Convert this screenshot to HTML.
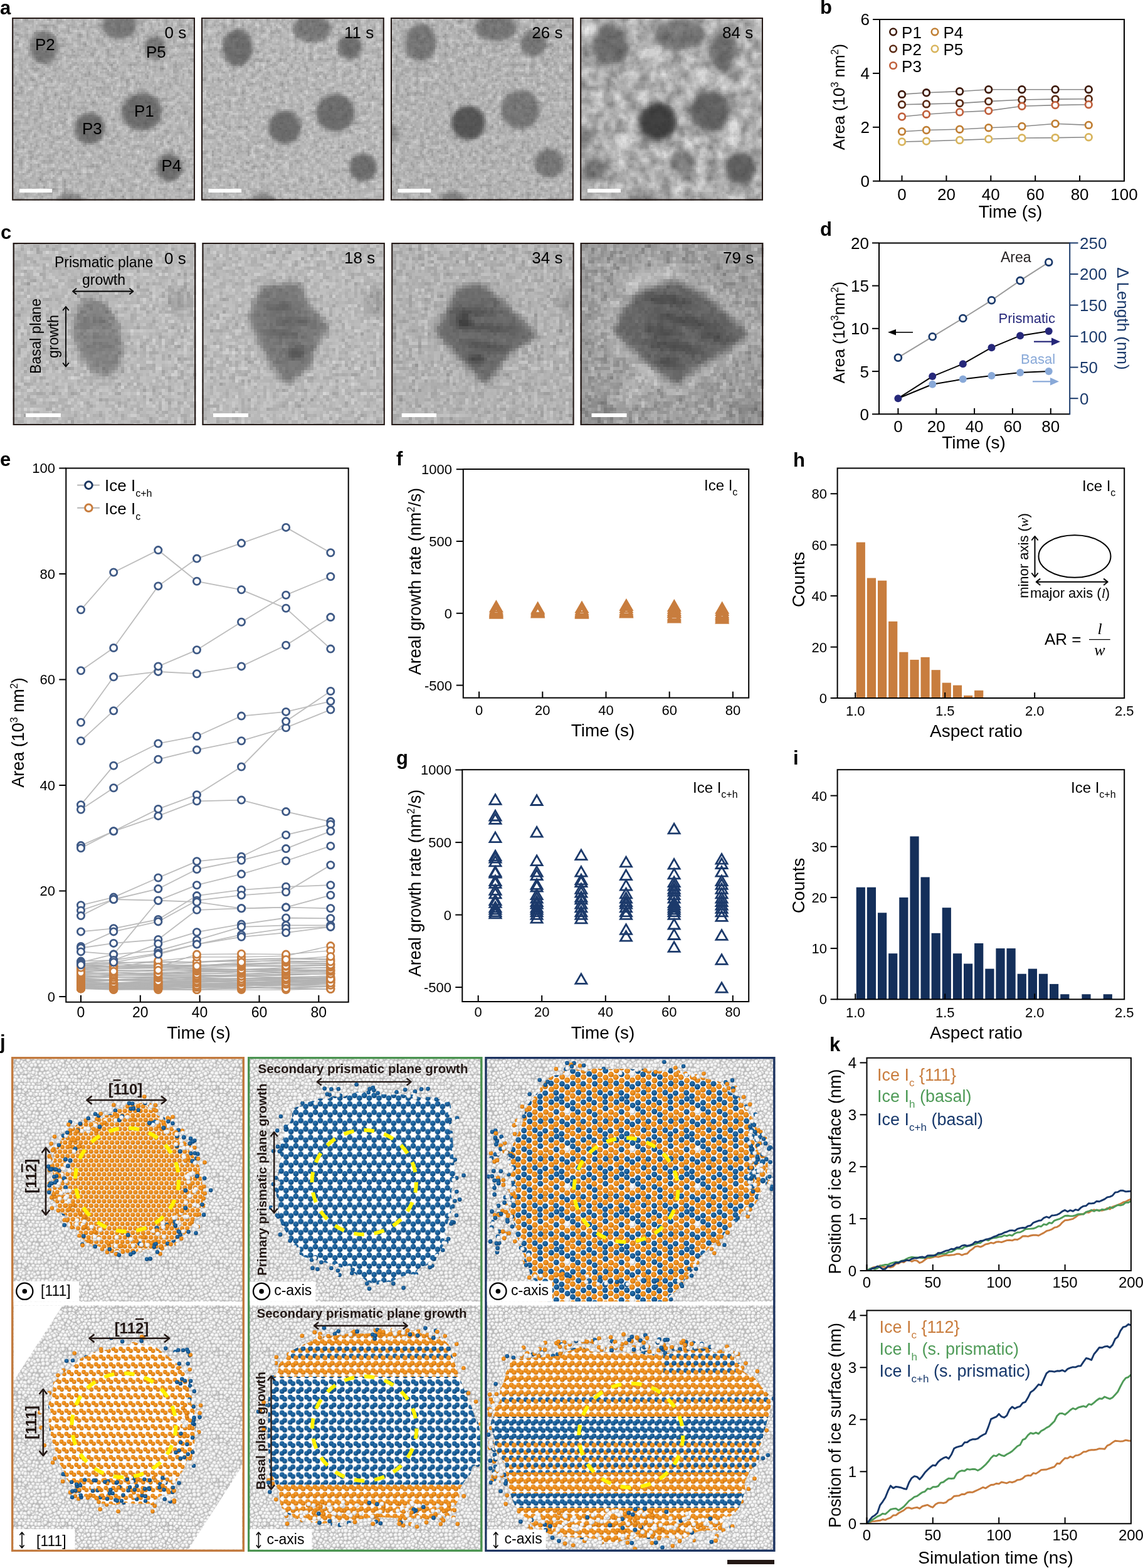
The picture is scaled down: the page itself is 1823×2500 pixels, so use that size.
<!DOCTYPE html>
<html><head><meta charset="utf-8"><title>Figure</title>
<style>
html,body{margin:0;padding:0;background:#fff;}
svg{display:block;font-family:'Liberation Sans', Arial, Helvetica, sans-serif;}
</style></head><body>
<svg width="1823" height="2500" viewBox="0 0 1823 2500">
<defs>
<clipPath id="tc0"><rect x="19.2" y="28" width="291.8" height="291.5"/></clipPath>
<filter id="tn0" x="0" y="0" width="100%" height="100%" color-interpolation-filters="sRGB"><feTurbulence type="fractalNoise" baseFrequency="0.13" numOctaves="2" seed="1"/><feColorMatrix type="matrix" values="0.3 0 0 0 0.575  0.3 0 0 0 0.575  0.3 0 0 0 0.575  0 0 0 0 1"/></filter>
<filter id="tb0" x="-20%" y="-20%" width="140%" height="140%"><feGaussianBlur stdDeviation="3"/></filter>
<filter id="ta0" x="0" y="0" width="100%" height="100%" color-interpolation-filters="sRGB"><feTurbulence type="fractalNoise" baseFrequency="0.16" numOctaves="2" seed="5"/><feColorMatrix type="matrix" values="0 0 0 0 0  0 0 0 0 0  0 0 0 0 0  1.1 0 0 0 -0.495"/></filter>
<filter id="tp0" x="19" y="28" width="293" height="293" filterUnits="userSpaceOnUse" color-interpolation-filters="sRGB"><feFlood x="19" y="28" width="1" height="1" flood-color="#000"/><feComposite width="3" height="3"/><feTile result="a"/><feComposite in="SourceGraphic" in2="a" operator="in"/><feMorphology operator="dilate" radius="1"/><feGaussianBlur stdDeviation="0.6"/></filter>
<clipPath id="tc1"><rect x="321" y="28" width="291.8" height="291.5"/></clipPath>
<filter id="tn1" x="0" y="0" width="100%" height="100%" color-interpolation-filters="sRGB"><feTurbulence type="fractalNoise" baseFrequency="0.13" numOctaves="2" seed="8"/><feColorMatrix type="matrix" values="0.3 0 0 0 0.580  0.3 0 0 0 0.580  0.3 0 0 0 0.580  0 0 0 0 1"/></filter>
<filter id="tb1" x="-20%" y="-20%" width="140%" height="140%"><feGaussianBlur stdDeviation="3"/></filter>
<filter id="ta1" x="0" y="0" width="100%" height="100%" color-interpolation-filters="sRGB"><feTurbulence type="fractalNoise" baseFrequency="0.16" numOctaves="2" seed="18"/><feColorMatrix type="matrix" values="0 0 0 0 0  0 0 0 0 0  0 0 0 0 0  1.1 0 0 0 -0.495"/></filter>
<filter id="tp1" x="321" y="28" width="293" height="293" filterUnits="userSpaceOnUse" color-interpolation-filters="sRGB"><feFlood x="321" y="28" width="1" height="1" flood-color="#000"/><feComposite width="3" height="3"/><feTile result="a"/><feComposite in="SourceGraphic" in2="a" operator="in"/><feMorphology operator="dilate" radius="1"/><feGaussianBlur stdDeviation="0.6"/></filter>
<clipPath id="tc2"><rect x="623" y="28" width="291.8" height="291.5"/></clipPath>
<filter id="tn2" x="0" y="0" width="100%" height="100%" color-interpolation-filters="sRGB"><feTurbulence type="fractalNoise" baseFrequency="0.13" numOctaves="2" seed="15"/><feColorMatrix type="matrix" values="0.3 0 0 0 0.565  0.3 0 0 0 0.565  0.3 0 0 0 0.565  0 0 0 0 1"/></filter>
<filter id="tb2" x="-20%" y="-20%" width="140%" height="140%"><feGaussianBlur stdDeviation="3"/></filter>
<filter id="ta2" x="0" y="0" width="100%" height="100%" color-interpolation-filters="sRGB"><feTurbulence type="fractalNoise" baseFrequency="0.16" numOctaves="2" seed="31"/><feColorMatrix type="matrix" values="0 0 0 0 0  0 0 0 0 0  0 0 0 0 0  1.1 0 0 0 -0.495"/></filter>
<filter id="tp2" x="623" y="28" width="293" height="293" filterUnits="userSpaceOnUse" color-interpolation-filters="sRGB"><feFlood x="623" y="28" width="1" height="1" flood-color="#000"/><feComposite width="3" height="3"/><feTile result="a"/><feComposite in="SourceGraphic" in2="a" operator="in"/><feMorphology operator="dilate" radius="1"/><feGaussianBlur stdDeviation="0.6"/></filter>
<clipPath id="tc3"><rect x="925.2" y="28" width="291.8" height="291.5"/></clipPath>
<filter id="tn3" x="0" y="0" width="100%" height="100%" color-interpolation-filters="sRGB"><feTurbulence type="fractalNoise" baseFrequency="0.055" numOctaves="2" seed="22"/><feColorMatrix type="matrix" values="0.5 0 0 0 0.445  0.5 0 0 0 0.445  0.5 0 0 0 0.445  0 0 0 0 1"/></filter>
<filter id="tb3" x="-20%" y="-20%" width="140%" height="140%"><feGaussianBlur stdDeviation="4"/></filter>
<filter id="ta3" x="0" y="0" width="100%" height="100%" color-interpolation-filters="sRGB"><feTurbulence type="fractalNoise" baseFrequency="0.16" numOctaves="2" seed="44"/><feColorMatrix type="matrix" values="0 0 0 0 0  0 0 0 0 0  0 0 0 0 0  1.1 0 0 0 -0.495"/></filter>
<filter id="tp3" x="925" y="28" width="293" height="293" filterUnits="userSpaceOnUse" color-interpolation-filters="sRGB"><feFlood x="925" y="28" width="1" height="1" flood-color="#000"/><feComposite width="3" height="3"/><feTile result="a"/><feComposite in="SourceGraphic" in2="a" operator="in"/><feMorphology operator="dilate" radius="1"/><feGaussianBlur stdDeviation="0.6"/></filter>
<clipPath id="tc10"><rect x="20.8" y="387" width="291.3" height="291"/></clipPath>
<filter id="tn10" x="0" y="0" width="100%" height="100%" color-interpolation-filters="sRGB"><feTurbulence type="fractalNoise" baseFrequency="0.12" numOctaves="2" seed="71"/><feColorMatrix type="matrix" values="0.3 0 0 0 0.595  0.3 0 0 0 0.595  0.3 0 0 0 0.595  0 0 0 0 1"/></filter>
<filter id="tb10" x="-20%" y="-20%" width="140%" height="140%"><feGaussianBlur stdDeviation="5"/></filter>
<filter id="ta10" x="0" y="0" width="100%" height="100%" color-interpolation-filters="sRGB"><feTurbulence type="fractalNoise" baseFrequency="0.16" numOctaves="2" seed="135"/><feColorMatrix type="matrix" values="0 0 0 0 0  0 0 0 0 0  0 0 0 0 0  1.1 0 0 0 -0.495"/></filter>
<filter id="tp10" x="20" y="387" width="293" height="293" filterUnits="userSpaceOnUse" color-interpolation-filters="sRGB"><feFlood x="20" y="387" width="1" height="1" flood-color="#000"/><feComposite width="5" height="5"/><feTile result="a"/><feComposite in="SourceGraphic" in2="a" operator="in"/><feMorphology operator="dilate" radius="2"/><feGaussianBlur stdDeviation="0.6"/></filter>
<clipPath id="tc11"><rect x="322.5" y="387" width="291.3" height="291"/></clipPath>
<filter id="tn11" x="0" y="0" width="100%" height="100%" color-interpolation-filters="sRGB"><feTurbulence type="fractalNoise" baseFrequency="0.12" numOctaves="2" seed="78"/><feColorMatrix type="matrix" values="0.3 0 0 0 0.595  0.3 0 0 0 0.595  0.3 0 0 0 0.595  0 0 0 0 1"/></filter>
<filter id="tb11" x="-20%" y="-20%" width="140%" height="140%"><feGaussianBlur stdDeviation="5"/></filter>
<filter id="ta11" x="0" y="0" width="100%" height="100%" color-interpolation-filters="sRGB"><feTurbulence type="fractalNoise" baseFrequency="0.16" numOctaves="2" seed="148"/><feColorMatrix type="matrix" values="0 0 0 0 0  0 0 0 0 0  0 0 0 0 0  1.1 0 0 0 -0.495"/></filter>
<filter id="tp11" x="322" y="387" width="293" height="293" filterUnits="userSpaceOnUse" color-interpolation-filters="sRGB"><feFlood x="322" y="387" width="1" height="1" flood-color="#000"/><feComposite width="5" height="5"/><feTile result="a"/><feComposite in="SourceGraphic" in2="a" operator="in"/><feMorphology operator="dilate" radius="2"/><feGaussianBlur stdDeviation="0.6"/></filter>
<clipPath id="tc12"><rect x="624.3" y="387" width="291.3" height="291"/></clipPath>
<filter id="tn12" x="0" y="0" width="100%" height="100%" color-interpolation-filters="sRGB"><feTurbulence type="fractalNoise" baseFrequency="0.12" numOctaves="2" seed="85"/><feColorMatrix type="matrix" values="0.3 0 0 0 0.565  0.3 0 0 0 0.565  0.3 0 0 0 0.565  0 0 0 0 1"/></filter>
<filter id="tb12" x="-20%" y="-20%" width="140%" height="140%"><feGaussianBlur stdDeviation="5"/></filter>
<filter id="ta12" x="0" y="0" width="100%" height="100%" color-interpolation-filters="sRGB"><feTurbulence type="fractalNoise" baseFrequency="0.16" numOctaves="2" seed="161"/><feColorMatrix type="matrix" values="0 0 0 0 0  0 0 0 0 0  0 0 0 0 0  1.1 0 0 0 -0.495"/></filter>
<filter id="tp12" x="624" y="387" width="293" height="293" filterUnits="userSpaceOnUse" color-interpolation-filters="sRGB"><feFlood x="624" y="387" width="1" height="1" flood-color="#000"/><feComposite width="5" height="5"/><feTile result="a"/><feComposite in="SourceGraphic" in2="a" operator="in"/><feMorphology operator="dilate" radius="2"/><feGaussianBlur stdDeviation="0.6"/></filter>
<clipPath id="tc13"><rect x="925.8" y="387" width="291.3" height="291"/></clipPath>
<filter id="tn13" x="0" y="0" width="100%" height="100%" color-interpolation-filters="sRGB"><feTurbulence type="fractalNoise" baseFrequency="0.1" numOctaves="2" seed="92"/><feColorMatrix type="matrix" values="0.4 0 0 0 0.435  0.4 0 0 0 0.435  0.4 0 0 0 0.435  0 0 0 0 1"/></filter>
<filter id="tb13" x="-20%" y="-20%" width="140%" height="140%"><feGaussianBlur stdDeviation="6"/></filter>
<filter id="ta13" x="0" y="0" width="100%" height="100%" color-interpolation-filters="sRGB"><feTurbulence type="fractalNoise" baseFrequency="0.16" numOctaves="2" seed="174"/><feColorMatrix type="matrix" values="0 0 0 0 0  0 0 0 0 0  0 0 0 0 0  1.1 0 0 0 -0.495"/></filter>
<filter id="tp13" x="925" y="387" width="293" height="293" filterUnits="userSpaceOnUse" color-interpolation-filters="sRGB"><feFlood x="925" y="387" width="1" height="1" flood-color="#000"/><feComposite width="5" height="5"/><feTile result="a"/><feComposite in="SourceGraphic" in2="a" operator="in"/><feMorphology operator="dilate" radius="2"/><feGaussianBlur stdDeviation="0.6"/></filter>
<radialGradient id="gW" cx="0.42" cy="0.38" r="0.62"><stop offset="0" stop-color="#ffffff"/><stop offset="0.55" stop-color="#eeeeee"/><stop offset="0.85" stop-color="#d6d6d6"/><stop offset="1" stop-color="#bdbdbd"/></radialGradient>
<radialGradient id="gO" cx="0.42" cy="0.38" r="0.62"><stop offset="0" stop-color="#f6a23a"/><stop offset="0.6" stop-color="#ea8712"/><stop offset="0.88" stop-color="#cf760e"/><stop offset="1" stop-color="#a5631f"/></radialGradient>
<radialGradient id="gB" cx="0.42" cy="0.38" r="0.62"><stop offset="0" stop-color="#2f78b0"/><stop offset="0.6" stop-color="#135894"/><stop offset="0.88" stop-color="#0e4a80"/><stop offset="1" stop-color="#0b3a66"/></radialGradient>
<radialGradient id="gWs" cx="0.42" cy="0.38" r="0.62"><stop offset="0" stop-color="#ffffff"/><stop offset="0.6" stop-color="#eeeeee"/><stop offset="1" stop-color="#b0b0b0"/></radialGradient>
<pattern id="pW" width="80.4" height="69.6" patternUnits="userSpaceOnUse"><rect width="80.4" height="69.6" fill="#c2c2c2"/><circle cx="-0.1" cy="0.2" r="4.1" fill="url(#gW)" stroke="#9c9c9c" stroke-width="0.55"/><circle cx="-0.1" cy="69.8" r="4.1" fill="url(#gW)" stroke="#9c9c9c" stroke-width="0.55"/><circle cx="80.3" cy="0.2" r="4.1" fill="url(#gW)" stroke="#9c9c9c" stroke-width="0.55"/><circle cx="80.3" cy="69.8" r="4.1" fill="url(#gW)" stroke="#9c9c9c" stroke-width="0.55"/><circle cx="6.6" cy="0" r="3.9" fill="url(#gW)" stroke="#9c9c9c" stroke-width="0.55"/><circle cx="6.6" cy="69.6" r="3.9" fill="url(#gW)" stroke="#9c9c9c" stroke-width="0.55"/><circle cx="12.6" cy="0" r="3.9" fill="url(#gW)" stroke="#9c9c9c" stroke-width="0.55"/><circle cx="12.6" cy="69.7" r="3.9" fill="url(#gW)" stroke="#9c9c9c" stroke-width="0.55"/><circle cx="20.9" cy="-1.1" r="3.7" fill="url(#gW)" stroke="#9c9c9c" stroke-width="0.55"/><circle cx="20.9" cy="68.6" r="3.7" fill="url(#gW)" stroke="#9c9c9c" stroke-width="0.55"/><circle cx="25.7" cy="0.8" r="3.9" fill="url(#gW)" stroke="#9c9c9c" stroke-width="0.55"/><circle cx="25.7" cy="70.4" r="3.9" fill="url(#gW)" stroke="#9c9c9c" stroke-width="0.55"/><circle cx="32.3" cy="1.3" r="4.1" fill="url(#gW)" stroke="#9c9c9c" stroke-width="0.55"/><circle cx="32.3" cy="70.9" r="4.1" fill="url(#gW)" stroke="#9c9c9c" stroke-width="0.55"/><circle cx="40.6" cy="0.3" r="3.6" fill="url(#gW)" stroke="#9c9c9c" stroke-width="0.55"/><circle cx="40.6" cy="69.9" r="3.6" fill="url(#gW)" stroke="#9c9c9c" stroke-width="0.55"/><circle cx="45.6" cy="0.1" r="3.5" fill="url(#gW)" stroke="#9c9c9c" stroke-width="0.55"/><circle cx="45.6" cy="69.7" r="3.5" fill="url(#gW)" stroke="#9c9c9c" stroke-width="0.55"/><circle cx="52.8" cy="-0.7" r="3.5" fill="url(#gW)" stroke="#9c9c9c" stroke-width="0.55"/><circle cx="52.8" cy="69" r="3.5" fill="url(#gW)" stroke="#9c9c9c" stroke-width="0.55"/><circle cx="60.2" cy="-0.2" r="4" fill="url(#gW)" stroke="#9c9c9c" stroke-width="0.55"/><circle cx="60.2" cy="69.5" r="4" fill="url(#gW)" stroke="#9c9c9c" stroke-width="0.55"/><circle cx="67" cy="0.4" r="3.8" fill="url(#gW)" stroke="#9c9c9c" stroke-width="0.55"/><circle cx="67" cy="70" r="3.8" fill="url(#gW)" stroke="#9c9c9c" stroke-width="0.55"/><circle cx="74.1" cy="-0.1" r="3.7" fill="url(#gW)" stroke="#9c9c9c" stroke-width="0.55"/><circle cx="74.1" cy="69.5" r="3.7" fill="url(#gW)" stroke="#9c9c9c" stroke-width="0.55"/><circle cx="4.6" cy="7.1" r="4" fill="url(#gW)" stroke="#9c9c9c" stroke-width="0.55"/><circle cx="10.6" cy="5.3" r="3.6" fill="url(#gW)" stroke="#9c9c9c" stroke-width="0.55"/><circle cx="16.2" cy="4.7" r="4" fill="url(#gW)" stroke="#9c9c9c" stroke-width="0.55"/><circle cx="23.2" cy="6.7" r="3.7" fill="url(#gW)" stroke="#9c9c9c" stroke-width="0.55"/><circle cx="31.3" cy="6.7" r="3.5" fill="url(#gW)" stroke="#9c9c9c" stroke-width="0.55"/><circle cx="36.1" cy="6.9" r="3.8" fill="url(#gW)" stroke="#9c9c9c" stroke-width="0.55"/><circle cx="44.8" cy="5.5" r="3.5" fill="url(#gW)" stroke="#9c9c9c" stroke-width="0.55"/><circle cx="50.6" cy="6.5" r="3.7" fill="url(#gW)" stroke="#9c9c9c" stroke-width="0.55"/><circle cx="55.9" cy="5.4" r="4.1" fill="url(#gW)" stroke="#9c9c9c" stroke-width="0.55"/><circle cx="64.3" cy="4.8" r="3.6" fill="url(#gW)" stroke="#9c9c9c" stroke-width="0.55"/><circle cx="69.3" cy="4.7" r="4" fill="url(#gW)" stroke="#9c9c9c" stroke-width="0.55"/><circle cx="76.2" cy="6" r="3.8" fill="url(#gW)" stroke="#9c9c9c" stroke-width="0.55"/><circle cx="-0.8" cy="12.2" r="3.6" fill="url(#gW)" stroke="#9c9c9c" stroke-width="0.55"/><circle cx="79.6" cy="12.2" r="3.6" fill="url(#gW)" stroke="#9c9c9c" stroke-width="0.55"/><circle cx="7.1" cy="10.6" r="3.8" fill="url(#gW)" stroke="#9c9c9c" stroke-width="0.55"/><circle cx="12.7" cy="11" r="4.1" fill="url(#gW)" stroke="#9c9c9c" stroke-width="0.55"/><circle cx="20.9" cy="11.1" r="4" fill="url(#gW)" stroke="#9c9c9c" stroke-width="0.55"/><circle cx="26" cy="11.3" r="4" fill="url(#gW)" stroke="#9c9c9c" stroke-width="0.55"/><circle cx="33.9" cy="10.6" r="4.1" fill="url(#gW)" stroke="#9c9c9c" stroke-width="0.55"/><circle cx="39.5" cy="11" r="4" fill="url(#gW)" stroke="#9c9c9c" stroke-width="0.55"/><circle cx="46.5" cy="11.1" r="3.5" fill="url(#gW)" stroke="#9c9c9c" stroke-width="0.55"/><circle cx="52.5" cy="11.8" r="3.6" fill="url(#gW)" stroke="#9c9c9c" stroke-width="0.55"/><circle cx="60.6" cy="11.3" r="3.8" fill="url(#gW)" stroke="#9c9c9c" stroke-width="0.55"/><circle cx="68.2" cy="11.6" r="3.8" fill="url(#gW)" stroke="#9c9c9c" stroke-width="0.55"/><circle cx="74.7" cy="10.8" r="3.6" fill="url(#gW)" stroke="#9c9c9c" stroke-width="0.55"/><circle cx="4.4" cy="18.2" r="3.6" fill="url(#gW)" stroke="#9c9c9c" stroke-width="0.55"/><circle cx="9.2" cy="18" r="4.1" fill="url(#gW)" stroke="#9c9c9c" stroke-width="0.55"/><circle cx="16" cy="18.6" r="4" fill="url(#gW)" stroke="#9c9c9c" stroke-width="0.55"/><circle cx="23.7" cy="17.2" r="3.6" fill="url(#gW)" stroke="#9c9c9c" stroke-width="0.55"/><circle cx="29" cy="18.6" r="3.6" fill="url(#gW)" stroke="#9c9c9c" stroke-width="0.55"/><circle cx="37.4" cy="16.8" r="4" fill="url(#gW)" stroke="#9c9c9c" stroke-width="0.55"/><circle cx="43.8" cy="16.9" r="3.6" fill="url(#gW)" stroke="#9c9c9c" stroke-width="0.55"/><circle cx="50.8" cy="16.3" r="3.6" fill="url(#gW)" stroke="#9c9c9c" stroke-width="0.55"/><circle cx="57.1" cy="18.3" r="3.9" fill="url(#gW)" stroke="#9c9c9c" stroke-width="0.55"/><circle cx="63.1" cy="18.5" r="3.6" fill="url(#gW)" stroke="#9c9c9c" stroke-width="0.55"/><circle cx="69.1" cy="16.8" r="3.8" fill="url(#gW)" stroke="#9c9c9c" stroke-width="0.55"/><circle cx="75.9" cy="16.6" r="3.7" fill="url(#gW)" stroke="#9c9c9c" stroke-width="0.55"/><circle cx="0.2" cy="22.3" r="3.7" fill="url(#gW)" stroke="#9c9c9c" stroke-width="0.55"/><circle cx="80.6" cy="22.3" r="3.7" fill="url(#gW)" stroke="#9c9c9c" stroke-width="0.55"/><circle cx="7.7" cy="24.5" r="3.9" fill="url(#gW)" stroke="#9c9c9c" stroke-width="0.55"/><circle cx="13.9" cy="23.4" r="3.6" fill="url(#gW)" stroke="#9c9c9c" stroke-width="0.55"/><circle cx="18.9" cy="22" r="4" fill="url(#gW)" stroke="#9c9c9c" stroke-width="0.55"/><circle cx="27.3" cy="24.4" r="3.5" fill="url(#gW)" stroke="#9c9c9c" stroke-width="0.55"/><circle cx="33.9" cy="23.2" r="3.9" fill="url(#gW)" stroke="#9c9c9c" stroke-width="0.55"/><circle cx="39.7" cy="24.5" r="3.5" fill="url(#gW)" stroke="#9c9c9c" stroke-width="0.55"/><circle cx="47" cy="23.8" r="4" fill="url(#gW)" stroke="#9c9c9c" stroke-width="0.55"/><circle cx="54.2" cy="23.7" r="4" fill="url(#gW)" stroke="#9c9c9c" stroke-width="0.55"/><circle cx="61.4" cy="22.8" r="3.9" fill="url(#gW)" stroke="#9c9c9c" stroke-width="0.55"/><circle cx="68" cy="24.2" r="3.8" fill="url(#gW)" stroke="#9c9c9c" stroke-width="0.55"/><circle cx="74.5" cy="24.2" r="3.8" fill="url(#gW)" stroke="#9c9c9c" stroke-width="0.55"/><circle cx="3.7" cy="28.7" r="3.8" fill="url(#gW)" stroke="#9c9c9c" stroke-width="0.55"/><circle cx="84.1" cy="28.7" r="3.8" fill="url(#gW)" stroke="#9c9c9c" stroke-width="0.55"/><circle cx="10.3" cy="27.9" r="3.9" fill="url(#gW)" stroke="#9c9c9c" stroke-width="0.55"/><circle cx="18" cy="30" r="3.9" fill="url(#gW)" stroke="#9c9c9c" stroke-width="0.55"/><circle cx="23.2" cy="29.6" r="3.8" fill="url(#gW)" stroke="#9c9c9c" stroke-width="0.55"/><circle cx="30" cy="29.9" r="3.6" fill="url(#gW)" stroke="#9c9c9c" stroke-width="0.55"/><circle cx="37.5" cy="27.8" r="3.9" fill="url(#gW)" stroke="#9c9c9c" stroke-width="0.55"/><circle cx="43.5" cy="28.3" r="3.9" fill="url(#gW)" stroke="#9c9c9c" stroke-width="0.55"/><circle cx="50.2" cy="29.3" r="4.1" fill="url(#gW)" stroke="#9c9c9c" stroke-width="0.55"/><circle cx="56.3" cy="27.7" r="3.7" fill="url(#gW)" stroke="#9c9c9c" stroke-width="0.55"/><circle cx="64.1" cy="28.2" r="3.6" fill="url(#gW)" stroke="#9c9c9c" stroke-width="0.55"/><circle cx="71.4" cy="29.4" r="3.8" fill="url(#gW)" stroke="#9c9c9c" stroke-width="0.55"/><circle cx="-2.3" cy="28.6" r="3.9" fill="url(#gW)" stroke="#9c9c9c" stroke-width="0.55"/><circle cx="78.1" cy="28.6" r="3.9" fill="url(#gW)" stroke="#9c9c9c" stroke-width="0.55"/><circle cx="-0.8" cy="34.6" r="4" fill="url(#gW)" stroke="#9c9c9c" stroke-width="0.55"/><circle cx="79.6" cy="34.6" r="4" fill="url(#gW)" stroke="#9c9c9c" stroke-width="0.55"/><circle cx="7.8" cy="35.8" r="3.7" fill="url(#gW)" stroke="#9c9c9c" stroke-width="0.55"/><circle cx="13.6" cy="34.3" r="3.6" fill="url(#gW)" stroke="#9c9c9c" stroke-width="0.55"/><circle cx="20.1" cy="35.7" r="4" fill="url(#gW)" stroke="#9c9c9c" stroke-width="0.55"/><circle cx="27.3" cy="36" r="3.7" fill="url(#gW)" stroke="#9c9c9c" stroke-width="0.55"/><circle cx="32.6" cy="34.7" r="3.7" fill="url(#gW)" stroke="#9c9c9c" stroke-width="0.55"/><circle cx="39.5" cy="34.6" r="3.9" fill="url(#gW)" stroke="#9c9c9c" stroke-width="0.55"/><circle cx="46.9" cy="34.3" r="4" fill="url(#gW)" stroke="#9c9c9c" stroke-width="0.55"/><circle cx="54.9" cy="34.7" r="3.5" fill="url(#gW)" stroke="#9c9c9c" stroke-width="0.55"/><circle cx="59.1" cy="35.8" r="3.5" fill="url(#gW)" stroke="#9c9c9c" stroke-width="0.55"/><circle cx="67.5" cy="35" r="3.7" fill="url(#gW)" stroke="#9c9c9c" stroke-width="0.55"/><circle cx="74.5" cy="33.6" r="3.6" fill="url(#gW)" stroke="#9c9c9c" stroke-width="0.55"/><circle cx="3.2" cy="39.4" r="4" fill="url(#gW)" stroke="#9c9c9c" stroke-width="0.55"/><circle cx="83.6" cy="39.4" r="4" fill="url(#gW)" stroke="#9c9c9c" stroke-width="0.55"/><circle cx="9.4" cy="39.7" r="3.5" fill="url(#gW)" stroke="#9c9c9c" stroke-width="0.55"/><circle cx="17.1" cy="40.5" r="3.9" fill="url(#gW)" stroke="#9c9c9c" stroke-width="0.55"/><circle cx="23.9" cy="41.4" r="4.1" fill="url(#gW)" stroke="#9c9c9c" stroke-width="0.55"/><circle cx="30.6" cy="39.8" r="3.8" fill="url(#gW)" stroke="#9c9c9c" stroke-width="0.55"/><circle cx="36" cy="39.3" r="3.8" fill="url(#gW)" stroke="#9c9c9c" stroke-width="0.55"/><circle cx="44.1" cy="39.8" r="3.7" fill="url(#gW)" stroke="#9c9c9c" stroke-width="0.55"/><circle cx="49.8" cy="41.1" r="3.8" fill="url(#gW)" stroke="#9c9c9c" stroke-width="0.55"/><circle cx="57.2" cy="41.3" r="3.7" fill="url(#gW)" stroke="#9c9c9c" stroke-width="0.55"/><circle cx="64.4" cy="41.7" r="3.6" fill="url(#gW)" stroke="#9c9c9c" stroke-width="0.55"/><circle cx="71.5" cy="41.2" r="3.6" fill="url(#gW)" stroke="#9c9c9c" stroke-width="0.55"/><circle cx="-3.5" cy="40.9" r="4" fill="url(#gW)" stroke="#9c9c9c" stroke-width="0.55"/><circle cx="76.9" cy="40.9" r="4" fill="url(#gW)" stroke="#9c9c9c" stroke-width="0.55"/><circle cx="-0.3" cy="46.6" r="4" fill="url(#gW)" stroke="#9c9c9c" stroke-width="0.55"/><circle cx="80.1" cy="46.6" r="4" fill="url(#gW)" stroke="#9c9c9c" stroke-width="0.55"/><circle cx="7.5" cy="47.6" r="3.8" fill="url(#gW)" stroke="#9c9c9c" stroke-width="0.55"/><circle cx="13.8" cy="45.7" r="3.9" fill="url(#gW)" stroke="#9c9c9c" stroke-width="0.55"/><circle cx="20.9" cy="46.8" r="3.9" fill="url(#gW)" stroke="#9c9c9c" stroke-width="0.55"/><circle cx="26.1" cy="47.5" r="4.1" fill="url(#gW)" stroke="#9c9c9c" stroke-width="0.55"/><circle cx="34.7" cy="46.5" r="4" fill="url(#gW)" stroke="#9c9c9c" stroke-width="0.55"/><circle cx="39.7" cy="47.5" r="4" fill="url(#gW)" stroke="#9c9c9c" stroke-width="0.55"/><circle cx="46.5" cy="45.3" r="3.8" fill="url(#gW)" stroke="#9c9c9c" stroke-width="0.55"/><circle cx="53.7" cy="47.1" r="3.8" fill="url(#gW)" stroke="#9c9c9c" stroke-width="0.55"/><circle cx="59.1" cy="47.2" r="3.5" fill="url(#gW)" stroke="#9c9c9c" stroke-width="0.55"/><circle cx="67.8" cy="45.6" r="3.7" fill="url(#gW)" stroke="#9c9c9c" stroke-width="0.55"/><circle cx="74.4" cy="45.5" r="3.6" fill="url(#gW)" stroke="#9c9c9c" stroke-width="0.55"/><circle cx="3.4" cy="52.8" r="4" fill="url(#gW)" stroke="#9c9c9c" stroke-width="0.55"/><circle cx="83.8" cy="52.8" r="4" fill="url(#gW)" stroke="#9c9c9c" stroke-width="0.55"/><circle cx="10.5" cy="53.4" r="3.8" fill="url(#gW)" stroke="#9c9c9c" stroke-width="0.55"/><circle cx="17.9" cy="51.1" r="3.6" fill="url(#gW)" stroke="#9c9c9c" stroke-width="0.55"/><circle cx="23.5" cy="51.7" r="3.9" fill="url(#gW)" stroke="#9c9c9c" stroke-width="0.55"/><circle cx="30.5" cy="52.3" r="4" fill="url(#gW)" stroke="#9c9c9c" stroke-width="0.55"/><circle cx="37" cy="51.7" r="3.7" fill="url(#gW)" stroke="#9c9c9c" stroke-width="0.55"/><circle cx="44.4" cy="53.3" r="3.6" fill="url(#gW)" stroke="#9c9c9c" stroke-width="0.55"/><circle cx="51.2" cy="53.4" r="3.8" fill="url(#gW)" stroke="#9c9c9c" stroke-width="0.55"/><circle cx="57.1" cy="51.4" r="3.8" fill="url(#gW)" stroke="#9c9c9c" stroke-width="0.55"/><circle cx="63.7" cy="52.5" r="3.5" fill="url(#gW)" stroke="#9c9c9c" stroke-width="0.55"/><circle cx="71.6" cy="52.3" r="3.7" fill="url(#gW)" stroke="#9c9c9c" stroke-width="0.55"/><circle cx="-2.6" cy="52.4" r="3.8" fill="url(#gW)" stroke="#9c9c9c" stroke-width="0.55"/><circle cx="77.8" cy="52.4" r="3.8" fill="url(#gW)" stroke="#9c9c9c" stroke-width="0.55"/><circle cx="0.5" cy="56.9" r="3.8" fill="url(#gW)" stroke="#9c9c9c" stroke-width="0.55"/><circle cx="80.9" cy="56.9" r="3.8" fill="url(#gW)" stroke="#9c9c9c" stroke-width="0.55"/><circle cx="6.5" cy="59.2" r="4.1" fill="url(#gW)" stroke="#9c9c9c" stroke-width="0.55"/><circle cx="12.8" cy="58" r="3.6" fill="url(#gW)" stroke="#9c9c9c" stroke-width="0.55"/><circle cx="19.9" cy="58.8" r="4" fill="url(#gW)" stroke="#9c9c9c" stroke-width="0.55"/><circle cx="26.7" cy="57.5" r="3.6" fill="url(#gW)" stroke="#9c9c9c" stroke-width="0.55"/><circle cx="33.8" cy="59.1" r="3.6" fill="url(#gW)" stroke="#9c9c9c" stroke-width="0.55"/><circle cx="40.9" cy="56.8" r="3.6" fill="url(#gW)" stroke="#9c9c9c" stroke-width="0.55"/><circle cx="46.2" cy="58.5" r="3.7" fill="url(#gW)" stroke="#9c9c9c" stroke-width="0.55"/><circle cx="53.2" cy="58.3" r="3.6" fill="url(#gW)" stroke="#9c9c9c" stroke-width="0.55"/><circle cx="60.9" cy="57" r="3.8" fill="url(#gW)" stroke="#9c9c9c" stroke-width="0.55"/><circle cx="66.4" cy="57.2" r="3.8" fill="url(#gW)" stroke="#9c9c9c" stroke-width="0.55"/><circle cx="73.5" cy="57.7" r="3.7" fill="url(#gW)" stroke="#9c9c9c" stroke-width="0.55"/><circle cx="3.4" cy="62.9" r="3.6" fill="url(#gW)" stroke="#9c9c9c" stroke-width="0.55"/><circle cx="83.8" cy="62.9" r="3.6" fill="url(#gW)" stroke="#9c9c9c" stroke-width="0.55"/><circle cx="10.4" cy="64.2" r="3.8" fill="url(#gW)" stroke="#9c9c9c" stroke-width="0.55"/><circle cx="17.7" cy="64.1" r="4" fill="url(#gW)" stroke="#9c9c9c" stroke-width="0.55"/><circle cx="22.8" cy="64.5" r="4" fill="url(#gW)" stroke="#9c9c9c" stroke-width="0.55"/><circle cx="31.2" cy="63.3" r="3.7" fill="url(#gW)" stroke="#9c9c9c" stroke-width="0.55"/><circle cx="37.9" cy="63.1" r="4.1" fill="url(#gW)" stroke="#9c9c9c" stroke-width="0.55"/><circle cx="44.6" cy="62.9" r="3.6" fill="url(#gW)" stroke="#9c9c9c" stroke-width="0.55"/><circle cx="50.8" cy="63.2" r="3.6" fill="url(#gW)" stroke="#9c9c9c" stroke-width="0.55"/><circle cx="57.8" cy="63.6" r="4" fill="url(#gW)" stroke="#9c9c9c" stroke-width="0.55"/><circle cx="62.7" cy="63.6" r="3.9" fill="url(#gW)" stroke="#9c9c9c" stroke-width="0.55"/><circle cx="69.1" cy="63" r="3.9" fill="url(#gW)" stroke="#9c9c9c" stroke-width="0.55"/><circle cx="-2.3" cy="65" r="3.6" fill="url(#gW)" stroke="#9c9c9c" stroke-width="0.55"/><circle cx="78.1" cy="65" r="3.6" fill="url(#gW)" stroke="#9c9c9c" stroke-width="0.55"/><circle cx="40.7" cy="52.8" r="3.5" fill="url(#gW)" stroke="#9c9c9c" stroke-width="0.55"/><circle cx="55.1" cy="13.2" r="3.2" fill="url(#gW)" stroke="#9c9c9c" stroke-width="0.55"/><circle cx="8.5" cy="2.6" r="3.5" fill="url(#gW)" stroke="#9c9c9c" stroke-width="0.55"/><circle cx="8.5" cy="72.2" r="3.5" fill="url(#gW)" stroke="#9c9c9c" stroke-width="0.55"/><circle cx="41.4" cy="39.6" r="3.3" fill="url(#gW)" stroke="#9c9c9c" stroke-width="0.55"/><circle cx="14.8" cy="14.2" r="3.7" fill="url(#gW)" stroke="#9c9c9c" stroke-width="0.55"/><circle cx="-0.8" cy="64.5" r="3.3" fill="url(#gW)" stroke="#9c9c9c" stroke-width="0.55"/><circle cx="79.6" cy="64.5" r="3.3" fill="url(#gW)" stroke="#9c9c9c" stroke-width="0.55"/><circle cx="5" cy="-3.4" r="3.5" fill="url(#gW)" stroke="#9c9c9c" stroke-width="0.55"/><circle cx="5" cy="66.3" r="3.5" fill="url(#gW)" stroke="#9c9c9c" stroke-width="0.55"/><circle cx="61.5" cy="22.8" r="3.5" fill="url(#gW)" stroke="#9c9c9c" stroke-width="0.55"/><circle cx="41.4" cy="29.9" r="3.6" fill="url(#gW)" stroke="#9c9c9c" stroke-width="0.55"/><circle cx="1.1" cy="48.8" r="3.7" fill="url(#gW)" stroke="#9c9c9c" stroke-width="0.55"/><circle cx="81.5" cy="48.8" r="3.7" fill="url(#gW)" stroke="#9c9c9c" stroke-width="0.55"/><circle cx="14.6" cy="31.6" r="3.6" fill="url(#gW)" stroke="#9c9c9c" stroke-width="0.55"/><circle cx="32.6" cy="13.6" r="3.3" fill="url(#gW)" stroke="#9c9c9c" stroke-width="0.55"/><circle cx="41.2" cy="1.1" r="3.7" fill="url(#gW)" stroke="#9c9c9c" stroke-width="0.55"/><circle cx="41.2" cy="70.7" r="3.7" fill="url(#gW)" stroke="#9c9c9c" stroke-width="0.55"/><circle cx="64.5" cy="49.1" r="3.7" fill="url(#gW)" stroke="#9c9c9c" stroke-width="0.55"/><circle cx="50.6" cy="28.2" r="3.6" fill="url(#gW)" stroke="#9c9c9c" stroke-width="0.55"/><circle cx="40.5" cy="-1.2" r="3.7" fill="url(#gW)" stroke="#9c9c9c" stroke-width="0.55"/><circle cx="40.5" cy="68.4" r="3.7" fill="url(#gW)" stroke="#9c9c9c" stroke-width="0.55"/><circle cx="20.8" cy="63.5" r="3.6" fill="url(#gW)" stroke="#9c9c9c" stroke-width="0.55"/><circle cx="62.6" cy="56.7" r="3.4" fill="url(#gW)" stroke="#9c9c9c" stroke-width="0.55"/><circle cx="72.1" cy="61.3" r="3.6" fill="url(#gW)" stroke="#9c9c9c" stroke-width="0.55"/><circle cx="61.7" cy="53.3" r="3.4" fill="url(#gW)" stroke="#9c9c9c" stroke-width="0.55"/><circle cx="58.1" cy="4.9" r="3.4" fill="url(#gW)" stroke="#9c9c9c" stroke-width="0.55"/><circle cx="37.7" cy="0.7" r="3.4" fill="url(#gW)" stroke="#9c9c9c" stroke-width="0.55"/><circle cx="37.7" cy="70.4" r="3.4" fill="url(#gW)" stroke="#9c9c9c" stroke-width="0.55"/><circle cx="51.4" cy="43.4" r="3.3" fill="url(#gW)" stroke="#9c9c9c" stroke-width="0.55"/><circle cx="76" cy="46.4" r="3.4" fill="url(#gW)" stroke="#9c9c9c" stroke-width="0.55"/><circle cx="53" cy="39.7" r="3.5" fill="url(#gW)" stroke="#9c9c9c" stroke-width="0.55"/><circle cx="31.3" cy="-0" r="3.6" fill="url(#gW)" stroke="#9c9c9c" stroke-width="0.55"/><circle cx="31.3" cy="69.6" r="3.6" fill="url(#gW)" stroke="#9c9c9c" stroke-width="0.55"/><circle cx="56.4" cy="53" r="3.8" fill="url(#gW)" stroke="#9c9c9c" stroke-width="0.55"/><circle cx="1.8" cy="42.8" r="3.6" fill="url(#gW)" stroke="#9c9c9c" stroke-width="0.55"/><circle cx="82.2" cy="42.8" r="3.6" fill="url(#gW)" stroke="#9c9c9c" stroke-width="0.55"/><circle cx="20.6" cy="28" r="3.2" fill="url(#gW)" stroke="#9c9c9c" stroke-width="0.55"/><circle cx="15.7" cy="26.2" r="3.3" fill="url(#gW)" stroke="#9c9c9c" stroke-width="0.55"/><circle cx="20.2" cy="63.1" r="3.5" fill="url(#gW)" stroke="#9c9c9c" stroke-width="0.55"/><circle cx="40.8" cy="-2.3" r="3.5" fill="url(#gW)" stroke="#9c9c9c" stroke-width="0.55"/><circle cx="40.8" cy="67.3" r="3.5" fill="url(#gW)" stroke="#9c9c9c" stroke-width="0.55"/><circle cx="-0.4" cy="44.4" r="3.7" fill="url(#gW)" stroke="#9c9c9c" stroke-width="0.55"/><circle cx="80" cy="44.4" r="3.7" fill="url(#gW)" stroke="#9c9c9c" stroke-width="0.55"/><circle cx="6.1" cy="41.6" r="3.7" fill="url(#gW)" stroke="#9c9c9c" stroke-width="0.55"/><circle cx="3.6" cy="64.8" r="3.3" fill="url(#gW)" stroke="#9c9c9c" stroke-width="0.55"/><circle cx="37.9" cy="11.8" r="3.5" fill="url(#gW)" stroke="#9c9c9c" stroke-width="0.55"/><circle cx="49.1" cy="4.1" r="3.8" fill="url(#gW)" stroke="#9c9c9c" stroke-width="0.55"/><circle cx="33.8" cy="36.7" r="3.6" fill="url(#gW)" stroke="#9c9c9c" stroke-width="0.55"/><circle cx="29.4" cy="19.9" r="3.6" fill="url(#gW)" stroke="#9c9c9c" stroke-width="0.55"/><circle cx="45.1" cy="19.7" r="3.6" fill="url(#gW)" stroke="#9c9c9c" stroke-width="0.55"/><circle cx="23.8" cy="1" r="3.3" fill="url(#gW)" stroke="#9c9c9c" stroke-width="0.55"/><circle cx="23.8" cy="70.6" r="3.3" fill="url(#gW)" stroke="#9c9c9c" stroke-width="0.55"/><circle cx="3.4" cy="10.9" r="3.7" fill="url(#gW)" stroke="#9c9c9c" stroke-width="0.55"/><circle cx="83.8" cy="10.9" r="3.7" fill="url(#gW)" stroke="#9c9c9c" stroke-width="0.55"/><circle cx="31.4" cy="62.5" r="3.6" fill="url(#gW)" stroke="#9c9c9c" stroke-width="0.55"/><circle cx="4" cy="-0.8" r="3.8" fill="url(#gW)" stroke="#9c9c9c" stroke-width="0.55"/><circle cx="4" cy="68.8" r="3.8" fill="url(#gW)" stroke="#9c9c9c" stroke-width="0.55"/><circle cx="5.9" cy="63.1" r="3.5" fill="url(#gW)" stroke="#9c9c9c" stroke-width="0.55"/></pattern>
<pattern id="pO" width="8.3" height="14.4" patternUnits="userSpaceOnUse"><rect width="8.3" height="14.4" fill="#fff"/><circle cx="0" cy="0" r="3.6" fill="url(#gO)"/><circle cx="0" cy="14.4" r="3.6" fill="url(#gO)"/><circle cx="8.3" cy="0" r="3.6" fill="url(#gO)"/><circle cx="8.3" cy="14.4" r="3.6" fill="url(#gO)"/><circle cx="4.2" cy="7.2" r="3.6" fill="url(#gO)"/></pattern>
<pattern id="pH" width="15.6" height="26.8" patternUnits="userSpaceOnUse"><rect width="15.6" height="26.8" fill="#fff"/><circle cx="3.9" cy="4.5" r="4.4" fill="url(#gB)"/><circle cx="19.5" cy="4.5" r="4.4" fill="url(#gB)"/><circle cx="-3.9" cy="8.9" r="4.4" fill="url(#gB)"/><circle cx="11.7" cy="8.9" r="4.4" fill="url(#gB)"/><circle cx="3.9" cy="22.3" r="4.4" fill="url(#gB)"/><circle cx="19.5" cy="22.3" r="4.4" fill="url(#gB)"/><circle cx="-3.9" cy="17.9" r="4.4" fill="url(#gB)"/><circle cx="11.7" cy="17.9" r="4.4" fill="url(#gB)"/></pattern>
<pattern id="pM" width="103.9" height="60" patternUnits="userSpaceOnUse"><rect width="103.9" height="60" fill="#fff"/><circle cx="4.5" cy="2.5" r="4.5" fill="url(#gB)"/><circle cx="4.5" cy="62.5" r="4.5" fill="url(#gB)"/><circle cx="108.4" cy="2.5" r="4.5" fill="url(#gB)"/><circle cx="108.4" cy="62.5" r="4.5" fill="url(#gB)"/><circle cx="4.7" cy="12.5" r="4.5" fill="url(#gB)"/><circle cx="3.7" cy="22.3" r="4.5" fill="url(#gO)"/><circle cx="107.7" cy="22.3" r="4.5" fill="url(#gO)"/><circle cx="4.7" cy="32.2" r="4.5" fill="url(#gB)"/><circle cx="4.9" cy="42.8" r="4.5" fill="url(#gO)"/><circle cx="3.8" cy="52.3" r="4.5" fill="url(#gO)"/><circle cx="107.7" cy="52.3" r="4.5" fill="url(#gO)"/><circle cx="13.5" cy="7.3" r="4.5" fill="url(#gO)"/><circle cx="12.5" cy="18" r="4.5" fill="url(#gB)"/><circle cx="12.8" cy="27.5" r="4.5" fill="url(#gO)"/><circle cx="13.4" cy="37.2" r="4.5" fill="url(#gB)"/><circle cx="13.6" cy="48" r="4.5" fill="url(#gB)"/><circle cx="13.1" cy="-2.2" r="4.5" fill="url(#gO)"/><circle cx="13.1" cy="57.8" r="4.5" fill="url(#gO)"/><circle cx="22" cy="2.1" r="4.5" fill="url(#gB)"/><circle cx="22" cy="62.1" r="4.5" fill="url(#gB)"/><circle cx="21.5" cy="12.3" r="4.5" fill="url(#gO)"/><circle cx="22.2" cy="22.4" r="4.5" fill="url(#gO)"/><circle cx="21.9" cy="33.1" r="4.5" fill="url(#gO)"/><circle cx="21.7" cy="42.8" r="4.5" fill="url(#gO)"/><circle cx="21.7" cy="52.6" r="4.5" fill="url(#gO)"/><circle cx="30.1" cy="8" r="4.5" fill="url(#gB)"/><circle cx="30.1" cy="17" r="4.5" fill="url(#gB)"/><circle cx="30.6" cy="27.3" r="4.5" fill="url(#gB)"/><circle cx="30.8" cy="38" r="4.5" fill="url(#gO)"/><circle cx="30.9" cy="47.6" r="4.5" fill="url(#gB)"/><circle cx="30.2" cy="-2.8" r="4.5" fill="url(#gO)"/><circle cx="30.2" cy="57.2" r="4.5" fill="url(#gO)"/><circle cx="38.5" cy="2.9" r="4.5" fill="url(#gB)"/><circle cx="38.5" cy="62.9" r="4.5" fill="url(#gB)"/><circle cx="39.4" cy="12" r="4.5" fill="url(#gO)"/><circle cx="38.9" cy="22.1" r="4.5" fill="url(#gO)"/><circle cx="39.4" cy="33.1" r="4.5" fill="url(#gO)"/><circle cx="38.7" cy="43.1" r="4.5" fill="url(#gO)"/><circle cx="38.4" cy="52.2" r="4.5" fill="url(#gO)"/><circle cx="48.1" cy="7.6" r="4.5" fill="url(#gO)"/><circle cx="48" cy="17.3" r="4.5" fill="url(#gB)"/><circle cx="48" cy="26.9" r="4.5" fill="url(#gO)"/><circle cx="47.1" cy="37.6" r="4.5" fill="url(#gO)"/><circle cx="47.7" cy="47.2" r="4.5" fill="url(#gB)"/><circle cx="48.1" cy="-2.9" r="4.5" fill="url(#gO)"/><circle cx="48.1" cy="57.1" r="4.5" fill="url(#gO)"/><circle cx="55.7" cy="2.4" r="4.5" fill="url(#gB)"/><circle cx="55.7" cy="62.4" r="4.5" fill="url(#gB)"/><circle cx="56.5" cy="12.1" r="4.5" fill="url(#gB)"/><circle cx="56.3" cy="22.2" r="4.5" fill="url(#gO)"/><circle cx="56.1" cy="32.8" r="4.5" fill="url(#gB)"/><circle cx="56.5" cy="42.9" r="4.5" fill="url(#gO)"/><circle cx="55.7" cy="52.5" r="4.5" fill="url(#gO)"/><circle cx="64.6" cy="7.8" r="4.5" fill="url(#gB)"/><circle cx="64.7" cy="17" r="4.5" fill="url(#gB)"/><circle cx="65.4" cy="27.3" r="4.5" fill="url(#gO)"/><circle cx="65.5" cy="37" r="4.5" fill="url(#gO)"/><circle cx="65.2" cy="48.1" r="4.5" fill="url(#gB)"/><circle cx="65" cy="-2.4" r="4.5" fill="url(#gO)"/><circle cx="65" cy="57.6" r="4.5" fill="url(#gO)"/><circle cx="74.2" cy="2.3" r="4.5" fill="url(#gO)"/><circle cx="74.2" cy="62.3" r="4.5" fill="url(#gO)"/><circle cx="73.1" cy="12" r="4.5" fill="url(#gO)"/><circle cx="73.9" cy="22.4" r="4.5" fill="url(#gB)"/><circle cx="73.8" cy="32.4" r="4.5" fill="url(#gWs)"/><circle cx="73.5" cy="42.2" r="4.5" fill="url(#gO)"/><circle cx="73.3" cy="52.7" r="4.5" fill="url(#gB)"/><circle cx="82.2" cy="7.2" r="4.5" fill="url(#gO)"/><circle cx="82.4" cy="18.1" r="4.5" fill="url(#gB)"/><circle cx="82.3" cy="27.8" r="4.5" fill="url(#gB)"/><circle cx="82.4" cy="37.8" r="4.5" fill="url(#gO)"/><circle cx="82.5" cy="47.7" r="4.5" fill="url(#gB)"/><circle cx="82.1" cy="-2.4" r="4.5" fill="url(#gO)"/><circle cx="82.1" cy="57.6" r="4.5" fill="url(#gO)"/><circle cx="91.5" cy="1.9" r="4.5" fill="url(#gB)"/><circle cx="91.5" cy="61.9" r="4.5" fill="url(#gB)"/><circle cx="90.8" cy="12.1" r="4.5" fill="url(#gO)"/><circle cx="90.7" cy="23" r="4.5" fill="url(#gO)"/><circle cx="90.5" cy="33" r="4.5" fill="url(#gB)"/><circle cx="90.7" cy="42.7" r="4.5" fill="url(#gO)"/><circle cx="91.5" cy="52.3" r="4.5" fill="url(#gO)"/><circle cx="99.2" cy="7.7" r="4.5" fill="url(#gO)"/><circle cx="99.3" cy="17.4" r="4.5" fill="url(#gB)"/><circle cx="-4.4" cy="27.6" r="4.5" fill="url(#gO)"/><circle cx="99.5" cy="27.6" r="4.5" fill="url(#gO)"/><circle cx="-4.5" cy="37.2" r="4.5" fill="url(#gO)"/><circle cx="99.5" cy="37.2" r="4.5" fill="url(#gO)"/><circle cx="99" cy="47.9" r="4.5" fill="url(#gB)"/><circle cx="99" cy="-2.5" r="4.5" fill="url(#gO)"/><circle cx="99" cy="57.5" r="4.5" fill="url(#gO)"/></pattern>
<pattern id="pOP" width="11.8" height="37" patternUnits="userSpaceOnUse"><rect width="11.8" height="37" fill="#fff"/><circle cx="3.7" cy="4.5" r="3.4" fill="url(#gO)"/><circle cx="8.1" cy="7.8" r="3.4" fill="url(#gO)"/><circle cx="7.6" cy="16.9" r="3.4" fill="url(#gO)"/><circle cx="0.2" cy="20.2" r="3.4" fill="url(#gO)"/><circle cx="12" cy="20.2" r="3.4" fill="url(#gO)"/><circle cx="-0.2" cy="29.2" r="3.4" fill="url(#gO)"/><circle cx="11.6" cy="29.2" r="3.4" fill="url(#gO)"/><circle cx="4.2" cy="32.5" r="3.4" fill="url(#gO)"/></pattern>
<pattern id="pOC" width="11.6" height="23.2" patternUnits="userSpaceOnUse"><rect width="11.6" height="23.2" fill="#fff"/><circle cx="3.6" cy="4.3" r="3.9" fill="url(#gO)"/><circle cx="15.2" cy="4.3" r="3.9" fill="url(#gO)"/><circle cx="-3.7" cy="7.3" r="3.9" fill="url(#gO)"/><circle cx="7.9" cy="7.3" r="3.9" fill="url(#gO)"/><circle cx="3.6" cy="18.9" r="3.9" fill="url(#gO)"/><circle cx="15.2" cy="18.9" r="3.9" fill="url(#gO)"/><circle cx="-3.7" cy="15.9" r="3.9" fill="url(#gO)"/><circle cx="7.9" cy="15.9" r="3.9" fill="url(#gO)"/></pattern>
<pattern id="pBC" width="11.6" height="23.2" patternUnits="userSpaceOnUse"><rect width="11.6" height="23.2" fill="#fff"/><circle cx="3.6" cy="4.3" r="3.9" fill="url(#gB)"/><circle cx="15.2" cy="4.3" r="3.9" fill="url(#gB)"/><circle cx="-3.7" cy="7.3" r="3.9" fill="url(#gB)"/><circle cx="7.9" cy="7.3" r="3.9" fill="url(#gB)"/><circle cx="3.6" cy="18.9" r="3.9" fill="url(#gB)"/><circle cx="15.2" cy="18.9" r="3.9" fill="url(#gB)"/><circle cx="-3.7" cy="15.9" r="3.9" fill="url(#gB)"/><circle cx="7.9" cy="15.9" r="3.9" fill="url(#gB)"/></pattern>
<pattern id="pBP" width="13.1" height="24.7" patternUnits="userSpaceOnUse"><rect width="13.1" height="24.7" fill="#fff"/><circle cx="4.4" cy="4.6" r="3.9" fill="url(#gB)"/><circle cx="8.7" cy="7.7" r="3.9" fill="url(#gB)"/><circle cx="4.4" cy="20.1" r="3.9" fill="url(#gB)"/><circle cx="8.7" cy="17" r="3.9" fill="url(#gB)"/></pattern>
<pattern id="pXC" width="11.6" height="23.2" patternUnits="userSpaceOnUse"><rect width="11.6" height="23.2" fill="#fff"/><circle cx="3.6" cy="4.3" r="3.9" fill="url(#gB)"/><circle cx="15.2" cy="4.3" r="3.9" fill="url(#gB)"/><circle cx="-3.7" cy="7.3" r="3.9" fill="url(#gO)"/><circle cx="7.9" cy="7.3" r="3.9" fill="url(#gO)"/><circle cx="3.6" cy="18.9" r="3.9" fill="url(#gO)"/><circle cx="15.2" cy="18.9" r="3.9" fill="url(#gO)"/><circle cx="-3.7" cy="15.9" r="3.9" fill="url(#gB)"/><circle cx="7.9" cy="15.9" r="3.9" fill="url(#gB)"/></pattern>
<clipPath id="c_j1t"><rect x="21.4" y="1688.4" width="365.2" height="386.9"/></clipPath>
<clipPath id="c_j1b"><rect x="21.4" y="2081.3" width="365.2" height="389.3"/></clipPath>
<clipPath id="c_j2t"><rect x="398.4" y="1688.4" width="367.7" height="386.9"/></clipPath>
<clipPath id="c_j2b"><rect x="398.4" y="2081.3" width="367.7" height="389.3"/></clipPath>
<clipPath id="c_j3t"><rect x="776.7" y="1688.4" width="456.4" height="386.9"/></clipPath>
<clipPath id="c_j3b"><rect x="776.7" y="2081.3" width="456.4" height="389.3"/></clipPath>
</defs>
<rect width="1823" height="2500" fill="#fff"/>
<g clip-path="url(#tc0)">
<g filter="url(#tp0)">
<rect x="19.2" y="28" width="291.8" height="291.5" filter="url(#tn0)"/>
<g filter="url(#tb0)">
<ellipse cx="70.2" cy="76" rx="22" ry="27" fill="#505050" opacity="0.6"/>
<ellipse cx="190.2" cy="40" rx="28" ry="22" fill="#505050" opacity="0.6"/>
<ellipse cx="247.2" cy="76" rx="17" ry="18" fill="#505050" opacity="0.6"/>
<ellipse cx="226.2" cy="178" rx="32" ry="30" fill="#505050" opacity="0.7"/>
<ellipse cx="143.2" cy="205" rx="24" ry="25" fill="#505050" opacity="0.7"/>
<ellipse cx="270.2" cy="267" rx="21" ry="22" fill="#505050" opacity="0.7"/>
<ellipse cx="111.2" cy="320" rx="20" ry="12" fill="#505050" opacity="0.5"/>
</g>
<rect x="19.2" y="28" width="291.8" height="291.5" filter="url(#ta0)" opacity="0.25"/>
</g>
</g>
<rect x="20.2" y="29" width="289.8" height="289.5" fill="none" stroke="#231815" stroke-width="2"/>
<rect x="31" y="301" width="52" height="6" fill="#fff"/>
<text x="262.5" y="61.2" font-size="26">0 s</text>
<text x="56" y="80.2" font-size="26">P2</text>
<text x="233" y="91.6" font-size="26">P5</text>
<text x="214" y="186.2" font-size="26">P1</text>
<text x="131" y="213.6" font-size="26">P3</text>
<text x="257.5" y="272.8" font-size="26">P4</text>
<g clip-path="url(#tc1)">
<g filter="url(#tp1)">
<rect x="321" y="28" width="291.8" height="291.5" filter="url(#tn1)"/>
<g filter="url(#tb1)">
<ellipse cx="379" cy="76" rx="24" ry="30" fill="#505050" opacity="0.7"/>
<ellipse cx="498" cy="45" rx="31" ry="22" fill="#505050" opacity="0.6"/>
<ellipse cx="558" cy="75" rx="19" ry="19" fill="#505050" opacity="0.7"/>
<ellipse cx="454" cy="203" rx="26" ry="27" fill="#505050" opacity="0.7"/>
<ellipse cx="535" cy="180" rx="31" ry="30" fill="#505050" opacity="0.7"/>
<ellipse cx="579" cy="267" rx="22" ry="22" fill="#505050" opacity="0.7"/>
<ellipse cx="420" cy="320" rx="20" ry="12" fill="#505050" opacity="0.5"/>
</g>
<rect x="321" y="28" width="291.8" height="291.5" filter="url(#ta1)" opacity="0.25"/>
</g>
</g>
<rect x="322" y="29" width="289.8" height="289.5" fill="none" stroke="#231815" stroke-width="2"/>
<rect x="332.5" y="301" width="52.5" height="6" fill="#fff"/>
<text x="549" y="61" font-size="26">11 s</text>
<g clip-path="url(#tc2)">
<g filter="url(#tp2)">
<rect x="623" y="28" width="291.8" height="291.5" filter="url(#tn2)"/>
<g filter="url(#tb2)">
<ellipse cx="671" cy="68" rx="25" ry="30" fill="#505050" opacity="0.6"/>
<ellipse cx="791" cy="44" rx="33" ry="22" fill="#505050" opacity="0.6"/>
<ellipse cx="851" cy="69" rx="21" ry="21" fill="#505050" opacity="0.6"/>
<ellipse cx="747" cy="196" rx="27" ry="27" fill="#404040" opacity="0.8"/>
<ellipse cx="830" cy="175" rx="31" ry="31" fill="#505050" opacity="0.6"/>
<ellipse cx="876" cy="260" rx="24" ry="23" fill="#505050" opacity="0.6"/>
<ellipse cx="626" cy="214" rx="10" ry="14" fill="#505050" opacity="0.4"/>
<ellipse cx="722" cy="318" rx="20" ry="12" fill="#505050" opacity="0.5"/>
</g>
<rect x="623" y="28" width="291.8" height="291.5" filter="url(#ta2)" opacity="0.25"/>
</g>
</g>
<rect x="624" y="29" width="289.8" height="289.5" fill="none" stroke="#231815" stroke-width="2"/>
<rect x="634.5" y="301" width="52.5" height="6" fill="#fff"/>
<text x="848.3" y="61.2" font-size="26">26 s</text>
<g clip-path="url(#tc3)">
<g filter="url(#tp3)">
<rect x="925.2" y="28" width="291.8" height="291.5" filter="url(#tn3)"/>
<g filter="url(#tb3)">
<ellipse cx="973.2" cy="72" rx="29" ry="32" fill="#505050" opacity="0.7"/>
<ellipse cx="1084.2" cy="55" rx="40" ry="25" fill="#505050" opacity="0.6"/>
<ellipse cx="1153.2" cy="83" rx="20" ry="33" fill="#505050" opacity="0.7"/>
<ellipse cx="1049.2" cy="194" rx="30" ry="30" fill="#333" opacity="0.9"/>
<ellipse cx="1133.2" cy="178" rx="33" ry="32" fill="#505050" opacity="0.8"/>
<ellipse cx="1181.2" cy="268" rx="25" ry="26" fill="#505050" opacity="0.8"/>
<ellipse cx="948.2" cy="270" rx="18" ry="18" fill="#505050" opacity="0.6"/>
<ellipse cx="1088.2" cy="258" rx="20" ry="18" fill="#505050" opacity="0.5"/>
<ellipse cx="933.2" cy="219" rx="14" ry="16" fill="#505050" opacity="0.5"/>
<ellipse cx="1025.2" cy="318" rx="22" ry="10" fill="#505050" opacity="0.5"/>
<ellipse cx="995.2" cy="224" rx="14" ry="14" fill="#fff" opacity="0.5"/>
<ellipse cx="1169.2" cy="205" rx="10" ry="22" fill="#fff" opacity="0.5"/>
<ellipse cx="1045.2" cy="88" rx="14" ry="14" fill="#fff" opacity="0.4"/>
<ellipse cx="1125.2" cy="123" rx="30" ry="12" fill="#fff" opacity="0.3"/>
<ellipse cx="940.2" cy="48" rx="12" ry="12" fill="#fff" opacity="0.4"/>
</g>
<rect x="925.2" y="28" width="291.8" height="291.5" filter="url(#ta3)" opacity="0.25"/>
</g>
</g>
<rect x="926.2" y="29" width="289.8" height="289.5" fill="none" stroke="#231815" stroke-width="2"/>
<rect x="937" y="301" width="53" height="6" fill="#fff"/>
<text x="1152" y="61.2" font-size="26">84 s</text>
<g clip-path="url(#tc10)">
<g filter="url(#tp10)">
<rect x="20.8" y="387" width="291.3" height="291" filter="url(#tn10)"/>
<g filter="url(#tb10)">
<ellipse cx="156.8" cy="537" rx="37" ry="64" fill="#505050" opacity="0.5" transform="rotate(-15 156.8 537)"/>
<ellipse cx="286.8" cy="477" rx="18" ry="22" fill="#505050" opacity="0.2"/>
<ellipse cx="148.8" cy="512" rx="25" ry="4" fill="#202020" opacity="0.2" transform="rotate(-5 148.8 512)"/>
<ellipse cx="160.8" cy="552" rx="20" ry="4" fill="#202020" opacity="0.2"/>
</g>
<rect x="20.8" y="387" width="291.3" height="291" filter="url(#ta10)" opacity="0.25"/>
</g>
</g>
<rect x="21.8" y="388" width="289.3" height="289" fill="none" stroke="#231815" stroke-width="2"/>
<rect x="41" y="659" width="56" height="6" fill="#fff"/>
<text x="262" y="420.5" font-size="26">0 s</text>
<g clip-path="url(#tc11)">
<g filter="url(#tp11)">
<rect x="322.5" y="387" width="291.3" height="291" filter="url(#tn11)"/>
<g filter="url(#tb11)">
<path d="M422.5,462 L472.5,459 L487.5,492 L517.5,522 L502.5,537 L487.5,582 L457.5,604 L432.5,567 L417.5,537 L404.5,507Z" fill="#505050" opacity="0.6" stroke="#505050" stroke-width="16" stroke-linejoin="round"/>
<ellipse cx="598.5" cy="482" rx="18" ry="24" fill="#505050" opacity="0.2"/>
<ellipse cx="447.5" cy="490" rx="28" ry="4" fill="#202020" opacity="0.4" transform="rotate(-3 447.5 490)"/>
<ellipse cx="462.5" cy="512" rx="35" ry="4" fill="#202020" opacity="0.4"/>
<ellipse cx="452.5" cy="532" rx="28" ry="4" fill="#202020" opacity="0.4" transform="rotate(5 452.5 532)"/>
<ellipse cx="472.5" cy="562" rx="15" ry="10" fill="#202020" opacity="0.4"/>
</g>
<rect x="322.5" y="387" width="291.3" height="291" filter="url(#ta11)" opacity="0.25"/>
</g>
</g>
<rect x="323.5" y="388" width="289.3" height="289" fill="none" stroke="#231815" stroke-width="2"/>
<rect x="340" y="659" width="56" height="6" fill="#fff"/>
<text x="549" y="419.7" font-size="26">18 s</text>
<g clip-path="url(#tc12)">
<g filter="url(#tp12)">
<rect x="624.3" y="387" width="291.3" height="291" filter="url(#tn12)"/>
<g filter="url(#tb12)">
<path d="M734.3,467 L764.3,459 L799.3,487 L846.3,534 L809.3,557 L774.3,604 L744.3,572 L702.3,528 L719.3,497Z" fill="#505050" opacity="0.7" stroke="#505050" stroke-width="16" stroke-linejoin="round"/>
<ellipse cx="909.3" cy="482" rx="18" ry="24" fill="#505050" opacity="0.2"/>
<ellipse cx="754.3" cy="497" rx="40" ry="4" fill="#202020" opacity="0.5" transform="rotate(3 754.3 497)"/>
<ellipse cx="774.3" cy="522" rx="55" ry="4" fill="#202020" opacity="0.5" transform="rotate(5 774.3 522)"/>
<ellipse cx="774.3" cy="552" rx="40" ry="4" fill="#202020" opacity="0.5" transform="rotate(8 774.3 552)"/>
<ellipse cx="759.3" cy="572" rx="14" ry="8" fill="#202020" opacity="0.5"/>
<ellipse cx="739.3" cy="512" rx="12" ry="12" fill="#202020" opacity="0.5"/>
</g>
<rect x="624.3" y="387" width="291.3" height="291" filter="url(#ta12)" opacity="0.25"/>
</g>
</g>
<rect x="625.3" y="388" width="289.3" height="289" fill="none" stroke="#231815" stroke-width="2"/>
<rect x="640.7" y="659" width="55.5" height="6" fill="#fff"/>
<text x="848.3" y="419.7" font-size="26">34 s</text>
<g clip-path="url(#tc13)">
<g filter="url(#tp13)">
<rect x="925.8" y="387" width="291.3" height="291" filter="url(#tn13)"/>
<g filter="url(#tb13)">
<path d="M1009,449.4 L1073,430.2 L1137,462.2 L1216.3,532.6 L1175.3,564.6 L1105,603 L1078.1,629.8 L1021.8,590.2 L955.2,523.6 L977,481.4Z" fill="#fff" opacity="0.2" stroke="#fff" stroke-width="10" stroke-linejoin="round"/>
<ellipse cx="1035.8" cy="442" rx="55" ry="14" fill="#fff" opacity="0.2" transform="rotate(-10 1035.8 442)"/>
<ellipse cx="1020.8" cy="612" rx="45" ry="20" fill="#fff" opacity="0.2" transform="rotate(-40 1020.8 612)"/>
<ellipse cx="955.8" cy="657" rx="30" ry="25" fill="#000" opacity="0.1"/>
<ellipse cx="1195.8" cy="657" rx="30" ry="25" fill="#000" opacity="0.1"/>
<path d="M1025.8,467 L1075.8,452 L1125.8,477 L1187.8,532 L1155.8,557 L1100.8,587 L1079.8,608 L1035.8,577 L983.8,525 L1000.8,492Z" fill="#363636" opacity="0.6" stroke="#363636" stroke-width="16" stroke-linejoin="round"/>
<ellipse cx="1065.8" cy="479" rx="45" ry="5" fill="#202020" opacity="0.6" transform="rotate(8 1065.8 479)"/>
<ellipse cx="1095.8" cy="512" rx="60" ry="5" fill="#202020" opacity="0.6" transform="rotate(10 1095.8 512)"/>
<ellipse cx="1055.8" cy="527" rx="30" ry="5" fill="#202020" opacity="0.6" transform="rotate(10 1055.8 527)"/>
<ellipse cx="1075.8" cy="552" rx="45" ry="5" fill="#202020" opacity="0.6" transform="rotate(10 1075.8 552)"/>
<ellipse cx="1140.8" cy="537" rx="30" ry="4" fill="#202020" opacity="0.6" transform="rotate(8 1140.8 537)"/>
<ellipse cx="1065.8" cy="577" rx="20" ry="5" fill="#202020" opacity="0.6"/>
</g>
<rect x="925.8" y="387" width="291.3" height="291" filter="url(#ta13)" opacity="0.25"/>
</g>
</g>
<rect x="926.8" y="388" width="289.3" height="289" fill="none" stroke="#231815" stroke-width="2"/>
<rect x="943.6" y="659" width="56" height="6" fill="#fff"/>
<text x="1153" y="419.7" font-size="26">79 s</text>
<text x="87" y="426" font-size="23">Prismatic plane</text>
<text x="165.5" y="453.8" font-size="23" text-anchor="middle">growth</text>
<line x1="116" y1="464.5" x2="212.5" y2="464.5" stroke="#000" stroke-width="1.8"/>
<polyline points="122,459.7 116,464.5 122,469.3" fill="none" stroke="#000" stroke-width="1.8" stroke-linejoin="round"/>
<polyline points="206.5,459.7 212.5,464.5 206.5,469.3" fill="none" stroke="#000" stroke-width="1.8" stroke-linejoin="round"/>
<text x="65" y="536" font-size="23" text-anchor="middle" transform="rotate(-90 65 536)">Basal plane</text>
<text x="93" y="536.5" font-size="23" text-anchor="middle" transform="rotate(-90 93 536.5)">growth</text>
<line x1="105" y1="489" x2="105" y2="584.5" stroke="#000" stroke-width="1.8"/>
<polyline points="100.2,495 105,489 109.8,495" fill="none" stroke="#000" stroke-width="1.8" stroke-linejoin="round"/>
<polyline points="100.2,578.5 105,584.5 109.8,578.5" fill="none" stroke="#000" stroke-width="1.8" stroke-linejoin="round"/>
<rect x="18" y="1685" width="372" height="789" fill="url(#pW)"/>
<rect x="18" y="2075.3" width="372" height="6" fill="#fff"/>
<rect x="395" y="1685" width="374.5" height="789" fill="url(#pW)"/>
<rect x="395" y="2075.3" width="374.5" height="6" fill="#fff"/>
<rect x="773.3" y="1685" width="463.2" height="789" fill="url(#pW)"/>
<rect x="773.3" y="2075.3" width="463.2" height="6" fill="#fff"/>
<g clip-path="url(#c_j1t)">
<circle cx="181.3" cy="1761.8" r="3.3" fill="url(#gO)"/>
<circle cx="189.1" cy="1760.9" r="3.3" fill="url(#gWs)"/>
<circle cx="197.6" cy="1760.1" r="3.3" fill="url(#gWs)"/>
<circle cx="196.5" cy="1769.4" r="3.3" fill="url(#gWs)"/>
<circle cx="202.3" cy="1757.1" r="3.3" fill="url(#gWs)"/>
<circle cx="211.3" cy="1767.3" r="3.3" fill="url(#gO)"/>
<circle cx="205.9" cy="1763.5" r="3.3" fill="url(#gWs)"/>
<circle cx="200.3" cy="1752" r="3.3" fill="url(#gWs)"/>
<circle cx="230.3" cy="1748.5" r="3.3" fill="url(#gO)"/>
<circle cx="248" cy="1762.1" r="3.3" fill="url(#gO)"/>
<circle cx="238.9" cy="1761.7" r="3.3" fill="url(#gO)"/>
<circle cx="238.9" cy="1777.8" r="3.3" fill="url(#gWs)"/>
<circle cx="235.3" cy="1759.4" r="3.3" fill="url(#gWs)"/>
<circle cx="240.9" cy="1764.4" r="3.3" fill="url(#gWs)"/>
<circle cx="254" cy="1790.3" r="3.3" fill="url(#gB)"/>
<circle cx="260" cy="1784" r="3.3" fill="url(#gB)"/>
<circle cx="267.6" cy="1782.5" r="3.3" fill="url(#gO)"/>
<circle cx="269.8" cy="1784.2" r="3.3" fill="url(#gO)"/>
<circle cx="280.3" cy="1815.1" r="3.3" fill="url(#gB)"/>
<circle cx="287.6" cy="1797.9" r="3.3" fill="url(#gWs)"/>
<circle cx="275.6" cy="1780.7" r="3.3" fill="url(#gO)"/>
<circle cx="275.9" cy="1799.5" r="3.3" fill="url(#gO)"/>
<circle cx="278.3" cy="1799.2" r="3.3" fill="url(#gWs)"/>
<circle cx="304.1" cy="1815.4" r="3.3" fill="url(#gB)"/>
<circle cx="297.8" cy="1806.2" r="3.3" fill="url(#gWs)"/>
<circle cx="290.8" cy="1802.8" r="3.3" fill="url(#gO)"/>
<circle cx="284.4" cy="1819.7" r="3.3" fill="url(#gWs)"/>
<circle cx="310.3" cy="1829.8" r="3.3" fill="url(#gO)"/>
<circle cx="300.9" cy="1826.7" r="3.3" fill="url(#gWs)"/>
<circle cx="313.2" cy="1847.1" r="3.3" fill="url(#gB)"/>
<circle cx="293" cy="1832.6" r="3.3" fill="url(#gWs)"/>
<circle cx="315.4" cy="1839.9" r="3.3" fill="url(#gB)"/>
<circle cx="322.7" cy="1874.3" r="3.3" fill="url(#gWs)"/>
<circle cx="318" cy="1865.5" r="3.3" fill="url(#gWs)"/>
<circle cx="332.3" cy="1880.4" r="3.3" fill="url(#gWs)"/>
<circle cx="329.7" cy="1877" r="3.3" fill="url(#gWs)"/>
<circle cx="315.9" cy="1878.4" r="3.3" fill="url(#gO)"/>
<circle cx="326.5" cy="1853.4" r="3.3" fill="url(#gO)"/>
<circle cx="322.2" cy="1890.2" r="3.3" fill="url(#gWs)"/>
<circle cx="318.4" cy="1883.8" r="3.3" fill="url(#gO)"/>
<circle cx="335.9" cy="1887" r="3.3" fill="url(#gWs)"/>
<circle cx="337.8" cy="1888.5" r="3.3" fill="url(#gWs)"/>
<circle cx="336.2" cy="1897.7" r="3.3" fill="url(#gB)"/>
<circle cx="325.1" cy="1922.2" r="3.3" fill="url(#gO)"/>
<circle cx="322.7" cy="1905.2" r="3.3" fill="url(#gO)"/>
<circle cx="330.3" cy="1922.9" r="3.3" fill="url(#gWs)"/>
<circle cx="326" cy="1930.4" r="3.3" fill="url(#gWs)"/>
<circle cx="314.7" cy="1915.5" r="3.3" fill="url(#gB)"/>
<circle cx="315.7" cy="1956.1" r="3.3" fill="url(#gO)"/>
<circle cx="316.3" cy="1940.2" r="3.3" fill="url(#gWs)"/>
<circle cx="312" cy="1955" r="3.3" fill="url(#gWs)"/>
<circle cx="314.4" cy="1956.3" r="3.3" fill="url(#gWs)"/>
<circle cx="325.1" cy="1936.9" r="3.3" fill="url(#gB)"/>
<circle cx="293.9" cy="1957.2" r="3.3" fill="url(#gO)"/>
<circle cx="312.5" cy="1966" r="3.3" fill="url(#gB)"/>
<circle cx="299.2" cy="1956.7" r="3.3" fill="url(#gO)"/>
<circle cx="301" cy="1950.6" r="3.3" fill="url(#gO)"/>
<circle cx="276.8" cy="1978.1" r="3.3" fill="url(#gB)"/>
<circle cx="262.3" cy="1981" r="3.3" fill="url(#gB)"/>
<circle cx="281.4" cy="1983.3" r="3.3" fill="url(#gO)"/>
<circle cx="279.5" cy="1972.3" r="3.3" fill="url(#gB)"/>
<circle cx="283.4" cy="1983.9" r="3.3" fill="url(#gWs)"/>
<circle cx="256.5" cy="1988.7" r="3.3" fill="url(#gB)"/>
<circle cx="257.6" cy="1987.8" r="3.3" fill="url(#gO)"/>
<circle cx="255" cy="1979.3" r="3.3" fill="url(#gO)"/>
<circle cx="261.2" cy="1979.9" r="3.3" fill="url(#gO)"/>
<circle cx="255.6" cy="1999.2" r="3.3" fill="url(#gO)"/>
<circle cx="239.7" cy="2006.9" r="3.3" fill="url(#gB)"/>
<circle cx="213.8" cy="1996.1" r="3.3" fill="url(#gB)"/>
<circle cx="232.2" cy="2007.3" r="3.3" fill="url(#gWs)"/>
<circle cx="234.1" cy="2007.6" r="3.3" fill="url(#gB)"/>
<circle cx="217" cy="2003.2" r="3.3" fill="url(#gWs)"/>
<circle cx="186.4" cy="1999.3" r="3.3" fill="url(#gB)"/>
<circle cx="185.1" cy="1999.6" r="3.3" fill="url(#gO)"/>
<circle cx="197.2" cy="1993.6" r="3.3" fill="url(#gO)"/>
<circle cx="195.3" cy="1999.7" r="3.3" fill="url(#gWs)"/>
<circle cx="207.6" cy="1994.5" r="3.3" fill="url(#gWs)"/>
<circle cx="160.5" cy="1986.3" r="3.3" fill="url(#gO)"/>
<circle cx="160.4" cy="1990.8" r="3.3" fill="url(#gWs)"/>
<circle cx="162.9" cy="1991.5" r="3.3" fill="url(#gO)"/>
<circle cx="146.3" cy="1997.2" r="3.3" fill="url(#gWs)"/>
<circle cx="178.4" cy="1994.7" r="3.3" fill="url(#gO)"/>
<circle cx="133.4" cy="1974.6" r="3.3" fill="url(#gWs)"/>
<circle cx="131.3" cy="1984.1" r="3.3" fill="url(#gB)"/>
<circle cx="126.3" cy="1975.4" r="3.3" fill="url(#gWs)"/>
<circle cx="131.7" cy="1985.6" r="3.3" fill="url(#gO)"/>
<circle cx="119" cy="1967.3" r="3.3" fill="url(#gWs)"/>
<circle cx="102.7" cy="1953.3" r="3.3" fill="url(#gB)"/>
<circle cx="115.2" cy="1948" r="3.3" fill="url(#gO)"/>
<circle cx="115.9" cy="1958.6" r="3.3" fill="url(#gWs)"/>
<circle cx="111" cy="1953.3" r="3.3" fill="url(#gWs)"/>
<circle cx="80" cy="1932.5" r="3.3" fill="url(#gWs)"/>
<circle cx="107.5" cy="1945.8" r="3.3" fill="url(#gWs)"/>
<circle cx="102.8" cy="1945.3" r="3.3" fill="url(#gO)"/>
<circle cx="96.5" cy="1927.9" r="3.3" fill="url(#gWs)"/>
<circle cx="101.7" cy="1934.9" r="3.3" fill="url(#gB)"/>
<circle cx="78.8" cy="1897.8" r="3.3" fill="url(#gO)"/>
<circle cx="85" cy="1906.6" r="3.3" fill="url(#gB)"/>
<circle cx="82.9" cy="1926.2" r="3.3" fill="url(#gO)"/>
<circle cx="87.3" cy="1895.6" r="3.3" fill="url(#gWs)"/>
<circle cx="87.1" cy="1908" r="3.3" fill="url(#gWs)"/>
<circle cx="88.1" cy="1912.5" r="3.3" fill="url(#gO)"/>
<circle cx="75.9" cy="1876.5" r="3.3" fill="url(#gWs)"/>
<circle cx="79" cy="1886.8" r="3.3" fill="url(#gO)"/>
<circle cx="81.7" cy="1859.7" r="3.3" fill="url(#gO)"/>
<circle cx="82.3" cy="1861" r="3.3" fill="url(#gO)"/>
<circle cx="89.5" cy="1882" r="3.3" fill="url(#gWs)"/>
<circle cx="78.7" cy="1865.8" r="3.3" fill="url(#gO)"/>
<circle cx="78.7" cy="1843.4" r="3.3" fill="url(#gO)"/>
<circle cx="80.4" cy="1847.9" r="3.3" fill="url(#gO)"/>
<circle cx="81.7" cy="1831.8" r="3.3" fill="url(#gWs)"/>
<circle cx="78.7" cy="1850.5" r="3.3" fill="url(#gWs)"/>
<circle cx="85.7" cy="1832.1" r="3.3" fill="url(#gO)"/>
<circle cx="99" cy="1813.2" r="3.3" fill="url(#gWs)"/>
<circle cx="87.1" cy="1812.2" r="3.3" fill="url(#gO)"/>
<circle cx="100.2" cy="1819.6" r="3.3" fill="url(#gWs)"/>
<circle cx="81.7" cy="1823.6" r="3.3" fill="url(#gO)"/>
<circle cx="104.6" cy="1816.5" r="3.3" fill="url(#gB)"/>
<circle cx="104.7" cy="1801.2" r="3.3" fill="url(#gWs)"/>
<circle cx="112" cy="1788.9" r="3.3" fill="url(#gB)"/>
<circle cx="109.4" cy="1793.1" r="3.3" fill="url(#gO)"/>
<circle cx="110.8" cy="1803.7" r="3.3" fill="url(#gWs)"/>
<circle cx="144.6" cy="1791.4" r="3.3" fill="url(#gB)"/>
<circle cx="139" cy="1783.1" r="3.3" fill="url(#gWs)"/>
<circle cx="122.5" cy="1788.7" r="3.3" fill="url(#gWs)"/>
<circle cx="137.5" cy="1779.6" r="3.3" fill="url(#gWs)"/>
<circle cx="139.1" cy="1792.2" r="3.3" fill="url(#gO)"/>
<circle cx="175.5" cy="1779.3" r="3.3" fill="url(#gB)"/>
<circle cx="176.8" cy="1771" r="3.3" fill="url(#gWs)"/>
<circle cx="172.1" cy="1782.8" r="3.3" fill="url(#gWs)"/>
<circle cx="157.4" cy="1785" r="3.3" fill="url(#gO)"/>
<circle cx="152" cy="1776.2" r="3.3" fill="url(#gB)"/>
<circle cx="182.5" cy="1782.3" r="3.3" fill="url(#gWs)"/>
<path d="M182.3,1777.2 C184.9,1775.7 182.3,1770.2 184.4,1768.6 C186.6,1767 192.3,1768.8 195,1767.5 C197.7,1766.3 198.3,1762 200.8,1761 C203.4,1760.1 207.3,1762.2 210.5,1761.9 C213.8,1761.5 217.2,1759.4 220.4,1759 C223.6,1758.6 226.8,1757.9 229.7,1759.5 C232.5,1761.1 235.1,1766.3 237.8,1768.5 C240.4,1770.6 243.6,1770.8 245.6,1772.2 C247.6,1773.6 248.4,1775.6 249.7,1776.8 C251.1,1778.1 251.7,1778.3 253.7,1779.6 C255.7,1781 259.5,1783 261.8,1785.1 C264.1,1787.1 265.4,1790 267.4,1792 C269.4,1793.9 272,1795.5 273.8,1797 C275.6,1798.5 276.3,1799.1 278,1801 C279.7,1802.8 282.1,1805.3 284.1,1808.2 C286.1,1811.1 288.1,1816.5 290.1,1818.5 C292,1820.5 293.9,1818.6 295.9,1820.4 C297.9,1822.2 300.4,1826.7 302,1829.5 C303.5,1832.3 303.9,1834.9 305.2,1837.4 C306.4,1839.8 308.3,1841.6 309.3,1844.1 C310.3,1846.6 309.9,1850 311.3,1852.4 C312.7,1854.8 316.2,1855.2 317.6,1858.3 C319.1,1861.4 319.2,1867.4 319.9,1871.1 C320.6,1874.7 321.3,1876.9 321.8,1880.2 C322.3,1883.4 322.6,1887.4 323,1890.5 C323.3,1893.5 323.8,1895.6 324,1898.3 C324.2,1901.1 324.2,1904.4 324.3,1906.9 C324.4,1909.4 325.3,1910.3 324.7,1913.1 C324.1,1915.9 321.6,1921 320.7,1923.8 C319.7,1926.6 320.5,1927.7 319.1,1929.9 C317.7,1932.2 313.7,1934.9 312.3,1937.5 C310.8,1940 311.2,1942.3 310.3,1945 C309.5,1947.7 308.4,1951.5 307,1953.8 C305.7,1956.2 303.7,1957 302.1,1959 C300.4,1961.1 299.3,1964.2 297.3,1966 C295.3,1967.9 292.5,1968.5 290,1970.1 C287.5,1971.7 285.4,1974 282.4,1975.4 C279.5,1976.8 275.3,1976.6 272.4,1978.5 C269.5,1980.5 267.6,1986 265.1,1987.2 C262.5,1988.3 259.8,1984.8 257.3,1985.5 C254.8,1986.3 252.5,1990.5 249.9,1991.5 C247.4,1992.4 245.2,1991.3 242,1991.5 C238.9,1991.6 234.8,1991.6 231.2,1992.1 C227.7,1992.6 224.5,1993.4 220.8,1994.5 C217,1995.7 212.4,1998.7 208.6,1998.9 C204.8,1999.1 200.8,1996.7 198,1995.8 C195.2,1994.8 195,1993.2 191.8,1993.1 C188.5,1992.9 182.2,1995.2 178.6,1994.9 C174.9,1994.6 173.1,1992.7 169.6,1991.4 C166.1,1990.1 161.2,1987.9 157.7,1987 C154.1,1986.1 151.1,1986.5 148.4,1985.9 C145.6,1985.2 143.6,1984.3 141.2,1982.9 C138.9,1981.5 136.6,1979.5 134.3,1977.5 C132,1975.5 129.2,1973.3 127.6,1970.8 C126,1968.2 127,1964.6 124.9,1962.3 C122.8,1960 117.7,1959.7 115.1,1957 C112.5,1954.2 110.9,1948.8 109.4,1945.7 C108,1942.7 108.7,1940.9 106.5,1938.6 C104.2,1936.3 98,1934 95.7,1931.9 C93.4,1929.8 94,1929.2 92.6,1926.2 C91.1,1923.3 88.6,1917.8 87.1,1914.2 C85.6,1910.6 84.1,1907.7 83.7,1904.7 C83.2,1901.7 84.1,1899.6 84.3,1896.2 C84.6,1892.8 84.9,1888.5 85,1884.6 C85.1,1880.7 85.2,1877 84.8,1872.7 C84.5,1868.4 82.6,1862.6 82.9,1858.6 C83.1,1854.7 85.7,1852.2 86.1,1849.1 C86.6,1845.9 84.7,1843.2 85.7,1839.7 C86.6,1836.2 90.2,1831.1 91.9,1828.1 C93.5,1825.2 94.1,1824.6 95.4,1822.1 C96.8,1819.7 98.1,1816.1 100.1,1813.6 C102.1,1811 105.3,1808.5 107.3,1806.8 C109.3,1805.1 110.8,1804.5 112.2,1803.3 C113.6,1802.1 114.1,1801.4 115.9,1799.6 C117.8,1797.9 120.7,1794.4 123.2,1792.8 C125.7,1791.2 128.3,1790.6 131,1790 C133.7,1789.3 136.5,1789.4 139.6,1789 C142.8,1788.6 146.3,1788.2 150,1787.4 C153.8,1786.6 159.1,1785.7 162.2,1784.1 C165.3,1782.6 165.3,1779.2 168.7,1778.1 C172,1776.9 179.6,1778.8 182.3,1777.2Z" fill="url(#pO)"/>
<circle cx="183.9" cy="1770.5" r="3.3" fill="url(#gB)"/>
<circle cx="183.3" cy="1776" r="3.3" fill="url(#gO)"/>
<circle cx="231.4" cy="1758.7" r="3.3" fill="url(#gB)"/>
<circle cx="205.9" cy="1759.1" r="3.3" fill="url(#gB)"/>
<circle cx="220.9" cy="1763.4" r="3.3" fill="url(#gO)"/>
<circle cx="231.4" cy="1756.7" r="3.3" fill="url(#gWs)"/>
<circle cx="245.6" cy="1769.1" r="3.3" fill="url(#gO)"/>
<circle cx="248.9" cy="1770.8" r="3.3" fill="url(#gO)"/>
<circle cx="268.4" cy="1788" r="3.3" fill="url(#gB)"/>
<circle cx="257.4" cy="1782.8" r="3.3" fill="url(#gWs)"/>
<circle cx="284.7" cy="1801.7" r="3.3" fill="url(#gB)"/>
<circle cx="275.4" cy="1791" r="3.3" fill="url(#gB)"/>
<circle cx="280.7" cy="1805.4" r="3.3" fill="url(#gO)"/>
<circle cx="291.4" cy="1806.4" r="3.3" fill="url(#gWs)"/>
<circle cx="289" cy="1819.4" r="3.3" fill="url(#gWs)"/>
<circle cx="300.9" cy="1828.6" r="3.3" fill="url(#gO)"/>
<circle cx="316.1" cy="1847.6" r="3.3" fill="url(#gO)"/>
<circle cx="301.2" cy="1827.3" r="3.3" fill="url(#gO)"/>
<circle cx="314.7" cy="1870" r="3.3" fill="url(#gO)"/>
<circle cx="326.2" cy="1878.5" r="3.3" fill="url(#gB)"/>
<circle cx="321" cy="1869.6" r="3.3" fill="url(#gWs)"/>
<circle cx="325.3" cy="1891.7" r="3.3" fill="url(#gO)"/>
<circle cx="326.8" cy="1902.8" r="3.3" fill="url(#gO)"/>
<circle cx="321.4" cy="1894.7" r="3.3" fill="url(#gO)"/>
<circle cx="322.5" cy="1920.5" r="3.3" fill="url(#gB)"/>
<circle cx="315.5" cy="1923.1" r="3.3" fill="url(#gWs)"/>
<circle cx="324.7" cy="1910.8" r="3.3" fill="url(#gO)"/>
<circle cx="314.6" cy="1937.2" r="3.3" fill="url(#gO)"/>
<circle cx="306" cy="1948.7" r="3.3" fill="url(#gO)"/>
<circle cx="317.8" cy="1936.2" r="3.3" fill="url(#gO)"/>
<circle cx="292.3" cy="1963.3" r="3.3" fill="url(#gWs)"/>
<circle cx="300.6" cy="1964.1" r="3.3" fill="url(#gB)"/>
<circle cx="267.3" cy="1982.7" r="3.3" fill="url(#gB)"/>
<circle cx="289.3" cy="1974.9" r="3.3" fill="url(#gO)"/>
<circle cx="272.5" cy="1983.9" r="3.3" fill="url(#gO)"/>
<circle cx="258.5" cy="1990.5" r="3.3" fill="url(#gO)"/>
<circle cx="256.5" cy="1987.6" r="3.3" fill="url(#gO)"/>
<circle cx="244.8" cy="1997" r="3.3" fill="url(#gWs)"/>
<circle cx="213.1" cy="1997.1" r="3.3" fill="url(#gB)"/>
<circle cx="223.7" cy="1993.6" r="3.3" fill="url(#gO)"/>
<circle cx="223.5" cy="1993.1" r="3.3" fill="url(#gWs)"/>
<circle cx="189.9" cy="2001.1" r="3.3" fill="url(#gB)"/>
<circle cx="208.4" cy="1999.9" r="3.3" fill="url(#gB)"/>
<circle cx="195.9" cy="1996.1" r="3.3" fill="url(#gO)"/>
<circle cx="170.9" cy="1996.6" r="3.3" fill="url(#gO)"/>
<circle cx="174.8" cy="1991.8" r="3.3" fill="url(#gB)"/>
<circle cx="151.7" cy="1987.4" r="3.3" fill="url(#gB)"/>
<circle cx="133.4" cy="1970.9" r="3.3" fill="url(#gB)"/>
<circle cx="142" cy="1978.6" r="3.3" fill="url(#gO)"/>
<circle cx="127" cy="1969.5" r="3.3" fill="url(#gWs)"/>
<circle cx="126.5" cy="1970.3" r="3.3" fill="url(#gO)"/>
<circle cx="114.8" cy="1956.7" r="3.3" fill="url(#gO)"/>
<circle cx="107" cy="1945.8" r="3.3" fill="url(#gO)"/>
<circle cx="106.9" cy="1945.2" r="3.3" fill="url(#gO)"/>
<circle cx="92.9" cy="1930.1" r="3.3" fill="url(#gO)"/>
<circle cx="85.7" cy="1903.9" r="3.3" fill="url(#gO)"/>
<circle cx="82.3" cy="1909.4" r="3.3" fill="url(#gO)"/>
<circle cx="78.2" cy="1901" r="3.3" fill="url(#gB)"/>
<circle cx="80.3" cy="1887.1" r="3.3" fill="url(#gB)"/>
<circle cx="79.6" cy="1864.3" r="3.3" fill="url(#gB)"/>
<circle cx="78.7" cy="1890.2" r="3.3" fill="url(#gB)"/>
<circle cx="83.8" cy="1860.6" r="3.3" fill="url(#gO)"/>
<circle cx="77.1" cy="1859.9" r="3.3" fill="url(#gB)"/>
<circle cx="84" cy="1834.1" r="3.3" fill="url(#gO)"/>
<circle cx="101" cy="1810.7" r="3.3" fill="url(#gB)"/>
<circle cx="105.3" cy="1811.1" r="3.3" fill="url(#gWs)"/>
<circle cx="93.9" cy="1825.7" r="3.3" fill="url(#gB)"/>
<circle cx="112.2" cy="1802.1" r="3.3" fill="url(#gO)"/>
<circle cx="107.3" cy="1805.7" r="3.3" fill="url(#gB)"/>
<circle cx="127.9" cy="1791.7" r="3.3" fill="url(#gB)"/>
<circle cx="137" cy="1786.6" r="3.3" fill="url(#gO)"/>
<circle cx="140.8" cy="1783" r="3.3" fill="url(#gB)"/>
<circle cx="154.7" cy="1784" r="3.3" fill="url(#gO)"/>
<circle cx="157.3" cy="1779" r="3.3" fill="url(#gB)"/>
<circle cx="160.8" cy="1775.7" r="3.3" fill="url(#gO)"/>
<circle cx="258.6" cy="1800.2" r="3.5" fill="url(#gO)"/>
<circle cx="260.8" cy="1790" r="3.5" fill="url(#gO)"/>
<circle cx="288.2" cy="1832.3" r="3.5" fill="url(#gWs)"/>
<circle cx="296.3" cy="1917.2" r="3.5" fill="url(#gWs)"/>
<circle cx="294.9" cy="1940.3" r="3.5" fill="url(#gWs)"/>
<circle cx="243.5" cy="1790.6" r="3.5" fill="url(#gB)"/>
<circle cx="151.5" cy="1975.4" r="3.5" fill="url(#gWs)"/>
<circle cx="306.9" cy="1851.2" r="3.5" fill="url(#gB)"/>
<circle cx="136.4" cy="1799.4" r="3.5" fill="url(#gWs)"/>
<circle cx="247.3" cy="1788.4" r="3.5" fill="url(#gB)"/>
<circle cx="226.5" cy="1986" r="3.5" fill="url(#gO)"/>
<circle cx="127.5" cy="1934.6" r="3.5" fill="url(#gO)"/>
<circle cx="102.2" cy="1882.4" r="3.5" fill="url(#gO)"/>
<circle cx="158.9" cy="1796.4" r="3.5" fill="url(#gB)"/>
<circle cx="293.5" cy="1827.1" r="3.5" fill="url(#gO)"/>
<circle cx="140.9" cy="1803.8" r="3.5" fill="url(#gWs)"/>
<circle cx="102.3" cy="1878.8" r="3.5" fill="url(#gB)"/>
<circle cx="283.2" cy="1931.9" r="3.5" fill="url(#gO)"/>
<circle cx="131.9" cy="1952.7" r="3.5" fill="url(#gWs)"/>
<circle cx="293.2" cy="1813.2" r="3.5" fill="url(#gB)"/>
<circle cx="130.5" cy="1803.3" r="3.5" fill="url(#gWs)"/>
<circle cx="266" cy="1952.7" r="3.5" fill="url(#gB)"/>
<circle cx="110.5" cy="1853.3" r="3.5" fill="url(#gWs)"/>
<circle cx="105.4" cy="1848.9" r="3.5" fill="url(#gWs)"/>
<circle cx="287.3" cy="1835.7" r="3.5" fill="url(#gB)"/>
<circle cx="160.1" cy="1960.8" r="3.5" fill="url(#gWs)"/>
<circle cx="295.8" cy="1926" r="3.5" fill="url(#gB)"/>
<circle cx="151.1" cy="1964" r="3.5" fill="url(#gO)"/>
<circle cx="300.9" cy="1873.4" r="3.5" fill="url(#gWs)"/>
<circle cx="297.8" cy="1876.1" r="3.5" fill="url(#gWs)"/>
<circle cx="280.1" cy="1940.9" r="3.5" fill="url(#gWs)"/>
<circle cx="289.8" cy="1824.9" r="3.5" fill="url(#gWs)"/>
<circle cx="184.5" cy="1986.6" r="3.5" fill="url(#gWs)"/>
<circle cx="186.1" cy="1781.1" r="3.5" fill="url(#gO)"/>
<circle cx="194.8" cy="1779.8" r="3.5" fill="url(#gB)"/>
<circle cx="312.4" cy="1896.3" r="3.5" fill="url(#gWs)"/>
<circle cx="93.2" cy="1908.4" r="3.5" fill="url(#gO)"/>
<circle cx="300.7" cy="1884.7" r="3.5" fill="url(#gWs)"/>
<circle cx="203.2" cy="1781.2" r="3.5" fill="url(#gWs)"/>
<circle cx="104.7" cy="1893.3" r="3.5" fill="url(#gB)"/>
<circle cx="120" cy="1831.8" r="3.5" fill="url(#gB)"/>
<circle cx="264.3" cy="1804.7" r="3.5" fill="url(#gWs)"/>
<circle cx="268.3" cy="1795.6" r="3.5" fill="url(#gWs)"/>
<circle cx="168.1" cy="1786.8" r="3.5" fill="url(#gWs)"/>
<circle cx="208.7" cy="1975.9" r="3.5" fill="url(#gWs)"/>
<circle cx="227.2" cy="1981.9" r="3.5" fill="url(#gO)"/>
<circle cx="108.8" cy="1862.9" r="3.5" fill="url(#gWs)"/>
<circle cx="299.2" cy="1829.7" r="3.5" fill="url(#gWs)"/>
<circle cx="157.8" cy="1975.2" r="3.5" fill="url(#gWs)"/>
<circle cx="98.7" cy="1872.8" r="3.5" fill="url(#gWs)"/>
<circle cx="310.2" cy="1921" r="3.5" fill="url(#gWs)"/>
<circle cx="213.2" cy="1785.1" r="3.5" fill="url(#gO)"/>
<circle cx="116.7" cy="1920.7" r="3.5" fill="url(#gO)"/>
<circle cx="122.8" cy="1945.8" r="3.5" fill="url(#gWs)"/>
<circle cx="293.7" cy="1844" r="3.5" fill="url(#gO)"/>
<circle cx="93.9" cy="1873.9" r="3.5" fill="url(#gO)"/>
<circle cx="267" cy="1804.6" r="3.5" fill="url(#gWs)"/>
<circle cx="136.5" cy="1941.2" r="3.5" fill="url(#gO)"/>
<circle cx="184.5" cy="1786.2" r="3.5" fill="url(#gWs)"/>
<circle cx="247.7" cy="1979.3" r="3.5" fill="url(#gO)"/>
<circle cx="229.4" cy="1972.6" r="3.5" fill="url(#gO)"/>
<circle cx="278.9" cy="1948.1" r="3.5" fill="url(#gB)"/>
<circle cx="285.8" cy="1951.2" r="3.5" fill="url(#gWs)"/>
<circle cx="282.4" cy="1811.6" r="3.5" fill="url(#gB)"/>
<circle cx="223.1" cy="1978.1" r="3.5" fill="url(#gWs)"/>
<circle cx="282.2" cy="1827" r="3.5" fill="url(#gB)"/>
<circle cx="110.1" cy="1914.6" r="3.5" fill="url(#gWs)"/>
<circle cx="235.3" cy="1985" r="3.5" fill="url(#gWs)"/>
<circle cx="110.9" cy="1898.6" r="3.5" fill="url(#gWs)"/>
<circle cx="152.3" cy="1794.2" r="3.5" fill="url(#gWs)"/>
<circle cx="300.2" cy="1878.4" r="3.5" fill="url(#gWs)"/>
<circle cx="110.3" cy="1928.3" r="3.5" fill="url(#gO)"/>
<circle cx="173" cy="1982.4" r="3.5" fill="url(#gO)"/>
<circle cx="151.2" cy="1972" r="3.5" fill="url(#gWs)"/>
<circle cx="295.9" cy="1898" r="3.5" fill="url(#gB)"/>
<circle cx="121.9" cy="1952.1" r="3.5" fill="url(#gWs)"/>
<circle cx="282.2" cy="1954.8" r="3.5" fill="url(#gWs)"/>
<circle cx="142.3" cy="1798.7" r="3.5" fill="url(#gO)"/>
<circle cx="90.2" cy="1889.8" r="3.5" fill="url(#gWs)"/>
<circle cx="293.4" cy="1830.4" r="3.5" fill="url(#gWs)"/>
<circle cx="281.8" cy="1808.3" r="3.5" fill="url(#gWs)"/>
<circle cx="282.8" cy="1948.9" r="3.5" fill="url(#gWs)"/>
<circle cx="112.7" cy="1850.9" r="3.5" fill="url(#gWs)"/>
<circle cx="277.7" cy="1941.8" r="3.5" fill="url(#gWs)"/>
<circle cx="222.5" cy="1982.7" r="3.5" fill="url(#gB)"/>
<circle cx="103.4" cy="1865.2" r="3.5" fill="url(#gWs)"/>
<circle cx="225.5" cy="1984.5" r="3.5" fill="url(#gWs)"/>
<circle cx="153.5" cy="1803.1" r="3.5" fill="url(#gO)"/>
<circle cx="105.9" cy="1917.9" r="3.5" fill="url(#gWs)"/>
<circle cx="134.3" cy="1947.8" r="3.5" fill="url(#gWs)"/>
<circle cx="296.6" cy="1940.2" r="3.5" fill="url(#gWs)"/>
<circle cx="104.5" cy="1857.3" r="3.5" fill="url(#gWs)"/>
<circle cx="108.3" cy="1853.3" r="3.5" fill="url(#gWs)"/>
<circle cx="124.3" cy="1815.1" r="3.5" fill="url(#gO)"/>
<circle cx="253" cy="1795.2" r="3.5" fill="url(#gO)"/>
<circle cx="105.6" cy="1899" r="3.5" fill="url(#gWs)"/>
<circle cx="99.9" cy="1863" r="3.5" fill="url(#gWs)"/>
<circle cx="124" cy="1802.5" r="3.5" fill="url(#gB)"/>
<circle cx="217.8" cy="1978.8" r="3.5" fill="url(#gO)"/>
<circle cx="107" cy="1907.4" r="3.5" fill="url(#gWs)"/>
<circle cx="190.2" cy="1785.8" r="3.5" fill="url(#gB)"/>
<circle cx="288.7" cy="1934.1" r="3.5" fill="url(#gWs)"/>
<circle cx="311.1" cy="1854.3" r="3.5" fill="url(#gWs)"/>
<circle cx="282" cy="1823.8" r="3.5" fill="url(#gO)"/>
<circle cx="111.1" cy="1866.8" r="3.5" fill="url(#gWs)"/>
<circle cx="134.2" cy="1940.3" r="3.5" fill="url(#gO)"/>
<circle cx="262.5" cy="1794.9" r="3.5" fill="url(#gO)"/>
<circle cx="136.4" cy="1956.2" r="3.5" fill="url(#gO)"/>
<circle cx="294.5" cy="1854.2" r="3.5" fill="url(#gWs)"/>
<circle cx="307.8" cy="1871.2" r="3.5" fill="url(#gWs)"/>
<circle cx="95.7" cy="1882.3" r="3.5" fill="url(#gWs)"/>
<circle cx="293.1" cy="1843.2" r="3.5" fill="url(#gWs)"/>
<circle cx="244.4" cy="1793.4" r="3.5" fill="url(#gWs)"/>
<circle cx="193.1" cy="1986.6" r="3.5" fill="url(#gO)"/>
<circle cx="250.2" cy="1957.7" r="3.5" fill="url(#gB)"/>
<circle cx="299.6" cy="1846.7" r="3.5" fill="url(#gO)"/>
<circle cx="105.2" cy="1883.4" r="3.5" fill="url(#gWs)"/>
<circle cx="98" cy="1907.7" r="3.5" fill="url(#gO)"/>
<circle cx="293.7" cy="1845.3" r="3.5" fill="url(#gWs)"/>
<circle cx="304.9" cy="1832.4" r="3.5" fill="url(#gWs)"/>
<circle cx="242" cy="1981.8" r="3.5" fill="url(#gO)"/>
<circle cx="134" cy="1956.5" r="3.5" fill="url(#gO)"/>
<circle cx="260" cy="1950.7" r="3.5" fill="url(#gWs)"/>
<circle cx="266.9" cy="1955.1" r="3.5" fill="url(#gO)"/>
<circle cx="250.7" cy="1789.4" r="3.5" fill="url(#gWs)"/>
<circle cx="261.5" cy="1971.7" r="3.5" fill="url(#gWs)"/>
<circle cx="101.8" cy="1863.7" r="3.5" fill="url(#gWs)"/>
<circle cx="244.8" cy="1962.6" r="3.5" fill="url(#gWs)"/>
<circle cx="166.7" cy="1790" r="3.5" fill="url(#gO)"/>
<circle cx="95.2" cy="1911.2" r="3.5" fill="url(#gWs)"/>
<circle cx="309.9" cy="1899.3" r="3.5" fill="url(#gWs)"/>
<circle cx="118.1" cy="1836" r="3.5" fill="url(#gWs)"/>
<circle cx="232.1" cy="1785.4" r="3.5" fill="url(#gO)"/>
<circle cx="114.2" cy="1817.5" r="3.5" fill="url(#gO)"/>
<circle cx="92.3" cy="1890.5" r="3.5" fill="url(#gWs)"/>
<circle cx="104.7" cy="1910.1" r="3.5" fill="url(#gWs)"/>
<circle cx="204.2" cy="1969.1" r="3.5" fill="url(#gB)"/>
<circle cx="296.2" cy="1917.6" r="3.5" fill="url(#gWs)"/>
<circle cx="126.7" cy="1827.8" r="3.5" fill="url(#gO)"/>
<circle cx="118.8" cy="1817.8" r="3.5" fill="url(#gO)"/>
<circle cx="238.3" cy="1790.5" r="3.5" fill="url(#gB)"/>
<circle cx="141.1" cy="1799.4" r="3.5" fill="url(#gWs)"/>
<circle cx="112.4" cy="1849.8" r="3.5" fill="url(#gWs)"/>
<circle cx="146" cy="1956" r="3.5" fill="url(#gWs)"/>
<circle cx="260.9" cy="1798.3" r="3.5" fill="url(#gB)"/>
<circle cx="250.2" cy="1961.8" r="3.5" fill="url(#gO)"/>
<circle cx="260.5" cy="1956.7" r="3.5" fill="url(#gWs)"/>
<circle cx="298.7" cy="1939.9" r="3.5" fill="url(#gWs)"/>
<circle cx="280.5" cy="1824.4" r="3.5" fill="url(#gWs)"/>
<circle cx="106" cy="1857.8" r="3.5" fill="url(#gWs)"/>
<circle cx="123" cy="1803.4" r="3.5" fill="url(#gO)"/>
<circle cx="314.3" cy="1875.3" r="3.5" fill="url(#gB)"/>
<circle cx="104.4" cy="1848.4" r="3.5" fill="url(#gB)"/>
<circle cx="104.8" cy="1922.1" r="3.5" fill="url(#gO)"/>
<circle cx="193.9" cy="1781.8" r="3.5" fill="url(#gWs)"/>
<circle cx="102.2" cy="1899.1" r="3.5" fill="url(#gWs)"/>
<circle cx="303.2" cy="1890.6" r="3.5" fill="url(#gO)"/>
<circle cx="97.5" cy="1902.5" r="3.5" fill="url(#gWs)"/>
<circle cx="186" cy="1973" r="3.5" fill="url(#gWs)"/>
<circle cx="93.8" cy="1886.9" r="3.5" fill="url(#gWs)"/>
<circle cx="272.1" cy="1947.3" r="3.5" fill="url(#gO)"/>
<circle cx="304.9" cy="1872.2" r="3.5" fill="url(#gWs)"/>
<circle cx="111.3" cy="1827.8" r="3.5" fill="url(#gO)"/>
<circle cx="212.3" cy="1985.8" r="3.5" fill="url(#gWs)"/>
<circle cx="251.5" cy="1967.4" r="3.5" fill="url(#gWs)"/>
<circle cx="302.6" cy="1906.7" r="3.5" fill="url(#gWs)"/>
<circle cx="111.9" cy="1850.3" r="3.5" fill="url(#gB)"/>
<circle cx="108.4" cy="1858.9" r="3.5" fill="url(#gB)"/>
<circle cx="296.1" cy="1850.7" r="3.5" fill="url(#gO)"/>
<circle cx="290.4" cy="1930.7" r="3.5" fill="url(#gO)"/>
<circle cx="90.2" cy="1882.4" r="3.2" fill="url(#gB)"/>
<circle cx="94.3" cy="1866.4" r="3.2" fill="url(#gB)"/>
<circle cx="87.8" cy="1864.1" r="3.2" fill="url(#gB)"/>
<circle cx="90.1" cy="1875.1" r="3.2" fill="url(#gB)"/>
<circle cx="82.9" cy="1863.4" r="3.2" fill="url(#gB)"/>
<circle cx="81.5" cy="1864.7" r="3.2" fill="url(#gB)"/>
<circle cx="89.6" cy="1864.6" r="3.2" fill="url(#gB)"/>
<circle cx="87.7" cy="1885.4" r="3.2" fill="url(#gB)"/>
<circle cx="82.4" cy="1886.7" r="3.2" fill="url(#gB)"/>
<circle cx="86.3" cy="1876.2" r="3.2" fill="url(#gB)"/>
<circle cx="310.8" cy="1838.6" r="3.2" fill="url(#gB)"/>
<circle cx="303.4" cy="1822.4" r="3.2" fill="url(#gB)"/>
<circle cx="310.4" cy="1818.5" r="3.2" fill="url(#gB)"/>
<circle cx="307.5" cy="1820.2" r="3.2" fill="url(#gB)"/>
<circle cx="304.5" cy="1839" r="3.2" fill="url(#gB)"/>
<circle cx="302.7" cy="1823.5" r="3.2" fill="url(#gB)"/>
<circle cx="283.1" cy="1971.9" r="3.2" fill="url(#gB)"/>
<circle cx="287.8" cy="1968.6" r="3.2" fill="url(#gB)"/>
<circle cx="279.8" cy="1954.8" r="3.2" fill="url(#gB)"/>
<circle cx="284.7" cy="1963.2" r="3.2" fill="url(#gB)"/>
<circle cx="285.7" cy="1964.1" r="3.2" fill="url(#gB)"/>
<circle cx="279.7" cy="1953.8" r="3.2" fill="url(#gB)"/>
<circle cx="212.8" cy="1766.8" r="3.2" fill="url(#gB)"/>
<circle cx="208.6" cy="1767.8" r="3.2" fill="url(#gB)"/>
<circle cx="212.9" cy="1767.8" r="3.2" fill="url(#gB)"/>
<circle cx="211.2" cy="1759.5" r="3.2" fill="url(#gB)"/>
<circle cx="220.6" cy="1769.9" r="3.2" fill="url(#gB)"/>
<circle cx="251" cy="1996.3" r="3.2" fill="url(#gB)"/>
<circle cx="246.7" cy="1984.2" r="3.2" fill="url(#gB)"/>
<circle cx="248.7" cy="1983.1" r="3.2" fill="url(#gB)"/>
<circle cx="245.8" cy="1988.2" r="3.2" fill="url(#gB)"/>
<circle cx="202.5" cy="1881" r="82.5" fill="none" stroke="#fff200" stroke-width="6" stroke-dasharray="16.6 16" stroke-dashoffset="0"/>
</g>
<g clip-path="url(#c_j1b)">
<circle cx="191.8" cy="2147.3" r="3.3" fill="url(#gWs)"/>
<circle cx="198.3" cy="2131.8" r="3.3" fill="url(#gWs)"/>
<circle cx="199.8" cy="2141.9" r="3.3" fill="url(#gWs)"/>
<circle cx="215.3" cy="2131.2" r="3.3" fill="url(#gWs)"/>
<circle cx="195.1" cy="2138.7" r="3.3" fill="url(#gB)"/>
<circle cx="219.6" cy="2135.2" r="3.3" fill="url(#gWs)"/>
<circle cx="231.9" cy="2151.1" r="3.3" fill="url(#gO)"/>
<circle cx="228.5" cy="2132.7" r="3.3" fill="url(#gO)"/>
<circle cx="233.7" cy="2143.2" r="3.3" fill="url(#gWs)"/>
<circle cx="226.1" cy="2131.4" r="3.3" fill="url(#gO)"/>
<circle cx="225.6" cy="2138" r="3.3" fill="url(#gB)"/>
<circle cx="255.4" cy="2153" r="3.3" fill="url(#gWs)"/>
<circle cx="264.2" cy="2149.8" r="3.3" fill="url(#gB)"/>
<circle cx="249.5" cy="2158.2" r="3.3" fill="url(#gO)"/>
<circle cx="255.8" cy="2154.6" r="3.3" fill="url(#gWs)"/>
<circle cx="279.5" cy="2155.2" r="3.3" fill="url(#gB)"/>
<circle cx="252" cy="2152.3" r="3.3" fill="url(#gWs)"/>
<circle cx="305.1" cy="2194" r="3.3" fill="url(#gWs)"/>
<circle cx="285.4" cy="2188" r="3.3" fill="url(#gWs)"/>
<circle cx="275" cy="2176.1" r="3.3" fill="url(#gWs)"/>
<circle cx="284.3" cy="2182" r="3.3" fill="url(#gWs)"/>
<circle cx="276.1" cy="2176.9" r="3.3" fill="url(#gWs)"/>
<circle cx="281.9" cy="2170.7" r="3.3" fill="url(#gWs)"/>
<circle cx="313.4" cy="2219.3" r="3.3" fill="url(#gWs)"/>
<circle cx="302" cy="2208.6" r="3.3" fill="url(#gWs)"/>
<circle cx="318.9" cy="2230.6" r="3.3" fill="url(#gWs)"/>
<circle cx="299.1" cy="2212.5" r="3.3" fill="url(#gWs)"/>
<circle cx="311.2" cy="2197.1" r="3.3" fill="url(#gWs)"/>
<circle cx="316.6" cy="2235" r="3.3" fill="url(#gWs)"/>
<circle cx="300.3" cy="2206.7" r="3.3" fill="url(#gB)"/>
<circle cx="318.6" cy="2253" r="3.3" fill="url(#gO)"/>
<circle cx="318.5" cy="2259.6" r="3.3" fill="url(#gB)"/>
<circle cx="308.4" cy="2279.7" r="3.3" fill="url(#gO)"/>
<circle cx="320.1" cy="2240.7" r="3.3" fill="url(#gO)"/>
<circle cx="307.3" cy="2243.5" r="3.3" fill="url(#gO)"/>
<circle cx="307.5" cy="2278.6" r="3.3" fill="url(#gWs)"/>
<circle cx="308.4" cy="2276" r="3.3" fill="url(#gB)"/>
<circle cx="318" cy="2305.8" r="3.3" fill="url(#gWs)"/>
<circle cx="314.2" cy="2319.3" r="3.3" fill="url(#gWs)"/>
<circle cx="317.2" cy="2283.3" r="3.3" fill="url(#gO)"/>
<circle cx="312.7" cy="2285.7" r="3.3" fill="url(#gWs)"/>
<circle cx="314.1" cy="2317.5" r="3.3" fill="url(#gWs)"/>
<circle cx="305" cy="2311.3" r="3.3" fill="url(#gB)"/>
<circle cx="307.3" cy="2284.8" r="3.3" fill="url(#gO)"/>
<circle cx="309" cy="2337.1" r="3.3" fill="url(#gB)"/>
<circle cx="302.8" cy="2325.3" r="3.3" fill="url(#gO)"/>
<circle cx="311.3" cy="2328.8" r="3.3" fill="url(#gWs)"/>
<circle cx="305.3" cy="2333.2" r="3.3" fill="url(#gWs)"/>
<circle cx="304.1" cy="2332.4" r="3.3" fill="url(#gWs)"/>
<circle cx="303.6" cy="2320.9" r="3.3" fill="url(#gO)"/>
<circle cx="274.4" cy="2385.1" r="3.3" fill="url(#gWs)"/>
<circle cx="275" cy="2378.9" r="3.3" fill="url(#gB)"/>
<circle cx="277.6" cy="2376.9" r="3.3" fill="url(#gO)"/>
<circle cx="286" cy="2364.2" r="3.3" fill="url(#gWs)"/>
<circle cx="273.5" cy="2371.1" r="3.3" fill="url(#gO)"/>
<circle cx="285.5" cy="2364.5" r="3.3" fill="url(#gB)"/>
<circle cx="267.4" cy="2387.7" r="3.3" fill="url(#gWs)"/>
<circle cx="277.8" cy="2392.3" r="3.3" fill="url(#gO)"/>
<circle cx="240.5" cy="2390.8" r="3.3" fill="url(#gO)"/>
<circle cx="246.8" cy="2401" r="3.3" fill="url(#gO)"/>
<circle cx="253.7" cy="2399.4" r="3.3" fill="url(#gWs)"/>
<circle cx="243.1" cy="2396.9" r="3.3" fill="url(#gO)"/>
<circle cx="226.4" cy="2394.3" r="3.3" fill="url(#gB)"/>
<circle cx="203.7" cy="2400.4" r="3.3" fill="url(#gWs)"/>
<circle cx="220.9" cy="2389.8" r="3.3" fill="url(#gO)"/>
<circle cx="217.3" cy="2398" r="3.3" fill="url(#gWs)"/>
<circle cx="243.4" cy="2409.7" r="3.3" fill="url(#gO)"/>
<circle cx="225.3" cy="2389.9" r="3.3" fill="url(#gB)"/>
<circle cx="203.4" cy="2406" r="3.3" fill="url(#gWs)"/>
<circle cx="164.2" cy="2392.4" r="3.3" fill="url(#gO)"/>
<circle cx="162.1" cy="2392.3" r="3.3" fill="url(#gWs)"/>
<circle cx="197.2" cy="2395.8" r="3.3" fill="url(#gB)"/>
<circle cx="188.5" cy="2409.7" r="3.3" fill="url(#gO)"/>
<circle cx="159.7" cy="2406.4" r="3.3" fill="url(#gO)"/>
<circle cx="170.1" cy="2399" r="3.3" fill="url(#gO)"/>
<circle cx="180" cy="2392.5" r="3.3" fill="url(#gWs)"/>
<circle cx="144.9" cy="2395.2" r="3.3" fill="url(#gWs)"/>
<circle cx="149.3" cy="2380.9" r="3.3" fill="url(#gB)"/>
<circle cx="157.3" cy="2390.5" r="3.3" fill="url(#gWs)"/>
<circle cx="140.2" cy="2388.1" r="3.3" fill="url(#gO)"/>
<circle cx="122.5" cy="2388.4" r="3.3" fill="url(#gWs)"/>
<circle cx="125.3" cy="2389.8" r="3.3" fill="url(#gO)"/>
<circle cx="129" cy="2382.4" r="3.3" fill="url(#gO)"/>
<circle cx="119.8" cy="2385.5" r="3.3" fill="url(#gO)"/>
<circle cx="112.1" cy="2379.5" r="3.3" fill="url(#gO)"/>
<circle cx="100.1" cy="2361.9" r="3.3" fill="url(#gO)"/>
<circle cx="112.1" cy="2364.3" r="3.3" fill="url(#gWs)"/>
<circle cx="108.5" cy="2361.5" r="3.3" fill="url(#gWs)"/>
<circle cx="125.4" cy="2371.2" r="3.3" fill="url(#gO)"/>
<circle cx="94" cy="2355.1" r="3.3" fill="url(#gWs)"/>
<circle cx="87.4" cy="2325.6" r="3.3" fill="url(#gO)"/>
<circle cx="100.8" cy="2350.4" r="3.3" fill="url(#gB)"/>
<circle cx="84.1" cy="2332" r="3.3" fill="url(#gO)"/>
<circle cx="105.1" cy="2351.1" r="3.3" fill="url(#gB)"/>
<circle cx="95.6" cy="2346.3" r="3.3" fill="url(#gWs)"/>
<circle cx="96" cy="2312.3" r="3.3" fill="url(#gWs)"/>
<circle cx="81.4" cy="2291.4" r="3.3" fill="url(#gWs)"/>
<circle cx="85.4" cy="2293" r="3.3" fill="url(#gWs)"/>
<circle cx="74.1" cy="2313.6" r="3.3" fill="url(#gWs)"/>
<circle cx="82" cy="2279.1" r="3.3" fill="url(#gB)"/>
<circle cx="71.8" cy="2294" r="3.3" fill="url(#gWs)"/>
<circle cx="70.8" cy="2304.5" r="3.3" fill="url(#gO)"/>
<circle cx="65.6" cy="2276.3" r="3.3" fill="url(#gO)"/>
<circle cx="84.9" cy="2243.6" r="3.3" fill="url(#gO)"/>
<circle cx="69.6" cy="2278.4" r="3.3" fill="url(#gWs)"/>
<circle cx="81.4" cy="2267.5" r="3.3" fill="url(#gWs)"/>
<circle cx="80.2" cy="2243" r="3.3" fill="url(#gB)"/>
<circle cx="63.5" cy="2252.2" r="3.3" fill="url(#gO)"/>
<circle cx="66.5" cy="2250.5" r="3.3" fill="url(#gWs)"/>
<circle cx="78.8" cy="2221" r="3.3" fill="url(#gO)"/>
<circle cx="76.7" cy="2205" r="3.3" fill="url(#gWs)"/>
<circle cx="74.4" cy="2230.6" r="3.3" fill="url(#gWs)"/>
<circle cx="76" cy="2223.3" r="3.3" fill="url(#gWs)"/>
<circle cx="88.1" cy="2205.7" r="3.3" fill="url(#gO)"/>
<circle cx="73.9" cy="2206.9" r="3.3" fill="url(#gWs)"/>
<circle cx="101.5" cy="2185.7" r="3.3" fill="url(#gWs)"/>
<circle cx="92.5" cy="2192.8" r="3.3" fill="url(#gO)"/>
<circle cx="101.2" cy="2184.7" r="3.3" fill="url(#gO)"/>
<circle cx="107.4" cy="2180.6" r="3.3" fill="url(#gWs)"/>
<circle cx="97.7" cy="2186.9" r="3.3" fill="url(#gWs)"/>
<circle cx="88.4" cy="2186.3" r="3.3" fill="url(#gWs)"/>
<circle cx="116.5" cy="2173.2" r="3.3" fill="url(#gWs)"/>
<circle cx="116.1" cy="2169.3" r="3.3" fill="url(#gB)"/>
<circle cx="117.9" cy="2175" r="3.3" fill="url(#gWs)"/>
<circle cx="137.2" cy="2163.7" r="3.3" fill="url(#gB)"/>
<circle cx="118.8" cy="2157.5" r="3.3" fill="url(#gO)"/>
<circle cx="106.1" cy="2169.8" r="3.3" fill="url(#gB)"/>
<circle cx="174.5" cy="2141.7" r="3.3" fill="url(#gWs)"/>
<circle cx="157" cy="2142" r="3.3" fill="url(#gWs)"/>
<circle cx="169.9" cy="2135.9" r="3.3" fill="url(#gWs)"/>
<circle cx="139.7" cy="2157.7" r="3.3" fill="url(#gWs)"/>
<circle cx="160.8" cy="2160.2" r="3.3" fill="url(#gWs)"/>
<circle cx="177.4" cy="2133.2" r="3.3" fill="url(#gB)"/>
<circle cx="177.9" cy="2130.3" r="3.3" fill="url(#gWs)"/>
<circle cx="161.1" cy="2151" r="3.3" fill="url(#gO)"/>
<path d="M185.6,2146.2 C189.6,2145.2 193,2146 196.5,2145.5 C199.9,2145.1 203.5,2144.7 206.2,2143.8 C208.9,2142.8 208.9,2139.8 212.6,2139.8 C216.4,2139.9 224.3,2143.3 228.9,2144.1 C233.5,2144.9 236.8,2144 240.3,2144.7 C243.8,2145.5 246.5,2146.7 249.8,2148.7 C253.2,2150.8 257.3,2154.8 260.2,2157 C263.2,2159.2 264.5,2159.4 267.6,2161.9 C270.7,2164.4 275.5,2169.4 278.9,2172.1 C282.3,2174.8 285.3,2175.6 288,2178.3 C290.6,2181 292.7,2184.9 294.8,2188.2 C296.9,2191.5 299.6,2193.6 300.6,2198.1 C301.6,2202.6 300.1,2210.7 300.8,2215.2 C301.6,2219.7 303.3,2220.8 305.2,2225.2 C307.1,2229.7 311.7,2236.8 312.4,2241.9 C313.1,2246.9 309.8,2251.4 309.6,2255.6 C309.5,2259.9 311.4,2263.1 311.5,2267.6 C311.7,2272 310.7,2277.5 310.5,2282.2 C310.4,2286.9 310.8,2291.8 310.6,2295.7 C310.4,2299.6 310.4,2301.9 309.3,2305.7 C308.2,2309.4 306.2,2314.6 304.3,2318.3 C302.5,2322 299.9,2324.1 298.2,2327.8 C296.5,2331.5 295.8,2336.7 294,2340.5 C292.2,2344.4 289.4,2347.8 287.5,2350.9 C285.6,2354 284.1,2355.9 282.5,2359 C281,2362.2 280.5,2366.4 278.3,2369.9 C276,2373.4 272,2377.8 269.1,2379.9 C266.2,2382.1 263.8,2381.5 261,2382.8 C258.2,2384.1 255.7,2385.3 252.4,2387.6 C249.1,2389.9 245.9,2395.1 241.2,2396.7 C236.6,2398.4 229,2397.3 224.3,2397.4 C219.5,2397.6 217.1,2397.7 212.7,2397.4 C208.2,2397.1 202.1,2395.4 197.5,2395.7 C192.9,2396 189.4,2399 185.1,2399.3 C180.8,2399.5 175.6,2397.6 171.8,2397.3 C168,2396.9 166.2,2398.5 162.1,2397.2 C158.1,2395.9 151.8,2391.1 147.6,2389.3 C143.3,2387.5 140.9,2387.7 136.8,2386.4 C132.7,2385 125.9,2383.7 123,2381.2 C120.2,2378.8 122.1,2375 119.8,2371.8 C117.5,2368.6 112.2,2366 109.3,2362.2 C106.5,2358.5 104.4,2352.6 103,2349.2 C101.5,2345.8 102,2344.9 100.6,2342.1 C99.1,2339.2 95.9,2336 94.2,2332.1 C92.5,2328.3 91.6,2323.6 90.2,2319.1 C88.8,2314.6 87.3,2309.6 85.8,2305.1 C84.3,2300.5 82,2295.3 81.2,2291.6 C80.4,2287.8 81.5,2287 80.9,2282.5 C80.3,2278 77.6,2269.2 77.6,2264.4 C77.7,2259.6 81.1,2257.8 81.1,2253.5 C81.1,2249.2 77.4,2242.6 77.5,2238.7 C77.6,2234.8 80.7,2233.7 81.8,2230 C83,2226.2 83.8,2220.1 84.4,2216.3 C85.1,2212.5 84.4,2210.4 85.8,2207.1 C87.2,2203.8 89.9,2200.1 93,2196.6 C96.1,2193.2 101.3,2188.9 104.4,2186.5 C107.4,2184.1 108.4,2184.2 111.2,2182.2 C113.9,2180.3 117.8,2177.4 120.7,2174.8 C123.5,2172.1 125.1,2168.5 128,2166.3 C131,2164.2 133.9,2163.7 138.2,2161.7 C142.6,2159.8 148.3,2156.4 154,2154.8 C159.7,2153.1 167.2,2153.2 172.5,2151.8 C177.8,2150.3 181.6,2147.2 185.6,2146.2Z" fill="url(#pOP)"/>
<circle cx="190.7" cy="2370.6" r="3.2" fill="url(#gB)"/>
<circle cx="259.3" cy="2356.3" r="3.2" fill="url(#gB)"/>
<circle cx="264.7" cy="2359.2" r="3.2" fill="url(#gB)"/>
<circle cx="216.8" cy="2357.6" r="3.2" fill="url(#gB)"/>
<circle cx="231.6" cy="2373.6" r="3.2" fill="url(#gO)"/>
<circle cx="152.5" cy="2360.3" r="3.2" fill="url(#gB)"/>
<circle cx="269.1" cy="2379" r="3.2" fill="url(#gO)"/>
<circle cx="238.8" cy="2360" r="3.2" fill="url(#gB)"/>
<circle cx="226.6" cy="2384.3" r="3.2" fill="url(#gB)"/>
<circle cx="126.9" cy="2366.4" r="3.2" fill="url(#gB)"/>
<circle cx="159.8" cy="2387.6" r="3.2" fill="url(#gB)"/>
<circle cx="262.7" cy="2390.3" r="3.2" fill="url(#gB)"/>
<circle cx="176.4" cy="2375.2" r="3.2" fill="url(#gB)"/>
<circle cx="184.2" cy="2391.4" r="3.2" fill="url(#gB)"/>
<circle cx="213.5" cy="2360.7" r="3.2" fill="url(#gB)"/>
<circle cx="264.2" cy="2363.9" r="3.2" fill="url(#gB)"/>
<circle cx="126.2" cy="2377.1" r="3.2" fill="url(#gB)"/>
<circle cx="126.4" cy="2375.4" r="3.2" fill="url(#gO)"/>
<circle cx="179.7" cy="2380.9" r="3.2" fill="url(#gB)"/>
<circle cx="210.6" cy="2362.7" r="3.2" fill="url(#gWs)"/>
<circle cx="121.2" cy="2377.6" r="3.2" fill="url(#gO)"/>
<circle cx="157.6" cy="2394.8" r="3.2" fill="url(#gO)"/>
<circle cx="231.9" cy="2393.1" r="3.2" fill="url(#gB)"/>
<circle cx="215.9" cy="2357.7" r="3.2" fill="url(#gB)"/>
<circle cx="226.6" cy="2379" r="3.2" fill="url(#gO)"/>
<circle cx="171" cy="2389.7" r="3.2" fill="url(#gB)"/>
<circle cx="188.7" cy="2371.7" r="3.2" fill="url(#gO)"/>
<circle cx="115.1" cy="2387.2" r="3.2" fill="url(#gB)"/>
<circle cx="185.7" cy="2364.3" r="3.2" fill="url(#gB)"/>
<circle cx="167.2" cy="2359.5" r="3.2" fill="url(#gO)"/>
<circle cx="245.3" cy="2357" r="3.2" fill="url(#gWs)"/>
<circle cx="196.5" cy="2383.7" r="3.2" fill="url(#gB)"/>
<circle cx="237.4" cy="2372.6" r="3.2" fill="url(#gB)"/>
<circle cx="275.9" cy="2371.6" r="3.2" fill="url(#gB)"/>
<circle cx="258.2" cy="2370.4" r="3.2" fill="url(#gO)"/>
<circle cx="255.4" cy="2366.1" r="3.2" fill="url(#gB)"/>
<circle cx="277.8" cy="2362.7" r="3.2" fill="url(#gWs)"/>
<circle cx="215.1" cy="2356.5" r="3.2" fill="url(#gB)"/>
<circle cx="147.5" cy="2371.2" r="3.2" fill="url(#gWs)"/>
<circle cx="172.3" cy="2361.5" r="3.2" fill="url(#gB)"/>
<circle cx="135.3" cy="2359.4" r="3.2" fill="url(#gB)"/>
<circle cx="230.3" cy="2358.6" r="3.2" fill="url(#gB)"/>
<circle cx="231.7" cy="2385.8" r="3.2" fill="url(#gB)"/>
<circle cx="262.8" cy="2362.6" r="3.2" fill="url(#gWs)"/>
<circle cx="261.6" cy="2375.3" r="3.2" fill="url(#gB)"/>
<circle cx="120.2" cy="2376.6" r="3.2" fill="url(#gB)"/>
<circle cx="219" cy="2359.3" r="3.2" fill="url(#gO)"/>
<circle cx="114.2" cy="2362.9" r="3.2" fill="url(#gB)"/>
<circle cx="207.1" cy="2371.1" r="3.2" fill="url(#gB)"/>
<circle cx="194" cy="2392.9" r="3.2" fill="url(#gB)"/>
<circle cx="272" cy="2357.1" r="3.2" fill="url(#gWs)"/>
<circle cx="204.5" cy="2376.4" r="3.2" fill="url(#gB)"/>
<circle cx="266.6" cy="2358.6" r="3.2" fill="url(#gO)"/>
<circle cx="163.1" cy="2384.3" r="3.2" fill="url(#gO)"/>
<circle cx="230.9" cy="2373.7" r="3.2" fill="url(#gB)"/>
<circle cx="220.2" cy="2358.1" r="3.2" fill="url(#gO)"/>
<circle cx="261.4" cy="2365" r="3.2" fill="url(#gWs)"/>
<circle cx="218.2" cy="2390.2" r="3.2" fill="url(#gB)"/>
<circle cx="213.5" cy="2379.9" r="3.2" fill="url(#gO)"/>
<circle cx="123.7" cy="2363.4" r="3.2" fill="url(#gO)"/>
<circle cx="123" cy="2369.8" r="3.2" fill="url(#gB)"/>
<circle cx="203" cy="2357" r="3.2" fill="url(#gO)"/>
<circle cx="245.1" cy="2356.3" r="3.2" fill="url(#gO)"/>
<circle cx="278" cy="2394.5" r="3.2" fill="url(#gO)"/>
<circle cx="171.3" cy="2365" r="3.2" fill="url(#gO)"/>
<circle cx="149.6" cy="2360.3" r="3.2" fill="url(#gB)"/>
<circle cx="271.5" cy="2394.1" r="3.2" fill="url(#gB)"/>
<circle cx="238" cy="2374.2" r="3.2" fill="url(#gB)"/>
<circle cx="174.8" cy="2380.8" r="3.2" fill="url(#gB)"/>
<circle cx="155.6" cy="2376.2" r="3.2" fill="url(#gB)"/>
<circle cx="186.7" cy="2392.8" r="3.2" fill="url(#gB)"/>
<circle cx="129.6" cy="2387.2" r="3.2" fill="url(#gB)"/>
<circle cx="154.7" cy="2389.2" r="3.2" fill="url(#gO)"/>
<circle cx="122" cy="2366.7" r="3.2" fill="url(#gB)"/>
<circle cx="248" cy="2394" r="3.2" fill="url(#gWs)"/>
<circle cx="270.2" cy="2390.2" r="3.2" fill="url(#gWs)"/>
<circle cx="128.1" cy="2368.4" r="3.2" fill="url(#gB)"/>
<circle cx="214.7" cy="2375.2" r="3.2" fill="url(#gB)"/>
<circle cx="254.3" cy="2371.6" r="3.2" fill="url(#gB)"/>
<circle cx="159" cy="2374" r="3.2" fill="url(#gO)"/>
<circle cx="186.8" cy="2363.3" r="3.2" fill="url(#gB)"/>
<circle cx="167.3" cy="2362.7" r="3.2" fill="url(#gB)"/>
<circle cx="144.1" cy="2383.8" r="3.2" fill="url(#gO)"/>
<circle cx="218.3" cy="2369.2" r="3.2" fill="url(#gB)"/>
<circle cx="215.1" cy="2385.7" r="3.2" fill="url(#gWs)"/>
<circle cx="147.9" cy="2377.1" r="3.2" fill="url(#gB)"/>
<circle cx="115.3" cy="2377.5" r="3.2" fill="url(#gB)"/>
<circle cx="259.4" cy="2368.6" r="3.2" fill="url(#gO)"/>
<circle cx="128.8" cy="2384" r="3.2" fill="url(#gB)"/>
<circle cx="202.7" cy="2358.8" r="3.2" fill="url(#gB)"/>
<circle cx="280.4" cy="2315.8" r="3.2" fill="url(#gB)"/>
<circle cx="282.8" cy="2179.4" r="3.2" fill="url(#gWs)"/>
<circle cx="293.1" cy="2266.9" r="3.2" fill="url(#gWs)"/>
<circle cx="299.7" cy="2174.3" r="3.2" fill="url(#gB)"/>
<circle cx="290.2" cy="2198.6" r="3.2" fill="url(#gB)"/>
<circle cx="297.9" cy="2182.8" r="3.2" fill="url(#gWs)"/>
<circle cx="298.4" cy="2151.7" r="3.2" fill="url(#gB)"/>
<circle cx="307.9" cy="2236.2" r="3.2" fill="url(#gWs)"/>
<circle cx="288.6" cy="2285.8" r="3.2" fill="url(#gB)"/>
<circle cx="302.3" cy="2231.3" r="3.2" fill="url(#gB)"/>
<circle cx="303.2" cy="2209.6" r="3.2" fill="url(#gB)"/>
<circle cx="297.9" cy="2258.2" r="3.2" fill="url(#gO)"/>
<circle cx="302.8" cy="2183.6" r="3.2" fill="url(#gO)"/>
<circle cx="285.8" cy="2174.2" r="3.2" fill="url(#gB)"/>
<circle cx="285.7" cy="2312.4" r="3.2" fill="url(#gB)"/>
<circle cx="293.6" cy="2273.4" r="3.2" fill="url(#gWs)"/>
<circle cx="299.8" cy="2318.5" r="3.2" fill="url(#gB)"/>
<circle cx="302.5" cy="2161" r="3.2" fill="url(#gB)"/>
<circle cx="301" cy="2233.4" r="3.2" fill="url(#gWs)"/>
<circle cx="307.2" cy="2315.2" r="3.2" fill="url(#gB)"/>
<circle cx="307.5" cy="2213.8" r="3.2" fill="url(#gWs)"/>
<circle cx="295.6" cy="2183.5" r="3.2" fill="url(#gWs)"/>
<circle cx="309.7" cy="2270.7" r="3.2" fill="url(#gB)"/>
<circle cx="303.8" cy="2160.2" r="3.2" fill="url(#gO)"/>
<circle cx="288.2" cy="2299.8" r="3.2" fill="url(#gB)"/>
<circle cx="282.2" cy="2203.6" r="3.2" fill="url(#gB)"/>
<circle cx="293.7" cy="2290.3" r="3.2" fill="url(#gO)"/>
<circle cx="284.2" cy="2181.2" r="3.2" fill="url(#gO)"/>
<circle cx="296.7" cy="2270.1" r="3.2" fill="url(#gWs)"/>
<circle cx="307.1" cy="2292.2" r="3.2" fill="url(#gB)"/>
<circle cx="309.8" cy="2218.3" r="3.2" fill="url(#gB)"/>
<circle cx="295" cy="2201.4" r="3.2" fill="url(#gB)"/>
<circle cx="298.3" cy="2302.7" r="3.2" fill="url(#gB)"/>
<circle cx="293.9" cy="2323.6" r="3.2" fill="url(#gB)"/>
<circle cx="309.5" cy="2260.3" r="3.2" fill="url(#gB)"/>
<circle cx="284.4" cy="2152.5" r="3.2" fill="url(#gB)"/>
<circle cx="291.8" cy="2245.2" r="3.2" fill="url(#gO)"/>
<circle cx="292.1" cy="2152.7" r="3.2" fill="url(#gB)"/>
<circle cx="287.8" cy="2205.9" r="3.2" fill="url(#gB)"/>
<circle cx="308.9" cy="2264.5" r="3.2" fill="url(#gB)"/>
<circle cx="291.1" cy="2264.9" r="3.2" fill="url(#gWs)"/>
<circle cx="300.3" cy="2155.3" r="3.2" fill="url(#gB)"/>
<circle cx="279.5" cy="2158.4" r="3.2" fill="url(#gWs)"/>
<circle cx="297.9" cy="2214.5" r="3.2" fill="url(#gO)"/>
<circle cx="301.7" cy="2277" r="3.2" fill="url(#gO)"/>
<circle cx="297.1" cy="2253" r="3.2" fill="url(#gO)"/>
<circle cx="307.6" cy="2269.2" r="3.2" fill="url(#gB)"/>
<circle cx="308.8" cy="2242.8" r="3.2" fill="url(#gB)"/>
<circle cx="287.8" cy="2325.3" r="3.2" fill="url(#gB)"/>
<circle cx="304.2" cy="2201.8" r="3.2" fill="url(#gB)"/>
<circle cx="197.5" cy="2272.5" r="83" fill="none" stroke="#fff200" stroke-width="6" stroke-dasharray="16.6 16" stroke-dashoffset="0"/>
<path d="M21.5,2081.3 L100,2081.3 L21.5,2202 Z" fill="#fff"/>
<path d="M386.6,2337 L386.6,2471 L300,2471 Z" fill="#fff"/>
</g>
<g clip-path="url(#c_j2t)">
<circle cx="479.2" cy="1750.4" r="3.3" fill="url(#gWs)"/>
<circle cx="482.5" cy="1759" r="3.3" fill="url(#gB)"/>
<circle cx="467.5" cy="1758.3" r="3.3" fill="url(#gWs)"/>
<circle cx="486.4" cy="1765.6" r="3.3" fill="url(#gWs)"/>
<circle cx="482.9" cy="1753.1" r="3.3" fill="url(#gWs)"/>
<circle cx="510.3" cy="1740.8" r="3.3" fill="url(#gWs)"/>
<circle cx="513.2" cy="1754.8" r="3.3" fill="url(#gWs)"/>
<circle cx="512.9" cy="1754.5" r="3.3" fill="url(#gWs)"/>
<circle cx="508" cy="1747.8" r="3.3" fill="url(#gWs)"/>
<circle cx="498.2" cy="1750.5" r="3.3" fill="url(#gWs)"/>
<circle cx="514.7" cy="1748.4" r="3.3" fill="url(#gWs)"/>
<circle cx="525.6" cy="1745.6" r="3.3" fill="url(#gB)"/>
<circle cx="548.5" cy="1752.9" r="3.3" fill="url(#gWs)"/>
<circle cx="549.3" cy="1739.3" r="3.3" fill="url(#gWs)"/>
<circle cx="517.7" cy="1735.5" r="3.3" fill="url(#gB)"/>
<circle cx="528.4" cy="1736.5" r="3.3" fill="url(#gB)"/>
<circle cx="539.8" cy="1736.3" r="3.3" fill="url(#gB)"/>
<circle cx="574.1" cy="1739.8" r="3.3" fill="url(#gWs)"/>
<circle cx="581.9" cy="1745" r="3.3" fill="url(#gWs)"/>
<circle cx="557.3" cy="1750.2" r="3.3" fill="url(#gWs)"/>
<circle cx="568.6" cy="1729.2" r="3.3" fill="url(#gB)"/>
<circle cx="577.1" cy="1744.4" r="3.3" fill="url(#gWs)"/>
<circle cx="569.9" cy="1744.1" r="3.3" fill="url(#gB)"/>
<circle cx="628.1" cy="1732.6" r="3.3" fill="url(#gWs)"/>
<circle cx="606.5" cy="1741.1" r="3.3" fill="url(#gWs)"/>
<circle cx="589.5" cy="1736.4" r="3.3" fill="url(#gB)"/>
<circle cx="594.8" cy="1734.1" r="3.3" fill="url(#gB)"/>
<circle cx="594.9" cy="1745.1" r="3.3" fill="url(#gWs)"/>
<circle cx="620.8" cy="1733.5" r="3.3" fill="url(#gWs)"/>
<circle cx="637.8" cy="1751.6" r="3.3" fill="url(#gWs)"/>
<circle cx="644.5" cy="1753.3" r="3.3" fill="url(#gWs)"/>
<circle cx="662" cy="1740.4" r="3.3" fill="url(#gB)"/>
<circle cx="632.5" cy="1741.3" r="3.3" fill="url(#gB)"/>
<circle cx="646.3" cy="1737.6" r="3.3" fill="url(#gB)"/>
<circle cx="660.5" cy="1745.8" r="3.3" fill="url(#gWs)"/>
<circle cx="684.2" cy="1757.4" r="3.3" fill="url(#gWs)"/>
<circle cx="692.6" cy="1754.7" r="3.3" fill="url(#gB)"/>
<circle cx="682.6" cy="1736.1" r="3.3" fill="url(#gB)"/>
<circle cx="685.1" cy="1744.8" r="3.3" fill="url(#gWs)"/>
<circle cx="672" cy="1736.6" r="3.3" fill="url(#gB)"/>
<circle cx="671.4" cy="1753" r="3.3" fill="url(#gWs)"/>
<circle cx="706.7" cy="1749.7" r="3.3" fill="url(#gWs)"/>
<circle cx="699.1" cy="1746.8" r="3.3" fill="url(#gWs)"/>
<circle cx="707.6" cy="1752.9" r="3.3" fill="url(#gWs)"/>
<circle cx="714.4" cy="1755.2" r="3.3" fill="url(#gWs)"/>
<circle cx="725.7" cy="1765.7" r="3.3" fill="url(#gWs)"/>
<circle cx="718.3" cy="1768.9" r="3.3" fill="url(#gWs)"/>
<circle cx="724.9" cy="1771.8" r="3.3" fill="url(#gWs)"/>
<circle cx="727.7" cy="1767.3" r="3.3" fill="url(#gWs)"/>
<circle cx="712.1" cy="1763.1" r="3.3" fill="url(#gB)"/>
<circle cx="717" cy="1789.2" r="3.3" fill="url(#gB)"/>
<circle cx="724.8" cy="1790" r="3.3" fill="url(#gWs)"/>
<circle cx="729.6" cy="1806.2" r="3.3" fill="url(#gWs)"/>
<circle cx="729.1" cy="1782.5" r="3.3" fill="url(#gB)"/>
<circle cx="728.5" cy="1804.5" r="3.3" fill="url(#gWs)"/>
<circle cx="729.9" cy="1787.1" r="3.3" fill="url(#gWs)"/>
<circle cx="722.5" cy="1851.1" r="3.3" fill="url(#gB)"/>
<circle cx="733" cy="1851.7" r="3.3" fill="url(#gWs)"/>
<circle cx="719.9" cy="1824.6" r="3.3" fill="url(#gWs)"/>
<circle cx="739" cy="1864.5" r="3.3" fill="url(#gWs)"/>
<circle cx="712.3" cy="1829.3" r="3.3" fill="url(#gB)"/>
<circle cx="725.6" cy="1821.8" r="3.3" fill="url(#gWs)"/>
<circle cx="735.1" cy="1824.7" r="3.3" fill="url(#gWs)"/>
<circle cx="725.8" cy="1849" r="3.3" fill="url(#gB)"/>
<circle cx="728.1" cy="1878.2" r="3.3" fill="url(#gB)"/>
<circle cx="724.1" cy="1908.1" r="3.3" fill="url(#gWs)"/>
<circle cx="726.6" cy="1911.6" r="3.3" fill="url(#gWs)"/>
<circle cx="733.2" cy="1912.6" r="3.3" fill="url(#gB)"/>
<circle cx="720.3" cy="1907.7" r="3.3" fill="url(#gWs)"/>
<circle cx="719.9" cy="1908.5" r="3.3" fill="url(#gWs)"/>
<circle cx="734.3" cy="1897.6" r="3.3" fill="url(#gWs)"/>
<circle cx="739.6" cy="1874" r="3.3" fill="url(#gB)"/>
<circle cx="728.1" cy="1937.7" r="3.3" fill="url(#gB)"/>
<circle cx="723.8" cy="1949.1" r="3.3" fill="url(#gB)"/>
<circle cx="713.9" cy="1917.6" r="3.3" fill="url(#gB)"/>
<circle cx="722.2" cy="1923.4" r="3.3" fill="url(#gB)"/>
<circle cx="735.8" cy="1921.4" r="3.3" fill="url(#gWs)"/>
<circle cx="730.6" cy="1922.8" r="3.3" fill="url(#gWs)"/>
<circle cx="722.6" cy="1981" r="3.3" fill="url(#gWs)"/>
<circle cx="715.1" cy="1975.3" r="3.3" fill="url(#gB)"/>
<circle cx="715.9" cy="1989.6" r="3.3" fill="url(#gWs)"/>
<circle cx="705.9" cy="1978.1" r="3.3" fill="url(#gWs)"/>
<circle cx="721.5" cy="1966.6" r="3.3" fill="url(#gWs)"/>
<circle cx="712" cy="1980.3" r="3.3" fill="url(#gB)"/>
<circle cx="696.8" cy="1999.4" r="3.3" fill="url(#gB)"/>
<circle cx="706.3" cy="1993.2" r="3.3" fill="url(#gB)"/>
<circle cx="693.2" cy="2004.1" r="3.3" fill="url(#gB)"/>
<circle cx="701.5" cy="2017.5" r="3.3" fill="url(#gWs)"/>
<circle cx="696.2" cy="2001.5" r="3.3" fill="url(#gWs)"/>
<circle cx="689.3" cy="2018.3" r="3.3" fill="url(#gB)"/>
<circle cx="667.8" cy="2015.2" r="3.3" fill="url(#gWs)"/>
<circle cx="674.9" cy="2006.7" r="3.3" fill="url(#gWs)"/>
<circle cx="678.4" cy="2008.8" r="3.3" fill="url(#gB)"/>
<circle cx="685.7" cy="2020.6" r="3.3" fill="url(#gB)"/>
<circle cx="673.4" cy="2015.8" r="3.3" fill="url(#gWs)"/>
<circle cx="649.2" cy="2040" r="3.3" fill="url(#gWs)"/>
<circle cx="648.9" cy="2041.3" r="3.3" fill="url(#gWs)"/>
<circle cx="643.6" cy="2053.4" r="3.3" fill="url(#gB)"/>
<circle cx="653.8" cy="2030.4" r="3.3" fill="url(#gWs)"/>
<circle cx="654.4" cy="2050.7" r="3.3" fill="url(#gWs)"/>
<circle cx="653.9" cy="2040.7" r="3.3" fill="url(#gWs)"/>
<circle cx="656.2" cy="2025.5" r="3.3" fill="url(#gWs)"/>
<circle cx="617.3" cy="2036.1" r="3.3" fill="url(#gWs)"/>
<circle cx="614.7" cy="2059.5" r="3.3" fill="url(#gWs)"/>
<circle cx="617.4" cy="2054" r="3.3" fill="url(#gWs)"/>
<circle cx="627.3" cy="2046.6" r="3.3" fill="url(#gB)"/>
<circle cx="589" cy="2054.7" r="3.3" fill="url(#gB)"/>
<circle cx="598.6" cy="2041.9" r="3.3" fill="url(#gWs)"/>
<circle cx="594.4" cy="2040.7" r="3.3" fill="url(#gWs)"/>
<circle cx="597.1" cy="2047.1" r="3.3" fill="url(#gB)"/>
<circle cx="567.8" cy="2030.3" r="3.3" fill="url(#gWs)"/>
<circle cx="574.2" cy="2045.8" r="3.3" fill="url(#gWs)"/>
<circle cx="564.7" cy="2038.1" r="3.3" fill="url(#gWs)"/>
<circle cx="554.6" cy="2032.7" r="3.3" fill="url(#gWs)"/>
<circle cx="577.2" cy="2045.6" r="3.3" fill="url(#gWs)"/>
<circle cx="541.5" cy="2032.9" r="3.3" fill="url(#gB)"/>
<circle cx="537.1" cy="2032.7" r="3.3" fill="url(#gWs)"/>
<circle cx="531.5" cy="2022.5" r="3.3" fill="url(#gWs)"/>
<circle cx="531.6" cy="2024.9" r="3.3" fill="url(#gWs)"/>
<circle cx="525.2" cy="2008.6" r="3.3" fill="url(#gWs)"/>
<circle cx="531.1" cy="2026.2" r="3.3" fill="url(#gWs)"/>
<circle cx="511.3" cy="2012.4" r="3.3" fill="url(#gWs)"/>
<circle cx="505.6" cy="2006" r="3.3" fill="url(#gB)"/>
<circle cx="498.5" cy="2021.9" r="3.3" fill="url(#gB)"/>
<circle cx="506.4" cy="2023.6" r="3.3" fill="url(#gB)"/>
<circle cx="511.5" cy="2007.4" r="3.3" fill="url(#gWs)"/>
<circle cx="476.6" cy="1983.6" r="3.3" fill="url(#gB)"/>
<circle cx="477.5" cy="1997.8" r="3.3" fill="url(#gWs)"/>
<circle cx="470.4" cy="1982.5" r="3.3" fill="url(#gB)"/>
<circle cx="480.8" cy="1998" r="3.3" fill="url(#gB)"/>
<circle cx="476.2" cy="1994.2" r="3.3" fill="url(#gWs)"/>
<circle cx="463" cy="1967.6" r="3.3" fill="url(#gB)"/>
<circle cx="447" cy="1968.4" r="3.3" fill="url(#gB)"/>
<circle cx="471.9" cy="1981.1" r="3.3" fill="url(#gWs)"/>
<circle cx="454.5" cy="1949.3" r="3.3" fill="url(#gWs)"/>
<circle cx="454.1" cy="1965.6" r="3.3" fill="url(#gWs)"/>
<circle cx="456.9" cy="1978.7" r="3.3" fill="url(#gWs)"/>
<circle cx="461.5" cy="1984.8" r="3.3" fill="url(#gWs)"/>
<circle cx="437.9" cy="1932.7" r="3.3" fill="url(#gWs)"/>
<circle cx="432.1" cy="1925.4" r="3.3" fill="url(#gB)"/>
<circle cx="438.6" cy="1947.1" r="3.3" fill="url(#gWs)"/>
<circle cx="445.3" cy="1950.3" r="3.3" fill="url(#gWs)"/>
<circle cx="435.6" cy="1927.6" r="3.3" fill="url(#gWs)"/>
<circle cx="443.9" cy="1938" r="3.3" fill="url(#gB)"/>
<circle cx="435.9" cy="1888.1" r="3.3" fill="url(#gB)"/>
<circle cx="448.4" cy="1914.2" r="3.3" fill="url(#gWs)"/>
<circle cx="445" cy="1907.3" r="3.3" fill="url(#gWs)"/>
<circle cx="440.9" cy="1896.9" r="3.3" fill="url(#gB)"/>
<circle cx="446.5" cy="1871.5" r="3.3" fill="url(#gB)"/>
<circle cx="435.3" cy="1915.3" r="3.3" fill="url(#gWs)"/>
<circle cx="446.5" cy="1872.2" r="3.3" fill="url(#gWs)"/>
<circle cx="450.7" cy="1869.9" r="3.3" fill="url(#gWs)"/>
<circle cx="436.2" cy="1835.3" r="3.3" fill="url(#gB)"/>
<circle cx="437.9" cy="1866.3" r="3.3" fill="url(#gWs)"/>
<circle cx="447.2" cy="1860.2" r="3.3" fill="url(#gWs)"/>
<circle cx="448.5" cy="1843.4" r="3.3" fill="url(#gWs)"/>
<circle cx="431" cy="1862.8" r="3.3" fill="url(#gWs)"/>
<circle cx="449.3" cy="1851.2" r="3.3" fill="url(#gWs)"/>
<circle cx="451.8" cy="1810.5" r="3.3" fill="url(#gWs)"/>
<circle cx="461.4" cy="1805.2" r="3.3" fill="url(#gWs)"/>
<circle cx="443" cy="1828.1" r="3.3" fill="url(#gB)"/>
<circle cx="454.9" cy="1830.6" r="3.3" fill="url(#gB)"/>
<circle cx="442.2" cy="1802.6" r="3.3" fill="url(#gB)"/>
<circle cx="455.8" cy="1835.3" r="3.3" fill="url(#gB)"/>
<circle cx="459" cy="1770.7" r="3.3" fill="url(#gWs)"/>
<circle cx="459.8" cy="1773.4" r="3.3" fill="url(#gWs)"/>
<circle cx="447.9" cy="1780.1" r="3.3" fill="url(#gB)"/>
<circle cx="470.4" cy="1779.6" r="3.3" fill="url(#gB)"/>
<circle cx="457.6" cy="1796.2" r="3.3" fill="url(#gWs)"/>
<path d="M467.1,1768.3 C468.9,1765.4 473.8,1765 476.6,1763.9 C479.4,1762.7 481.7,1762.3 483.8,1761.3 C486,1760.4 486.7,1759 489.3,1758 C491.9,1757 496,1756.5 499.4,1755.3 C502.8,1754.2 506,1751.7 509.7,1751.3 C513.4,1750.8 518,1753.2 521.6,1752.6 C525.2,1752.1 527.3,1748.4 531.1,1747.9 C535,1747.5 540.6,1750.3 544.6,1749.9 C548.7,1749.5 551.3,1746.8 555.4,1745.5 C559.5,1744.2 565.1,1742.7 569.4,1742.1 C573.6,1741.4 577.5,1742.1 580.8,1741.6 C584.1,1741.1 585.7,1738.7 589.2,1739.1 C592.7,1739.5 597.8,1743.3 601.7,1744.2 C605.6,1745.2 608.6,1744.6 612.7,1744.7 C616.9,1744.9 622.5,1745.4 626.7,1745.4 C630.9,1745.3 634.6,1744.5 638.1,1744.6 C641.5,1744.8 643.4,1745.6 647.5,1746.2 C651.5,1746.8 658.2,1747.5 662.4,1748.1 C666.6,1748.7 668.6,1749.6 672.4,1749.8 C676.2,1749.9 680.6,1748.8 684.9,1749.2 C689.3,1749.5 695.6,1751.2 698.5,1752 C701.3,1752.8 700.2,1752.8 702.1,1753.7 C703.9,1754.6 707.3,1757 709.8,1757.5 C712.3,1758.1 715.6,1755.6 717.1,1756.9 C718.7,1758.3 719.1,1761.9 719.1,1765.4 C719,1768.9 717.4,1774.5 716.9,1778 C716.5,1781.4 716.3,1782.5 716.3,1785.9 C716.2,1789.4 715.7,1794.7 716.5,1798.7 C717.3,1802.7 720,1806.4 721,1810.1 C722,1813.8 722,1816 722.4,1820.7 C722.7,1825.3 722.7,1832.5 723,1837.9 C723.2,1843.3 723.3,1847.4 723.9,1853 C724.5,1858.5 726.8,1865.8 726.7,1871.2 C726.6,1876.6 724.5,1880.5 723.4,1885.5 C722.2,1890.5 720.2,1895.8 719.8,1901.3 C719.4,1906.8 721.1,1914.2 721.2,1918.5 C721.4,1922.7 721.3,1923.1 720.6,1926.8 C719.9,1930.4 718.1,1936.4 716.9,1940.5 C715.8,1944.6 714.4,1947.8 713.6,1951.3 C712.8,1954.8 712.7,1957.2 711.9,1961.4 C711.1,1965.6 709.8,1972.5 708.9,1976.5 C708.1,1980.6 708.3,1982.4 706.8,1985.7 C705.4,1989.1 702.9,1993.9 700.3,1996.7 C697.6,1999.5 693.3,1999.8 690.8,2002.4 C688.3,2005 687.3,2009.7 685.2,2012.4 C683.2,2015.1 681.6,2016.8 678.8,2018.5 C675.9,2020.2 671.2,2020.3 668.2,2022.4 C665.2,2024.5 663.5,2029.3 660.8,2030.9 C658.1,2032.5 656.1,2031 652,2032.1 C647.9,2033.2 640.8,2035.4 636.2,2037.3 C631.7,2039.2 627.6,2042.3 624.7,2043.4 C621.7,2044.5 621.4,2043.4 618.6,2043.8 C615.8,2044.3 610.6,2045.3 607.9,2046.1 C605.1,2046.8 603.7,2048.2 601.8,2048.3 C600,2048.4 599.4,2047.4 596.9,2046.6 C594.4,2045.9 589.8,2045.2 586.9,2043.9 C584.1,2042.6 582.2,2040.1 579.9,2038.8 C577.6,2037.5 575.5,2037.6 573,2036.1 C570.5,2034.6 568,2032.3 564.9,2029.8 C561.8,2027.4 558.4,2023.1 554.5,2021.5 C550.5,2019.9 545.5,2021.4 541.4,2020.3 C537.2,2019.3 533.3,2016.3 529.5,2015.2 C525.7,2014 521.8,2014.2 518.5,2013.3 C515.2,2012.4 513,2010.8 509.7,2009.8 C506.4,2008.8 501.9,2008 498.5,2007.3 C495.1,2006.5 492.4,2006.3 489.5,2005.3 C486.6,2004.4 483.5,2003.8 481.3,2001.5 C479.1,1999.2 478.8,1994.1 476.4,1991.6 C474,1989 469.3,1989.3 466.8,1986.2 C464.2,1983.2 462.6,1976.7 461,1973.3 C459.4,1969.9 459.1,1969.4 457.1,1965.8 C455.1,1962.2 450.9,1956.1 448.8,1951.4 C446.7,1946.7 445.5,1941.8 444.6,1937.7 C443.7,1933.6 443.7,1930.6 443.5,1926.7 C443.4,1922.8 444.2,1918.3 443.6,1914.3 C443.1,1910.3 440.3,1907.8 440.3,1902.6 C440.3,1897.4 442.8,1888.9 443.5,1882.9 C444.1,1876.9 444,1870.6 444.2,1866.6 C444.5,1862.7 444.5,1862.8 445,1859.4 C445.6,1856 447.5,1850.5 447.5,1846 C447.6,1841.5 445.3,1836.2 445.4,1832.3 C445.5,1828.5 446.8,1826.2 448.1,1822.7 C449.3,1819.1 451.8,1815.4 453,1811.1 C454.2,1806.7 453.7,1799.9 455.1,1796.6 C456.6,1793.3 459.8,1793.7 461.6,1791.1 C463.3,1788.5 464.8,1784.7 465.8,1780.9 C466.7,1777.1 465.3,1771.1 467.1,1768.3Z" fill="url(#pH)"/>
<circle cx="467.9" cy="1764" r="3.3" fill="url(#gWs)"/>
<circle cx="468.5" cy="1763.3" r="3.3" fill="url(#gWs)"/>
<circle cx="503.3" cy="1754.9" r="3.3" fill="url(#gWs)"/>
<circle cx="499.3" cy="1758.3" r="3.3" fill="url(#gB)"/>
<circle cx="503.2" cy="1759" r="3.3" fill="url(#gWs)"/>
<circle cx="543" cy="1746.9" r="3.3" fill="url(#gB)"/>
<circle cx="539" cy="1746.2" r="3.3" fill="url(#gWs)"/>
<circle cx="521.7" cy="1744.5" r="3.3" fill="url(#gB)"/>
<circle cx="577.1" cy="1738.7" r="3.3" fill="url(#gWs)"/>
<circle cx="587.7" cy="1741.8" r="3.3" fill="url(#gB)"/>
<circle cx="581.3" cy="1737" r="3.3" fill="url(#gWs)"/>
<circle cx="596.4" cy="1738.3" r="3.3" fill="url(#gB)"/>
<circle cx="608.1" cy="1739.2" r="3.3" fill="url(#gWs)"/>
<circle cx="602.6" cy="1742.8" r="3.3" fill="url(#gB)"/>
<circle cx="656.6" cy="1748.2" r="3.3" fill="url(#gB)"/>
<circle cx="661.1" cy="1748.7" r="3.3" fill="url(#gWs)"/>
<circle cx="651.8" cy="1747.6" r="3.3" fill="url(#gWs)"/>
<circle cx="676.3" cy="1749" r="3.3" fill="url(#gWs)"/>
<circle cx="662.2" cy="1750.8" r="3.3" fill="url(#gWs)"/>
<circle cx="691.9" cy="1751.2" r="3.3" fill="url(#gWs)"/>
<circle cx="695.8" cy="1752.8" r="3.3" fill="url(#gB)"/>
<circle cx="705.4" cy="1750.5" r="3.3" fill="url(#gWs)"/>
<circle cx="717.5" cy="1785.2" r="3.3" fill="url(#gB)"/>
<circle cx="718" cy="1774.9" r="3.3" fill="url(#gWs)"/>
<circle cx="720.7" cy="1805.4" r="3.3" fill="url(#gWs)"/>
<circle cx="718.9" cy="1805.9" r="3.3" fill="url(#gB)"/>
<circle cx="720.4" cy="1810.3" r="3.3" fill="url(#gWs)"/>
<circle cx="720.8" cy="1831.5" r="3.3" fill="url(#gB)"/>
<circle cx="720" cy="1851" r="3.3" fill="url(#gWs)"/>
<circle cx="728.6" cy="1867.8" r="3.3" fill="url(#gWs)"/>
<circle cx="724.1" cy="1832.4" r="3.3" fill="url(#gWs)"/>
<circle cx="728.4" cy="1900" r="3.3" fill="url(#gB)"/>
<circle cx="723.9" cy="1881.4" r="3.3" fill="url(#gWs)"/>
<circle cx="725.4" cy="1914.7" r="3.3" fill="url(#gB)"/>
<circle cx="722.5" cy="1904.5" r="3.3" fill="url(#gWs)"/>
<circle cx="719.6" cy="1951.3" r="3.3" fill="url(#gB)"/>
<circle cx="721.3" cy="1948.2" r="3.3" fill="url(#gB)"/>
<circle cx="717.7" cy="1937.5" r="3.3" fill="url(#gWs)"/>
<circle cx="707.7" cy="1981.8" r="3.3" fill="url(#gWs)"/>
<circle cx="712.6" cy="1964.4" r="3.3" fill="url(#gWs)"/>
<circle cx="710.5" cy="1982.5" r="3.3" fill="url(#gWs)"/>
<circle cx="705.3" cy="2000.5" r="3.3" fill="url(#gWs)"/>
<circle cx="692.3" cy="2007.4" r="3.3" fill="url(#gB)"/>
<circle cx="690.8" cy="2007.1" r="3.3" fill="url(#gB)"/>
<circle cx="663.8" cy="2031.6" r="3.3" fill="url(#gB)"/>
<circle cx="685.1" cy="2014.7" r="3.3" fill="url(#gB)"/>
<circle cx="685.8" cy="2014.8" r="3.3" fill="url(#gWs)"/>
<circle cx="663.9" cy="2034.9" r="3.3" fill="url(#gWs)"/>
<circle cx="634.2" cy="2045.6" r="3.3" fill="url(#gWs)"/>
<circle cx="650.4" cy="2033.6" r="3.3" fill="url(#gWs)"/>
<circle cx="607.7" cy="2045.9" r="3.3" fill="url(#gWs)"/>
<circle cx="614.9" cy="2048.3" r="3.3" fill="url(#gWs)"/>
<circle cx="597" cy="2048.7" r="3.3" fill="url(#gWs)"/>
<circle cx="585.3" cy="2046.6" r="3.3" fill="url(#gB)"/>
<circle cx="561.3" cy="2030" r="3.3" fill="url(#gB)"/>
<circle cx="556.4" cy="2021.2" r="3.3" fill="url(#gWs)"/>
<circle cx="562.7" cy="2024.5" r="3.3" fill="url(#gB)"/>
<circle cx="539" cy="2025.8" r="3.3" fill="url(#gB)"/>
<circle cx="528.4" cy="2022" r="3.3" fill="url(#gB)"/>
<circle cx="537.3" cy="2018" r="3.3" fill="url(#gWs)"/>
<circle cx="497.1" cy="2008.8" r="3.3" fill="url(#gB)"/>
<circle cx="512.4" cy="2012.6" r="3.3" fill="url(#gB)"/>
<circle cx="502.2" cy="2005.8" r="3.3" fill="url(#gWs)"/>
<circle cx="470" cy="1988.6" r="3.3" fill="url(#gWs)"/>
<circle cx="475.7" cy="1991.7" r="3.3" fill="url(#gWs)"/>
<circle cx="468.7" cy="1990.1" r="3.3" fill="url(#gWs)"/>
<circle cx="451.8" cy="1951" r="3.3" fill="url(#gB)"/>
<circle cx="457.3" cy="1977.4" r="3.3" fill="url(#gWs)"/>
<circle cx="462.7" cy="1978.3" r="3.3" fill="url(#gB)"/>
<circle cx="442" cy="1937.7" r="3.3" fill="url(#gB)"/>
<circle cx="441.1" cy="1918.8" r="3.3" fill="url(#gWs)"/>
<circle cx="443.7" cy="1939.8" r="3.3" fill="url(#gB)"/>
<circle cx="440.2" cy="1878.1" r="3.3" fill="url(#gB)"/>
<circle cx="437.7" cy="1903.5" r="3.3" fill="url(#gWs)"/>
<circle cx="443.6" cy="1886.2" r="3.3" fill="url(#gWs)"/>
<circle cx="442" cy="1887.3" r="3.3" fill="url(#gWs)"/>
<circle cx="445.8" cy="1845.2" r="3.3" fill="url(#gWs)"/>
<circle cx="441.3" cy="1839.8" r="3.3" fill="url(#gWs)"/>
<circle cx="445.9" cy="1835.8" r="3.3" fill="url(#gB)"/>
<circle cx="450.7" cy="1826.6" r="3.3" fill="url(#gB)"/>
<circle cx="447.6" cy="1812.8" r="3.3" fill="url(#gWs)"/>
<circle cx="455.7" cy="1800.7" r="3.3" fill="url(#gB)"/>
<circle cx="455.8" cy="1796.4" r="3.3" fill="url(#gB)"/>
<circle cx="463.7" cy="1765.5" r="3.3" fill="url(#gWs)"/>
<circle cx="461" cy="1773.9" r="3.3" fill="url(#gWs)"/>
<circle cx="580.7" cy="1885" r="83.2" fill="none" stroke="#fff200" stroke-width="6" stroke-dasharray="16.6 16" stroke-dashoffset="0"/>
</g>
<g clip-path="url(#c_j2b)">
<circle cx="537.3" cy="2125.5" r="3.3" fill="url(#gB)"/>
<circle cx="547.4" cy="2120.7" r="3.3" fill="url(#gWs)"/>
<circle cx="516.8" cy="2117.2" r="3.3" fill="url(#gB)"/>
<circle cx="538.1" cy="2128.1" r="3.3" fill="url(#gWs)"/>
<circle cx="539.8" cy="2122.5" r="3.3" fill="url(#gB)"/>
<circle cx="555.1" cy="2118.5" r="3.3" fill="url(#gWs)"/>
<circle cx="556.6" cy="2128.6" r="3.3" fill="url(#gWs)"/>
<circle cx="534" cy="2127.1" r="3.3" fill="url(#gB)"/>
<circle cx="572.5" cy="2125.8" r="3.3" fill="url(#gWs)"/>
<circle cx="626.9" cy="2117.5" r="3.3" fill="url(#gWs)"/>
<circle cx="605.8" cy="2121.3" r="3.3" fill="url(#gO)"/>
<circle cx="569.6" cy="2130.8" r="3.3" fill="url(#gWs)"/>
<circle cx="592.3" cy="2126.7" r="3.3" fill="url(#gWs)"/>
<circle cx="567.7" cy="2123.6" r="3.3" fill="url(#gB)"/>
<circle cx="622.1" cy="2119.6" r="3.3" fill="url(#gWs)"/>
<circle cx="616.3" cy="2121.5" r="3.3" fill="url(#gWs)"/>
<circle cx="608.2" cy="2123.2" r="3.3" fill="url(#gWs)"/>
<circle cx="602.6" cy="2112.2" r="3.3" fill="url(#gWs)"/>
<circle cx="598.8" cy="2121" r="3.3" fill="url(#gO)"/>
<circle cx="601.9" cy="2120.3" r="3.3" fill="url(#gB)"/>
<circle cx="659.1" cy="2130.3" r="3.3" fill="url(#gWs)"/>
<circle cx="643.6" cy="2129" r="3.3" fill="url(#gWs)"/>
<circle cx="667.1" cy="2122.6" r="3.3" fill="url(#gO)"/>
<circle cx="695.1" cy="2121.6" r="3.3" fill="url(#gB)"/>
<circle cx="648.6" cy="2125.6" r="3.3" fill="url(#gO)"/>
<circle cx="678.4" cy="2117.6" r="3.3" fill="url(#gB)"/>
<circle cx="670.4" cy="2116.2" r="3.3" fill="url(#gWs)"/>
<circle cx="699" cy="2121.8" r="3.3" fill="url(#gWs)"/>
<circle cx="676.6" cy="2131.2" r="3.3" fill="url(#gWs)"/>
<circle cx="700.5" cy="2138.7" r="3.3" fill="url(#gWs)"/>
<circle cx="728.2" cy="2142.9" r="3.3" fill="url(#gO)"/>
<circle cx="710.9" cy="2138.3" r="3.3" fill="url(#gWs)"/>
<circle cx="709.8" cy="2130.1" r="3.3" fill="url(#gO)"/>
<circle cx="725.7" cy="2137.5" r="3.3" fill="url(#gWs)"/>
<circle cx="715.3" cy="2156.1" r="3.3" fill="url(#gO)"/>
<circle cx="723.7" cy="2166.4" r="3.3" fill="url(#gWs)"/>
<circle cx="722.6" cy="2156" r="3.3" fill="url(#gWs)"/>
<circle cx="724.9" cy="2160" r="3.3" fill="url(#gO)"/>
<circle cx="743.8" cy="2220.4" r="3.3" fill="url(#gB)"/>
<circle cx="735.8" cy="2218" r="3.3" fill="url(#gWs)"/>
<circle cx="733" cy="2193.6" r="3.3" fill="url(#gWs)"/>
<circle cx="725" cy="2188.3" r="3.3" fill="url(#gB)"/>
<circle cx="739.3" cy="2181.3" r="3.3" fill="url(#gO)"/>
<circle cx="747.8" cy="2191.1" r="3.3" fill="url(#gWs)"/>
<circle cx="747" cy="2221.3" r="3.3" fill="url(#gO)"/>
<circle cx="742.2" cy="2228.3" r="3.3" fill="url(#gWs)"/>
<circle cx="746.4" cy="2201.9" r="3.3" fill="url(#gWs)"/>
<circle cx="755.2" cy="2237.9" r="3.3" fill="url(#gWs)"/>
<circle cx="766.6" cy="2271.1" r="3.3" fill="url(#gO)"/>
<circle cx="749.5" cy="2247.1" r="3.3" fill="url(#gO)"/>
<circle cx="771.8" cy="2263.2" r="3.3" fill="url(#gB)"/>
<circle cx="756.4" cy="2243.5" r="3.3" fill="url(#gWs)"/>
<circle cx="759.1" cy="2234.7" r="3.3" fill="url(#gO)"/>
<circle cx="773.6" cy="2273.6" r="3.3" fill="url(#gWs)"/>
<circle cx="766.3" cy="2276" r="3.3" fill="url(#gWs)"/>
<circle cx="764.3" cy="2311.9" r="3.3" fill="url(#gWs)"/>
<circle cx="766.3" cy="2307.1" r="3.3" fill="url(#gWs)"/>
<circle cx="773.6" cy="2299.8" r="3.3" fill="url(#gB)"/>
<circle cx="776.8" cy="2285.2" r="3.3" fill="url(#gWs)"/>
<circle cx="764.5" cy="2326.2" r="3.3" fill="url(#gWs)"/>
<circle cx="772.4" cy="2280.6" r="3.3" fill="url(#gO)"/>
<circle cx="766.9" cy="2324.6" r="3.3" fill="url(#gO)"/>
<circle cx="744.3" cy="2343.7" r="3.3" fill="url(#gO)"/>
<circle cx="768.4" cy="2335.5" r="3.3" fill="url(#gWs)"/>
<circle cx="761.9" cy="2335.5" r="3.3" fill="url(#gB)"/>
<circle cx="748.1" cy="2341.6" r="3.3" fill="url(#gB)"/>
<circle cx="768.7" cy="2344.5" r="3.3" fill="url(#gO)"/>
<circle cx="736.3" cy="2357" r="3.3" fill="url(#gB)"/>
<circle cx="735.5" cy="2370.4" r="3.3" fill="url(#gWs)"/>
<circle cx="725.5" cy="2378.8" r="3.3" fill="url(#gWs)"/>
<circle cx="737.6" cy="2403.5" r="3.3" fill="url(#gWs)"/>
<circle cx="739.8" cy="2385.4" r="3.3" fill="url(#gO)"/>
<circle cx="739.9" cy="2362.2" r="3.3" fill="url(#gWs)"/>
<circle cx="734.5" cy="2389.8" r="3.3" fill="url(#gWs)"/>
<circle cx="733.5" cy="2368.6" r="3.3" fill="url(#gWs)"/>
<circle cx="703.1" cy="2410.8" r="3.3" fill="url(#gO)"/>
<circle cx="702.8" cy="2430" r="3.3" fill="url(#gO)"/>
<circle cx="713.8" cy="2417" r="3.3" fill="url(#gO)"/>
<circle cx="704.1" cy="2420.6" r="3.3" fill="url(#gO)"/>
<circle cx="717.3" cy="2422.7" r="3.3" fill="url(#gWs)"/>
<circle cx="720.9" cy="2419.8" r="3.3" fill="url(#gWs)"/>
<circle cx="637.4" cy="2424.4" r="3.3" fill="url(#gO)"/>
<circle cx="660.8" cy="2429.1" r="3.3" fill="url(#gWs)"/>
<circle cx="646.2" cy="2420.6" r="3.3" fill="url(#gO)"/>
<circle cx="643.1" cy="2432.2" r="3.3" fill="url(#gO)"/>
<circle cx="665" cy="2434.3" r="3.3" fill="url(#gO)"/>
<circle cx="602.4" cy="2423.3" r="3.3" fill="url(#gO)"/>
<circle cx="606.9" cy="2428.7" r="3.3" fill="url(#gB)"/>
<circle cx="654.5" cy="2430.1" r="3.3" fill="url(#gO)"/>
<circle cx="678.6" cy="2419.3" r="3.3" fill="url(#gWs)"/>
<circle cx="623.7" cy="2429.5" r="3.3" fill="url(#gWs)"/>
<circle cx="602.9" cy="2415.9" r="3.3" fill="url(#gB)"/>
<circle cx="639.3" cy="2427.5" r="3.3" fill="url(#gB)"/>
<circle cx="602.3" cy="2423.7" r="3.3" fill="url(#gO)"/>
<circle cx="589.1" cy="2427.8" r="3.3" fill="url(#gWs)"/>
<circle cx="597.7" cy="2414.4" r="3.3" fill="url(#gWs)"/>
<circle cx="571.1" cy="2427.3" r="3.3" fill="url(#gWs)"/>
<circle cx="599.8" cy="2426.3" r="3.3" fill="url(#gB)"/>
<circle cx="596" cy="2428.1" r="3.3" fill="url(#gWs)"/>
<circle cx="530.5" cy="2429.8" r="3.3" fill="url(#gB)"/>
<circle cx="592.4" cy="2417.9" r="3.3" fill="url(#gB)"/>
<circle cx="556.3" cy="2427.8" r="3.3" fill="url(#gB)"/>
<circle cx="537.3" cy="2436.8" r="3.3" fill="url(#gWs)"/>
<circle cx="518.3" cy="2436.4" r="3.3" fill="url(#gWs)"/>
<circle cx="545.6" cy="2428.2" r="3.3" fill="url(#gWs)"/>
<circle cx="576.3" cy="2430.7" r="3.3" fill="url(#gWs)"/>
<circle cx="490.6" cy="2429" r="3.3" fill="url(#gWs)"/>
<circle cx="504.3" cy="2421.3" r="3.3" fill="url(#gO)"/>
<circle cx="480.9" cy="2418.6" r="3.3" fill="url(#gWs)"/>
<circle cx="485.3" cy="2415.4" r="3.3" fill="url(#gWs)"/>
<circle cx="515.8" cy="2435.8" r="3.3" fill="url(#gWs)"/>
<circle cx="485.5" cy="2420.1" r="3.3" fill="url(#gO)"/>
<circle cx="488" cy="2423.6" r="3.3" fill="url(#gWs)"/>
<circle cx="481.7" cy="2423.7" r="3.3" fill="url(#gO)"/>
<circle cx="456.3" cy="2407.4" r="3.3" fill="url(#gO)"/>
<circle cx="456.7" cy="2417.1" r="3.3" fill="url(#gO)"/>
<circle cx="457.4" cy="2410.8" r="3.3" fill="url(#gO)"/>
<circle cx="460.1" cy="2399.9" r="3.3" fill="url(#gWs)"/>
<circle cx="462.1" cy="2411.8" r="3.3" fill="url(#gB)"/>
<circle cx="433.1" cy="2350.7" r="3.3" fill="url(#gB)"/>
<circle cx="430.3" cy="2378.7" r="3.3" fill="url(#gB)"/>
<circle cx="439.4" cy="2356" r="3.3" fill="url(#gWs)"/>
<circle cx="439.4" cy="2355.3" r="3.3" fill="url(#gWs)"/>
<circle cx="440.2" cy="2390.8" r="3.3" fill="url(#gO)"/>
<circle cx="428.6" cy="2360" r="3.3" fill="url(#gO)"/>
<circle cx="434.3" cy="2356.9" r="3.3" fill="url(#gO)"/>
<circle cx="434.8" cy="2365.6" r="3.3" fill="url(#gO)"/>
<circle cx="428.3" cy="2363.7" r="3.3" fill="url(#gB)"/>
<circle cx="422.3" cy="2276.9" r="3.3" fill="url(#gB)"/>
<circle cx="429" cy="2323.1" r="3.3" fill="url(#gWs)"/>
<circle cx="437.6" cy="2330.5" r="3.3" fill="url(#gWs)"/>
<circle cx="418.4" cy="2293.3" r="3.3" fill="url(#gWs)"/>
<circle cx="420.8" cy="2279.2" r="3.3" fill="url(#gO)"/>
<circle cx="416.5" cy="2274.1" r="3.3" fill="url(#gWs)"/>
<circle cx="434.5" cy="2295.6" r="3.3" fill="url(#gWs)"/>
<circle cx="437.1" cy="2332.5" r="3.3" fill="url(#gWs)"/>
<circle cx="432.5" cy="2280.3" r="3.3" fill="url(#gB)"/>
<circle cx="433" cy="2294.5" r="3.3" fill="url(#gWs)"/>
<circle cx="420.6" cy="2235.7" r="3.3" fill="url(#gO)"/>
<circle cx="426.5" cy="2241.2" r="3.3" fill="url(#gB)"/>
<circle cx="428.7" cy="2250.8" r="3.3" fill="url(#gWs)"/>
<circle cx="424.5" cy="2246.1" r="3.3" fill="url(#gWs)"/>
<circle cx="430.3" cy="2238.4" r="3.3" fill="url(#gO)"/>
<circle cx="414.7" cy="2248.5" r="3.3" fill="url(#gO)"/>
<circle cx="436.5" cy="2229.9" r="3.3" fill="url(#gWs)"/>
<circle cx="433.7" cy="2239.8" r="3.3" fill="url(#gO)"/>
<circle cx="412" cy="2250.7" r="3.3" fill="url(#gB)"/>
<circle cx="440" cy="2173.4" r="3.3" fill="url(#gO)"/>
<circle cx="436.9" cy="2182.4" r="3.3" fill="url(#gWs)"/>
<circle cx="432.8" cy="2188.3" r="3.3" fill="url(#gWs)"/>
<circle cx="435.3" cy="2196.1" r="3.3" fill="url(#gB)"/>
<circle cx="427.3" cy="2190.7" r="3.3" fill="url(#gWs)"/>
<circle cx="435.6" cy="2172.9" r="3.3" fill="url(#gWs)"/>
<circle cx="460.3" cy="2167.3" r="3.3" fill="url(#gWs)"/>
<circle cx="466.7" cy="2157.2" r="3.3" fill="url(#gO)"/>
<circle cx="460.4" cy="2159.4" r="3.3" fill="url(#gO)"/>
<circle cx="463.7" cy="2160.6" r="3.3" fill="url(#gWs)"/>
<circle cx="440.8" cy="2163.7" r="3.3" fill="url(#gO)"/>
<circle cx="481.8" cy="2129.9" r="3.3" fill="url(#gO)"/>
<circle cx="491.9" cy="2125.1" r="3.3" fill="url(#gWs)"/>
<circle cx="509.1" cy="2137.6" r="3.3" fill="url(#gWs)"/>
<circle cx="506.6" cy="2132.5" r="3.3" fill="url(#gWs)"/>
<circle cx="495.3" cy="2126.4" r="3.3" fill="url(#gWs)"/>
<circle cx="475.5" cy="2143.4" r="3.3" fill="url(#gWs)"/>
<path d="M507.8,2132.3 C513.3,2130.7 521.6,2130.5 527.5,2129.8 C533.3,2129.2 537.5,2129.1 542.7,2128.4 C547.9,2127.8 551,2126.4 558.4,2126.1 C565.9,2125.7 578.5,2126.7 587.3,2126.1 C596.1,2125.5 602.9,2122.8 611.3,2122.4 C619.7,2121.9 629.8,2123.7 638,2123.5 C646.1,2123.4 652.9,2120.9 660,2121.7 C667,2122.5 674.1,2127.2 680.4,2128.3 C686.7,2129.5 694,2127.8 697.8,2128.6 C701.5,2129.3 700.5,2130.9 703,2132.9 C705.4,2134.9 709.9,2137.8 712.5,2140.5 C715.1,2143.1 717.3,2145.8 718.5,2148.7 C719.6,2151.7 718.8,2154.9 719.7,2158.2 C720.5,2161.4 722.6,2165.5 723.7,2168.4 C724.8,2171.3 724.7,2171.4 726.1,2175.7 C727.5,2180 730.3,2188.3 732.3,2194.1 C734.4,2200 735.9,2204.2 738.5,2210.6 C741,2216.9 745,2226.6 747.5,2232.5 C750,2238.4 751.7,2241.7 753.4,2246 C755,2250.4 755.6,2254.2 757.4,2258.6 C759.2,2263.1 762.5,2267.2 763.9,2272.9 C765.4,2278.5 765.9,2286.5 766.3,2292.8 C766.8,2299.2 766.6,2304.6 766.7,2311.1 C766.9,2317.6 769.4,2327.2 767.3,2331.7 C765.2,2336.3 757,2335.5 754.2,2338.5 C751.4,2341.6 752.3,2346.4 750.4,2349.8 C748.4,2353.3 745.3,2355.2 742.4,2359.5 C739.5,2363.8 734.9,2370.8 733.2,2375.6 C731.5,2380.5 733.6,2384.1 732.1,2388.8 C730.5,2393.6 726.6,2400.1 723.9,2404.2 C721.3,2408.2 720.3,2410.8 716.3,2413 C712.3,2415.1 704.8,2415.4 700.1,2417.1 C695.4,2418.7 694.4,2422.1 688,2422.8 C681.6,2423.5 671.1,2421.5 661.5,2421.1 C651.9,2420.6 640.8,2420.4 630.3,2420.1 C619.8,2419.8 608.3,2418.7 598.5,2419.2 C588.7,2419.6 580.4,2421.6 571.5,2422.7 C562.5,2423.8 553.6,2424.6 544.7,2425.6 C535.9,2426.6 525.1,2428.4 518.6,2428.8 C512.1,2429.3 511.2,2428.8 505.7,2428.2 C500.2,2427.6 491.9,2426.7 485.7,2425.3 C479.5,2423.8 472,2421.3 468.6,2419.5 C465.1,2417.6 467.2,2415.8 464.8,2414 C462.3,2412.3 456.9,2411.7 454,2409.1 C451.1,2406.6 449.1,2403.8 447.6,2398.8 C446,2393.8 446.5,2386 444.7,2379.1 C442.9,2372.3 439.1,2364.3 436.6,2357.9 C434.2,2351.4 431.3,2347.2 430,2340.4 C428.6,2333.6 428.9,2325.1 428.4,2317.2 C427.8,2309.3 426.9,2301 426.7,2293.1 C426.5,2285.2 427.1,2276.8 427.3,2269.9 C427.5,2263 427.6,2258.8 427.7,2251.8 C427.8,2244.9 427,2235 428.1,2228.3 C429.1,2221.6 432.8,2217 434,2211.6 C435.3,2206.2 434.2,2199.9 435.7,2195.8 C437.3,2191.7 441.6,2190.5 443.2,2186.9 C444.8,2183.3 443.3,2177.9 445.5,2174.3 C447.7,2170.6 453.8,2168.3 456.6,2165.2 C459.3,2162 460.1,2157.5 461.9,2155.4 C463.8,2153.2 464.5,2154 467.7,2152.3 C470.9,2150.6 477,2147.1 481.4,2145 C485.8,2142.9 489.7,2141.7 494.1,2139.6 C498.5,2137.5 502.2,2133.9 507.8,2132.3Z" fill="url(#pOC)"/>
<clipPath id="cj2b"><path d="M507.8,2132.3 C513.3,2130.7 521.6,2130.5 527.5,2129.8 C533.3,2129.2 537.5,2129.1 542.7,2128.4 C547.9,2127.8 551,2126.4 558.4,2126.1 C565.9,2125.7 578.5,2126.7 587.3,2126.1 C596.1,2125.5 602.9,2122.8 611.3,2122.4 C619.7,2121.9 629.8,2123.7 638,2123.5 C646.1,2123.4 652.9,2120.9 660,2121.7 C667,2122.5 674.1,2127.2 680.4,2128.3 C686.7,2129.5 694,2127.8 697.8,2128.6 C701.5,2129.3 700.5,2130.9 703,2132.9 C705.4,2134.9 709.9,2137.8 712.5,2140.5 C715.1,2143.1 717.3,2145.8 718.5,2148.7 C719.6,2151.7 718.8,2154.9 719.7,2158.2 C720.5,2161.4 722.6,2165.5 723.7,2168.4 C724.8,2171.3 724.7,2171.4 726.1,2175.7 C727.5,2180 730.3,2188.3 732.3,2194.1 C734.4,2200 735.9,2204.2 738.5,2210.6 C741,2216.9 745,2226.6 747.5,2232.5 C750,2238.4 751.7,2241.7 753.4,2246 C755,2250.4 755.6,2254.2 757.4,2258.6 C759.2,2263.1 762.5,2267.2 763.9,2272.9 C765.4,2278.5 765.9,2286.5 766.3,2292.8 C766.8,2299.2 766.6,2304.6 766.7,2311.1 C766.9,2317.6 769.4,2327.2 767.3,2331.7 C765.2,2336.3 757,2335.5 754.2,2338.5 C751.4,2341.6 752.3,2346.4 750.4,2349.8 C748.4,2353.3 745.3,2355.2 742.4,2359.5 C739.5,2363.8 734.9,2370.8 733.2,2375.6 C731.5,2380.5 733.6,2384.1 732.1,2388.8 C730.5,2393.6 726.6,2400.1 723.9,2404.2 C721.3,2408.2 720.3,2410.8 716.3,2413 C712.3,2415.1 704.8,2415.4 700.1,2417.1 C695.4,2418.7 694.4,2422.1 688,2422.8 C681.6,2423.5 671.1,2421.5 661.5,2421.1 C651.9,2420.6 640.8,2420.4 630.3,2420.1 C619.8,2419.8 608.3,2418.7 598.5,2419.2 C588.7,2419.6 580.4,2421.6 571.5,2422.7 C562.5,2423.8 553.6,2424.6 544.7,2425.6 C535.9,2426.6 525.1,2428.4 518.6,2428.8 C512.1,2429.3 511.2,2428.8 505.7,2428.2 C500.2,2427.6 491.9,2426.7 485.7,2425.3 C479.5,2423.8 472,2421.3 468.6,2419.5 C465.1,2417.6 467.2,2415.8 464.8,2414 C462.3,2412.3 456.9,2411.7 454,2409.1 C451.1,2406.6 449.1,2403.8 447.6,2398.8 C446,2393.8 446.5,2386 444.7,2379.1 C442.9,2372.3 439.1,2364.3 436.6,2357.9 C434.2,2351.4 431.3,2347.2 430,2340.4 C428.6,2333.6 428.9,2325.1 428.4,2317.2 C427.8,2309.3 426.9,2301 426.7,2293.1 C426.5,2285.2 427.1,2276.8 427.3,2269.9 C427.5,2263 427.6,2258.8 427.7,2251.8 C427.8,2244.9 427,2235 428.1,2228.3 C429.1,2221.6 432.8,2217 434,2211.6 C435.3,2206.2 434.2,2199.9 435.7,2195.8 C437.3,2191.7 441.6,2190.5 443.2,2186.9 C444.8,2183.3 443.3,2177.9 445.5,2174.3 C447.7,2170.6 453.8,2168.3 456.6,2165.2 C459.3,2162 460.1,2157.5 461.9,2155.4 C463.8,2153.2 464.5,2154 467.7,2152.3 C470.9,2150.6 477,2147.1 481.4,2145 C485.8,2142.9 489.7,2141.7 494.1,2139.6 C498.5,2137.5 502.2,2133.9 507.8,2132.3Z"/></clipPath>
<g clip-path="url(#cj2b)">
<rect x="420" y="2147" width="350" height="22" fill="url(#pXC)"/>
<rect x="420" y="2195" width="350" height="172" fill="url(#pBP)"/>
</g>
<circle cx="542" cy="2431.4" r="3.4" fill="url(#gB)"/>
<circle cx="707.1" cy="2424.2" r="3.4" fill="url(#gO)"/>
<circle cx="450.1" cy="2418.2" r="3.4" fill="url(#gWs)"/>
<circle cx="654.5" cy="2411" r="3.4" fill="url(#gWs)"/>
<circle cx="602" cy="2416.3" r="3.4" fill="url(#gO)"/>
<circle cx="724.8" cy="2407.8" r="3.4" fill="url(#gO)"/>
<circle cx="699" cy="2409.5" r="3.4" fill="url(#gWs)"/>
<circle cx="589.3" cy="2423.3" r="3.4" fill="url(#gWs)"/>
<circle cx="501.7" cy="2421.1" r="3.4" fill="url(#gWs)"/>
<circle cx="698.1" cy="2401.2" r="3.4" fill="url(#gWs)"/>
<circle cx="557.9" cy="2431.4" r="3.4" fill="url(#gWs)"/>
<circle cx="696.4" cy="2410.5" r="3.4" fill="url(#gWs)"/>
<circle cx="508.3" cy="2413.3" r="3.4" fill="url(#gB)"/>
<circle cx="729.8" cy="2429.8" r="3.4" fill="url(#gO)"/>
<circle cx="516.1" cy="2413.8" r="3.4" fill="url(#gO)"/>
<circle cx="532.9" cy="2431.5" r="3.4" fill="url(#gWs)"/>
<circle cx="515.8" cy="2402.5" r="3.4" fill="url(#gWs)"/>
<circle cx="467.8" cy="2403.9" r="3.4" fill="url(#gWs)"/>
<circle cx="713" cy="2415.2" r="3.4" fill="url(#gO)"/>
<circle cx="547.5" cy="2401.3" r="3.4" fill="url(#gWs)"/>
<circle cx="653.9" cy="2398.1" r="3.4" fill="url(#gO)"/>
<circle cx="508.8" cy="2420.5" r="3.4" fill="url(#gWs)"/>
<circle cx="491.3" cy="2400.2" r="3.4" fill="url(#gO)"/>
<circle cx="601.3" cy="2398.2" r="3.4" fill="url(#gB)"/>
<circle cx="527.5" cy="2405.4" r="3.4" fill="url(#gWs)"/>
<circle cx="534" cy="2415.7" r="3.4" fill="url(#gO)"/>
<circle cx="533.7" cy="2413.4" r="3.4" fill="url(#gWs)"/>
<circle cx="642.3" cy="2406.1" r="3.4" fill="url(#gWs)"/>
<circle cx="525.8" cy="2425.3" r="3.4" fill="url(#gB)"/>
<circle cx="488.6" cy="2411.7" r="3.4" fill="url(#gWs)"/>
<circle cx="660.1" cy="2428.6" r="3.4" fill="url(#gWs)"/>
<circle cx="641.1" cy="2406.2" r="3.4" fill="url(#gWs)"/>
<circle cx="610.2" cy="2409.2" r="3.4" fill="url(#gO)"/>
<circle cx="541.5" cy="2413.4" r="3.4" fill="url(#gWs)"/>
<circle cx="568.6" cy="2400.3" r="3.4" fill="url(#gWs)"/>
<circle cx="481" cy="2418" r="3.4" fill="url(#gWs)"/>
<circle cx="567.2" cy="2428.2" r="3.4" fill="url(#gWs)"/>
<circle cx="598.2" cy="2417.6" r="3.4" fill="url(#gO)"/>
<circle cx="663" cy="2408.1" r="3.4" fill="url(#gB)"/>
<circle cx="637" cy="2397.8" r="3.4" fill="url(#gO)"/>
<circle cx="594.8" cy="2429.6" r="3.4" fill="url(#gO)"/>
<circle cx="638.7" cy="2420.1" r="3.4" fill="url(#gO)"/>
<circle cx="575.2" cy="2413.2" r="3.4" fill="url(#gWs)"/>
<circle cx="455.6" cy="2413.9" r="3.4" fill="url(#gWs)"/>
<circle cx="569.7" cy="2415.9" r="3.4" fill="url(#gO)"/>
<circle cx="559.3" cy="2416.3" r="3.4" fill="url(#gWs)"/>
<circle cx="723.3" cy="2419.6" r="3.4" fill="url(#gO)"/>
<circle cx="656.7" cy="2396" r="3.4" fill="url(#gWs)"/>
<circle cx="556" cy="2411.3" r="3.4" fill="url(#gWs)"/>
<circle cx="595.1" cy="2418.2" r="3.4" fill="url(#gO)"/>
<circle cx="644" cy="2410" r="3.4" fill="url(#gO)"/>
<circle cx="677.2" cy="2430.5" r="3.4" fill="url(#gWs)"/>
<circle cx="611.7" cy="2401.4" r="3.4" fill="url(#gO)"/>
<circle cx="714.5" cy="2419.7" r="3.4" fill="url(#gWs)"/>
<circle cx="694.4" cy="2413.9" r="3.4" fill="url(#gO)"/>
<circle cx="503.2" cy="2399" r="3.4" fill="url(#gO)"/>
<circle cx="690.5" cy="2409" r="3.4" fill="url(#gWs)"/>
<circle cx="533.4" cy="2428.7" r="3.4" fill="url(#gWs)"/>
<circle cx="659.9" cy="2406.6" r="3.4" fill="url(#gB)"/>
<circle cx="545.4" cy="2430.1" r="3.4" fill="url(#gWs)"/>
<circle cx="452.4" cy="2409.6" r="3.4" fill="url(#gWs)"/>
<circle cx="492.4" cy="2398.2" r="3.4" fill="url(#gWs)"/>
<circle cx="653.4" cy="2422.1" r="3.4" fill="url(#gWs)"/>
<circle cx="500.3" cy="2411.9" r="3.4" fill="url(#gO)"/>
<circle cx="509.5" cy="2427.8" r="3.4" fill="url(#gB)"/>
<circle cx="545" cy="2400.4" r="3.4" fill="url(#gWs)"/>
<circle cx="493.1" cy="2428.1" r="3.4" fill="url(#gWs)"/>
<circle cx="566.1" cy="2426.7" r="3.4" fill="url(#gO)"/>
<circle cx="658" cy="2398.7" r="3.4" fill="url(#gWs)"/>
<circle cx="546" cy="2426.8" r="3.4" fill="url(#gWs)"/>
<circle cx="480.5" cy="2411.5" r="3.4" fill="url(#gWs)"/>
<circle cx="634.4" cy="2408.7" r="3.4" fill="url(#gWs)"/>
<circle cx="637.1" cy="2429.5" r="3.4" fill="url(#gO)"/>
<circle cx="609" cy="2397.7" r="3.4" fill="url(#gWs)"/>
<circle cx="636.2" cy="2430" r="3.4" fill="url(#gWs)"/>
<circle cx="721.9" cy="2399" r="3.4" fill="url(#gWs)"/>
<circle cx="531.6" cy="2420.3" r="3.4" fill="url(#gWs)"/>
<circle cx="633.4" cy="2397" r="3.4" fill="url(#gO)"/>
<circle cx="651.5" cy="2401.9" r="3.4" fill="url(#gWs)"/>
<circle cx="565.1" cy="2412.3" r="3.4" fill="url(#gWs)"/>
<circle cx="716.2" cy="2400" r="3.4" fill="url(#gO)"/>
<circle cx="593.6" cy="2418" r="3.4" fill="url(#gWs)"/>
<circle cx="662.8" cy="2425.4" r="3.4" fill="url(#gWs)"/>
<circle cx="547.2" cy="2395.1" r="3.4" fill="url(#gWs)"/>
<circle cx="660" cy="2410" r="3.4" fill="url(#gB)"/>
<circle cx="667.1" cy="2419.5" r="3.4" fill="url(#gWs)"/>
<circle cx="533.2" cy="2425.1" r="3.4" fill="url(#gWs)"/>
<circle cx="513.8" cy="2395" r="3.4" fill="url(#gO)"/>
<circle cx="524.9" cy="2398.9" r="3.4" fill="url(#gWs)"/>
<circle cx="649.7" cy="2416.4" r="3.4" fill="url(#gWs)"/>
<circle cx="707.8" cy="2409.5" r="3.4" fill="url(#gO)"/>
<circle cx="526.8" cy="2407.7" r="3.4" fill="url(#gWs)"/>
<circle cx="668.6" cy="2400.8" r="3.4" fill="url(#gWs)"/>
<circle cx="658.4" cy="2431.3" r="3.4" fill="url(#gWs)"/>
<circle cx="648.9" cy="2406.8" r="3.4" fill="url(#gWs)"/>
<circle cx="606.4" cy="2410.1" r="3.4" fill="url(#gWs)"/>
<circle cx="500" cy="2400.4" r="3.4" fill="url(#gWs)"/>
<circle cx="588.9" cy="2396.1" r="3.4" fill="url(#gB)"/>
<circle cx="636.8" cy="2429.6" r="3.4" fill="url(#gO)"/>
<circle cx="680" cy="2427.3" r="3.4" fill="url(#gO)"/>
<circle cx="656.4" cy="2411.6" r="3.4" fill="url(#gO)"/>
<circle cx="691.5" cy="2420" r="3.4" fill="url(#gB)"/>
<circle cx="675.3" cy="2402.7" r="3.4" fill="url(#gB)"/>
<circle cx="511.4" cy="2402" r="3.4" fill="url(#gO)"/>
<circle cx="723.9" cy="2421.9" r="3.4" fill="url(#gWs)"/>
<circle cx="544.8" cy="2408.3" r="3.4" fill="url(#gO)"/>
<circle cx="484.2" cy="2422.9" r="3.4" fill="url(#gWs)"/>
<circle cx="458.1" cy="2429.5" r="3.4" fill="url(#gO)"/>
<circle cx="669.8" cy="2426" r="3.4" fill="url(#gWs)"/>
<circle cx="701.2" cy="2417.8" r="3.4" fill="url(#gWs)"/>
<circle cx="650" cy="2121.4" r="3.4" fill="url(#gO)"/>
<circle cx="685.2" cy="2132.5" r="3.4" fill="url(#gO)"/>
<circle cx="638.8" cy="2125.5" r="3.4" fill="url(#gO)"/>
<circle cx="523.7" cy="2130.2" r="3.4" fill="url(#gO)"/>
<circle cx="562" cy="2125.7" r="3.4" fill="url(#gO)"/>
<circle cx="597.7" cy="2134.4" r="3.4" fill="url(#gB)"/>
<circle cx="684.4" cy="2121.4" r="3.4" fill="url(#gWs)"/>
<circle cx="563.5" cy="2125.4" r="3.4" fill="url(#gO)"/>
<circle cx="681.9" cy="2128.4" r="3.4" fill="url(#gO)"/>
<circle cx="626.1" cy="2120.5" r="3.4" fill="url(#gO)"/>
<circle cx="546.9" cy="2126.3" r="3.4" fill="url(#gWs)"/>
<circle cx="644.3" cy="2133.7" r="3.4" fill="url(#gWs)"/>
<circle cx="627.6" cy="2120.4" r="3.4" fill="url(#gWs)"/>
<circle cx="535" cy="2132.9" r="3.4" fill="url(#gO)"/>
<circle cx="697.2" cy="2123.3" r="3.4" fill="url(#gO)"/>
<circle cx="653.9" cy="2127.7" r="3.4" fill="url(#gB)"/>
<circle cx="637.5" cy="2124.2" r="3.4" fill="url(#gO)"/>
<circle cx="605.9" cy="2123.2" r="3.4" fill="url(#gO)"/>
<circle cx="510.6" cy="2126.7" r="3.4" fill="url(#gO)"/>
<circle cx="500.6" cy="2129.7" r="3.4" fill="url(#gWs)"/>
<circle cx="642.9" cy="2125.1" r="3.4" fill="url(#gWs)"/>
<circle cx="719.9" cy="2121" r="3.4" fill="url(#gWs)"/>
<circle cx="611.3" cy="2123.7" r="3.4" fill="url(#gO)"/>
<circle cx="604.3" cy="2128.6" r="3.4" fill="url(#gO)"/>
<circle cx="564.7" cy="2123.2" r="3.4" fill="url(#gO)"/>
<circle cx="594.4" cy="2127.8" r="3.4" fill="url(#gB)"/>
<circle cx="501.9" cy="2124.2" r="3.4" fill="url(#gO)"/>
<circle cx="511.9" cy="2131.3" r="3.4" fill="url(#gWs)"/>
<circle cx="569.6" cy="2122.9" r="3.4" fill="url(#gB)"/>
<circle cx="510.2" cy="2132.3" r="3.4" fill="url(#gO)"/>
<circle cx="697.4" cy="2130.5" r="3.4" fill="url(#gWs)"/>
<circle cx="621" cy="2133.8" r="3.4" fill="url(#gWs)"/>
<circle cx="687" cy="2130.1" r="3.4" fill="url(#gWs)"/>
<circle cx="712.7" cy="2124.5" r="3.4" fill="url(#gWs)"/>
<circle cx="558.8" cy="2127.7" r="3.4" fill="url(#gWs)"/>
<circle cx="630.2" cy="2126.7" r="3.4" fill="url(#gWs)"/>
<circle cx="666.2" cy="2129.3" r="3.4" fill="url(#gB)"/>
<circle cx="691.3" cy="2132.9" r="3.4" fill="url(#gB)"/>
<circle cx="687" cy="2127.3" r="3.4" fill="url(#gWs)"/>
<circle cx="598.4" cy="2129.3" r="3.4" fill="url(#gB)"/>
<circle cx="581.2" cy="2277.7" r="83.2" fill="none" stroke="#fff200" stroke-width="6" stroke-dasharray="16.6 16" stroke-dashoffset="0"/>
</g>
<g clip-path="url(#c_j3t)">
<circle cx="937.3" cy="1696.3" r="3.3" fill="url(#gWs)"/>
<circle cx="935.6" cy="1706.6" r="3.3" fill="url(#gO)"/>
<circle cx="940.3" cy="1697.6" r="3.3" fill="url(#gWs)"/>
<circle cx="968" cy="1710.8" r="3.3" fill="url(#gO)"/>
<circle cx="932.2" cy="1701" r="3.3" fill="url(#gWs)"/>
<circle cx="962.8" cy="1704" r="3.3" fill="url(#gB)"/>
<circle cx="915.9" cy="1701.2" r="3.3" fill="url(#gO)"/>
<circle cx="915.5" cy="1695" r="3.3" fill="url(#gB)"/>
<circle cx="934.8" cy="1702.7" r="3.3" fill="url(#gWs)"/>
<circle cx="910.7" cy="1697.3" r="3.3" fill="url(#gO)"/>
<circle cx="992" cy="1706.4" r="3.3" fill="url(#gWs)"/>
<circle cx="984.2" cy="1706.9" r="3.3" fill="url(#gWs)"/>
<circle cx="969.3" cy="1695" r="3.3" fill="url(#gWs)"/>
<circle cx="996.5" cy="1703.5" r="3.3" fill="url(#gWs)"/>
<circle cx="977.6" cy="1696.9" r="3.3" fill="url(#gWs)"/>
<circle cx="1007.6" cy="1712" r="3.3" fill="url(#gWs)"/>
<circle cx="997.4" cy="1693.2" r="3.3" fill="url(#gWs)"/>
<circle cx="1023.4" cy="1706.7" r="3.3" fill="url(#gB)"/>
<circle cx="972.3" cy="1707.3" r="3.3" fill="url(#gWs)"/>
<circle cx="973.1" cy="1715.2" r="3.3" fill="url(#gB)"/>
<circle cx="1055.7" cy="1715.9" r="3.3" fill="url(#gB)"/>
<circle cx="1066" cy="1710.3" r="3.3" fill="url(#gO)"/>
<circle cx="1049.5" cy="1691.4" r="3.3" fill="url(#gWs)"/>
<circle cx="1081.7" cy="1709.9" r="3.3" fill="url(#gO)"/>
<circle cx="1068.6" cy="1709.9" r="3.3" fill="url(#gO)"/>
<circle cx="1069.7" cy="1712.4" r="3.3" fill="url(#gWs)"/>
<circle cx="1059.4" cy="1693.2" r="3.3" fill="url(#gB)"/>
<circle cx="1090" cy="1700.1" r="3.3" fill="url(#gB)"/>
<circle cx="1077.3" cy="1702.5" r="3.3" fill="url(#gO)"/>
<circle cx="1060.6" cy="1716.6" r="3.3" fill="url(#gO)"/>
<circle cx="1150.3" cy="1713.5" r="3.3" fill="url(#gWs)"/>
<circle cx="1093.3" cy="1711.8" r="3.3" fill="url(#gO)"/>
<circle cx="1122.5" cy="1711.8" r="3.3" fill="url(#gO)"/>
<circle cx="1109.6" cy="1715.9" r="3.3" fill="url(#gO)"/>
<circle cx="1092.7" cy="1717" r="3.3" fill="url(#gO)"/>
<circle cx="1135.3" cy="1705.8" r="3.3" fill="url(#gWs)"/>
<circle cx="1112.6" cy="1718" r="3.3" fill="url(#gWs)"/>
<circle cx="1113.3" cy="1701.1" r="3.3" fill="url(#gWs)"/>
<circle cx="1099.9" cy="1711.7" r="3.3" fill="url(#gWs)"/>
<circle cx="1126.2" cy="1723" r="3.3" fill="url(#gB)"/>
<circle cx="1159.2" cy="1730.6" r="3.3" fill="url(#gWs)"/>
<circle cx="1173.3" cy="1734.2" r="3.3" fill="url(#gO)"/>
<circle cx="1186.2" cy="1749.1" r="3.3" fill="url(#gO)"/>
<circle cx="1160.5" cy="1730.1" r="3.3" fill="url(#gWs)"/>
<circle cx="1157.4" cy="1725.4" r="3.3" fill="url(#gB)"/>
<circle cx="1168" cy="1722.4" r="3.3" fill="url(#gB)"/>
<circle cx="1176.6" cy="1751.1" r="3.3" fill="url(#gB)"/>
<circle cx="1176.4" cy="1735.8" r="3.3" fill="url(#gWs)"/>
<circle cx="1189.6" cy="1764.4" r="3.3" fill="url(#gB)"/>
<circle cx="1181.3" cy="1761.9" r="3.3" fill="url(#gWs)"/>
<circle cx="1194.6" cy="1749.9" r="3.3" fill="url(#gWs)"/>
<circle cx="1192.8" cy="1776.7" r="3.3" fill="url(#gB)"/>
<circle cx="1195.1" cy="1752.2" r="3.3" fill="url(#gWs)"/>
<circle cx="1182.4" cy="1759.7" r="3.3" fill="url(#gWs)"/>
<circle cx="1202.6" cy="1788.8" r="3.3" fill="url(#gWs)"/>
<circle cx="1211.8" cy="1801.5" r="3.3" fill="url(#gO)"/>
<circle cx="1213.2" cy="1804.9" r="3.3" fill="url(#gO)"/>
<circle cx="1205.9" cy="1794.3" r="3.3" fill="url(#gWs)"/>
<circle cx="1215.2" cy="1809.6" r="3.3" fill="url(#gB)"/>
<circle cx="1209.1" cy="1802.5" r="3.3" fill="url(#gO)"/>
<circle cx="1214.5" cy="1838.2" r="3.3" fill="url(#gWs)"/>
<circle cx="1203.1" cy="1814.2" r="3.3" fill="url(#gO)"/>
<circle cx="1235.2" cy="1830.6" r="3.3" fill="url(#gB)"/>
<circle cx="1210.6" cy="1813.4" r="3.3" fill="url(#gWs)"/>
<circle cx="1222.4" cy="1835.5" r="3.3" fill="url(#gWs)"/>
<circle cx="1220.2" cy="1815.2" r="3.3" fill="url(#gO)"/>
<circle cx="1225.7" cy="1884.5" r="3.3" fill="url(#gO)"/>
<circle cx="1216.2" cy="1871.6" r="3.3" fill="url(#gO)"/>
<circle cx="1235" cy="1878.5" r="3.3" fill="url(#gB)"/>
<circle cx="1228.4" cy="1885.9" r="3.3" fill="url(#gWs)"/>
<circle cx="1221.2" cy="1859.8" r="3.3" fill="url(#gWs)"/>
<circle cx="1240.5" cy="1865.8" r="3.3" fill="url(#gWs)"/>
<circle cx="1233.5" cy="1846.6" r="3.3" fill="url(#gWs)"/>
<circle cx="1219" cy="1903.4" r="3.3" fill="url(#gWs)"/>
<circle cx="1205.4" cy="1914.8" r="3.3" fill="url(#gWs)"/>
<circle cx="1214" cy="1896.3" r="3.3" fill="url(#gWs)"/>
<circle cx="1205.2" cy="1913.6" r="3.3" fill="url(#gWs)"/>
<circle cx="1221.1" cy="1902.7" r="3.3" fill="url(#gWs)"/>
<circle cx="1234.1" cy="1895.1" r="3.3" fill="url(#gWs)"/>
<circle cx="1192.7" cy="1926.2" r="3.3" fill="url(#gWs)"/>
<circle cx="1193.8" cy="1936" r="3.3" fill="url(#gB)"/>
<circle cx="1205.2" cy="1932.9" r="3.3" fill="url(#gWs)"/>
<circle cx="1192.6" cy="1939.6" r="3.3" fill="url(#gO)"/>
<circle cx="1198.6" cy="1933" r="3.3" fill="url(#gWs)"/>
<circle cx="1190.9" cy="1922.8" r="3.3" fill="url(#gWs)"/>
<circle cx="1188" cy="1950.1" r="3.3" fill="url(#gWs)"/>
<circle cx="1164.9" cy="1950.6" r="3.3" fill="url(#gWs)"/>
<circle cx="1170.7" cy="1945.7" r="3.3" fill="url(#gB)"/>
<circle cx="1168.5" cy="1958.9" r="3.3" fill="url(#gWs)"/>
<circle cx="1182.1" cy="1958.4" r="3.3" fill="url(#gWs)"/>
<circle cx="1163.9" cy="1954.2" r="3.3" fill="url(#gO)"/>
<circle cx="1151.5" cy="1968" r="3.3" fill="url(#gWs)"/>
<circle cx="1156.3" cy="1961.7" r="3.3" fill="url(#gO)"/>
<circle cx="1128.3" cy="1980.7" r="3.3" fill="url(#gWs)"/>
<circle cx="1155.4" cy="1985" r="3.3" fill="url(#gB)"/>
<circle cx="1123.6" cy="2005.3" r="3.3" fill="url(#gWs)"/>
<circle cx="1116.4" cy="1994.5" r="3.3" fill="url(#gO)"/>
<circle cx="1115.2" cy="2001.8" r="3.3" fill="url(#gO)"/>
<circle cx="1139.3" cy="1998" r="3.3" fill="url(#gO)"/>
<circle cx="1133.4" cy="1982" r="3.3" fill="url(#gWs)"/>
<circle cx="1087.2" cy="2040.2" r="3.3" fill="url(#gB)"/>
<circle cx="1101" cy="2024.6" r="3.3" fill="url(#gB)"/>
<circle cx="1112.1" cy="2013.3" r="3.3" fill="url(#gO)"/>
<circle cx="1102.6" cy="2043.7" r="3.3" fill="url(#gWs)"/>
<circle cx="1094.9" cy="2036.5" r="3.3" fill="url(#gO)"/>
<circle cx="1103.5" cy="2013.6" r="3.3" fill="url(#gWs)"/>
<circle cx="1103.1" cy="2034.1" r="3.3" fill="url(#gB)"/>
<circle cx="1114.8" cy="2028.7" r="3.3" fill="url(#gWs)"/>
<circle cx="1116.3" cy="2029.8" r="3.3" fill="url(#gWs)"/>
<circle cx="1088.4" cy="2063.4" r="3.3" fill="url(#gWs)"/>
<circle cx="1068.1" cy="2081.5" r="3.3" fill="url(#gWs)"/>
<circle cx="1059.3" cy="2076.7" r="3.3" fill="url(#gB)"/>
<circle cx="1068.4" cy="2069.7" r="3.3" fill="url(#gWs)"/>
<circle cx="1088.2" cy="2054.9" r="3.3" fill="url(#gWs)"/>
<circle cx="1070.2" cy="2071.8" r="3.3" fill="url(#gB)"/>
<circle cx="1065.6" cy="2079.9" r="3.3" fill="url(#gWs)"/>
<circle cx="972.7" cy="2073.4" r="3.3" fill="url(#gWs)"/>
<circle cx="941.5" cy="2078.6" r="3.3" fill="url(#gWs)"/>
<circle cx="974.4" cy="2081.2" r="3.3" fill="url(#gB)"/>
<circle cx="930.7" cy="2085.4" r="3.3" fill="url(#gWs)"/>
<circle cx="995.1" cy="2083" r="3.3" fill="url(#gO)"/>
<circle cx="962.2" cy="2089.5" r="3.3" fill="url(#gB)"/>
<circle cx="940.2" cy="2084.9" r="3.3" fill="url(#gB)"/>
<circle cx="959.9" cy="2090.6" r="3.3" fill="url(#gWs)"/>
<circle cx="1010.6" cy="2088.9" r="3.3" fill="url(#gWs)"/>
<circle cx="1008.2" cy="2093.4" r="3.3" fill="url(#gWs)"/>
<circle cx="1051.6" cy="2088.5" r="3.3" fill="url(#gWs)"/>
<circle cx="894" cy="2076.4" r="3.3" fill="url(#gWs)"/>
<circle cx="919.5" cy="2072.6" r="3.3" fill="url(#gWs)"/>
<circle cx="876.8" cy="2086.9" r="3.3" fill="url(#gWs)"/>
<circle cx="1003.6" cy="2087.2" r="3.3" fill="url(#gWs)"/>
<circle cx="876" cy="2073.3" r="3.3" fill="url(#gB)"/>
<circle cx="1006.9" cy="2087.9" r="3.3" fill="url(#gWs)"/>
<circle cx="943.8" cy="2087.2" r="3.3" fill="url(#gB)"/>
<circle cx="980.9" cy="2094.7" r="3.3" fill="url(#gWs)"/>
<circle cx="1007.9" cy="2085.7" r="3.3" fill="url(#gO)"/>
<circle cx="967.4" cy="2068.3" r="3.3" fill="url(#gWs)"/>
<circle cx="877.8" cy="2086.8" r="3.3" fill="url(#gWs)"/>
<circle cx="923.8" cy="2083.6" r="3.3" fill="url(#gB)"/>
<circle cx="1029.7" cy="2081.7" r="3.3" fill="url(#gB)"/>
<circle cx="1000" cy="2075.3" r="3.3" fill="url(#gB)"/>
<circle cx="997.6" cy="2080.3" r="3.3" fill="url(#gWs)"/>
<circle cx="1030.5" cy="2072.1" r="3.3" fill="url(#gB)"/>
<circle cx="1057.6" cy="2080.3" r="3.3" fill="url(#gWs)"/>
<circle cx="1037.4" cy="2078.4" r="3.3" fill="url(#gWs)"/>
<circle cx="878.8" cy="2087.2" r="3.3" fill="url(#gO)"/>
<circle cx="1017.1" cy="2073.4" r="3.3" fill="url(#gO)"/>
<circle cx="859.2" cy="2078.8" r="3.3" fill="url(#gWs)"/>
<circle cx="844.2" cy="2036.9" r="3.3" fill="url(#gO)"/>
<circle cx="858" cy="2063.3" r="3.3" fill="url(#gWs)"/>
<circle cx="860.9" cy="2055.3" r="3.3" fill="url(#gWs)"/>
<circle cx="863" cy="2078.9" r="3.3" fill="url(#gO)"/>
<circle cx="844.4" cy="2056.6" r="3.3" fill="url(#gWs)"/>
<circle cx="857.6" cy="2087.1" r="3.3" fill="url(#gO)"/>
<circle cx="856.3" cy="2029.8" r="3.3" fill="url(#gO)"/>
<circle cx="833.7" cy="2012.8" r="3.3" fill="url(#gO)"/>
<circle cx="839.4" cy="2009.4" r="3.3" fill="url(#gB)"/>
<circle cx="837" cy="1996.9" r="3.3" fill="url(#gWs)"/>
<circle cx="831.7" cy="2013.6" r="3.3" fill="url(#gWs)"/>
<circle cx="842.1" cy="2003.8" r="3.3" fill="url(#gWs)"/>
<circle cx="841.1" cy="2026.3" r="3.3" fill="url(#gWs)"/>
<circle cx="839.4" cy="2002.1" r="3.3" fill="url(#gO)"/>
<circle cx="818.8" cy="2002.2" r="3.3" fill="url(#gWs)"/>
<circle cx="811.8" cy="1966.4" r="3.3" fill="url(#gO)"/>
<circle cx="821.3" cy="1979.2" r="3.3" fill="url(#gO)"/>
<circle cx="826.8" cy="1993.5" r="3.3" fill="url(#gWs)"/>
<circle cx="829.3" cy="1971.6" r="3.3" fill="url(#gWs)"/>
<circle cx="827" cy="1960" r="3.3" fill="url(#gWs)"/>
<circle cx="808.2" cy="1949" r="3.3" fill="url(#gWs)"/>
<circle cx="821.2" cy="1929.9" r="3.3" fill="url(#gWs)"/>
<circle cx="809.1" cy="1944.8" r="3.3" fill="url(#gB)"/>
<circle cx="817" cy="1955.6" r="3.3" fill="url(#gB)"/>
<circle cx="810.2" cy="1937.4" r="3.3" fill="url(#gO)"/>
<circle cx="803.3" cy="1911.3" r="3.3" fill="url(#gWs)"/>
<circle cx="809.3" cy="1891.7" r="3.3" fill="url(#gWs)"/>
<circle cx="809.2" cy="1920.6" r="3.3" fill="url(#gWs)"/>
<circle cx="817.1" cy="1929.3" r="3.3" fill="url(#gB)"/>
<circle cx="801.6" cy="1930.5" r="3.3" fill="url(#gO)"/>
<circle cx="816.4" cy="1916.8" r="3.3" fill="url(#gB)"/>
<circle cx="807.3" cy="1912.2" r="3.3" fill="url(#gWs)"/>
<circle cx="816.8" cy="1896.2" r="3.3" fill="url(#gB)"/>
<circle cx="818.8" cy="1859.8" r="3.3" fill="url(#gO)"/>
<circle cx="797.4" cy="1851.5" r="3.3" fill="url(#gWs)"/>
<circle cx="814.6" cy="1851.8" r="3.3" fill="url(#gWs)"/>
<circle cx="804.5" cy="1852.9" r="3.3" fill="url(#gWs)"/>
<circle cx="812.2" cy="1852.1" r="3.3" fill="url(#gB)"/>
<circle cx="802.8" cy="1881.5" r="3.3" fill="url(#gO)"/>
<circle cx="806.8" cy="1855" r="3.3" fill="url(#gWs)"/>
<circle cx="805.2" cy="1822.5" r="3.3" fill="url(#gO)"/>
<circle cx="821.4" cy="1825.1" r="3.3" fill="url(#gO)"/>
<circle cx="809.9" cy="1838.1" r="3.3" fill="url(#gB)"/>
<circle cx="820.2" cy="1835" r="3.3" fill="url(#gWs)"/>
<circle cx="804.7" cy="1836.7" r="3.3" fill="url(#gO)"/>
<circle cx="808.2" cy="1837.4" r="3.3" fill="url(#gO)"/>
<circle cx="824.5" cy="1786.8" r="3.3" fill="url(#gO)"/>
<circle cx="821.8" cy="1793.2" r="3.3" fill="url(#gO)"/>
<circle cx="819.9" cy="1794.2" r="3.3" fill="url(#gO)"/>
<circle cx="825.1" cy="1791.5" r="3.3" fill="url(#gWs)"/>
<circle cx="833" cy="1769.5" r="3.3" fill="url(#gWs)"/>
<circle cx="820.3" cy="1801.3" r="3.3" fill="url(#gWs)"/>
<circle cx="820.9" cy="1803.4" r="3.3" fill="url(#gWs)"/>
<circle cx="832.8" cy="1764.4" r="3.3" fill="url(#gO)"/>
<circle cx="833.3" cy="1753.5" r="3.3" fill="url(#gWs)"/>
<circle cx="844" cy="1768.3" r="3.3" fill="url(#gWs)"/>
<circle cx="857.2" cy="1742.3" r="3.3" fill="url(#gWs)"/>
<circle cx="843.3" cy="1757.2" r="3.3" fill="url(#gWs)"/>
<circle cx="844.7" cy="1744.6" r="3.3" fill="url(#gB)"/>
<circle cx="845.1" cy="1751.1" r="3.3" fill="url(#gWs)"/>
<circle cx="863.1" cy="1722.5" r="3.3" fill="url(#gWs)"/>
<circle cx="875.3" cy="1727.5" r="3.3" fill="url(#gO)"/>
<circle cx="860.8" cy="1722" r="3.3" fill="url(#gB)"/>
<circle cx="855.2" cy="1728.7" r="3.3" fill="url(#gWs)"/>
<circle cx="847.4" cy="1727.2" r="3.3" fill="url(#gWs)"/>
<circle cx="867.7" cy="1721.2" r="3.3" fill="url(#gWs)"/>
<circle cx="904.4" cy="1694.9" r="3.3" fill="url(#gB)"/>
<circle cx="895.7" cy="1700.4" r="3.3" fill="url(#gWs)"/>
<circle cx="893.1" cy="1704.9" r="3.3" fill="url(#gWs)"/>
<circle cx="886.9" cy="1704.4" r="3.3" fill="url(#gO)"/>
<circle cx="901.4" cy="1717.6" r="3.3" fill="url(#gWs)"/>
<clipPath id="cj3t"><rect x="776" y="1688" width="458" height="387.3"/></clipPath>
<path d="M910.4,1704.6 C915.7,1704.4 926,1706.7 932.5,1706.6 C938.9,1706.4 943.1,1704.1 949,1703.8 C955,1703.5 961.3,1704.7 968.4,1704.8 C975.4,1704.8 984.5,1704.2 991.4,1704.2 C998.3,1704.2 1003.6,1704.4 1009.7,1704.7 C1015.7,1705 1020.9,1705.5 1027.8,1706 C1034.6,1706.5 1044.4,1707.8 1050.7,1707.9 C1057,1708.1 1059.6,1706.2 1065.4,1706.8 C1071.3,1707.3 1078.5,1709.7 1085.9,1711.2 C1093.2,1712.7 1102.2,1714.3 1109.4,1715.8 C1116.6,1717.4 1122.4,1718.8 1129.1,1720.5 C1135.8,1722.1 1144.7,1723.2 1149.4,1725.8 C1154,1728.3 1153.5,1732.7 1157,1735.9 C1160.5,1739.1 1165.9,1742.3 1170.2,1745.1 C1174.4,1748 1179.6,1750 1182.4,1753 C1185.2,1755.9 1185.3,1759.8 1187,1762.8 C1188.7,1765.7 1190.1,1767.1 1192.5,1770.7 C1194.9,1774.3 1199.1,1780.8 1201.4,1784.6 C1203.7,1788.4 1205.2,1790.5 1206.2,1793.7 C1207.3,1796.9 1207.1,1800.5 1207.5,1803.8 C1207.9,1807 1207.6,1810.2 1208.8,1813.1 C1210,1815.9 1213.3,1817.4 1214.7,1820.9 C1216.1,1824.3 1216.1,1829.9 1217.2,1833.7 C1218.4,1837.6 1220.3,1840.2 1221.5,1844.2 C1222.8,1848.1 1224.4,1852.9 1224.6,1857.5 C1224.8,1862.1 1222.8,1867.3 1222.8,1871.7 C1222.7,1876.2 1225.3,1880.1 1224.4,1883.9 C1223.5,1887.7 1219.8,1890.8 1217.3,1894.5 C1214.8,1898.2 1211.2,1902.8 1209.7,1906.1 C1208.2,1909.4 1210.3,1910.8 1208.1,1914.3 C1206,1917.9 1201.1,1924.3 1196.9,1927.3 C1192.7,1930.2 1186.2,1929.1 1183.1,1932.2 C1179.9,1935.3 1180.5,1942.8 1177.8,1946 C1175.2,1949.3 1170.7,1948.5 1167.1,1951.8 C1163.4,1955.1 1159,1962 1155.9,1965.9 C1152.9,1969.9 1152.5,1972.2 1149,1975.4 C1145.5,1978.7 1138.8,1982.3 1135,1985.5 C1131.2,1988.7 1129.5,1991.1 1126.1,1994.5 C1122.8,1997.9 1117.9,2001.7 1114.8,2005.8 C1111.8,2009.9 1111.1,2014.5 1108,2019 C1104.8,2023.5 1099.2,2028.3 1095.9,2033 C1092.7,2037.8 1091.6,2043.3 1088.5,2047.5 C1085.4,2051.8 1080.9,2055.6 1077.4,2058.7 C1073.8,2061.8 1070.9,2063 1067.4,2066.4 C1064,2069.8 1069,2077.5 1056.6,2079.1 C1044.1,2080.8 1014,2076.4 992.7,2076.4 C971.4,2076.3 949.6,2078.5 928.8,2078.9 C908.1,2079.2 879.8,2081 868.1,2078.3 C856.5,2075.5 861.3,2067.9 859.1,2062.3 C856.9,2056.7 857,2049.4 855,2044.9 C853,2040.3 849.2,2039.8 847,2035 C844.8,2030.2 843.5,2021.4 841.7,2016.1 C840,2010.9 838.7,2008 836.6,2003.3 C834.6,1998.5 830.9,1991.6 829.5,1987.8 C828,1984 829,1983.7 827.9,1980.3 C826.7,1977 823.3,1970.8 822.4,1967.7 C821.4,1964.6 822.4,1964.9 822,1961.8 C821.5,1958.7 820.4,1953 819.8,1949 C819.2,1945.1 819.6,1941.4 818.4,1938.2 C817.1,1934.9 812.5,1933.2 812.2,1929.6 C811.9,1926 816.6,1921 816.5,1916.3 C816.4,1911.6 811.9,1906.7 811.5,1901.3 C811.2,1895.9 813.8,1889.1 814.1,1884.1 C814.4,1879 813.8,1875.5 813.5,1870.9 C813.3,1866.4 812.5,1861.4 812.5,1856.8 C812.4,1852.3 812.7,1847.5 813.2,1843.5 C813.7,1839.5 814.6,1836.2 815.6,1833 C816.6,1829.8 817.5,1828.3 819.2,1824.3 C820.9,1820.4 823.5,1813.8 825.6,1809 C827.7,1804.2 830.1,1799.8 831.6,1795.5 C833.2,1791.1 833.7,1787.8 834.9,1783 C836.1,1778.2 837.2,1771.2 839,1766.7 C840.8,1762.2 843.1,1759.5 845.6,1756.1 C848.1,1752.6 851.8,1749.3 854.2,1746.1 C856.6,1743 858,1739.7 859.9,1737 C861.9,1734.3 863.6,1732.9 865.8,1730.1 C868,1727.4 870.1,1723.2 873.2,1720.7 C876.3,1718.1 880.3,1715.7 884.2,1714.7 C888,1713.6 893.5,1715.3 896.2,1714.1 C898.9,1712.9 897.8,1709.1 900.1,1707.5 C902.5,1706 905,1704.8 910.4,1704.6Z" fill="url(#pM)" clip-path="url(#cj3t)"/>
<circle cx="916.3" cy="1701.9" r="3.3" fill="url(#gWs)"/>
<circle cx="925" cy="1699.3" r="3.3" fill="url(#gO)"/>
<circle cx="931.1" cy="1698.8" r="3.3" fill="url(#gB)"/>
<circle cx="934.5" cy="1705.8" r="3.3" fill="url(#gWs)"/>
<circle cx="941.1" cy="1702.1" r="3.3" fill="url(#gWs)"/>
<circle cx="989.5" cy="1711.3" r="3.3" fill="url(#gWs)"/>
<circle cx="1029" cy="1706.6" r="3.3" fill="url(#gO)"/>
<circle cx="976.8" cy="1702.1" r="3.3" fill="url(#gWs)"/>
<circle cx="1020.6" cy="1704.1" r="3.3" fill="url(#gWs)"/>
<circle cx="1015.7" cy="1705.7" r="3.3" fill="url(#gWs)"/>
<circle cx="1045.6" cy="1709.1" r="3.3" fill="url(#gO)"/>
<circle cx="1035.5" cy="1705" r="3.3" fill="url(#gWs)"/>
<circle cx="1058.4" cy="1704.9" r="3.3" fill="url(#gWs)"/>
<circle cx="1046.1" cy="1699.1" r="3.3" fill="url(#gWs)"/>
<circle cx="1069.7" cy="1706.4" r="3.3" fill="url(#gB)"/>
<circle cx="1113.2" cy="1717" r="3.3" fill="url(#gWs)"/>
<circle cx="1105.3" cy="1714.8" r="3.3" fill="url(#gWs)"/>
<circle cx="1107.9" cy="1719.6" r="3.3" fill="url(#gO)"/>
<circle cx="1108.2" cy="1706.3" r="3.3" fill="url(#gWs)"/>
<circle cx="1094.6" cy="1714" r="3.3" fill="url(#gWs)"/>
<circle cx="1159.7" cy="1728.4" r="3.3" fill="url(#gO)"/>
<circle cx="1162.3" cy="1735" r="3.3" fill="url(#gO)"/>
<circle cx="1169.1" cy="1735" r="3.3" fill="url(#gB)"/>
<circle cx="1169.6" cy="1738.7" r="3.3" fill="url(#gO)"/>
<circle cx="1192.7" cy="1756.8" r="3.3" fill="url(#gWs)"/>
<circle cx="1183.2" cy="1755.7" r="3.3" fill="url(#gWs)"/>
<circle cx="1191.7" cy="1766.6" r="3.3" fill="url(#gWs)"/>
<circle cx="1203.3" cy="1792.2" r="3.3" fill="url(#gWs)"/>
<circle cx="1206.3" cy="1803.4" r="3.3" fill="url(#gO)"/>
<circle cx="1209" cy="1802.5" r="3.3" fill="url(#gO)"/>
<circle cx="1211.5" cy="1813.2" r="3.3" fill="url(#gB)"/>
<circle cx="1218.8" cy="1841.8" r="3.3" fill="url(#gO)"/>
<circle cx="1218.2" cy="1816" r="3.3" fill="url(#gB)"/>
<circle cx="1230.9" cy="1880.7" r="3.3" fill="url(#gWs)"/>
<circle cx="1224.3" cy="1848" r="3.3" fill="url(#gWs)"/>
<circle cx="1227.4" cy="1876.1" r="3.3" fill="url(#gB)"/>
<circle cx="1228.5" cy="1852.7" r="3.3" fill="url(#gB)"/>
<circle cx="1230.6" cy="1895.7" r="3.3" fill="url(#gB)"/>
<circle cx="1218.5" cy="1899.3" r="3.3" fill="url(#gWs)"/>
<circle cx="1231.7" cy="1891.8" r="3.3" fill="url(#gB)"/>
<circle cx="1195.2" cy="1934.3" r="3.3" fill="url(#gWs)"/>
<circle cx="1196.4" cy="1928.6" r="3.3" fill="url(#gO)"/>
<circle cx="1176.6" cy="1941.7" r="3.3" fill="url(#gB)"/>
<circle cx="1192.1" cy="1927.6" r="3.3" fill="url(#gWs)"/>
<circle cx="1169.7" cy="1949.5" r="3.3" fill="url(#gWs)"/>
<circle cx="1150.7" cy="1972.1" r="3.3" fill="url(#gO)"/>
<circle cx="1160.8" cy="1965.4" r="3.3" fill="url(#gO)"/>
<circle cx="1159.9" cy="1964.7" r="3.3" fill="url(#gO)"/>
<circle cx="1137.3" cy="1988.3" r="3.3" fill="url(#gWs)"/>
<circle cx="1135" cy="1991.5" r="3.3" fill="url(#gO)"/>
<circle cx="1146.3" cy="1983.5" r="3.3" fill="url(#gO)"/>
<circle cx="1144.4" cy="1979.7" r="3.3" fill="url(#gO)"/>
<circle cx="1108.6" cy="2027" r="3.3" fill="url(#gWs)"/>
<circle cx="1099.4" cy="2022.8" r="3.3" fill="url(#gB)"/>
<circle cx="1108.3" cy="2017.8" r="3.3" fill="url(#gWs)"/>
<circle cx="1110.1" cy="2023.3" r="3.3" fill="url(#gB)"/>
<circle cx="1086.5" cy="2047.3" r="3.3" fill="url(#gB)"/>
<circle cx="1048" cy="2041.3" r="3.3" fill="url(#gB)"/>
<circle cx="1034.6" cy="2042.7" r="3.3" fill="url(#gO)"/>
<circle cx="984" cy="2043.9" r="3.3" fill="url(#gB)"/>
<circle cx="893.6" cy="2032.6" r="3.3" fill="url(#gO)"/>
<circle cx="908.9" cy="2034.7" r="3.3" fill="url(#gB)"/>
<circle cx="935.1" cy="2044.2" r="3.3" fill="url(#gWs)"/>
<circle cx="957.5" cy="2035.9" r="3.3" fill="url(#gWs)"/>
<circle cx="974.1" cy="2041.2" r="3.3" fill="url(#gB)"/>
<circle cx="1001.1" cy="2047.5" r="3.3" fill="url(#gWs)"/>
<circle cx="853.6" cy="2034.7" r="3.3" fill="url(#gWs)"/>
<circle cx="1082.8" cy="2042.7" r="3.3" fill="url(#gWs)"/>
<circle cx="966.7" cy="2046.2" r="3.3" fill="url(#gWs)"/>
<circle cx="1046.5" cy="2051.1" r="3.3" fill="url(#gB)"/>
<circle cx="953.9" cy="2047.5" r="3.3" fill="url(#gWs)"/>
<circle cx="862.7" cy="2034" r="3.3" fill="url(#gWs)"/>
<circle cx="1019.2" cy="2039.1" r="3.3" fill="url(#gWs)"/>
<circle cx="936.6" cy="2035.1" r="3.3" fill="url(#gWs)"/>
<circle cx="1087.9" cy="2050.7" r="3.3" fill="url(#gB)"/>
<circle cx="957.1" cy="2036.2" r="3.3" fill="url(#gB)"/>
<circle cx="897.2" cy="2031.1" r="3.3" fill="url(#gO)"/>
<circle cx="830.8" cy="1989.5" r="3.3" fill="url(#gB)"/>
<circle cx="839.1" cy="2017.1" r="3.3" fill="url(#gB)"/>
<circle cx="833.2" cy="1991.3" r="3.3" fill="url(#gWs)"/>
<circle cx="843.1" cy="2000.7" r="3.3" fill="url(#gWs)"/>
<circle cx="829.3" cy="1980.7" r="3.3" fill="url(#gWs)"/>
<circle cx="831.2" cy="1977.2" r="3.3" fill="url(#gWs)"/>
<circle cx="821.6" cy="1960.7" r="3.3" fill="url(#gWs)"/>
<circle cx="817.6" cy="1938.4" r="3.3" fill="url(#gO)"/>
<circle cx="817" cy="1939.8" r="3.3" fill="url(#gB)"/>
<circle cx="815.1" cy="1940.1" r="3.3" fill="url(#gWs)"/>
<circle cx="811.6" cy="1894.8" r="3.3" fill="url(#gO)"/>
<circle cx="813.2" cy="1918.8" r="3.3" fill="url(#gB)"/>
<circle cx="815.9" cy="1898.2" r="3.3" fill="url(#gWs)"/>
<circle cx="806.6" cy="1891.5" r="3.3" fill="url(#gWs)"/>
<circle cx="814.3" cy="1882" r="3.3" fill="url(#gWs)"/>
<circle cx="816.5" cy="1862.9" r="3.3" fill="url(#gWs)"/>
<circle cx="817.7" cy="1844.2" r="3.3" fill="url(#gB)"/>
<circle cx="811.4" cy="1872.5" r="3.3" fill="url(#gB)"/>
<circle cx="810.7" cy="1845.2" r="3.3" fill="url(#gWs)"/>
<circle cx="815.3" cy="1839.4" r="3.3" fill="url(#gO)"/>
<circle cx="814.3" cy="1842" r="3.3" fill="url(#gB)"/>
<circle cx="835.7" cy="1780" r="3.3" fill="url(#gB)"/>
<circle cx="840.2" cy="1769.7" r="3.3" fill="url(#gO)"/>
<circle cx="827.5" cy="1786.9" r="3.3" fill="url(#gWs)"/>
<circle cx="821" cy="1808.1" r="3.3" fill="url(#gO)"/>
<circle cx="851.3" cy="1754.4" r="3.3" fill="url(#gWs)"/>
<circle cx="852.7" cy="1756" r="3.3" fill="url(#gO)"/>
<circle cx="858.9" cy="1739.2" r="3.3" fill="url(#gWs)"/>
<circle cx="873.7" cy="1715.8" r="3.3" fill="url(#gWs)"/>
<circle cx="869.8" cy="1729.7" r="3.3" fill="url(#gB)"/>
<circle cx="873.5" cy="1724.8" r="3.3" fill="url(#gB)"/>
<circle cx="902.5" cy="1704.5" r="3.3" fill="url(#gB)"/>
<circle cx="912" cy="1700.3" r="3.3" fill="url(#gB)"/>
<circle cx="905" cy="1703.4" r="3.3" fill="url(#gWs)"/>
<circle cx="779.5" cy="1822.5" r="3.4" fill="url(#gWs)"/>
<circle cx="783.8" cy="1846.4" r="3.4" fill="url(#gB)"/>
<circle cx="785.3" cy="1948.1" r="3.4" fill="url(#gB)"/>
<circle cx="784.9" cy="1907.1" r="3.4" fill="url(#gWs)"/>
<circle cx="796.7" cy="1999.3" r="3.4" fill="url(#gWs)"/>
<circle cx="779.9" cy="1988" r="3.4" fill="url(#gWs)"/>
<circle cx="787.5" cy="1866.1" r="3.4" fill="url(#gWs)"/>
<circle cx="788.3" cy="1917" r="3.4" fill="url(#gWs)"/>
<circle cx="794.3" cy="1840.8" r="3.4" fill="url(#gB)"/>
<circle cx="807" cy="1843.7" r="3.4" fill="url(#gB)"/>
<circle cx="806.6" cy="1843.8" r="3.4" fill="url(#gWs)"/>
<circle cx="793.4" cy="1866.9" r="3.4" fill="url(#gWs)"/>
<circle cx="806.8" cy="1967.2" r="3.4" fill="url(#gO)"/>
<circle cx="813" cy="1861.3" r="3.4" fill="url(#gWs)"/>
<circle cx="805.8" cy="1909.2" r="3.4" fill="url(#gB)"/>
<circle cx="783" cy="1838.6" r="3.4" fill="url(#gO)"/>
<circle cx="804.9" cy="1939.1" r="3.4" fill="url(#gWs)"/>
<circle cx="796.2" cy="1982" r="3.4" fill="url(#gB)"/>
<circle cx="798.6" cy="1960.1" r="3.4" fill="url(#gWs)"/>
<circle cx="812.9" cy="1912.3" r="3.4" fill="url(#gWs)"/>
<circle cx="783.3" cy="1996.6" r="3.4" fill="url(#gWs)"/>
<circle cx="787.3" cy="1867" r="3.4" fill="url(#gB)"/>
<circle cx="815.7" cy="1895.1" r="3.4" fill="url(#gWs)"/>
<circle cx="795" cy="1922.5" r="3.4" fill="url(#gB)"/>
<circle cx="780.6" cy="1822.4" r="3.4" fill="url(#gWs)"/>
<circle cx="810.2" cy="1938.6" r="3.4" fill="url(#gO)"/>
<circle cx="794" cy="1802.2" r="3.4" fill="url(#gWs)"/>
<circle cx="791.1" cy="1835.2" r="3.4" fill="url(#gWs)"/>
<circle cx="784.4" cy="1973" r="3.4" fill="url(#gWs)"/>
<circle cx="805.4" cy="1841.3" r="3.4" fill="url(#gWs)"/>
<circle cx="786.9" cy="1891" r="3.4" fill="url(#gB)"/>
<circle cx="801.5" cy="1971.9" r="3.4" fill="url(#gWs)"/>
<circle cx="801.5" cy="1943.4" r="3.4" fill="url(#gWs)"/>
<circle cx="809.8" cy="1893.4" r="3.4" fill="url(#gWs)"/>
<circle cx="784.3" cy="1956.6" r="3.4" fill="url(#gB)"/>
<circle cx="803.9" cy="1833.2" r="3.4" fill="url(#gO)"/>
<circle cx="784.1" cy="1885" r="3.4" fill="url(#gWs)"/>
<circle cx="795.4" cy="1861.4" r="3.4" fill="url(#gWs)"/>
<circle cx="809.6" cy="1908.3" r="3.4" fill="url(#gWs)"/>
<circle cx="790.1" cy="1840.4" r="3.4" fill="url(#gB)"/>
<circle cx="794.6" cy="1880.3" r="3.4" fill="url(#gB)"/>
<circle cx="795.5" cy="1839.7" r="3.4" fill="url(#gWs)"/>
<circle cx="793.9" cy="1939.6" r="3.4" fill="url(#gWs)"/>
<circle cx="789.7" cy="1925" r="3.4" fill="url(#gWs)"/>
<circle cx="800.5" cy="1987.1" r="3.4" fill="url(#gWs)"/>
<circle cx="786.8" cy="1806.7" r="3.4" fill="url(#gWs)"/>
<circle cx="791.8" cy="1894.8" r="3.4" fill="url(#gWs)"/>
<circle cx="779" cy="1875.9" r="3.4" fill="url(#gB)"/>
<circle cx="791.9" cy="1982.5" r="3.4" fill="url(#gB)"/>
<circle cx="796.3" cy="1955.4" r="3.4" fill="url(#gWs)"/>
<circle cx="805" cy="1969.3" r="3.4" fill="url(#gWs)"/>
<circle cx="792.7" cy="1819.2" r="3.4" fill="url(#gB)"/>
<circle cx="787.1" cy="1874.6" r="3.4" fill="url(#gWs)"/>
<circle cx="801.3" cy="1971.7" r="3.4" fill="url(#gWs)"/>
<circle cx="795.7" cy="1935.4" r="3.4" fill="url(#gB)"/>
<circle cx="788.5" cy="1882.1" r="3.4" fill="url(#gB)"/>
<circle cx="789.4" cy="1941.2" r="3.4" fill="url(#gWs)"/>
<circle cx="792.9" cy="1996.6" r="3.4" fill="url(#gB)"/>
<circle cx="781.7" cy="1849.7" r="3.4" fill="url(#gWs)"/>
<circle cx="781" cy="1862.5" r="3.4" fill="url(#gWs)"/>
<circle cx="796.6" cy="1907.7" r="3.4" fill="url(#gWs)"/>
<circle cx="785.1" cy="1804.6" r="3.4" fill="url(#gB)"/>
<circle cx="797.9" cy="1896" r="3.4" fill="url(#gWs)"/>
<circle cx="793.6" cy="1833.8" r="3.4" fill="url(#gWs)"/>
<circle cx="803.5" cy="1981.9" r="3.4" fill="url(#gWs)"/>
<circle cx="795.7" cy="1883.6" r="3.4" fill="url(#gO)"/>
<circle cx="780.7" cy="1946.1" r="3.4" fill="url(#gWs)"/>
<circle cx="796.3" cy="1963.3" r="3.4" fill="url(#gB)"/>
<circle cx="818.1" cy="1885.6" r="3.4" fill="url(#gB)"/>
<circle cx="812.7" cy="1890.7" r="3.4" fill="url(#gWs)"/>
<circle cx="804.2" cy="1974.2" r="3.4" fill="url(#gO)"/>
<circle cx="784.4" cy="1876.2" r="3.4" fill="url(#gWs)"/>
<circle cx="793.7" cy="1991.9" r="3.4" fill="url(#gWs)"/>
<circle cx="792.5" cy="1854.5" r="3.4" fill="url(#gWs)"/>
<circle cx="807.8" cy="1868.5" r="3.4" fill="url(#gWs)"/>
<circle cx="788.7" cy="1852" r="3.4" fill="url(#gO)"/>
<circle cx="786.3" cy="1950.8" r="3.4" fill="url(#gWs)"/>
<circle cx="812.5" cy="1886.4" r="3.4" fill="url(#gWs)"/>
<circle cx="783.1" cy="1960" r="3.4" fill="url(#gWs)"/>
<circle cx="799.9" cy="1870.4" r="3.4" fill="url(#gB)"/>
<circle cx="799.7" cy="1812.4" r="3.4" fill="url(#gB)"/>
<circle cx="792.5" cy="1969.3" r="3.4" fill="url(#gWs)"/>
<circle cx="809.4" cy="1922.1" r="3.4" fill="url(#gO)"/>
<circle cx="817" cy="1910.3" r="3.4" fill="url(#gB)"/>
<circle cx="812" cy="1852.8" r="3.4" fill="url(#gWs)"/>
<circle cx="812.8" cy="1918.9" r="3.4" fill="url(#gWs)"/>
<circle cx="790.1" cy="1815" r="3.4" fill="url(#gB)"/>
<circle cx="785.4" cy="1993.9" r="3.4" fill="url(#gWs)"/>
<circle cx="802" cy="1963.5" r="3.4" fill="url(#gO)"/>
<circle cx="785.1" cy="1890.7" r="3.4" fill="url(#gWs)"/>
<circle cx="798.8" cy="1826.7" r="3.4" fill="url(#gO)"/>
<circle cx="794.3" cy="1877.8" r="3.4" fill="url(#gO)"/>
<circle cx="814.4" cy="1867.2" r="3.4" fill="url(#gWs)"/>
<circle cx="807.5" cy="1837.6" r="3.4" fill="url(#gWs)"/>
<circle cx="809.4" cy="1947.6" r="3.4" fill="url(#gB)"/>
<circle cx="793.9" cy="1971.5" r="3.4" fill="url(#gB)"/>
<circle cx="782.1" cy="1979.5" r="3.4" fill="url(#gB)"/>
<circle cx="791.4" cy="1833.7" r="3.4" fill="url(#gWs)"/>
<circle cx="794" cy="1836" r="3.4" fill="url(#gWs)"/>
<circle cx="796.8" cy="1859.6" r="3.4" fill="url(#gWs)"/>
<circle cx="791.8" cy="1964.2" r="3.4" fill="url(#gWs)"/>
<circle cx="796.4" cy="1902.8" r="3.4" fill="url(#gWs)"/>
<circle cx="780.6" cy="1814.8" r="3.4" fill="url(#gWs)"/>
<circle cx="793" cy="1849.9" r="3.4" fill="url(#gO)"/>
<circle cx="794.4" cy="1882.6" r="3.4" fill="url(#gB)"/>
<circle cx="790.3" cy="1802.7" r="3.4" fill="url(#gB)"/>
<circle cx="818.7" cy="1913.6" r="3.4" fill="url(#gWs)"/>
<circle cx="808.7" cy="1930" r="3.4" fill="url(#gWs)"/>
<circle cx="800.1" cy="1868.8" r="3.4" fill="url(#gWs)"/>
<circle cx="799.1" cy="1873.1" r="3.4" fill="url(#gWs)"/>
<circle cx="806.8" cy="1932.4" r="3.4" fill="url(#gO)"/>
<circle cx="820.6" cy="1893.2" r="3.4" fill="url(#gB)"/>
<circle cx="795.1" cy="1886.7" r="3.4" fill="url(#gB)"/>
<circle cx="798.9" cy="1867.3" r="3.4" fill="url(#gB)"/>
<circle cx="819.9" cy="1894.4" r="3.4" fill="url(#gWs)"/>
<circle cx="804.6" cy="1917.5" r="3.4" fill="url(#gB)"/>
<circle cx="812.4" cy="1892.7" r="3.4" fill="url(#gWs)"/>
<circle cx="789.3" cy="1937.5" r="3.4" fill="url(#gO)"/>
<circle cx="798.5" cy="1831.8" r="3.4" fill="url(#gB)"/>
<circle cx="795.8" cy="1937" r="3.4" fill="url(#gO)"/>
<circle cx="784.5" cy="1931.5" r="3.4" fill="url(#gB)"/>
<circle cx="790.8" cy="1807" r="3.4" fill="url(#gO)"/>
<circle cx="808.9" cy="1925" r="3.4" fill="url(#gWs)"/>
<circle cx="817.7" cy="1879.8" r="3.4" fill="url(#gWs)"/>
<circle cx="802.9" cy="1889.2" r="3.4" fill="url(#gO)"/>
<circle cx="799.1" cy="1935.5" r="3.4" fill="url(#gB)"/>
<circle cx="793.6" cy="1990" r="3.4" fill="url(#gB)"/>
<circle cx="795" cy="1976.3" r="3.4" fill="url(#gWs)"/>
<circle cx="789.9" cy="1813.8" r="3.4" fill="url(#gB)"/>
<circle cx="799.9" cy="1860.9" r="3.4" fill="url(#gWs)"/>
<circle cx="789.9" cy="1941.8" r="3.4" fill="url(#gB)"/>
<circle cx="795.4" cy="1973.7" r="3.4" fill="url(#gWs)"/>
<circle cx="803.3" cy="1830.7" r="3.4" fill="url(#gWs)"/>
<circle cx="803" cy="1817.4" r="3.4" fill="url(#gWs)"/>
<circle cx="784.8" cy="1875.3" r="3.4" fill="url(#gB)"/>
<circle cx="791.4" cy="1824.5" r="3.4" fill="url(#gB)"/>
<circle cx="781.1" cy="1833" r="3.4" fill="url(#gWs)"/>
<circle cx="821.6" cy="1908" r="3.4" fill="url(#gO)"/>
<circle cx="788.6" cy="1894.1" r="3.4" fill="url(#gB)"/>
<circle cx="788.7" cy="1904.5" r="3.4" fill="url(#gB)"/>
<circle cx="1197.9" cy="1789.9" r="3.4" fill="url(#gWs)"/>
<circle cx="1228.3" cy="1829.5" r="3.4" fill="url(#gB)"/>
<circle cx="1198.7" cy="1831.2" r="3.4" fill="url(#gB)"/>
<circle cx="1195" cy="1865.7" r="3.4" fill="url(#gWs)"/>
<circle cx="1195.3" cy="1862.3" r="3.4" fill="url(#gB)"/>
<circle cx="1202.5" cy="1771.4" r="3.4" fill="url(#gWs)"/>
<circle cx="1200.9" cy="1762.8" r="3.4" fill="url(#gWs)"/>
<circle cx="1196.4" cy="1809.4" r="3.4" fill="url(#gWs)"/>
<circle cx="1201.2" cy="1874" r="3.4" fill="url(#gB)"/>
<circle cx="1216" cy="1840.6" r="3.4" fill="url(#gB)"/>
<circle cx="1207.2" cy="1794.2" r="3.4" fill="url(#gWs)"/>
<circle cx="1197.6" cy="1826.7" r="3.4" fill="url(#gB)"/>
<circle cx="1211.5" cy="1858.3" r="3.4" fill="url(#gWs)"/>
<circle cx="1197.3" cy="1852.6" r="3.4" fill="url(#gWs)"/>
<circle cx="1206.2" cy="1813.8" r="3.4" fill="url(#gWs)"/>
<circle cx="1196.3" cy="1760.9" r="3.4" fill="url(#gO)"/>
<circle cx="1214.4" cy="1831.2" r="3.4" fill="url(#gWs)"/>
<circle cx="1208.9" cy="1861.2" r="3.4" fill="url(#gWs)"/>
<circle cx="1226.4" cy="1831.4" r="3.4" fill="url(#gB)"/>
<circle cx="1200.1" cy="1794.7" r="3.4" fill="url(#gWs)"/>
<circle cx="1196" cy="1893.2" r="3.4" fill="url(#gWs)"/>
<circle cx="1198.1" cy="1804.6" r="3.4" fill="url(#gWs)"/>
<circle cx="1202.8" cy="1869.2" r="3.4" fill="url(#gWs)"/>
<circle cx="1209" cy="1875" r="3.4" fill="url(#gWs)"/>
<circle cx="1195.1" cy="1883.4" r="3.4" fill="url(#gB)"/>
<circle cx="1211.4" cy="1823.1" r="3.4" fill="url(#gO)"/>
<circle cx="1195.2" cy="1876.1" r="3.4" fill="url(#gWs)"/>
<circle cx="1198.1" cy="1883.6" r="3.4" fill="url(#gWs)"/>
<circle cx="1201.8" cy="1898.3" r="3.4" fill="url(#gO)"/>
<circle cx="1204.1" cy="1804.6" r="3.4" fill="url(#gB)"/>
<circle cx="1213.9" cy="1865.3" r="3.4" fill="url(#gWs)"/>
<circle cx="1198.2" cy="1861.4" r="3.4" fill="url(#gO)"/>
<circle cx="1208.9" cy="1826.2" r="3.4" fill="url(#gB)"/>
<circle cx="1205.2" cy="1788.9" r="3.4" fill="url(#gWs)"/>
<circle cx="1198.3" cy="1814.8" r="3.4" fill="url(#gWs)"/>
<circle cx="1205" cy="1781.6" r="3.4" fill="url(#gWs)"/>
<circle cx="1212.5" cy="1834.9" r="3.4" fill="url(#gWs)"/>
<circle cx="1214.7" cy="1866.3" r="3.4" fill="url(#gWs)"/>
<circle cx="1204.4" cy="1889.1" r="3.4" fill="url(#gWs)"/>
<circle cx="1195.1" cy="1822.6" r="3.4" fill="url(#gWs)"/>
<circle cx="1224.1" cy="1818.9" r="3.4" fill="url(#gWs)"/>
<circle cx="1217.5" cy="1839.5" r="3.4" fill="url(#gWs)"/>
<circle cx="1214.4" cy="1828.6" r="3.4" fill="url(#gWs)"/>
<circle cx="1195.7" cy="1885" r="3.4" fill="url(#gWs)"/>
<circle cx="1209.6" cy="1880.5" r="3.4" fill="url(#gO)"/>
<circle cx="1207.9" cy="1844.2" r="3.4" fill="url(#gB)"/>
<circle cx="1222.2" cy="1848.2" r="3.4" fill="url(#gB)"/>
<circle cx="1219.6" cy="1840.5" r="3.4" fill="url(#gWs)"/>
<circle cx="1215.2" cy="1798.6" r="3.4" fill="url(#gWs)"/>
<circle cx="1205.5" cy="1853.8" r="3.4" fill="url(#gB)"/>
<circle cx="1217.8" cy="1808.8" r="3.4" fill="url(#gWs)"/>
<circle cx="1197.8" cy="1879.2" r="3.4" fill="url(#gB)"/>
<circle cx="1210" cy="1867.2" r="3.4" fill="url(#gWs)"/>
<circle cx="1201" cy="1899.7" r="3.4" fill="url(#gB)"/>
<circle cx="1201.2" cy="1778.1" r="3.4" fill="url(#gWs)"/>
<circle cx="1201.9" cy="1849" r="3.4" fill="url(#gWs)"/>
<circle cx="1199.4" cy="1876.9" r="3.4" fill="url(#gB)"/>
<circle cx="1204.9" cy="1776.8" r="3.4" fill="url(#gB)"/>
<circle cx="1200.1" cy="1837.7" r="3.4" fill="url(#gB)"/>
<circle cx="1208.3" cy="1817.5" r="3.4" fill="url(#gWs)"/>
<circle cx="1200.2" cy="1791.1" r="3.4" fill="url(#gB)"/>
<circle cx="1199.5" cy="1787.7" r="3.4" fill="url(#gWs)"/>
<circle cx="1202.8" cy="1793.6" r="3.4" fill="url(#gB)"/>
<circle cx="1203.7" cy="1838.6" r="3.4" fill="url(#gWs)"/>
<circle cx="1214.2" cy="1857.7" r="3.4" fill="url(#gWs)"/>
<circle cx="1202" cy="1764.2" r="3.4" fill="url(#gWs)"/>
<circle cx="1210.8" cy="1831.2" r="3.4" fill="url(#gWs)"/>
<circle cx="1221" cy="1822.9" r="3.4" fill="url(#gB)"/>
<circle cx="1207" cy="1778.8" r="3.4" fill="url(#gWs)"/>
<circle cx="1196.5" cy="1796.3" r="3.4" fill="url(#gB)"/>
<circle cx="998.4" cy="1897.3" r="83" fill="none" stroke="#fff200" stroke-width="6" stroke-dasharray="16.6 16" stroke-dashoffset="0"/>
</g>
<g clip-path="url(#c_j3b)">
<circle cx="900.3" cy="2164.7" r="3.3" fill="url(#gB)"/>
<circle cx="808.8" cy="2162.3" r="3.3" fill="url(#gB)"/>
<circle cx="837.5" cy="2165.1" r="3.3" fill="url(#gWs)"/>
<circle cx="827.1" cy="2160.1" r="3.3" fill="url(#gWs)"/>
<circle cx="887.1" cy="2157.3" r="3.3" fill="url(#gWs)"/>
<circle cx="818.8" cy="2164.6" r="3.3" fill="url(#gB)"/>
<circle cx="869.1" cy="2163.7" r="3.3" fill="url(#gWs)"/>
<circle cx="896.3" cy="2164.7" r="3.3" fill="url(#gB)"/>
<circle cx="864.8" cy="2156.2" r="3.3" fill="url(#gB)"/>
<circle cx="828.3" cy="2169.9" r="3.3" fill="url(#gO)"/>
<circle cx="860.5" cy="2161.2" r="3.3" fill="url(#gB)"/>
<circle cx="846.9" cy="2167.9" r="3.3" fill="url(#gWs)"/>
<circle cx="889.2" cy="2159" r="3.3" fill="url(#gB)"/>
<circle cx="917.1" cy="2149.1" r="3.3" fill="url(#gWs)"/>
<circle cx="915.2" cy="2138.6" r="3.3" fill="url(#gWs)"/>
<circle cx="914.4" cy="2138.5" r="3.3" fill="url(#gWs)"/>
<circle cx="927.6" cy="2157.6" r="3.3" fill="url(#gO)"/>
<circle cx="904.8" cy="2147.5" r="3.3" fill="url(#gWs)"/>
<circle cx="933.3" cy="2157.8" r="3.3" fill="url(#gWs)"/>
<circle cx="939.7" cy="2145.9" r="3.3" fill="url(#gWs)"/>
<circle cx="960.9" cy="2145" r="3.3" fill="url(#gWs)"/>
<circle cx="955.4" cy="2153.1" r="3.3" fill="url(#gWs)"/>
<circle cx="929.8" cy="2138.9" r="3.3" fill="url(#gO)"/>
<circle cx="940.9" cy="2152.7" r="3.3" fill="url(#gWs)"/>
<circle cx="932.4" cy="2154.6" r="3.3" fill="url(#gWs)"/>
<circle cx="960.9" cy="2150.2" r="3.3" fill="url(#gWs)"/>
<circle cx="978.6" cy="2155.6" r="3.3" fill="url(#gWs)"/>
<circle cx="1038.7" cy="2158" r="3.3" fill="url(#gO)"/>
<circle cx="982" cy="2149.1" r="3.3" fill="url(#gO)"/>
<circle cx="1011" cy="2147.8" r="3.3" fill="url(#gO)"/>
<circle cx="1008.6" cy="2163.7" r="3.3" fill="url(#gWs)"/>
<circle cx="1023.5" cy="2150.9" r="3.3" fill="url(#gB)"/>
<circle cx="1018.5" cy="2156.4" r="3.3" fill="url(#gWs)"/>
<circle cx="1043.5" cy="2169" r="3.3" fill="url(#gO)"/>
<circle cx="975.1" cy="2149" r="3.3" fill="url(#gO)"/>
<circle cx="1025.8" cy="2154.2" r="3.3" fill="url(#gWs)"/>
<circle cx="1032.2" cy="2167.2" r="3.3" fill="url(#gB)"/>
<circle cx="997.6" cy="2151.9" r="3.3" fill="url(#gWs)"/>
<circle cx="1074.1" cy="2150.5" r="3.3" fill="url(#gB)"/>
<circle cx="1101.8" cy="2150" r="3.3" fill="url(#gWs)"/>
<circle cx="1095.1" cy="2156.4" r="3.3" fill="url(#gO)"/>
<circle cx="1067.3" cy="2162.8" r="3.3" fill="url(#gO)"/>
<circle cx="1071.6" cy="2147.7" r="3.3" fill="url(#gO)"/>
<circle cx="1059.1" cy="2146.1" r="3.3" fill="url(#gB)"/>
<circle cx="1078.6" cy="2150.1" r="3.3" fill="url(#gO)"/>
<circle cx="1078.2" cy="2149.8" r="3.3" fill="url(#gWs)"/>
<circle cx="1094.9" cy="2150.8" r="3.3" fill="url(#gB)"/>
<circle cx="1056.6" cy="2147.3" r="3.3" fill="url(#gO)"/>
<circle cx="1154.1" cy="2159.1" r="3.3" fill="url(#gWs)"/>
<circle cx="1171.4" cy="2148.8" r="3.3" fill="url(#gWs)"/>
<circle cx="1133.7" cy="2149.3" r="3.3" fill="url(#gWs)"/>
<circle cx="1142" cy="2155.4" r="3.3" fill="url(#gO)"/>
<circle cx="1124.2" cy="2151.2" r="3.3" fill="url(#gO)"/>
<circle cx="1104.2" cy="2155.3" r="3.3" fill="url(#gWs)"/>
<circle cx="1137.4" cy="2160.3" r="3.3" fill="url(#gWs)"/>
<circle cx="1115.3" cy="2152.2" r="3.3" fill="url(#gWs)"/>
<circle cx="1159.5" cy="2147" r="3.3" fill="url(#gO)"/>
<circle cx="1162.8" cy="2155.3" r="3.3" fill="url(#gO)"/>
<circle cx="1189.5" cy="2173.6" r="3.3" fill="url(#gO)"/>
<circle cx="1167.9" cy="2164.3" r="3.3" fill="url(#gO)"/>
<circle cx="1177.7" cy="2176.1" r="3.3" fill="url(#gB)"/>
<circle cx="1167.5" cy="2175.1" r="3.3" fill="url(#gO)"/>
<circle cx="1180" cy="2177.3" r="3.3" fill="url(#gWs)"/>
<circle cx="1168.8" cy="2156.9" r="3.3" fill="url(#gO)"/>
<circle cx="1184.2" cy="2180.7" r="3.3" fill="url(#gO)"/>
<circle cx="1188.8" cy="2194.5" r="3.3" fill="url(#gB)"/>
<circle cx="1215.4" cy="2222" r="3.3" fill="url(#gO)"/>
<circle cx="1220.5" cy="2215" r="3.3" fill="url(#gWs)"/>
<circle cx="1202.1" cy="2203.9" r="3.3" fill="url(#gB)"/>
<circle cx="1233" cy="2216.5" r="3.3" fill="url(#gWs)"/>
<circle cx="1214.8" cy="2218.1" r="3.3" fill="url(#gWs)"/>
<circle cx="1231" cy="2214.9" r="3.3" fill="url(#gWs)"/>
<circle cx="1207.9" cy="2186.4" r="3.3" fill="url(#gO)"/>
<circle cx="1234" cy="2229.9" r="3.3" fill="url(#gB)"/>
<circle cx="1239.4" cy="2236.8" r="3.3" fill="url(#gWs)"/>
<circle cx="1243.9" cy="2241" r="3.3" fill="url(#gWs)"/>
<circle cx="1229.6" cy="2222.8" r="3.3" fill="url(#gWs)"/>
<circle cx="1215.3" cy="2283.5" r="3.3" fill="url(#gO)"/>
<circle cx="1226.6" cy="2298.2" r="3.3" fill="url(#gWs)"/>
<circle cx="1240.6" cy="2253.6" r="3.3" fill="url(#gO)"/>
<circle cx="1240.2" cy="2269.8" r="3.3" fill="url(#gWs)"/>
<circle cx="1235.8" cy="2258.1" r="3.3" fill="url(#gB)"/>
<circle cx="1231.3" cy="2280" r="3.3" fill="url(#gWs)"/>
<circle cx="1211.9" cy="2292.1" r="3.3" fill="url(#gB)"/>
<circle cx="1221.4" cy="2256" r="3.3" fill="url(#gO)"/>
<circle cx="1222.6" cy="2280.6" r="3.3" fill="url(#gO)"/>
<circle cx="1216.9" cy="2325.1" r="3.3" fill="url(#gB)"/>
<circle cx="1209.6" cy="2316.6" r="3.3" fill="url(#gWs)"/>
<circle cx="1224.8" cy="2320" r="3.3" fill="url(#gB)"/>
<circle cx="1199.9" cy="2324.2" r="3.3" fill="url(#gWs)"/>
<circle cx="1223.2" cy="2312.6" r="3.3" fill="url(#gWs)"/>
<circle cx="1213.9" cy="2304.3" r="3.3" fill="url(#gWs)"/>
<circle cx="1198.9" cy="2348.3" r="3.3" fill="url(#gWs)"/>
<circle cx="1206.7" cy="2358.2" r="3.3" fill="url(#gWs)"/>
<circle cx="1218.3" cy="2339.1" r="3.3" fill="url(#gWs)"/>
<circle cx="1206.8" cy="2345.3" r="3.3" fill="url(#gWs)"/>
<circle cx="1216" cy="2338.4" r="3.3" fill="url(#gWs)"/>
<circle cx="1203.5" cy="2357.5" r="3.3" fill="url(#gO)"/>
<circle cx="1175.1" cy="2398" r="3.3" fill="url(#gB)"/>
<circle cx="1194" cy="2373.9" r="3.3" fill="url(#gO)"/>
<circle cx="1169.8" cy="2397.7" r="3.3" fill="url(#gB)"/>
<circle cx="1183.8" cy="2396.2" r="3.3" fill="url(#gWs)"/>
<circle cx="1186.8" cy="2411.8" r="3.3" fill="url(#gWs)"/>
<circle cx="1171.6" cy="2399.3" r="3.3" fill="url(#gB)"/>
<circle cx="1198.8" cy="2370.2" r="3.3" fill="url(#gWs)"/>
<circle cx="1182.8" cy="2394.2" r="3.3" fill="url(#gO)"/>
<circle cx="1148.6" cy="2431.3" r="3.3" fill="url(#gWs)"/>
<circle cx="1166.7" cy="2434.9" r="3.3" fill="url(#gB)"/>
<circle cx="1184.1" cy="2417.7" r="3.3" fill="url(#gWs)"/>
<circle cx="1153.6" cy="2439.7" r="3.3" fill="url(#gO)"/>
<circle cx="1175.4" cy="2419.1" r="3.3" fill="url(#gWs)"/>
<circle cx="1163.7" cy="2412.1" r="3.3" fill="url(#gB)"/>
<circle cx="1155.4" cy="2430.3" r="3.3" fill="url(#gWs)"/>
<circle cx="1118.3" cy="2450.9" r="3.3" fill="url(#gWs)"/>
<circle cx="1134" cy="2439.2" r="3.3" fill="url(#gO)"/>
<circle cx="1143.7" cy="2440.1" r="3.3" fill="url(#gWs)"/>
<circle cx="1111.6" cy="2447.8" r="3.3" fill="url(#gWs)"/>
<circle cx="1109.3" cy="2462.5" r="3.3" fill="url(#gWs)"/>
<circle cx="1132.8" cy="2439.6" r="3.3" fill="url(#gWs)"/>
<circle cx="1143.2" cy="2448.7" r="3.3" fill="url(#gO)"/>
<circle cx="1106.5" cy="2455.9" r="3.3" fill="url(#gO)"/>
<circle cx="1123.2" cy="2438.1" r="3.3" fill="url(#gO)"/>
<circle cx="1135.8" cy="2450.6" r="3.3" fill="url(#gWs)"/>
<circle cx="984.8" cy="2456.3" r="3.3" fill="url(#gO)"/>
<circle cx="1072.8" cy="2464.7" r="3.3" fill="url(#gO)"/>
<circle cx="1076.7" cy="2447.4" r="3.3" fill="url(#gB)"/>
<circle cx="1085.6" cy="2449.6" r="3.3" fill="url(#gWs)"/>
<circle cx="990.4" cy="2468.7" r="3.3" fill="url(#gWs)"/>
<circle cx="1000.8" cy="2459.8" r="3.3" fill="url(#gO)"/>
<circle cx="1059" cy="2469.2" r="3.3" fill="url(#gWs)"/>
<circle cx="1087.4" cy="2458.2" r="3.3" fill="url(#gWs)"/>
<circle cx="978.2" cy="2471.9" r="3.3" fill="url(#gWs)"/>
<circle cx="1034.2" cy="2450.7" r="3.3" fill="url(#gB)"/>
<circle cx="1012.6" cy="2469.3" r="3.3" fill="url(#gO)"/>
<circle cx="982.9" cy="2461.5" r="3.3" fill="url(#gWs)"/>
<circle cx="1043.3" cy="2461" r="3.3" fill="url(#gWs)"/>
<circle cx="1041.2" cy="2456.5" r="3.3" fill="url(#gWs)"/>
<circle cx="1039.9" cy="2460.1" r="3.3" fill="url(#gO)"/>
<circle cx="1060.9" cy="2448.1" r="3.3" fill="url(#gO)"/>
<circle cx="1056.5" cy="2467.3" r="3.3" fill="url(#gB)"/>
<circle cx="1053.5" cy="2446.5" r="3.3" fill="url(#gO)"/>
<circle cx="1083.5" cy="2446.6" r="3.3" fill="url(#gWs)"/>
<circle cx="903.4" cy="2447.4" r="3.3" fill="url(#gB)"/>
<circle cx="959.9" cy="2459.2" r="3.3" fill="url(#gO)"/>
<circle cx="950.5" cy="2465.4" r="3.3" fill="url(#gWs)"/>
<circle cx="936.6" cy="2447.3" r="3.3" fill="url(#gWs)"/>
<circle cx="948.7" cy="2463.7" r="3.3" fill="url(#gWs)"/>
<circle cx="946.7" cy="2451.4" r="3.3" fill="url(#gWs)"/>
<circle cx="875.9" cy="2463.2" r="3.3" fill="url(#gWs)"/>
<circle cx="919.8" cy="2456.1" r="3.3" fill="url(#gWs)"/>
<circle cx="919.4" cy="2457.3" r="3.3" fill="url(#gWs)"/>
<circle cx="904.4" cy="2456.5" r="3.3" fill="url(#gWs)"/>
<circle cx="927.9" cy="2451.1" r="3.3" fill="url(#gB)"/>
<circle cx="888.2" cy="2458.7" r="3.3" fill="url(#gWs)"/>
<circle cx="914.1" cy="2463.8" r="3.3" fill="url(#gO)"/>
<circle cx="898.9" cy="2452.7" r="3.3" fill="url(#gWs)"/>
<circle cx="924.8" cy="2458.8" r="3.3" fill="url(#gWs)"/>
<circle cx="859.4" cy="2450.4" r="3.3" fill="url(#gWs)"/>
<circle cx="863.8" cy="2430.8" r="3.3" fill="url(#gWs)"/>
<circle cx="846.7" cy="2437.2" r="3.3" fill="url(#gO)"/>
<circle cx="835.2" cy="2436.9" r="3.3" fill="url(#gWs)"/>
<circle cx="841" cy="2437.9" r="3.3" fill="url(#gWs)"/>
<circle cx="842.1" cy="2433.6" r="3.3" fill="url(#gO)"/>
<circle cx="880.6" cy="2446.8" r="3.3" fill="url(#gWs)"/>
<circle cx="864.8" cy="2436.2" r="3.3" fill="url(#gO)"/>
<circle cx="862.1" cy="2454.3" r="3.3" fill="url(#gB)"/>
<circle cx="823.7" cy="2393.7" r="3.3" fill="url(#gWs)"/>
<circle cx="833.6" cy="2413.5" r="3.3" fill="url(#gWs)"/>
<circle cx="820.6" cy="2398.7" r="3.3" fill="url(#gWs)"/>
<circle cx="827.7" cy="2409.8" r="3.3" fill="url(#gO)"/>
<circle cx="833.8" cy="2410" r="3.3" fill="url(#gWs)"/>
<circle cx="832.2" cy="2418.3" r="3.3" fill="url(#gWs)"/>
<circle cx="816.7" cy="2359.9" r="3.3" fill="url(#gO)"/>
<circle cx="812.3" cy="2385.8" r="3.3" fill="url(#gWs)"/>
<circle cx="810.3" cy="2366.1" r="3.3" fill="url(#gWs)"/>
<circle cx="794.7" cy="2363.6" r="3.3" fill="url(#gO)"/>
<circle cx="807.3" cy="2366.2" r="3.3" fill="url(#gWs)"/>
<circle cx="798.5" cy="2377.5" r="3.3" fill="url(#gB)"/>
<circle cx="808.7" cy="2384.3" r="3.3" fill="url(#gO)"/>
<circle cx="806.6" cy="2397.9" r="3.3" fill="url(#gO)"/>
<circle cx="793.9" cy="2310.9" r="3.3" fill="url(#gB)"/>
<circle cx="781.2" cy="2308.4" r="3.3" fill="url(#gO)"/>
<circle cx="805.6" cy="2340.2" r="3.3" fill="url(#gO)"/>
<circle cx="805.4" cy="2329.4" r="3.3" fill="url(#gO)"/>
<circle cx="789.9" cy="2338.5" r="3.3" fill="url(#gB)"/>
<circle cx="800.7" cy="2336.6" r="3.3" fill="url(#gWs)"/>
<circle cx="790.5" cy="2307.9" r="3.3" fill="url(#gWs)"/>
<circle cx="800.1" cy="2322.9" r="3.3" fill="url(#gWs)"/>
<circle cx="790.9" cy="2285" r="3.3" fill="url(#gWs)"/>
<circle cx="788.4" cy="2299.6" r="3.3" fill="url(#gO)"/>
<circle cx="780.5" cy="2286.5" r="3.3" fill="url(#gWs)"/>
<circle cx="778.7" cy="2277" r="3.3" fill="url(#gWs)"/>
<circle cx="788" cy="2290.2" r="3.3" fill="url(#gWs)"/>
<circle cx="778.3" cy="2285.4" r="3.3" fill="url(#gWs)"/>
<circle cx="772.8" cy="2269.5" r="3.3" fill="url(#gB)"/>
<circle cx="774.9" cy="2282" r="3.3" fill="url(#gO)"/>
<circle cx="781.2" cy="2223.4" r="3.3" fill="url(#gO)"/>
<circle cx="782.9" cy="2231.2" r="3.3" fill="url(#gO)"/>
<circle cx="796.8" cy="2240.9" r="3.3" fill="url(#gO)"/>
<circle cx="791.9" cy="2222.7" r="3.3" fill="url(#gO)"/>
<circle cx="784.8" cy="2248.6" r="3.3" fill="url(#gO)"/>
<circle cx="781.1" cy="2255.8" r="3.3" fill="url(#gO)"/>
<circle cx="780.3" cy="2246.6" r="3.3" fill="url(#gO)"/>
<circle cx="785.2" cy="2236.6" r="3.3" fill="url(#gO)"/>
<circle cx="809.4" cy="2197.9" r="3.3" fill="url(#gO)"/>
<circle cx="790.6" cy="2206.5" r="3.3" fill="url(#gB)"/>
<circle cx="805.5" cy="2198.2" r="3.3" fill="url(#gWs)"/>
<circle cx="805.3" cy="2215.1" r="3.3" fill="url(#gWs)"/>
<circle cx="804.1" cy="2207.2" r="3.3" fill="url(#gWs)"/>
<circle cx="803.3" cy="2166.4" r="3.3" fill="url(#gO)"/>
<circle cx="801.7" cy="2179.8" r="3.3" fill="url(#gWs)"/>
<circle cx="820.5" cy="2171.4" r="3.3" fill="url(#gWs)"/>
<circle cx="812.2" cy="2186.3" r="3.3" fill="url(#gO)"/>
<circle cx="1029.6" cy="2152.2" r="3.4" fill="url(#gB)"/>
<circle cx="927.1" cy="2153" r="3.4" fill="url(#gB)"/>
<circle cx="1058.1" cy="2151.5" r="3.4" fill="url(#gO)"/>
<circle cx="1168.2" cy="2147.7" r="3.4" fill="url(#gWs)"/>
<circle cx="1160.2" cy="2152.3" r="3.4" fill="url(#gWs)"/>
<circle cx="938.2" cy="2146.3" r="3.4" fill="url(#gWs)"/>
<circle cx="1042.7" cy="2156.6" r="3.4" fill="url(#gWs)"/>
<circle cx="1126.3" cy="2164.9" r="3.4" fill="url(#gO)"/>
<circle cx="849.6" cy="2167.1" r="3.4" fill="url(#gWs)"/>
<circle cx="904.7" cy="2163.6" r="3.4" fill="url(#gO)"/>
<circle cx="914.9" cy="2136.7" r="3.4" fill="url(#gWs)"/>
<circle cx="1013.6" cy="2138.1" r="3.4" fill="url(#gWs)"/>
<circle cx="841.5" cy="2162.5" r="3.4" fill="url(#gO)"/>
<circle cx="1025.9" cy="2130.3" r="3.4" fill="url(#gWs)"/>
<circle cx="1058.8" cy="2144.7" r="3.4" fill="url(#gO)"/>
<circle cx="955.3" cy="2148.2" r="3.4" fill="url(#gO)"/>
<circle cx="998.4" cy="2141.3" r="3.4" fill="url(#gO)"/>
<circle cx="868.8" cy="2162.5" r="3.4" fill="url(#gWs)"/>
<circle cx="1019.8" cy="2144.1" r="3.4" fill="url(#gWs)"/>
<circle cx="1141.1" cy="2155.2" r="3.4" fill="url(#gWs)"/>
<circle cx="1003.2" cy="2151.3" r="3.4" fill="url(#gWs)"/>
<circle cx="860.6" cy="2150.9" r="3.4" fill="url(#gO)"/>
<circle cx="991.9" cy="2143.1" r="3.4" fill="url(#gO)"/>
<circle cx="921.2" cy="2162.7" r="3.4" fill="url(#gB)"/>
<circle cx="998.7" cy="2125.9" r="3.4" fill="url(#gWs)"/>
<circle cx="1111.1" cy="2139" r="3.4" fill="url(#gWs)"/>
<circle cx="894.8" cy="2155.6" r="3.4" fill="url(#gO)"/>
<circle cx="930.2" cy="2151.8" r="3.4" fill="url(#gO)"/>
<circle cx="1168.1" cy="2160.7" r="3.4" fill="url(#gWs)"/>
<circle cx="1113.3" cy="2164.8" r="3.4" fill="url(#gB)"/>
<circle cx="1092.7" cy="2150.2" r="3.4" fill="url(#gO)"/>
<circle cx="1127.6" cy="2151.9" r="3.4" fill="url(#gO)"/>
<circle cx="924.6" cy="2150.1" r="3.4" fill="url(#gO)"/>
<circle cx="1154.2" cy="2158.2" r="3.4" fill="url(#gO)"/>
<circle cx="1178.5" cy="2154.2" r="3.4" fill="url(#gWs)"/>
<circle cx="1150.8" cy="2160" r="3.4" fill="url(#gWs)"/>
<circle cx="1103.2" cy="2159" r="3.4" fill="url(#gWs)"/>
<circle cx="869.5" cy="2140.8" r="3.4" fill="url(#gO)"/>
<circle cx="1089.3" cy="2162.3" r="3.4" fill="url(#gB)"/>
<circle cx="1094.1" cy="2160.9" r="3.4" fill="url(#gWs)"/>
<circle cx="832.3" cy="2162.1" r="3.4" fill="url(#gO)"/>
<circle cx="946.4" cy="2139.6" r="3.4" fill="url(#gO)"/>
<circle cx="987.4" cy="2133.7" r="3.4" fill="url(#gWs)"/>
<circle cx="865.1" cy="2142.8" r="3.4" fill="url(#gWs)"/>
<circle cx="1110" cy="2148.4" r="3.4" fill="url(#gO)"/>
<circle cx="1053.7" cy="2135.1" r="3.4" fill="url(#gWs)"/>
<circle cx="956.4" cy="2135.9" r="3.4" fill="url(#gWs)"/>
<circle cx="987.2" cy="2141.5" r="3.4" fill="url(#gWs)"/>
<circle cx="871" cy="2166.7" r="3.4" fill="url(#gO)"/>
<circle cx="913.1" cy="2159.2" r="3.4" fill="url(#gO)"/>
<circle cx="1106.3" cy="2141.6" r="3.4" fill="url(#gB)"/>
<circle cx="857.2" cy="2151.8" r="3.4" fill="url(#gWs)"/>
<circle cx="899.8" cy="2163" r="3.4" fill="url(#gWs)"/>
<circle cx="1085.6" cy="2164" r="3.4" fill="url(#gO)"/>
<circle cx="912.1" cy="2153.7" r="3.4" fill="url(#gB)"/>
<circle cx="1110.4" cy="2144.1" r="3.4" fill="url(#gWs)"/>
<circle cx="864.5" cy="2158" r="3.4" fill="url(#gWs)"/>
<circle cx="887.4" cy="2141.5" r="3.4" fill="url(#gO)"/>
<circle cx="891.3" cy="2143.3" r="3.4" fill="url(#gO)"/>
<circle cx="1012.8" cy="2163.9" r="3.4" fill="url(#gB)"/>
<circle cx="1029.2" cy="2128.9" r="3.4" fill="url(#gB)"/>
<circle cx="1177.4" cy="2163.7" r="3.4" fill="url(#gO)"/>
<circle cx="963.9" cy="2150.2" r="3.4" fill="url(#gO)"/>
<circle cx="1007.3" cy="2138.4" r="3.4" fill="url(#gO)"/>
<circle cx="1020.3" cy="2137.2" r="3.4" fill="url(#gO)"/>
<circle cx="918.8" cy="2138.1" r="3.4" fill="url(#gB)"/>
<circle cx="936.1" cy="2160.6" r="3.4" fill="url(#gB)"/>
<circle cx="1136.5" cy="2159.6" r="3.4" fill="url(#gWs)"/>
<circle cx="987.6" cy="2160.4" r="3.4" fill="url(#gWs)"/>
<circle cx="1040.6" cy="2162.5" r="3.4" fill="url(#gB)"/>
<circle cx="1021.5" cy="2137.1" r="3.4" fill="url(#gB)"/>
<circle cx="1057.5" cy="2151.7" r="3.4" fill="url(#gB)"/>
<circle cx="944.9" cy="2152.9" r="3.4" fill="url(#gWs)"/>
<circle cx="1106" cy="2163.7" r="3.4" fill="url(#gWs)"/>
<circle cx="976.2" cy="2138.6" r="3.4" fill="url(#gB)"/>
<circle cx="981.5" cy="2147" r="3.4" fill="url(#gWs)"/>
<circle cx="919.1" cy="2135.5" r="3.4" fill="url(#gWs)"/>
<circle cx="835" cy="2148.7" r="3.4" fill="url(#gO)"/>
<circle cx="1064.7" cy="2136.1" r="3.4" fill="url(#gB)"/>
<circle cx="857.6" cy="2143.6" r="3.4" fill="url(#gWs)"/>
<circle cx="892.8" cy="2166.3" r="3.4" fill="url(#gO)"/>
<circle cx="1113.5" cy="2141" r="3.4" fill="url(#gWs)"/>
<circle cx="933.8" cy="2139" r="3.4" fill="url(#gO)"/>
<circle cx="939.1" cy="2150.5" r="3.4" fill="url(#gWs)"/>
<circle cx="1017.3" cy="2150.1" r="3.4" fill="url(#gWs)"/>
<circle cx="1133.6" cy="2164.9" r="3.4" fill="url(#gO)"/>
<circle cx="974.1" cy="2132.1" r="3.4" fill="url(#gO)"/>
<circle cx="1016.3" cy="2133.6" r="3.4" fill="url(#gO)"/>
<circle cx="1051.4" cy="2133.2" r="3.4" fill="url(#gWs)"/>
<circle cx="1083.1" cy="2166.5" r="3.4" fill="url(#gWs)"/>
<circle cx="1094.1" cy="2139.9" r="3.4" fill="url(#gB)"/>
<circle cx="890.8" cy="2153.6" r="3.4" fill="url(#gWs)"/>
<circle cx="1026" cy="2157" r="3.4" fill="url(#gB)"/>
<circle cx="1097.9" cy="2148.6" r="3.4" fill="url(#gWs)"/>
<circle cx="1050.5" cy="2152.9" r="3.4" fill="url(#gO)"/>
<circle cx="1079.9" cy="2157" r="3.4" fill="url(#gB)"/>
<circle cx="1047.2" cy="2162.7" r="3.4" fill="url(#gO)"/>
<circle cx="963" cy="2159.5" r="3.4" fill="url(#gWs)"/>
<circle cx="1120" cy="2162.8" r="3.4" fill="url(#gB)"/>
<circle cx="1148.6" cy="2154.8" r="3.4" fill="url(#gO)"/>
<circle cx="931" cy="2152.5" r="3.4" fill="url(#gB)"/>
<circle cx="955.5" cy="2134" r="3.4" fill="url(#gO)"/>
<circle cx="1023.2" cy="2160.8" r="3.4" fill="url(#gWs)"/>
<circle cx="903.2" cy="2148.5" r="3.4" fill="url(#gO)"/>
<circle cx="1002.8" cy="2154.6" r="3.4" fill="url(#gWs)"/>
<circle cx="962.1" cy="2147.4" r="3.4" fill="url(#gWs)"/>
<circle cx="900.2" cy="2140.1" r="3.4" fill="url(#gO)"/>
<circle cx="1176.7" cy="2153" r="3.4" fill="url(#gWs)"/>
<circle cx="1104.1" cy="2155.7" r="3.4" fill="url(#gB)"/>
<circle cx="1025.6" cy="2151.4" r="3.4" fill="url(#gWs)"/>
<circle cx="980" cy="2141.9" r="3.4" fill="url(#gWs)"/>
<circle cx="957.7" cy="2163.1" r="3.4" fill="url(#gWs)"/>
<circle cx="1149.5" cy="2148.6" r="3.4" fill="url(#gWs)"/>
<circle cx="1015.9" cy="2132.5" r="3.4" fill="url(#gO)"/>
<circle cx="1160.7" cy="2167.1" r="3.4" fill="url(#gWs)"/>
<circle cx="1103.9" cy="2146.2" r="3.4" fill="url(#gWs)"/>
<circle cx="970.2" cy="2159.8" r="3.4" fill="url(#gO)"/>
<circle cx="1083.1" cy="2167.5" r="3.4" fill="url(#gWs)"/>
<circle cx="1075.9" cy="2160.2" r="3.4" fill="url(#gB)"/>
<circle cx="1134.7" cy="2162.5" r="3.4" fill="url(#gWs)"/>
<circle cx="962.3" cy="2151.6" r="3.4" fill="url(#gWs)"/>
<circle cx="937.8" cy="2140.9" r="3.4" fill="url(#gWs)"/>
<circle cx="894.8" cy="2153.1" r="3.4" fill="url(#gWs)"/>
<circle cx="850" cy="2159.3" r="3.4" fill="url(#gB)"/>
<circle cx="908.3" cy="2154.5" r="3.4" fill="url(#gWs)"/>
<circle cx="1054.6" cy="2149" r="3.4" fill="url(#gB)"/>
<circle cx="1060.9" cy="2157.5" r="3.4" fill="url(#gB)"/>
<circle cx="1034.2" cy="2134.7" r="3.4" fill="url(#gWs)"/>
<circle cx="1129.8" cy="2160.3" r="3.4" fill="url(#gO)"/>
<circle cx="1163.2" cy="2159.8" r="3.4" fill="url(#gWs)"/>
<circle cx="895.1" cy="2143.3" r="3.4" fill="url(#gB)"/>
<circle cx="1148.5" cy="2162.8" r="3.4" fill="url(#gB)"/>
<circle cx="1100.9" cy="2143.9" r="3.4" fill="url(#gWs)"/>
<circle cx="1000.3" cy="2162.9" r="3.4" fill="url(#gO)"/>
<circle cx="1026.2" cy="2167.1" r="3.4" fill="url(#gWs)"/>
<circle cx="980.5" cy="2167.6" r="3.4" fill="url(#gWs)"/>
<circle cx="1100.8" cy="2157.2" r="3.4" fill="url(#gWs)"/>
<circle cx="1176.4" cy="2158.6" r="3.4" fill="url(#gWs)"/>
<circle cx="1176.5" cy="2163" r="3.4" fill="url(#gO)"/>
<circle cx="840.2" cy="2158.7" r="3.4" fill="url(#gO)"/>
<circle cx="997.9" cy="2159.7" r="3.4" fill="url(#gO)"/>
<circle cx="890.6" cy="2139.2" r="3.4" fill="url(#gO)"/>
<circle cx="990.7" cy="2167.5" r="3.4" fill="url(#gB)"/>
<circle cx="830.5" cy="2151.6" r="3.4" fill="url(#gWs)"/>
<circle cx="1132.6" cy="2147.7" r="3.4" fill="url(#gB)"/>
<circle cx="1148.2" cy="2165.2" r="3.4" fill="url(#gWs)"/>
<circle cx="852.5" cy="2158.2" r="3.4" fill="url(#gO)"/>
<circle cx="1102.1" cy="2144" r="3.4" fill="url(#gWs)"/>
<circle cx="1086.9" cy="2140.8" r="3.4" fill="url(#gO)"/>
<circle cx="969.2" cy="2154" r="3.4" fill="url(#gWs)"/>
<circle cx="991.8" cy="2150" r="3.4" fill="url(#gO)"/>
<circle cx="1166.5" cy="2155.2" r="3.4" fill="url(#gWs)"/>
<circle cx="1026.6" cy="2140.6" r="3.4" fill="url(#gO)"/>
<circle cx="838.7" cy="2163.6" r="3.4" fill="url(#gWs)"/>
<circle cx="948.7" cy="2136.3" r="3.4" fill="url(#gB)"/>
<circle cx="961.7" cy="2164.4" r="3.4" fill="url(#gWs)"/>
<circle cx="950.7" cy="2165.9" r="3.4" fill="url(#gB)"/>
<circle cx="854.1" cy="2154.9" r="3.4" fill="url(#gWs)"/>
<circle cx="943" cy="2138.3" r="3.4" fill="url(#gO)"/>
<circle cx="1107.8" cy="2150.6" r="3.4" fill="url(#gB)"/>
<circle cx="1177.2" cy="2164.4" r="3.4" fill="url(#gWs)"/>
<circle cx="1088.5" cy="2158.3" r="3.4" fill="url(#gWs)"/>
<circle cx="841.1" cy="2157.7" r="3.4" fill="url(#gO)"/>
<circle cx="1096" cy="2157.5" r="3.4" fill="url(#gO)"/>
<circle cx="845.2" cy="2165.5" r="3.4" fill="url(#gB)"/>
<circle cx="953.4" cy="2158.8" r="3.4" fill="url(#gB)"/>
<circle cx="981.1" cy="2139.4" r="3.4" fill="url(#gO)"/>
<circle cx="1103.1" cy="2142.7" r="3.4" fill="url(#gO)"/>
<circle cx="1037.7" cy="2160.8" r="3.4" fill="url(#gWs)"/>
<circle cx="929.2" cy="2136.9" r="3.4" fill="url(#gWs)"/>
<circle cx="966.6" cy="2142.8" r="3.4" fill="url(#gWs)"/>
<circle cx="1038.3" cy="2134.6" r="3.4" fill="url(#gWs)"/>
<circle cx="992.9" cy="2164.1" r="3.4" fill="url(#gWs)"/>
<circle cx="893.6" cy="2158.3" r="3.4" fill="url(#gO)"/>
<circle cx="872.2" cy="2166.8" r="3.4" fill="url(#gWs)"/>
<circle cx="1051.5" cy="2135.3" r="3.4" fill="url(#gB)"/>
<circle cx="959.5" cy="2152" r="3.4" fill="url(#gO)"/>
<circle cx="1076.3" cy="2138.4" r="3.4" fill="url(#gWs)"/>
<circle cx="1034" cy="2147.6" r="3.4" fill="url(#gO)"/>
<circle cx="831" cy="2159.6" r="3.4" fill="url(#gWs)"/>
<circle cx="1093.3" cy="2144.6" r="3.4" fill="url(#gB)"/>
<circle cx="1053" cy="2161.4" r="3.4" fill="url(#gWs)"/>
<circle cx="844.8" cy="2161.9" r="3.4" fill="url(#gWs)"/>
<circle cx="983.8" cy="2145" r="3.4" fill="url(#gWs)"/>
<circle cx="1067.4" cy="2165" r="3.4" fill="url(#gO)"/>
<circle cx="1066.6" cy="2160.4" r="3.4" fill="url(#gO)"/>
<circle cx="1084.6" cy="2151.1" r="3.4" fill="url(#gB)"/>
<circle cx="908.5" cy="2164.1" r="3.4" fill="url(#gB)"/>
<circle cx="897.1" cy="2144.9" r="3.4" fill="url(#gWs)"/>
<circle cx="882.2" cy="2161.7" r="3.4" fill="url(#gB)"/>
<circle cx="1085.5" cy="2164.9" r="3.4" fill="url(#gO)"/>
<circle cx="1156.1" cy="2166.3" r="3.4" fill="url(#gO)"/>
<circle cx="1089.8" cy="2138" r="3.4" fill="url(#gO)"/>
<circle cx="939.6" cy="2136.4" r="3.4" fill="url(#gWs)"/>
<circle cx="1087.5" cy="2160.5" r="3.4" fill="url(#gWs)"/>
<circle cx="1079.6" cy="2162.4" r="3.4" fill="url(#gWs)"/>
<circle cx="1030.6" cy="2150.4" r="3.4" fill="url(#gWs)"/>
<circle cx="1145.4" cy="2159.6" r="3.4" fill="url(#gO)"/>
<circle cx="1017.7" cy="2160.8" r="3.4" fill="url(#gWs)"/>
<circle cx="1136.7" cy="2147.5" r="3.4" fill="url(#gWs)"/>
<circle cx="921" cy="2148.3" r="3.4" fill="url(#gWs)"/>
<circle cx="1119.3" cy="2142.6" r="3.4" fill="url(#gB)"/>
<circle cx="1163.5" cy="2159.1" r="3.4" fill="url(#gWs)"/>
<circle cx="915.6" cy="2152.1" r="3.4" fill="url(#gB)"/>
<circle cx="1048.9" cy="2140.5" r="3.4" fill="url(#gB)"/>
<circle cx="992.3" cy="2150.4" r="3.4" fill="url(#gO)"/>
<circle cx="1162.9" cy="2151.4" r="3.4" fill="url(#gWs)"/>
<circle cx="1055.1" cy="2142.3" r="3.4" fill="url(#gWs)"/>
<circle cx="1003.6" cy="2136.4" r="3.4" fill="url(#gB)"/>
<circle cx="906.8" cy="2148.4" r="3.4" fill="url(#gWs)"/>
<circle cx="936.3" cy="2153" r="3.4" fill="url(#gO)"/>
<circle cx="1061.9" cy="2149.7" r="3.4" fill="url(#gO)"/>
<circle cx="919.8" cy="2164.7" r="3.4" fill="url(#gO)"/>
<circle cx="839.8" cy="2160.9" r="3.4" fill="url(#gWs)"/>
<circle cx="975.6" cy="2152.9" r="3.4" fill="url(#gB)"/>
<circle cx="1010.4" cy="2154.3" r="3.4" fill="url(#gO)"/>
<circle cx="1077.4" cy="2167.6" r="3.4" fill="url(#gWs)"/>
<circle cx="971.3" cy="2159.1" r="3.4" fill="url(#gB)"/>
<circle cx="917.1" cy="2153.7" r="3.4" fill="url(#gB)"/>
<circle cx="1109.4" cy="2148" r="3.4" fill="url(#gWs)"/>
<circle cx="1074.9" cy="2136" r="3.4" fill="url(#gWs)"/>
<circle cx="960.8" cy="2148.4" r="3.4" fill="url(#gWs)"/>
<circle cx="1009.2" cy="2152.2" r="3.4" fill="url(#gWs)"/>
<circle cx="1110" cy="2153.8" r="3.4" fill="url(#gB)"/>
<circle cx="1027.4" cy="2148.2" r="3.4" fill="url(#gB)"/>
<circle cx="1060.8" cy="2136.4" r="3.4" fill="url(#gB)"/>
<circle cx="1119.2" cy="2144.5" r="3.4" fill="url(#gWs)"/>
<circle cx="1144.5" cy="2150.6" r="3.4" fill="url(#gWs)"/>
<circle cx="950.8" cy="2139.8" r="3.4" fill="url(#gWs)"/>
<circle cx="859.2" cy="2161.9" r="3.4" fill="url(#gO)"/>
<circle cx="996.8" cy="2163.1" r="3.4" fill="url(#gO)"/>
<circle cx="936.4" cy="2139.3" r="3.4" fill="url(#gO)"/>
<circle cx="1032" cy="2133.5" r="3.4" fill="url(#gO)"/>
<circle cx="1158.6" cy="2157.2" r="3.4" fill="url(#gWs)"/>
<circle cx="996.6" cy="2152.1" r="3.4" fill="url(#gWs)"/>
<circle cx="1177" cy="2158.8" r="3.4" fill="url(#gO)"/>
<circle cx="1011" cy="2152.4" r="3.4" fill="url(#gWs)"/>
<circle cx="1031.8" cy="2146.8" r="3.4" fill="url(#gWs)"/>
<circle cx="994.6" cy="2127.5" r="3.4" fill="url(#gO)"/>
<circle cx="912.9" cy="2136.4" r="3.4" fill="url(#gWs)"/>
<circle cx="1092.5" cy="2144.5" r="3.4" fill="url(#gO)"/>
<circle cx="1008.9" cy="2150.3" r="3.4" fill="url(#gWs)"/>
<circle cx="920.8" cy="2158" r="3.4" fill="url(#gO)"/>
<circle cx="953.2" cy="2159.2" r="3.4" fill="url(#gWs)"/>
<circle cx="909" cy="2143.5" r="3.4" fill="url(#gO)"/>
<circle cx="1049.8" cy="2138.7" r="3.4" fill="url(#gWs)"/>
<circle cx="1174.4" cy="2157.6" r="3.4" fill="url(#gWs)"/>
<circle cx="1007.8" cy="2131.5" r="3.4" fill="url(#gB)"/>
<circle cx="921.1" cy="2164.8" r="3.4" fill="url(#gWs)"/>
<circle cx="908.7" cy="2139.7" r="3.4" fill="url(#gWs)"/>
<circle cx="950.4" cy="2141.9" r="3.4" fill="url(#gWs)"/>
<circle cx="869.2" cy="2152" r="3.4" fill="url(#gO)"/>
<circle cx="1011" cy="2151.8" r="3.4" fill="url(#gB)"/>
<circle cx="1019.6" cy="2166.1" r="3.4" fill="url(#gB)"/>
<circle cx="953.1" cy="2161.9" r="3.4" fill="url(#gWs)"/>
<circle cx="984.1" cy="2162.6" r="3.4" fill="url(#gO)"/>
<circle cx="893.1" cy="2147.3" r="3.4" fill="url(#gO)"/>
<circle cx="873.8" cy="2162.1" r="3.4" fill="url(#gO)"/>
<circle cx="958.3" cy="2139.4" r="3.4" fill="url(#gWs)"/>
<circle cx="1035.6" cy="2155" r="3.4" fill="url(#gO)"/>
<circle cx="798" cy="2316.1" r="3.4" fill="url(#gB)"/>
<circle cx="811.4" cy="2354.7" r="3.4" fill="url(#gWs)"/>
<circle cx="813.2" cy="2295.1" r="3.4" fill="url(#gWs)"/>
<circle cx="782.4" cy="2306.5" r="3.4" fill="url(#gWs)"/>
<circle cx="788.9" cy="2319.4" r="3.4" fill="url(#gB)"/>
<circle cx="806.1" cy="2251.2" r="3.4" fill="url(#gWs)"/>
<circle cx="788.2" cy="2311.8" r="3.4" fill="url(#gB)"/>
<circle cx="807.8" cy="2361.4" r="3.4" fill="url(#gB)"/>
<circle cx="801.9" cy="2278" r="3.4" fill="url(#gWs)"/>
<circle cx="786.4" cy="2309.6" r="3.4" fill="url(#gB)"/>
<circle cx="799.6" cy="2291" r="3.4" fill="url(#gWs)"/>
<circle cx="787.9" cy="2346" r="3.4" fill="url(#gB)"/>
<circle cx="806" cy="2345.5" r="3.4" fill="url(#gWs)"/>
<circle cx="783.2" cy="2276.8" r="3.4" fill="url(#gO)"/>
<circle cx="807.5" cy="2292.7" r="3.4" fill="url(#gB)"/>
<circle cx="791.3" cy="2352.5" r="3.4" fill="url(#gWs)"/>
<circle cx="805.7" cy="2367.4" r="3.4" fill="url(#gWs)"/>
<circle cx="795.6" cy="2257" r="3.4" fill="url(#gWs)"/>
<circle cx="787.4" cy="2278.5" r="3.4" fill="url(#gWs)"/>
<circle cx="789.8" cy="2253.6" r="3.4" fill="url(#gWs)"/>
<circle cx="793.6" cy="2269.6" r="3.4" fill="url(#gO)"/>
<circle cx="790.1" cy="2309.1" r="3.4" fill="url(#gO)"/>
<circle cx="806.3" cy="2365.5" r="3.4" fill="url(#gB)"/>
<circle cx="810.3" cy="2248.5" r="3.4" fill="url(#gB)"/>
<circle cx="791.1" cy="2281.7" r="3.4" fill="url(#gB)"/>
<circle cx="805.7" cy="2284.4" r="3.4" fill="url(#gWs)"/>
<circle cx="789" cy="2361.4" r="3.4" fill="url(#gB)"/>
<circle cx="788.4" cy="2309.2" r="3.4" fill="url(#gWs)"/>
<circle cx="788.7" cy="2305.2" r="3.4" fill="url(#gO)"/>
<circle cx="809.9" cy="2311.2" r="3.4" fill="url(#gB)"/>
<circle cx="788.1" cy="2330.2" r="3.4" fill="url(#gO)"/>
<circle cx="784.5" cy="2361.2" r="3.4" fill="url(#gO)"/>
<circle cx="792.2" cy="2345.8" r="3.4" fill="url(#gO)"/>
<circle cx="784.3" cy="2300.4" r="3.4" fill="url(#gB)"/>
<circle cx="807.6" cy="2274.6" r="3.4" fill="url(#gB)"/>
<circle cx="804.3" cy="2351.5" r="3.4" fill="url(#gB)"/>
<circle cx="810" cy="2318.5" r="3.4" fill="url(#gWs)"/>
<circle cx="795.6" cy="2292.9" r="3.4" fill="url(#gWs)"/>
<circle cx="796.8" cy="2291" r="3.4" fill="url(#gWs)"/>
<circle cx="793.3" cy="2362.9" r="3.4" fill="url(#gWs)"/>
<circle cx="814.4" cy="2348.2" r="3.4" fill="url(#gWs)"/>
<circle cx="786.8" cy="2354.3" r="3.4" fill="url(#gO)"/>
<circle cx="790.2" cy="2327" r="3.4" fill="url(#gB)"/>
<circle cx="801.4" cy="2255.6" r="3.4" fill="url(#gWs)"/>
<circle cx="805" cy="2322.5" r="3.4" fill="url(#gB)"/>
<circle cx="789.1" cy="2354.4" r="3.4" fill="url(#gB)"/>
<circle cx="796.5" cy="2351.1" r="3.4" fill="url(#gWs)"/>
<circle cx="798.2" cy="2307.6" r="3.4" fill="url(#gO)"/>
<circle cx="812.7" cy="2284.3" r="3.4" fill="url(#gB)"/>
<circle cx="789.7" cy="2354.8" r="3.4" fill="url(#gO)"/>
<circle cx="803.5" cy="2244.6" r="3.4" fill="url(#gWs)"/>
<circle cx="785.2" cy="2305.6" r="3.4" fill="url(#gWs)"/>
<circle cx="781.3" cy="2252.9" r="3.4" fill="url(#gO)"/>
<circle cx="800.7" cy="2352.6" r="3.4" fill="url(#gO)"/>
<circle cx="799.5" cy="2350.1" r="3.4" fill="url(#gWs)"/>
<circle cx="800.9" cy="2261.7" r="3.4" fill="url(#gWs)"/>
<circle cx="782.5" cy="2300" r="3.4" fill="url(#gO)"/>
<circle cx="814.7" cy="2337.5" r="3.4" fill="url(#gWs)"/>
<circle cx="814.6" cy="2309" r="3.4" fill="url(#gB)"/>
<circle cx="793.7" cy="2340.8" r="3.4" fill="url(#gWs)"/>
<circle cx="783" cy="2299.7" r="3.4" fill="url(#gWs)"/>
<circle cx="787.1" cy="2265.7" r="3.4" fill="url(#gB)"/>
<circle cx="803.5" cy="2268.7" r="3.4" fill="url(#gB)"/>
<circle cx="780" cy="2362.8" r="3.4" fill="url(#gWs)"/>
<circle cx="797.4" cy="2288.1" r="3.4" fill="url(#gO)"/>
<circle cx="794.8" cy="2261.8" r="3.4" fill="url(#gO)"/>
<circle cx="800" cy="2274.6" r="3.4" fill="url(#gB)"/>
<circle cx="811.2" cy="2336.7" r="3.4" fill="url(#gB)"/>
<circle cx="791.7" cy="2270.6" r="3.4" fill="url(#gWs)"/>
<circle cx="811.3" cy="2270.3" r="3.4" fill="url(#gWs)"/>
<circle cx="807.9" cy="2254.6" r="3.4" fill="url(#gO)"/>
<circle cx="799.2" cy="2262.1" r="3.4" fill="url(#gB)"/>
<circle cx="803.1" cy="2248.3" r="3.4" fill="url(#gWs)"/>
<circle cx="804.6" cy="2275.4" r="3.4" fill="url(#gWs)"/>
<circle cx="809.8" cy="2258.3" r="3.4" fill="url(#gWs)"/>
<circle cx="783.5" cy="2303.4" r="3.4" fill="url(#gWs)"/>
<circle cx="788.9" cy="2252.2" r="3.4" fill="url(#gWs)"/>
<circle cx="806.2" cy="2315.5" r="3.4" fill="url(#gB)"/>
<circle cx="783" cy="2363.8" r="3.4" fill="url(#gB)"/>
<circle cx="799.8" cy="2347.6" r="3.4" fill="url(#gWs)"/>
<circle cx="800.9" cy="2279.4" r="3.4" fill="url(#gWs)"/>
<circle cx="806.2" cy="2243.8" r="3.4" fill="url(#gB)"/>
<circle cx="788.9" cy="2350" r="3.4" fill="url(#gWs)"/>
<circle cx="796.3" cy="2367.4" r="3.4" fill="url(#gWs)"/>
<circle cx="801.4" cy="2307.2" r="3.4" fill="url(#gB)"/>
<circle cx="793.4" cy="2274.3" r="3.4" fill="url(#gWs)"/>
<circle cx="809.2" cy="2282.1" r="3.4" fill="url(#gB)"/>
<circle cx="812.8" cy="2360.8" r="3.4" fill="url(#gB)"/>
<circle cx="811.4" cy="2324.3" r="3.4" fill="url(#gWs)"/>
<circle cx="782.8" cy="2249.6" r="3.4" fill="url(#gWs)"/>
<circle cx="796.4" cy="2303.7" r="3.4" fill="url(#gWs)"/>
<circle cx="800" cy="2286" r="3.4" fill="url(#gWs)"/>
<circle cx="782.2" cy="2341.1" r="3.4" fill="url(#gB)"/>
<circle cx="805.9" cy="2254.7" r="3.4" fill="url(#gWs)"/>
<circle cx="813.4" cy="2320.3" r="3.4" fill="url(#gO)"/>
<circle cx="793.7" cy="2343.5" r="3.4" fill="url(#gWs)"/>
<circle cx="781.9" cy="2328.9" r="3.4" fill="url(#gB)"/>
<circle cx="791.8" cy="2309.5" r="3.4" fill="url(#gB)"/>
<circle cx="787.3" cy="2240.6" r="3.4" fill="url(#gWs)"/>
<circle cx="788.7" cy="2364.9" r="3.4" fill="url(#gWs)"/>
<circle cx="798.1" cy="2268.9" r="3.4" fill="url(#gWs)"/>
<circle cx="786.2" cy="2269.2" r="3.4" fill="url(#gB)"/>
<circle cx="805.8" cy="2326" r="3.4" fill="url(#gO)"/>
<circle cx="813.5" cy="2308.2" r="3.4" fill="url(#gO)"/>
<circle cx="803.4" cy="2341" r="3.4" fill="url(#gWs)"/>
<circle cx="812.6" cy="2330.2" r="3.4" fill="url(#gWs)"/>
<circle cx="779" cy="2287.5" r="3.4" fill="url(#gB)"/>
<circle cx="790.9" cy="2289" r="3.4" fill="url(#gB)"/>
<circle cx="788" cy="2245.1" r="3.4" fill="url(#gWs)"/>
<circle cx="791.7" cy="2324.6" r="3.4" fill="url(#gWs)"/>
<path d="M817,2167.9 C822.1,2166.4 834.9,2165.7 843.7,2165 C852.5,2164.3 861.4,2164.3 870.1,2163.6 C878.7,2162.9 889.9,2162.2 895.6,2160.8 C901.2,2159.5 900.5,2157.1 903.9,2155.5 C907.2,2153.9 911.7,2152.3 915.7,2151.2 C919.7,2150.1 923.4,2148.3 928,2148.9 C932.5,2149.4 938.5,2153.3 942.9,2154.4 C947.3,2155.5 949.4,2155.4 954.4,2155.7 C959.3,2156 966,2155.8 972.3,2156 C978.6,2156.2 984.2,2156.7 992.2,2157.1 C1000.1,2157.5 1011.9,2157.8 1020.3,2158.4 C1028.6,2159.1 1035.4,2160.6 1042.3,2160.9 C1049.3,2161.1 1055.4,2160.9 1062.1,2159.7 C1068.7,2158.5 1075.3,2154.7 1082.2,2153.5 C1089,2152.4 1097,2153.3 1103.5,2152.7 C1109.9,2152.1 1114.1,2149.2 1121,2149.9 C1127.8,2150.7 1137.6,2156 1144.6,2157.3 C1151.7,2158.7 1159,2156.7 1163.1,2158.1 C1167.3,2159.5 1166.8,2162.5 1169.6,2165.7 C1172.3,2168.9 1176.7,2173.6 1179.8,2177.4 C1182.8,2181.2 1184.2,2185.4 1188.1,2188.6 C1191.9,2191.7 1198.5,2192.5 1202.8,2196.2 C1207.2,2200 1210.5,2206.5 1214.3,2210.9 C1218.1,2215.3 1223.3,2219.3 1225.5,2222.6 C1227.7,2225.8 1227,2227.6 1227.7,2230.2 C1228.4,2232.8 1229.3,2236 1229.5,2238.2 C1229.7,2240.5 1229.8,2239.7 1228.9,2243.9 C1228.1,2248 1225.9,2256.8 1224.3,2263.1 C1222.6,2269.4 1220.7,2275.7 1219.1,2281.6 C1217.6,2287.5 1216.5,2293.5 1215,2298.4 C1213.4,2303.3 1210.7,2306.5 1210,2310.7 C1209.4,2315 1211.6,2319.8 1211,2324 C1210.4,2328.2 1208.4,2333 1206.3,2335.9 C1204.3,2338.8 1201.1,2338.9 1198.9,2341.5 C1196.7,2344.1 1195,2347.6 1193.2,2351.5 C1191.3,2355.3 1188.6,2360.3 1187.8,2364.4 C1186.9,2368.4 1189.3,2370.7 1188.3,2375.9 C1187.4,2381.2 1183.8,2390.6 1182,2395.6 C1180.2,2400.5 1180.1,2402.1 1177.6,2405.5 C1175.1,2408.9 1170.9,2412.8 1167.1,2415.9 C1163.2,2419.1 1157.9,2420.3 1154.5,2424.3 C1151.2,2428.2 1151.8,2436.9 1146.9,2439.5 C1141.9,2442.1 1131.4,2439 1124.8,2439.8 C1118.1,2440.5 1113.1,2441.8 1106.9,2444 C1100.7,2446.2 1097.5,2451.9 1087.8,2453.1 C1078.1,2454.2 1062.1,2450.8 1048.6,2450.9 C1035.1,2451 1019.7,2452.2 1006.8,2453.8 C994,2455.3 982.5,2460.3 971.5,2460 C960.6,2459.8 951.4,2453.7 941.2,2452.2 C930.9,2450.7 920.2,2452.1 910.1,2451.1 C899.9,2450.2 887.2,2447.9 880,2446.4 C872.9,2444.9 872.1,2444.1 867.3,2441.9 C862.6,2439.8 855.9,2436.7 851.5,2433.4 C847,2430.1 844.4,2425.7 840.7,2421.9 C836.9,2418.1 831.8,2413.5 828.9,2410.6 C826.1,2407.8 825.8,2408 823.8,2404.7 C821.8,2401.5 819,2396.1 817.2,2391.3 C815.3,2386.4 813.8,2380.3 812.6,2375.5 C811.3,2370.7 810.8,2367.3 809.8,2362.4 C808.9,2357.6 807.5,2351.3 806.7,2346.5 C806,2341.6 807,2337.6 805.1,2333.2 C803.2,2328.7 798.1,2324.5 795.3,2319.9 C792.5,2315.3 789.6,2310.5 788.3,2305.5 C787,2300.6 788.3,2295.1 787.5,2290.3 C786.8,2285.4 784.2,2281.1 784,2276.5 C783.9,2271.8 785.7,2267.4 786.6,2262.3 C787.5,2257.3 787.6,2250.9 789.3,2246 C791.1,2241.1 795.8,2237.9 797.2,2232.9 C798.5,2227.9 796.8,2219.9 797.5,2215.8 C798.2,2211.7 799.8,2211.5 801.2,2208.3 C802.5,2205.1 804.5,2200.1 805.5,2196.5 C806.5,2193 806,2189.6 807.3,2187.1 C808.6,2184.7 812.3,2183.9 813.2,2181.7 C814.2,2179.5 812.6,2176.1 813.2,2173.8 C813.8,2171.5 811.9,2169.4 817,2167.9Z" fill="url(#pOC)"/>
<clipPath id="cj3b"><path d="M817,2167.9 C822.1,2166.4 834.9,2165.7 843.7,2165 C852.5,2164.3 861.4,2164.3 870.1,2163.6 C878.7,2162.9 889.9,2162.2 895.6,2160.8 C901.2,2159.5 900.5,2157.1 903.9,2155.5 C907.2,2153.9 911.7,2152.3 915.7,2151.2 C919.7,2150.1 923.4,2148.3 928,2148.9 C932.5,2149.4 938.5,2153.3 942.9,2154.4 C947.3,2155.5 949.4,2155.4 954.4,2155.7 C959.3,2156 966,2155.8 972.3,2156 C978.6,2156.2 984.2,2156.7 992.2,2157.1 C1000.1,2157.5 1011.9,2157.8 1020.3,2158.4 C1028.6,2159.1 1035.4,2160.6 1042.3,2160.9 C1049.3,2161.1 1055.4,2160.9 1062.1,2159.7 C1068.7,2158.5 1075.3,2154.7 1082.2,2153.5 C1089,2152.4 1097,2153.3 1103.5,2152.7 C1109.9,2152.1 1114.1,2149.2 1121,2149.9 C1127.8,2150.7 1137.6,2156 1144.6,2157.3 C1151.7,2158.7 1159,2156.7 1163.1,2158.1 C1167.3,2159.5 1166.8,2162.5 1169.6,2165.7 C1172.3,2168.9 1176.7,2173.6 1179.8,2177.4 C1182.8,2181.2 1184.2,2185.4 1188.1,2188.6 C1191.9,2191.7 1198.5,2192.5 1202.8,2196.2 C1207.2,2200 1210.5,2206.5 1214.3,2210.9 C1218.1,2215.3 1223.3,2219.3 1225.5,2222.6 C1227.7,2225.8 1227,2227.6 1227.7,2230.2 C1228.4,2232.8 1229.3,2236 1229.5,2238.2 C1229.7,2240.5 1229.8,2239.7 1228.9,2243.9 C1228.1,2248 1225.9,2256.8 1224.3,2263.1 C1222.6,2269.4 1220.7,2275.7 1219.1,2281.6 C1217.6,2287.5 1216.5,2293.5 1215,2298.4 C1213.4,2303.3 1210.7,2306.5 1210,2310.7 C1209.4,2315 1211.6,2319.8 1211,2324 C1210.4,2328.2 1208.4,2333 1206.3,2335.9 C1204.3,2338.8 1201.1,2338.9 1198.9,2341.5 C1196.7,2344.1 1195,2347.6 1193.2,2351.5 C1191.3,2355.3 1188.6,2360.3 1187.8,2364.4 C1186.9,2368.4 1189.3,2370.7 1188.3,2375.9 C1187.4,2381.2 1183.8,2390.6 1182,2395.6 C1180.2,2400.5 1180.1,2402.1 1177.6,2405.5 C1175.1,2408.9 1170.9,2412.8 1167.1,2415.9 C1163.2,2419.1 1157.9,2420.3 1154.5,2424.3 C1151.2,2428.2 1151.8,2436.9 1146.9,2439.5 C1141.9,2442.1 1131.4,2439 1124.8,2439.8 C1118.1,2440.5 1113.1,2441.8 1106.9,2444 C1100.7,2446.2 1097.5,2451.9 1087.8,2453.1 C1078.1,2454.2 1062.1,2450.8 1048.6,2450.9 C1035.1,2451 1019.7,2452.2 1006.8,2453.8 C994,2455.3 982.5,2460.3 971.5,2460 C960.6,2459.8 951.4,2453.7 941.2,2452.2 C930.9,2450.7 920.2,2452.1 910.1,2451.1 C899.9,2450.2 887.2,2447.9 880,2446.4 C872.9,2444.9 872.1,2444.1 867.3,2441.9 C862.6,2439.8 855.9,2436.7 851.5,2433.4 C847,2430.1 844.4,2425.7 840.7,2421.9 C836.9,2418.1 831.8,2413.5 828.9,2410.6 C826.1,2407.8 825.8,2408 823.8,2404.7 C821.8,2401.5 819,2396.1 817.2,2391.3 C815.3,2386.4 813.8,2380.3 812.6,2375.5 C811.3,2370.7 810.8,2367.3 809.8,2362.4 C808.9,2357.6 807.5,2351.3 806.7,2346.5 C806,2341.6 807,2337.6 805.1,2333.2 C803.2,2328.7 798.1,2324.5 795.3,2319.9 C792.5,2315.3 789.6,2310.5 788.3,2305.5 C787,2300.6 788.3,2295.1 787.5,2290.3 C786.8,2285.4 784.2,2281.1 784,2276.5 C783.9,2271.8 785.7,2267.4 786.6,2262.3 C787.5,2257.3 787.6,2250.9 789.3,2246 C791.1,2241.1 795.8,2237.9 797.2,2232.9 C798.5,2227.9 796.8,2219.9 797.5,2215.8 C798.2,2211.7 799.8,2211.5 801.2,2208.3 C802.5,2205.1 804.5,2200.1 805.5,2196.5 C806.5,2193 806,2189.6 807.3,2187.1 C808.6,2184.7 812.3,2183.9 813.2,2181.7 C814.2,2179.5 812.6,2176.1 813.2,2173.8 C813.8,2171.5 811.9,2169.4 817,2167.9Z"/></clipPath>
<g clip-path="url(#cj3b)">
<rect x="780" y="2223" width="455" height="16" fill="url(#pXC)"/>
<rect x="780" y="2259" width="455" height="36" fill="url(#pBC)"/>
<rect x="780" y="2295" width="455" height="53" fill="url(#pXC)"/>
<rect x="780" y="2381" width="455" height="23" fill="url(#pBC)"/>
<rect x="1058" y="2142" width="115" height="50" fill="url(#pXC)"/>
</g>
<circle cx="1022" cy="2447.8" r="3.4" fill="url(#gO)"/>
<circle cx="1132.8" cy="2421.3" r="3.4" fill="url(#gB)"/>
<circle cx="1028.4" cy="2447.6" r="3.4" fill="url(#gO)"/>
<circle cx="1155.2" cy="2420.6" r="3.4" fill="url(#gWs)"/>
<circle cx="1081.1" cy="2438.4" r="3.4" fill="url(#gO)"/>
<circle cx="957.5" cy="2459.4" r="3.4" fill="url(#gWs)"/>
<circle cx="1082.6" cy="2426.3" r="3.4" fill="url(#gWs)"/>
<circle cx="912.1" cy="2423.5" r="3.4" fill="url(#gWs)"/>
<circle cx="1148.3" cy="2436.1" r="3.4" fill="url(#gO)"/>
<circle cx="1170.4" cy="2433.2" r="3.4" fill="url(#gWs)"/>
<circle cx="966.1" cy="2420.1" r="3.4" fill="url(#gWs)"/>
<circle cx="1168.2" cy="2433.7" r="3.4" fill="url(#gO)"/>
<circle cx="1141.1" cy="2452.3" r="3.4" fill="url(#gWs)"/>
<circle cx="1021.9" cy="2410.6" r="3.4" fill="url(#gWs)"/>
<circle cx="1128.6" cy="2430.2" r="3.4" fill="url(#gWs)"/>
<circle cx="920.9" cy="2438.2" r="3.4" fill="url(#gWs)"/>
<circle cx="1105.1" cy="2451.4" r="3.4" fill="url(#gWs)"/>
<circle cx="1062.8" cy="2410.4" r="3.4" fill="url(#gB)"/>
<circle cx="891.4" cy="2412.3" r="3.4" fill="url(#gO)"/>
<circle cx="993.1" cy="2452.3" r="3.4" fill="url(#gWs)"/>
<circle cx="1093.4" cy="2421.7" r="3.4" fill="url(#gWs)"/>
<circle cx="968.5" cy="2408.1" r="3.4" fill="url(#gWs)"/>
<circle cx="1012.8" cy="2440.3" r="3.4" fill="url(#gWs)"/>
<circle cx="889.4" cy="2439.5" r="3.4" fill="url(#gWs)"/>
<circle cx="1027.1" cy="2425" r="3.4" fill="url(#gWs)"/>
<circle cx="1070.6" cy="2450.5" r="3.4" fill="url(#gWs)"/>
<circle cx="1139.4" cy="2442.1" r="3.4" fill="url(#gWs)"/>
<circle cx="1073.8" cy="2451.2" r="3.4" fill="url(#gWs)"/>
<circle cx="989.5" cy="2418.9" r="3.4" fill="url(#gO)"/>
<circle cx="936.7" cy="2419.2" r="3.4" fill="url(#gB)"/>
<circle cx="974.3" cy="2431.5" r="3.4" fill="url(#gO)"/>
<circle cx="892.8" cy="2451.1" r="3.4" fill="url(#gWs)"/>
<circle cx="1002.7" cy="2450.5" r="3.4" fill="url(#gO)"/>
<circle cx="864.4" cy="2459.8" r="3.4" fill="url(#gWs)"/>
<circle cx="1103.6" cy="2443.5" r="3.4" fill="url(#gB)"/>
<circle cx="1097.7" cy="2418.9" r="3.4" fill="url(#gWs)"/>
<circle cx="969.7" cy="2419.7" r="3.4" fill="url(#gWs)"/>
<circle cx="1020.3" cy="2433.6" r="3.4" fill="url(#gWs)"/>
<circle cx="1095.7" cy="2413.4" r="3.4" fill="url(#gWs)"/>
<circle cx="984.8" cy="2439.8" r="3.4" fill="url(#gO)"/>
<circle cx="1038.2" cy="2425.4" r="3.4" fill="url(#gWs)"/>
<circle cx="1030.1" cy="2417.6" r="3.4" fill="url(#gO)"/>
<circle cx="959.5" cy="2425.8" r="3.4" fill="url(#gWs)"/>
<circle cx="848" cy="2423.4" r="3.4" fill="url(#gB)"/>
<circle cx="872.2" cy="2427.2" r="3.4" fill="url(#gO)"/>
<circle cx="996" cy="2440.2" r="3.4" fill="url(#gO)"/>
<circle cx="1124.9" cy="2429.4" r="3.4" fill="url(#gWs)"/>
<circle cx="834.1" cy="2447.4" r="3.4" fill="url(#gWs)"/>
<circle cx="993" cy="2412" r="3.4" fill="url(#gO)"/>
<circle cx="990.6" cy="2411.4" r="3.4" fill="url(#gWs)"/>
<circle cx="861.3" cy="2424.9" r="3.4" fill="url(#gWs)"/>
<circle cx="1096" cy="2439.2" r="3.4" fill="url(#gWs)"/>
<circle cx="947.2" cy="2430.6" r="3.4" fill="url(#gO)"/>
<circle cx="952.2" cy="2448" r="3.4" fill="url(#gWs)"/>
<circle cx="871.9" cy="2449.3" r="3.4" fill="url(#gWs)"/>
<circle cx="978.2" cy="2410" r="3.4" fill="url(#gWs)"/>
<circle cx="954.3" cy="2423.2" r="3.4" fill="url(#gWs)"/>
<circle cx="1161.3" cy="2420.8" r="3.4" fill="url(#gWs)"/>
<circle cx="984.3" cy="2409.1" r="3.4" fill="url(#gWs)"/>
<circle cx="892.1" cy="2433.1" r="3.4" fill="url(#gWs)"/>
<circle cx="1133.6" cy="2433.7" r="3.4" fill="url(#gWs)"/>
<circle cx="914.7" cy="2433.7" r="3.4" fill="url(#gWs)"/>
<circle cx="894.8" cy="2457.9" r="3.4" fill="url(#gWs)"/>
<circle cx="894.7" cy="2451.2" r="3.4" fill="url(#gWs)"/>
<circle cx="1024.1" cy="2434.8" r="3.4" fill="url(#gWs)"/>
<circle cx="846" cy="2444.1" r="3.4" fill="url(#gWs)"/>
<circle cx="1130.5" cy="2460.3" r="3.4" fill="url(#gWs)"/>
<circle cx="1130.5" cy="2459.2" r="3.4" fill="url(#gWs)"/>
<circle cx="932.2" cy="2456.8" r="3.4" fill="url(#gO)"/>
<circle cx="905.1" cy="2417" r="3.4" fill="url(#gO)"/>
<circle cx="859" cy="2415.7" r="3.4" fill="url(#gWs)"/>
<circle cx="928.2" cy="2430.8" r="3.4" fill="url(#gWs)"/>
<circle cx="900.9" cy="2461.1" r="3.4" fill="url(#gWs)"/>
<circle cx="992.5" cy="2421.8" r="3.4" fill="url(#gB)"/>
<circle cx="1044.4" cy="2432.6" r="3.4" fill="url(#gWs)"/>
<circle cx="1085.8" cy="2424.4" r="3.4" fill="url(#gB)"/>
<circle cx="876.6" cy="2437.8" r="3.4" fill="url(#gO)"/>
<circle cx="1046" cy="2459.6" r="3.4" fill="url(#gB)"/>
<circle cx="1155.7" cy="2433.6" r="3.4" fill="url(#gWs)"/>
<circle cx="900.4" cy="2416.1" r="3.4" fill="url(#gWs)"/>
<circle cx="918.4" cy="2438.5" r="3.4" fill="url(#gWs)"/>
<circle cx="991.8" cy="2414.2" r="3.4" fill="url(#gWs)"/>
<circle cx="1060.1" cy="2435.5" r="3.4" fill="url(#gWs)"/>
<circle cx="945.2" cy="2426" r="3.4" fill="url(#gWs)"/>
<circle cx="839.8" cy="2432.8" r="3.4" fill="url(#gWs)"/>
<circle cx="919.8" cy="2434" r="3.4" fill="url(#gWs)"/>
<circle cx="968" cy="2417.5" r="3.4" fill="url(#gWs)"/>
<circle cx="951" cy="2430" r="3.4" fill="url(#gO)"/>
<circle cx="1040.5" cy="2450.1" r="3.4" fill="url(#gO)"/>
<circle cx="1040.7" cy="2415.9" r="3.4" fill="url(#gO)"/>
<circle cx="1007.2" cy="2451.8" r="3.4" fill="url(#gWs)"/>
<circle cx="1056.8" cy="2438.5" r="3.4" fill="url(#gO)"/>
<circle cx="1085" cy="2451.2" r="3.4" fill="url(#gWs)"/>
<circle cx="1155.9" cy="2444.9" r="3.4" fill="url(#gWs)"/>
<circle cx="906.2" cy="2422.3" r="3.4" fill="url(#gO)"/>
<circle cx="1044.7" cy="2436.5" r="3.4" fill="url(#gWs)"/>
<circle cx="1016.5" cy="2452.8" r="3.4" fill="url(#gWs)"/>
<circle cx="993.8" cy="2449" r="3.4" fill="url(#gWs)"/>
<circle cx="864.8" cy="2448.2" r="3.4" fill="url(#gWs)"/>
<circle cx="836" cy="2451.3" r="3.4" fill="url(#gWs)"/>
<circle cx="845.6" cy="2423.6" r="3.4" fill="url(#gWs)"/>
<circle cx="1013.2" cy="2429.3" r="3.4" fill="url(#gO)"/>
<circle cx="836.4" cy="2436.8" r="3.4" fill="url(#gWs)"/>
<circle cx="881" cy="2451.7" r="3.4" fill="url(#gB)"/>
<circle cx="1042.3" cy="2446.2" r="3.4" fill="url(#gO)"/>
<circle cx="1179.7" cy="2427.9" r="3.4" fill="url(#gWs)"/>
<circle cx="879.1" cy="2426.7" r="3.4" fill="url(#gO)"/>
<circle cx="1167.8" cy="2438.1" r="3.4" fill="url(#gWs)"/>
<circle cx="1115.7" cy="2452.7" r="3.4" fill="url(#gWs)"/>
<circle cx="972.8" cy="2431.9" r="3.4" fill="url(#gB)"/>
<circle cx="1013.4" cy="2406.2" r="3.4" fill="url(#gB)"/>
<circle cx="1134.8" cy="2458.3" r="3.4" fill="url(#gB)"/>
<circle cx="895.2" cy="2434" r="3.4" fill="url(#gWs)"/>
<circle cx="870.2" cy="2439.4" r="3.4" fill="url(#gB)"/>
<circle cx="978" cy="2419.5" r="3.4" fill="url(#gO)"/>
<circle cx="1075.7" cy="2436.6" r="3.4" fill="url(#gWs)"/>
<circle cx="1051.2" cy="2452.6" r="3.4" fill="url(#gO)"/>
<circle cx="1090.6" cy="2422.5" r="3.4" fill="url(#gWs)"/>
<circle cx="1052.4" cy="2436.5" r="3.4" fill="url(#gO)"/>
<circle cx="1027.4" cy="2414.6" r="3.4" fill="url(#gWs)"/>
<circle cx="854.6" cy="2419.4" r="3.4" fill="url(#gWs)"/>
<circle cx="1020.6" cy="2461.2" r="3.4" fill="url(#gWs)"/>
<circle cx="996.6" cy="2414" r="3.4" fill="url(#gO)"/>
<circle cx="1038.2" cy="2443.2" r="3.4" fill="url(#gWs)"/>
<circle cx="1024.9" cy="2442.7" r="3.4" fill="url(#gWs)"/>
<circle cx="942.8" cy="2427.6" r="3.4" fill="url(#gWs)"/>
<circle cx="987.6" cy="2415.7" r="3.4" fill="url(#gWs)"/>
<circle cx="894.5" cy="2427.4" r="3.4" fill="url(#gO)"/>
<circle cx="869" cy="2430.9" r="3.4" fill="url(#gB)"/>
<circle cx="836.2" cy="2446" r="3.4" fill="url(#gO)"/>
<circle cx="1176.7" cy="2447.5" r="3.4" fill="url(#gWs)"/>
<circle cx="1038.8" cy="2410.3" r="3.4" fill="url(#gO)"/>
<circle cx="1022.7" cy="2434.9" r="3.4" fill="url(#gB)"/>
<circle cx="956.7" cy="2453.7" r="3.4" fill="url(#gWs)"/>
<circle cx="1142.2" cy="2426.7" r="3.4" fill="url(#gWs)"/>
<circle cx="1106.6" cy="2430.3" r="3.4" fill="url(#gWs)"/>
<circle cx="1002.9" cy="2412.2" r="3.4" fill="url(#gB)"/>
<circle cx="1030.6" cy="2458.2" r="3.4" fill="url(#gWs)"/>
<circle cx="1101.5" cy="2440.5" r="3.4" fill="url(#gWs)"/>
<circle cx="885.9" cy="2444.8" r="3.4" fill="url(#gWs)"/>
<circle cx="915.8" cy="2419.5" r="3.4" fill="url(#gWs)"/>
<circle cx="1007.7" cy="2460.1" r="3.4" fill="url(#gB)"/>
<circle cx="1069.5" cy="2420.9" r="3.4" fill="url(#gWs)"/>
<circle cx="1084" cy="2419.6" r="3.4" fill="url(#gO)"/>
<circle cx="883.9" cy="2422.6" r="3.4" fill="url(#gWs)"/>
<circle cx="859.9" cy="2421" r="3.4" fill="url(#gWs)"/>
<circle cx="987.1" cy="2423.1" r="3.4" fill="url(#gWs)"/>
<circle cx="830.4" cy="2426" r="3.4" fill="url(#gB)"/>
<circle cx="950" cy="2456.3" r="3.4" fill="url(#gWs)"/>
<circle cx="945.9" cy="2415.6" r="3.4" fill="url(#gWs)"/>
<circle cx="877.5" cy="2433.3" r="3.4" fill="url(#gB)"/>
<circle cx="1122.5" cy="2435.8" r="3.4" fill="url(#gO)"/>
<circle cx="1008.7" cy="2446.2" r="3.4" fill="url(#gWs)"/>
<circle cx="1003.9" cy="2425.4" r="3.4" fill="url(#gO)"/>
<circle cx="892.6" cy="2448.3" r="3.4" fill="url(#gWs)"/>
<circle cx="1161.6" cy="2439.4" r="3.4" fill="url(#gWs)"/>
<circle cx="1117.4" cy="2453.6" r="3.4" fill="url(#gWs)"/>
<circle cx="891.5" cy="2454.9" r="3.4" fill="url(#gWs)"/>
<circle cx="1028.2" cy="2405.5" r="3.4" fill="url(#gB)"/>
<circle cx="1021" cy="2433.7" r="3.4" fill="url(#gO)"/>
<circle cx="852.9" cy="2459.2" r="3.4" fill="url(#gWs)"/>
<circle cx="993.5" cy="2461.5" r="3.4" fill="url(#gWs)"/>
<circle cx="1002" cy="2429.6" r="3.4" fill="url(#gWs)"/>
<circle cx="993.1" cy="2436.1" r="3.4" fill="url(#gB)"/>
<circle cx="838.4" cy="2422.6" r="3.4" fill="url(#gWs)"/>
<circle cx="901.1" cy="2460.9" r="3.4" fill="url(#gO)"/>
<circle cx="1101.7" cy="2456.7" r="3.4" fill="url(#gWs)"/>
<circle cx="866.1" cy="2426.6" r="3.4" fill="url(#gWs)"/>
<circle cx="839.7" cy="2432.9" r="3.4" fill="url(#gWs)"/>
<circle cx="1009.3" cy="2414.7" r="3.4" fill="url(#gB)"/>
<circle cx="899.1" cy="2429.8" r="3.4" fill="url(#gWs)"/>
<circle cx="1084.1" cy="2457" r="3.4" fill="url(#gO)"/>
<circle cx="934.3" cy="2453.4" r="3.4" fill="url(#gWs)"/>
<circle cx="1012.9" cy="2439.2" r="3.4" fill="url(#gB)"/>
<circle cx="1159.7" cy="2432" r="3.4" fill="url(#gWs)"/>
<circle cx="1053.6" cy="2431.7" r="3.4" fill="url(#gWs)"/>
<circle cx="1078.7" cy="2432.1" r="3.4" fill="url(#gWs)"/>
<circle cx="1171.7" cy="2449.2" r="3.4" fill="url(#gWs)"/>
<circle cx="1113" cy="2434.6" r="3.4" fill="url(#gO)"/>
<circle cx="1012.4" cy="2423.8" r="3.4" fill="url(#gO)"/>
<circle cx="1121.4" cy="2423.1" r="3.4" fill="url(#gWs)"/>
<circle cx="1141.5" cy="2456.4" r="3.4" fill="url(#gO)"/>
<circle cx="853.7" cy="2420.3" r="3.4" fill="url(#gWs)"/>
<circle cx="902.4" cy="2427.2" r="3.4" fill="url(#gWs)"/>
<circle cx="1030.1" cy="2426.8" r="3.4" fill="url(#gO)"/>
<circle cx="1071.6" cy="2435.1" r="3.4" fill="url(#gWs)"/>
<circle cx="891.5" cy="2456.8" r="3.4" fill="url(#gB)"/>
<circle cx="941" cy="2434.4" r="3.4" fill="url(#gWs)"/>
<circle cx="902.2" cy="2418" r="3.4" fill="url(#gWs)"/>
<circle cx="1069.6" cy="2434.8" r="3.4" fill="url(#gWs)"/>
<circle cx="1006.3" cy="2288.7" r="83" fill="none" stroke="#fff200" stroke-width="6" stroke-dasharray="16.6 16" stroke-dashoffset="0"/>
</g>
<rect x="19.7" y="1686.7" width="368.6" height="785.6" fill="none" stroke="#c27a3e" stroke-width="3.4"/>
<rect x="396.7" y="1686.7" width="371.1" height="785.6" fill="none" stroke="#4a9350" stroke-width="3.4"/>
<rect x="775" y="1686.7" width="459.8" height="785.6" fill="none" stroke="#1d3461" stroke-width="3.4"/>
<rect x="21.5" y="2042.7" width="104.6" height="32.6" fill="#fff"/>
<rect x="21.5" y="2438" width="98" height="32.6" fill="#fff"/>
<rect x="398.5" y="2043.5" width="104.8" height="31.8" fill="#fff"/>
<rect x="398.5" y="2438" width="98.9" height="32.6" fill="#fff"/>
<rect x="776.7" y="2042.6" width="104.3" height="32.7" fill="#fff"/>
<rect x="776.7" y="2438.5" width="94" height="32.1" fill="#fff"/>
<circle cx="39.3" cy="2058.8" r="13.1" fill="none" stroke="#000" stroke-width="2.3"/><circle cx="39.3" cy="2058.8" r="3.8" fill="#000"/>
<text x="65" y="2065.6" font-size="23">[111]</text>
<circle cx="417.1" cy="2058.9" r="13.1" fill="none" stroke="#000" stroke-width="2.3"/><circle cx="417.1" cy="2058.9" r="3.8" fill="#000"/>
<text x="437.2" y="2065" font-size="23">c-axis</text>
<circle cx="794.4" cy="2058.7" r="13.1" fill="none" stroke="#000" stroke-width="2.3"/><circle cx="794.4" cy="2058.7" r="3.8" fill="#000"/>
<text x="815" y="2065" font-size="23">c-axis</text>
<line x1="35" y1="2443" x2="35" y2="2468" stroke="#000" stroke-width="1.6"/>
<polyline points="31.4,2447.5 35,2443 38.6,2447.5" fill="none" stroke="#000" stroke-width="1.6" stroke-linejoin="round"/>
<polyline points="31.4,2463.5 35,2468 38.6,2463.5" fill="none" stroke="#000" stroke-width="1.6" stroke-linejoin="round"/>
<text x="58" y="2465" font-size="23">[111]</text>
<line x1="412.4" y1="2443" x2="412.4" y2="2468" stroke="#000" stroke-width="1.6"/>
<polyline points="408.8,2447.5 412.4,2443 416,2447.5" fill="none" stroke="#000" stroke-width="1.6" stroke-linejoin="round"/>
<polyline points="408.8,2463.5 412.4,2468 416,2463.5" fill="none" stroke="#000" stroke-width="1.6" stroke-linejoin="round"/>
<text x="425.4" y="2462" font-size="23">c-axis</text>
<line x1="790.8" y1="2443" x2="790.8" y2="2468" stroke="#000" stroke-width="1.6"/>
<polyline points="787.2,2447.5 790.8,2443 794.4,2447.5" fill="none" stroke="#000" stroke-width="1.6" stroke-linejoin="round"/>
<polyline points="787.2,2463.5 790.8,2468 794.4,2463.5" fill="none" stroke="#000" stroke-width="1.6" stroke-linejoin="round"/>
<text x="804.6" y="2460.5" font-size="23">c-axis</text>
<text x="200" y="1745" font-size="24" text-anchor="middle" font-weight="bold" fill="#231815">[<tspan text-decoration="overline">1</tspan>10]</text>
<line x1="138.5" y1="1754" x2="265" y2="1754" stroke="#231815" stroke-width="2.6"/>
<polyline points="146.5,1747.6 138.5,1754 146.5,1760.4" fill="none" stroke="#231815" stroke-width="2.6" stroke-linejoin="round"/>
<polyline points="257,1747.6 265,1754 257,1760.4" fill="none" stroke="#231815" stroke-width="2.6" stroke-linejoin="round"/>
<text x="58" y="1875" font-size="24" text-anchor="middle" transform="rotate(-90 58 1875)" font-weight="bold" fill="#231815">[11<tspan text-decoration="overline">2</tspan>]</text>
<line x1="73" y1="1830" x2="73" y2="1937" stroke="#231815" stroke-width="2.6"/>
<polyline points="66.6,1838 73,1830 79.4,1838" fill="none" stroke="#231815" stroke-width="2.6" stroke-linejoin="round"/>
<polyline points="66.6,1929 73,1937 79.4,1929" fill="none" stroke="#231815" stroke-width="2.6" stroke-linejoin="round"/>
<text x="210" y="2126" font-size="24" text-anchor="middle" font-weight="bold" fill="#231815">[11<tspan text-decoration="overline">2</tspan>]</text>
<line x1="142.5" y1="2133.8" x2="270" y2="2133.8" stroke="#231815" stroke-width="2.6"/>
<polyline points="150.5,2127.4 142.5,2133.8 150.5,2140.2" fill="none" stroke="#231815" stroke-width="2.6" stroke-linejoin="round"/>
<polyline points="262,2127.4 270,2133.8 262,2140.2" fill="none" stroke="#231815" stroke-width="2.6" stroke-linejoin="round"/>
<text x="58" y="2268" font-size="24" text-anchor="middle" transform="rotate(-90 58 2268)" font-weight="bold" fill="#231815">[111]</text>
<line x1="68.8" y1="2215" x2="68.8" y2="2321" stroke="#231815" stroke-width="2.6"/>
<polyline points="62.4,2223 68.8,2215 75.2,2223" fill="none" stroke="#231815" stroke-width="2.6" stroke-linejoin="round"/>
<polyline points="62.4,2313 68.8,2321 75.2,2313" fill="none" stroke="#231815" stroke-width="2.6" stroke-linejoin="round"/>
<text x="579" y="1710.7" font-size="20.5" text-anchor="middle" font-weight="bold" fill="#231815">Secondary prismatic plane growth</text>
<line x1="505.7" y1="1724.9" x2="655.6" y2="1724.9" stroke="#231815" stroke-width="2.4"/>
<polyline points="512.7,1719.3 505.7,1724.9 512.7,1730.5" fill="none" stroke="#231815" stroke-width="2.4" stroke-linejoin="round"/>
<polyline points="648.6,1719.3 655.6,1724.9 648.6,1730.5" fill="none" stroke="#231815" stroke-width="2.4" stroke-linejoin="round"/>
<text x="425" y="1880.6" font-size="20.5" text-anchor="middle" transform="rotate(-90 425 1880.6)" font-weight="bold" fill="#231815">Primary prismatic plane growth</text>
<line x1="437.2" y1="1805" x2="437.2" y2="1933.8" stroke="#231815" stroke-width="2.4"/>
<polyline points="431.6,1812 437.2,1805 442.8,1812" fill="none" stroke="#231815" stroke-width="2.4" stroke-linejoin="round"/>
<polyline points="431.6,1926.8 437.2,1933.8 442.8,1926.8" fill="none" stroke="#231815" stroke-width="2.4" stroke-linejoin="round"/>
<text x="577" y="2100.7" font-size="20.5" text-anchor="middle" font-weight="bold" fill="#231815">Secondary prismatic plane growth</text>
<line x1="501" y1="2113.7" x2="649.7" y2="2113.7" stroke="#231815" stroke-width="2.4"/>
<polyline points="508,2108.1 501,2113.7 508,2119.3" fill="none" stroke="#231815" stroke-width="2.4" stroke-linejoin="round"/>
<polyline points="642.7,2108.1 649.7,2113.7 642.7,2119.3" fill="none" stroke="#231815" stroke-width="2.4" stroke-linejoin="round"/>
<text x="422.5" y="2281" font-size="20.5" text-anchor="middle" transform="rotate(-90 422.5 2281)" font-weight="bold" fill="#231815">Basal plane growth</text>
<line x1="432.5" y1="2194" x2="432.5" y2="2374.5" stroke="#231815" stroke-width="2.4"/>
<polyline points="426.9,2201 432.5,2194 438.1,2201" fill="none" stroke="#231815" stroke-width="2.4" stroke-linejoin="round"/>
<polyline points="426.9,2367.5 432.5,2374.5 438.1,2367.5" fill="none" stroke="#231815" stroke-width="2.4" stroke-linejoin="round"/>
<rect x="1160" y="2487" width="75" height="7" fill="#231815"/>
<text x="0" y="22.5" font-size="31" font-weight="bold">a</text>
<text x="1308" y="22" font-size="31" font-weight="bold">b</text>
<text x="1" y="381" font-size="31" font-weight="bold">c</text>
<text x="1308" y="375.5" font-size="31" font-weight="bold">d</text>
<text x="0" y="742.5" font-size="31" font-weight="bold">e</text>
<text x="632" y="741.5" font-size="31" font-weight="bold">f</text>
<text x="1265" y="743.5" font-size="31" font-weight="bold">h</text>
<text x="632" y="1219" font-size="31" font-weight="bold">g</text>
<text x="1265" y="1218.5" font-size="31" font-weight="bold">i</text>
<text x="0" y="1672" font-size="31" font-weight="bold">j</text>
<text x="1323" y="1675.5" font-size="31" font-weight="bold">k</text>
<rect x="1403" y="31" width="390" height="257.7" fill="none" stroke="#000" stroke-width="2"/>
<line x1="1392" y1="288.7" x2="1403" y2="288.7" stroke="#000" stroke-width="2"/>
<text x="1387" y="298.1" font-size="26" text-anchor="end">0</text>
<line x1="1392" y1="202.8" x2="1403" y2="202.8" stroke="#000" stroke-width="2"/>
<text x="1387" y="212.2" font-size="26" text-anchor="end">2</text>
<line x1="1392" y1="116.9" x2="1403" y2="116.9" stroke="#000" stroke-width="2"/>
<text x="1387" y="126.3" font-size="26" text-anchor="end">4</text>
<line x1="1392" y1="31" x2="1403" y2="31" stroke="#000" stroke-width="2"/>
<text x="1387" y="40.4" font-size="26" text-anchor="end">6</text>
<line x1="1438.5" y1="279.7" x2="1438.5" y2="288.7" stroke="#000" stroke-width="2"/>
<text x="1438.5" y="318.5" font-size="26" text-anchor="middle">0</text>
<line x1="1509.4" y1="279.7" x2="1509.4" y2="288.7" stroke="#000" stroke-width="2"/>
<text x="1509.4" y="318.5" font-size="26" text-anchor="middle">20</text>
<line x1="1580.3" y1="279.7" x2="1580.3" y2="288.7" stroke="#000" stroke-width="2"/>
<text x="1580.3" y="318.5" font-size="26" text-anchor="middle">40</text>
<line x1="1651.2" y1="279.7" x2="1651.2" y2="288.7" stroke="#000" stroke-width="2"/>
<text x="1651.2" y="318.5" font-size="26" text-anchor="middle">60</text>
<line x1="1722.1" y1="279.7" x2="1722.1" y2="288.7" stroke="#000" stroke-width="2"/>
<text x="1722.1" y="318.5" font-size="26" text-anchor="middle">80</text>
<text x="1793" y="318.5" font-size="26" text-anchor="middle">100</text>
<text x="1611.5" y="346.5" font-size="28" text-anchor="middle">Time (s)</text>
<text x="1347" y="154.5" font-size="26" text-anchor="middle" transform="rotate(-90 1347 154.5)">Area (10<tspan font-size="16" dy="-10">3</tspan><tspan dy="10"> nm</tspan><tspan font-size="16" dy="-10">2</tspan><tspan dy="10">)</tspan></text>
<polyline points="1438.5,150.4 1477.5,147.8 1530.6,145.7 1576.7,142.7 1629.9,142.7 1683.1,142.7 1736.3,142.7" fill="none" stroke="#8a8a8a" stroke-width="1.6" stroke-linejoin="round"/>
<polyline points="1438.5,166.7 1477.5,165.9 1530.6,164.6 1576.7,161.6 1629.9,159 1683.1,158.1 1736.3,157.7" fill="none" stroke="#8a8a8a" stroke-width="1.6" stroke-linejoin="round"/>
<polyline points="1438.5,186 1477.5,182.2 1530.6,178.7 1576.7,176.6 1629.9,169.3 1683.1,167.6 1736.3,166.7" fill="none" stroke="#8a8a8a" stroke-width="1.6" stroke-linejoin="round"/>
<polyline points="1438.5,209.7 1477.5,207.5 1530.6,206.2 1576.7,203.7 1629.9,201.5 1683.1,197.2 1736.3,199.4" fill="none" stroke="#8a8a8a" stroke-width="1.6" stroke-linejoin="round"/>
<polyline points="1438.5,226 1477.5,225.1 1530.6,223.4 1576.7,221.7 1629.9,220 1683.1,219.6 1736.3,218.7" fill="none" stroke="#8a8a8a" stroke-width="1.6" stroke-linejoin="round"/>
<circle cx="1438.5" cy="150.4" r="5.3" fill="#fff" stroke="#3e1a0b" stroke-width="2.8"/>
<circle cx="1477.5" cy="147.8" r="5.3" fill="#fff" stroke="#3e1a0b" stroke-width="2.8"/>
<circle cx="1530.6" cy="145.7" r="5.3" fill="#fff" stroke="#3e1a0b" stroke-width="2.8"/>
<circle cx="1576.7" cy="142.7" r="5.3" fill="#fff" stroke="#3e1a0b" stroke-width="2.8"/>
<circle cx="1629.9" cy="142.7" r="5.3" fill="#fff" stroke="#3e1a0b" stroke-width="2.8"/>
<circle cx="1683.1" cy="142.7" r="5.3" fill="#fff" stroke="#3e1a0b" stroke-width="2.8"/>
<circle cx="1736.3" cy="142.7" r="5.3" fill="#fff" stroke="#3e1a0b" stroke-width="2.8"/>
<circle cx="1438.5" cy="166.7" r="5.3" fill="#fff" stroke="#5a2a14" stroke-width="2.8"/>
<circle cx="1477.5" cy="165.9" r="5.3" fill="#fff" stroke="#5a2a14" stroke-width="2.8"/>
<circle cx="1530.6" cy="164.6" r="5.3" fill="#fff" stroke="#5a2a14" stroke-width="2.8"/>
<circle cx="1576.7" cy="161.6" r="5.3" fill="#fff" stroke="#5a2a14" stroke-width="2.8"/>
<circle cx="1629.9" cy="159" r="5.3" fill="#fff" stroke="#5a2a14" stroke-width="2.8"/>
<circle cx="1683.1" cy="158.1" r="5.3" fill="#fff" stroke="#5a2a14" stroke-width="2.8"/>
<circle cx="1736.3" cy="157.7" r="5.3" fill="#fff" stroke="#5a2a14" stroke-width="2.8"/>
<circle cx="1438.5" cy="186" r="5.3" fill="#fff" stroke="#c0603c" stroke-width="2.8"/>
<circle cx="1477.5" cy="182.2" r="5.3" fill="#fff" stroke="#c0603c" stroke-width="2.8"/>
<circle cx="1530.6" cy="178.7" r="5.3" fill="#fff" stroke="#c0603c" stroke-width="2.8"/>
<circle cx="1576.7" cy="176.6" r="5.3" fill="#fff" stroke="#c0603c" stroke-width="2.8"/>
<circle cx="1629.9" cy="169.3" r="5.3" fill="#fff" stroke="#c0603c" stroke-width="2.8"/>
<circle cx="1683.1" cy="167.6" r="5.3" fill="#fff" stroke="#c0603c" stroke-width="2.8"/>
<circle cx="1736.3" cy="166.7" r="5.3" fill="#fff" stroke="#c0603c" stroke-width="2.8"/>
<circle cx="1438.5" cy="209.7" r="5.3" fill="#fff" stroke="#c07f34" stroke-width="2.8"/>
<circle cx="1477.5" cy="207.5" r="5.3" fill="#fff" stroke="#c07f34" stroke-width="2.8"/>
<circle cx="1530.6" cy="206.2" r="5.3" fill="#fff" stroke="#c07f34" stroke-width="2.8"/>
<circle cx="1576.7" cy="203.7" r="5.3" fill="#fff" stroke="#c07f34" stroke-width="2.8"/>
<circle cx="1629.9" cy="201.5" r="5.3" fill="#fff" stroke="#c07f34" stroke-width="2.8"/>
<circle cx="1683.1" cy="197.2" r="5.3" fill="#fff" stroke="#c07f34" stroke-width="2.8"/>
<circle cx="1736.3" cy="199.4" r="5.3" fill="#fff" stroke="#c07f34" stroke-width="2.8"/>
<circle cx="1438.5" cy="226" r="5.3" fill="#fff" stroke="#d8b45c" stroke-width="2.8"/>
<circle cx="1477.5" cy="225.1" r="5.3" fill="#fff" stroke="#d8b45c" stroke-width="2.8"/>
<circle cx="1530.6" cy="223.4" r="5.3" fill="#fff" stroke="#d8b45c" stroke-width="2.8"/>
<circle cx="1576.7" cy="221.7" r="5.3" fill="#fff" stroke="#d8b45c" stroke-width="2.8"/>
<circle cx="1629.9" cy="220" r="5.3" fill="#fff" stroke="#d8b45c" stroke-width="2.8"/>
<circle cx="1683.1" cy="219.6" r="5.3" fill="#fff" stroke="#d8b45c" stroke-width="2.8"/>
<circle cx="1736.3" cy="218.7" r="5.3" fill="#fff" stroke="#d8b45c" stroke-width="2.8"/>
<circle cx="1424.6" cy="50.8" r="5.3" fill="#fff" stroke="#3e1a0b" stroke-width="2.6"/>
<text x="1438.1" y="61.4" font-size="26">P1</text>
<circle cx="1424.6" cy="77.8" r="5.3" fill="#fff" stroke="#5a2a14" stroke-width="2.6"/>
<text x="1438.1" y="88.4" font-size="26">P2</text>
<circle cx="1424.6" cy="104.5" r="5.3" fill="#fff" stroke="#c0603c" stroke-width="2.6"/>
<text x="1438.1" y="115.1" font-size="26">P3</text>
<circle cx="1491" cy="50.8" r="5.3" fill="#fff" stroke="#c07f34" stroke-width="2.6"/>
<text x="1504.5" y="61.4" font-size="26">P4</text>
<circle cx="1491" cy="77.8" r="5.3" fill="#fff" stroke="#d8b45c" stroke-width="2.6"/>
<text x="1504.5" y="88.4" font-size="26">P5</text>
<polyline points="1706.2,387.4 1402,387.4 1402,660.3 1706.2,660.3" fill="none" stroke="#000" stroke-width="2" stroke-linejoin="round"/>
<line x1="1706.2" y1="386.4" x2="1706.2" y2="661.3" stroke="#1b3a6b" stroke-width="2"/>
<line x1="1391" y1="660.3" x2="1402" y2="660.3" stroke="#000" stroke-width="2"/>
<text x="1386" y="669.7" font-size="26" text-anchor="end">0</text>
<line x1="1391" y1="592.1" x2="1402" y2="592.1" stroke="#000" stroke-width="2"/>
<text x="1386" y="601.5" font-size="26" text-anchor="end">5</text>
<line x1="1391" y1="523.8" x2="1402" y2="523.8" stroke="#000" stroke-width="2"/>
<text x="1386" y="533.2" font-size="26" text-anchor="end">10</text>
<line x1="1391" y1="455.6" x2="1402" y2="455.6" stroke="#000" stroke-width="2"/>
<text x="1386" y="465" font-size="26" text-anchor="end">15</text>
<line x1="1391" y1="387.4" x2="1402" y2="387.4" stroke="#000" stroke-width="2"/>
<text x="1386" y="396.8" font-size="26" text-anchor="end">20</text>
<line x1="1706.2" y1="635.2" x2="1719.5" y2="635.2" stroke="#1b3a6b" stroke-width="2"/>
<text x="1722" y="644.6" font-size="26" fill="#1b3a6b">0</text>
<line x1="1706.2" y1="585.6" x2="1719.5" y2="585.6" stroke="#1b3a6b" stroke-width="2"/>
<text x="1722" y="595" font-size="26" fill="#1b3a6b">50</text>
<line x1="1706.2" y1="536.1" x2="1719.5" y2="536.1" stroke="#1b3a6b" stroke-width="2"/>
<text x="1722" y="545.5" font-size="26" fill="#1b3a6b">100</text>
<line x1="1706.2" y1="486.5" x2="1719.5" y2="486.5" stroke="#1b3a6b" stroke-width="2"/>
<text x="1722" y="495.9" font-size="26" fill="#1b3a6b">150</text>
<line x1="1706.2" y1="437" x2="1719.5" y2="437" stroke="#1b3a6b" stroke-width="2"/>
<text x="1722" y="446.4" font-size="26" fill="#1b3a6b">200</text>
<line x1="1706.2" y1="387.4" x2="1719.5" y2="387.4" stroke="#1b3a6b" stroke-width="2"/>
<text x="1722" y="396.8" font-size="26" fill="#1b3a6b">250</text>
<line x1="1432.4" y1="650.8" x2="1432.4" y2="660.3" stroke="#000" stroke-width="2"/>
<text x="1432.4" y="688.5" font-size="26" text-anchor="middle">0</text>
<line x1="1493.3" y1="650.8" x2="1493.3" y2="660.3" stroke="#000" stroke-width="2"/>
<text x="1493.3" y="688.5" font-size="26" text-anchor="middle">20</text>
<line x1="1554.1" y1="650.8" x2="1554.1" y2="660.3" stroke="#000" stroke-width="2"/>
<text x="1554.1" y="688.5" font-size="26" text-anchor="middle">40</text>
<line x1="1614.9" y1="650.8" x2="1614.9" y2="660.3" stroke="#000" stroke-width="2"/>
<text x="1614.9" y="688.5" font-size="26" text-anchor="middle">60</text>
<line x1="1675.8" y1="650.8" x2="1675.8" y2="660.3" stroke="#000" stroke-width="2"/>
<text x="1675.8" y="688.5" font-size="26" text-anchor="middle">80</text>
<text x="1553" y="714.5" font-size="28" text-anchor="middle">Time (s)</text>
<text x="1347" y="530" font-size="26" text-anchor="middle" transform="rotate(-90 1347 530)">Area (10<tspan font-size="16" dy="-10">3</tspan><tspan dy="10">nm</tspan><tspan font-size="16" dy="-10">2</tspan><tspan dy="10">)</tspan></text>
<text x="1781.5" y="508" font-size="26" text-anchor="middle" fill="#1b3a6b" transform="rotate(90 1781.5 508)">Δ Length (nm)</text>
<polyline points="1432.4,570.2 1487.2,536.8 1535.8,507.5 1581.5,478.8 1627.1,447.4 1672.7,418.1" fill="none" stroke="#9a9a9a" stroke-width="2" stroke-linejoin="round"/>
<polyline points="1432.4,635.2 1487.2,600.1 1535.8,580.2 1581.5,554.2 1627.1,535.2 1672.7,527.9" fill="none" stroke="#000" stroke-width="2" stroke-linejoin="round"/>
<polyline points="1432.4,635.2 1487.2,612.8 1535.8,604.5 1581.5,599.1 1627.1,594.1 1672.7,591.9" fill="none" stroke="#000" stroke-width="2" stroke-linejoin="round"/>
<circle cx="1432.4" cy="570.2" r="5.4" fill="#fff" stroke="#1b3a6b" stroke-width="2.8"/>
<circle cx="1487.2" cy="536.8" r="5.4" fill="#fff" stroke="#1b3a6b" stroke-width="2.8"/>
<circle cx="1535.8" cy="507.5" r="5.4" fill="#fff" stroke="#1b3a6b" stroke-width="2.8"/>
<circle cx="1581.5" cy="478.8" r="5.4" fill="#fff" stroke="#1b3a6b" stroke-width="2.8"/>
<circle cx="1627.1" cy="447.4" r="5.4" fill="#fff" stroke="#1b3a6b" stroke-width="2.8"/>
<circle cx="1672.7" cy="418.1" r="5.4" fill="#fff" stroke="#1b3a6b" stroke-width="2.8"/>
<circle cx="1487.2" cy="612.8" r="6" fill="#89a9d8"/>
<circle cx="1535.8" cy="604.5" r="6" fill="#89a9d8"/>
<circle cx="1581.5" cy="599.1" r="6" fill="#89a9d8"/>
<circle cx="1627.1" cy="594.1" r="6" fill="#89a9d8"/>
<circle cx="1672.7" cy="591.9" r="6" fill="#89a9d8"/>
<circle cx="1432.4" cy="635.2" r="6" fill="#26287a"/>
<circle cx="1487.2" cy="600.1" r="6" fill="#26287a"/>
<circle cx="1535.8" cy="580.2" r="6" fill="#26287a"/>
<circle cx="1581.5" cy="554.2" r="6" fill="#26287a"/>
<circle cx="1627.1" cy="535.2" r="6" fill="#26287a"/>
<circle cx="1672.7" cy="527.9" r="6" fill="#26287a"/>
<text x="1596" y="418" font-size="23" fill="#231f20">Area</text>
<text x="1592.5" y="514.5" font-size="22" fill="#26287a">Prismatic</text>
<text x="1628" y="579.5" font-size="22" fill="#89a9d8">Basal</text>
<line x1="1426" y1="529.8" x2="1456" y2="529.8" stroke="#000" stroke-width="1.6"/>
<path d="M1416,529.8 L1429,525 L1429,534.6 Z" fill="#000"/>
<line x1="1649" y1="544.7" x2="1681" y2="544.7" stroke="#26287a" stroke-width="2.2"/>
<path d="M1691,544.7 L1677,538.5 L1677,550.9 Z" fill="#26287a"/>
<line x1="1647" y1="608.3" x2="1679" y2="608.3" stroke="#89a9d8" stroke-width="2.2"/>
<path d="M1689,608.3 L1675,602.1 L1675,614.5 Z" fill="#89a9d8"/>
<rect x="105.3" y="746.5" width="450.4" height="851.2" fill="none" stroke="#000" stroke-width="2"/>
<line x1="94.3" y1="1589" x2="105.3" y2="1589" stroke="#000" stroke-width="2"/>
<text x="88" y="1596.9" font-size="22" text-anchor="end">0</text>
<line x1="94.3" y1="1420.5" x2="105.3" y2="1420.5" stroke="#000" stroke-width="2"/>
<text x="88" y="1428.4" font-size="22" text-anchor="end">20</text>
<line x1="94.3" y1="1252" x2="105.3" y2="1252" stroke="#000" stroke-width="2"/>
<text x="88" y="1259.9" font-size="22" text-anchor="end">40</text>
<line x1="94.3" y1="1083.5" x2="105.3" y2="1083.5" stroke="#000" stroke-width="2"/>
<text x="88" y="1091.4" font-size="22" text-anchor="end">60</text>
<line x1="94.3" y1="915" x2="105.3" y2="915" stroke="#000" stroke-width="2"/>
<text x="88" y="922.9" font-size="22" text-anchor="end">80</text>
<line x1="94.3" y1="746.5" x2="105.3" y2="746.5" stroke="#000" stroke-width="2"/>
<text x="88" y="754.4" font-size="22" text-anchor="end">100</text>
<line x1="129" y1="1586.7" x2="129" y2="1597.7" stroke="#000" stroke-width="2"/>
<text x="129" y="1622" font-size="23" text-anchor="middle">0</text>
<line x1="223.8" y1="1586.7" x2="223.8" y2="1597.7" stroke="#000" stroke-width="2"/>
<text x="223.8" y="1622" font-size="23" text-anchor="middle">20</text>
<line x1="318.6" y1="1586.7" x2="318.6" y2="1597.7" stroke="#000" stroke-width="2"/>
<text x="318.6" y="1622" font-size="23" text-anchor="middle">40</text>
<line x1="413.5" y1="1586.7" x2="413.5" y2="1597.7" stroke="#000" stroke-width="2"/>
<text x="413.5" y="1622" font-size="23" text-anchor="middle">60</text>
<line x1="508.3" y1="1586.7" x2="508.3" y2="1597.7" stroke="#000" stroke-width="2"/>
<text x="508.3" y="1622" font-size="23" text-anchor="middle">80</text>
<text x="317" y="1655.5" font-size="28" text-anchor="middle">Time (s)</text>
<text x="38" y="1168" font-size="27" text-anchor="middle" transform="rotate(-90 38 1168)">Area (10<tspan font-size="16" dy="-10">3</tspan><tspan dy="10"> nm</tspan><tspan font-size="16" dy="-10">2</tspan><tspan dy="10">)</tspan></text>
<polyline points="129,1576.4 181.2,1574.8 252.3,1572.5 313.9,1570 385,1566.5 456.1,1564.3 527.3,1560.9" fill="none" stroke="#b3b3b3" stroke-width="1.3" stroke-linejoin="round"/>
<polyline points="129,1576.4 181.2,1578.1 252.3,1577.4 313.9,1574 385,1572.3 456.1,1569 527.3,1570.5" fill="none" stroke="#b3b3b3" stroke-width="1.3" stroke-linejoin="round"/>
<polyline points="129,1576.3 181.2,1575.7 252.3,1576.3 313.9,1575.2 385,1574 456.1,1576 527.3,1576.8" fill="none" stroke="#b3b3b3" stroke-width="1.3" stroke-linejoin="round"/>
<polyline points="129,1576.3 181.2,1576.7 252.3,1573.4 313.9,1571 385,1572.2 456.1,1569.6 527.3,1570.9" fill="none" stroke="#b3b3b3" stroke-width="1.3" stroke-linejoin="round"/>
<polyline points="129,1576.2 181.2,1574.7 252.3,1576 313.9,1578.1 385,1575 456.1,1575.9 527.3,1576.7" fill="none" stroke="#b3b3b3" stroke-width="1.3" stroke-linejoin="round"/>
<polyline points="129,1576.1 181.2,1572.4 252.3,1569.4 313.9,1569.8 385,1566.2 456.1,1565.1 527.3,1563.2" fill="none" stroke="#b3b3b3" stroke-width="1.3" stroke-linejoin="round"/>
<polyline points="129,1576 181.2,1576.9 252.3,1573.4 313.9,1571.5 385,1567.9 456.1,1564.7 527.3,1565" fill="none" stroke="#b3b3b3" stroke-width="1.3" stroke-linejoin="round"/>
<polyline points="129,1575.8 181.2,1575.8 252.3,1576.9 313.9,1578.1 385,1578.1 456.1,1578.1 527.3,1576.6" fill="none" stroke="#b3b3b3" stroke-width="1.3" stroke-linejoin="round"/>
<polyline points="129,1575.6 181.2,1577.7 252.3,1575.8 313.9,1575.9 385,1576.2 456.1,1573.5 527.3,1572.8" fill="none" stroke="#b3b3b3" stroke-width="1.3" stroke-linejoin="round"/>
<polyline points="129,1575.4 181.2,1575.7 252.3,1574.9 313.9,1572.9 385,1574.7 456.1,1571 527.3,1573" fill="none" stroke="#b3b3b3" stroke-width="1.3" stroke-linejoin="round"/>
<polyline points="129,1575.2 181.2,1572.9 252.3,1570 313.9,1572 385,1569.5 456.1,1569.4 527.3,1568.1" fill="none" stroke="#b3b3b3" stroke-width="1.3" stroke-linejoin="round"/>
<polyline points="129,1575 181.2,1577 252.3,1578.1 313.9,1578.1 385,1574.5 456.1,1575.5 527.3,1573.1" fill="none" stroke="#b3b3b3" stroke-width="1.3" stroke-linejoin="round"/>
<polyline points="129,1574.7 181.2,1571.3 252.3,1567.9 313.9,1567.9 385,1568 456.1,1567 527.3,1564.5" fill="none" stroke="#b3b3b3" stroke-width="1.3" stroke-linejoin="round"/>
<polyline points="129,1574.4 181.2,1575.9 252.3,1573.6 313.9,1571 385,1568 456.1,1569.9 527.3,1566.4" fill="none" stroke="#b3b3b3" stroke-width="1.3" stroke-linejoin="round"/>
<polyline points="129,1574.1 181.2,1575.7 252.3,1575.8 313.9,1574.3 385,1571 456.1,1571.1 527.3,1567.7" fill="none" stroke="#b3b3b3" stroke-width="1.3" stroke-linejoin="round"/>
<polyline points="129,1573.8 181.2,1572.6 252.3,1572.9 313.9,1573.1 385,1574.2 456.1,1575.8 527.3,1577.1" fill="none" stroke="#b3b3b3" stroke-width="1.3" stroke-linejoin="round"/>
<polyline points="129,1573.4 181.2,1571.4 252.3,1567.7 313.9,1568.8 385,1570.6 456.1,1566.9 527.3,1565.9" fill="none" stroke="#b3b3b3" stroke-width="1.3" stroke-linejoin="round"/>
<polyline points="129,1573 181.2,1572.7 252.3,1573.4 313.9,1572 385,1569.3 456.1,1568.7 527.3,1568.3" fill="none" stroke="#b3b3b3" stroke-width="1.3" stroke-linejoin="round"/>
<polyline points="129,1572.6 181.2,1574.4 252.3,1571.1 313.9,1573 385,1572.2 456.1,1569.3 527.3,1570.7" fill="none" stroke="#b3b3b3" stroke-width="1.3" stroke-linejoin="round"/>
<polyline points="129,1572.2 181.2,1570 252.3,1566.5 313.9,1564.8 385,1562.3 456.1,1563.8 527.3,1563.3" fill="none" stroke="#b3b3b3" stroke-width="1.3" stroke-linejoin="round"/>
<polyline points="129,1571.7 181.2,1572.9 252.3,1570.1 313.9,1570.4 385,1569.9 456.1,1566.1 527.3,1563.1" fill="none" stroke="#b3b3b3" stroke-width="1.3" stroke-linejoin="round"/>
<polyline points="129,1571.2 181.2,1567.6 252.3,1567 313.9,1566.2 385,1564 456.1,1563.3 527.3,1563.7" fill="none" stroke="#b3b3b3" stroke-width="1.3" stroke-linejoin="round"/>
<polyline points="129,1570.7 181.2,1570.4 252.3,1571.7 313.9,1571.6 385,1567.8 456.1,1564.3 527.3,1562.7" fill="none" stroke="#b3b3b3" stroke-width="1.3" stroke-linejoin="round"/>
<polyline points="129,1570.2 181.2,1569.4 252.3,1569.5 313.9,1571 385,1571.5 456.1,1569 527.3,1566" fill="none" stroke="#b3b3b3" stroke-width="1.3" stroke-linejoin="round"/>
<polyline points="129,1569.6 181.2,1569.6 252.3,1567.1 313.9,1564.6 385,1562.6 456.1,1560.8 527.3,1558.5" fill="none" stroke="#b3b3b3" stroke-width="1.3" stroke-linejoin="round"/>
<polyline points="129,1569.1 181.2,1569 252.3,1567 313.9,1567.4 385,1566.7 456.1,1564.2 527.3,1562.3" fill="none" stroke="#b3b3b3" stroke-width="1.3" stroke-linejoin="round"/>
<polyline points="129,1568.5 181.2,1568.8 252.3,1565.4 313.9,1563.7 385,1562.3 456.1,1564.4 527.3,1563.3" fill="none" stroke="#b3b3b3" stroke-width="1.3" stroke-linejoin="round"/>
<polyline points="129,1567.9 181.2,1568.5 252.3,1566.6 313.9,1566 385,1563.3 456.1,1561.6 527.3,1559" fill="none" stroke="#b3b3b3" stroke-width="1.3" stroke-linejoin="round"/>
<polyline points="129,1567.2 181.2,1567.3 252.3,1565.6 313.9,1563.3 385,1560.5 456.1,1560.6 527.3,1557.7" fill="none" stroke="#b3b3b3" stroke-width="1.3" stroke-linejoin="round"/>
<polyline points="129,1566.5 181.2,1563.5 252.3,1561.6 313.9,1557.9 385,1554.4 456.1,1553.4 527.3,1552.4" fill="none" stroke="#b3b3b3" stroke-width="1.3" stroke-linejoin="round"/>
<polyline points="129,1565.9 181.2,1567 252.3,1564.2 313.9,1560.7 385,1560 456.1,1558 527.3,1555.9" fill="none" stroke="#b3b3b3" stroke-width="1.3" stroke-linejoin="round"/>
<polyline points="129,1565.1 181.2,1562.9 252.3,1564 313.9,1561.5 385,1560.2 456.1,1558.4 527.3,1558" fill="none" stroke="#b3b3b3" stroke-width="1.3" stroke-linejoin="round"/>
<polyline points="129,1564.4 181.2,1562.8 252.3,1560.4 313.9,1558.7 385,1556.6 456.1,1558.5 527.3,1559.7" fill="none" stroke="#b3b3b3" stroke-width="1.3" stroke-linejoin="round"/>
<polyline points="129,1563.6 181.2,1563.1 252.3,1561.4 313.9,1562.2 385,1560.3 456.1,1558.7 527.3,1560.5" fill="none" stroke="#b3b3b3" stroke-width="1.3" stroke-linejoin="round"/>
<polyline points="129,1562.9 181.2,1562.2 252.3,1563 313.9,1564.7 385,1566.1 456.1,1566.3 527.3,1567.3" fill="none" stroke="#b3b3b3" stroke-width="1.3" stroke-linejoin="round"/>
<polyline points="129,1562 181.2,1563 252.3,1564.9 313.9,1564.3 385,1564.1 456.1,1562.6 527.3,1561.3" fill="none" stroke="#b3b3b3" stroke-width="1.3" stroke-linejoin="round"/>
<polyline points="129,1561.2 181.2,1561.9 252.3,1558.7 313.9,1560.8 385,1560.5 456.1,1561 527.3,1560.7" fill="none" stroke="#b3b3b3" stroke-width="1.3" stroke-linejoin="round"/>
<polyline points="129,1560.4 181.2,1561.8 252.3,1559 313.9,1558.9 385,1560.8 456.1,1559.3 527.3,1560.8" fill="none" stroke="#b3b3b3" stroke-width="1.3" stroke-linejoin="round"/>
<polyline points="129,1559.5 181.2,1558.4 252.3,1558.5 313.9,1557.2 385,1553.6 456.1,1550.9 527.3,1550.5" fill="none" stroke="#b3b3b3" stroke-width="1.3" stroke-linejoin="round"/>
<polyline points="129,1558.6 181.2,1555.9 252.3,1554.2 313.9,1554.1 385,1555.4 456.1,1554 527.3,1552.8" fill="none" stroke="#b3b3b3" stroke-width="1.3" stroke-linejoin="round"/>
<polyline points="129,1557.7 181.2,1554.1 252.3,1550.5 313.9,1549 385,1549.1 456.1,1545.9 527.3,1548" fill="none" stroke="#b3b3b3" stroke-width="1.3" stroke-linejoin="round"/>
<polyline points="129,1556.7 181.2,1558.2 252.3,1557 313.9,1555.4 385,1556.7 456.1,1555.1 527.3,1552" fill="none" stroke="#b3b3b3" stroke-width="1.3" stroke-linejoin="round"/>
<polyline points="129,1555.7 181.2,1555.6 252.3,1555.2 313.9,1556 385,1556.4 456.1,1552.7 527.3,1552.6" fill="none" stroke="#b3b3b3" stroke-width="1.3" stroke-linejoin="round"/>
<polyline points="129,1554.7 181.2,1551.2 252.3,1547.9 313.9,1546.5 385,1547.1 456.1,1543.4 527.3,1542.6" fill="none" stroke="#b3b3b3" stroke-width="1.3" stroke-linejoin="round"/>
<polyline points="129,1553.7 181.2,1553.4 252.3,1553.6 313.9,1549.9 385,1549.1 456.1,1549.5 527.3,1548.8" fill="none" stroke="#b3b3b3" stroke-width="1.3" stroke-linejoin="round"/>
<polyline points="129,1552.7 181.2,1554.1 252.3,1552.5 313.9,1552 385,1552.4 456.1,1549.9 527.3,1547.1" fill="none" stroke="#b3b3b3" stroke-width="1.3" stroke-linejoin="round"/>
<polyline points="129,1551.6 181.2,1553.7 252.3,1552.6 313.9,1553.1 385,1549.7 456.1,1547.2 527.3,1547.9" fill="none" stroke="#b3b3b3" stroke-width="1.3" stroke-linejoin="round"/>
<polyline points="129,1550.5 181.2,1551.1 252.3,1552.3 313.9,1548.5 385,1548.9 456.1,1547.4 527.3,1546.7" fill="none" stroke="#b3b3b3" stroke-width="1.3" stroke-linejoin="round"/>
<polyline points="129,1549.4 181.2,1547.7 252.3,1546.3 313.9,1544 385,1545.4 456.1,1543 527.3,1543.4" fill="none" stroke="#b3b3b3" stroke-width="1.3" stroke-linejoin="round"/>
<polyline points="129,1548.3 181.2,1547.2 252.3,1547.4 313.9,1547.7 385,1546.7 456.1,1546.1 527.3,1546.1" fill="none" stroke="#b3b3b3" stroke-width="1.3" stroke-linejoin="round"/>
<polyline points="129,1547.1 181.2,1544.8 252.3,1543.5 313.9,1545.4 385,1546 456.1,1545.4 527.3,1542.1" fill="none" stroke="#b3b3b3" stroke-width="1.3" stroke-linejoin="round"/>
<polyline points="129,1545.9 181.2,1542.8 252.3,1541.7 313.9,1543.7 385,1541.2 456.1,1540.8 527.3,1539.5" fill="none" stroke="#b3b3b3" stroke-width="1.3" stroke-linejoin="round"/>
<polyline points="129,1544.7 181.2,1542.7 252.3,1541.1 313.9,1540.3 385,1537 456.1,1536.9 527.3,1536.7" fill="none" stroke="#b3b3b3" stroke-width="1.3" stroke-linejoin="round"/>
<polyline points="129,1543.5 181.2,1540.6 252.3,1541.5 313.9,1541.9 385,1539.1 456.1,1540.8 527.3,1538" fill="none" stroke="#b3b3b3" stroke-width="1.3" stroke-linejoin="round"/>
<polyline points="129,1542.3 181.2,1540.3 252.3,1539.8 313.9,1540.2 385,1537.7 456.1,1534.5 527.3,1535.7" fill="none" stroke="#b3b3b3" stroke-width="1.3" stroke-linejoin="round"/>
<polyline points="129,1541 181.2,1540.3 252.3,1539.1 313.9,1538.3 385,1538.5 456.1,1539.7 527.3,1538.3" fill="none" stroke="#b3b3b3" stroke-width="1.3" stroke-linejoin="round"/>
<polyline points="129,1539.7 181.2,1537 252.3,1538.7 313.9,1539.5 385,1536.7 456.1,1534.2 527.3,1532.4" fill="none" stroke="#b3b3b3" stroke-width="1.3" stroke-linejoin="round"/>
<polyline points="129,1538.4 181.2,1540.3 252.3,1538.2 313.9,1534.5 385,1530.7 456.1,1528.7 527.3,1530.5" fill="none" stroke="#b3b3b3" stroke-width="1.3" stroke-linejoin="round"/>
<polyline points="129,1537 181.2,1534.2 252.3,1535 313.9,1533.3 385,1529.8 456.1,1527.7 527.3,1529" fill="none" stroke="#b3b3b3" stroke-width="1.3" stroke-linejoin="round"/>
<polyline points="129,1535.7 181.2,1536 252.3,1532.7 313.9,1533.9 385,1532.5 456.1,1532.1 527.3,1533.3" fill="none" stroke="#b3b3b3" stroke-width="1.3" stroke-linejoin="round"/>
<polyline points="129,1538.5 181.2,1541.8 252.3,1531.7 313.9,1525.8 385,1525.8 456.1,1524.1 527.3,1508.1" fill="none" stroke="#b3b3b3" stroke-width="1.3" stroke-linejoin="round"/>
<polyline points="129,1551.1 181.2,1544.4 252.3,1541.8 313.9,1521.6 385,1520.8 456.1,1521.6 527.3,1515.7" fill="none" stroke="#b3b3b3" stroke-width="1.3" stroke-linejoin="round"/>
<polyline points="129,1542.7 181.2,1548.6 252.3,1546.9 313.9,1540.2 385,1534.3 456.1,1530 527.3,1525" fill="none" stroke="#b3b3b3" stroke-width="1.3" stroke-linejoin="round"/>
<polyline points="129,972.3 181.2,912.5 252.3,877.1 313.9,926.8 385,940.3 456.1,969.8 527.3,1034.6" fill="none" stroke="#bdbdbd" stroke-width="1.8" stroke-linejoin="round"/>
<polyline points="129,1069.2 181.2,1033 252.3,934.4 313.9,890.6 385,866.1 456.1,840.9 527.3,881.3" fill="none" stroke="#bdbdbd" stroke-width="1.8" stroke-linejoin="round"/>
<polyline points="129,1151.8 181.2,1079.3 252.3,1070.9 313.9,1074.2 385,1062.4 456.1,1028.7 527.3,984.1" fill="none" stroke="#bdbdbd" stroke-width="1.8" stroke-linejoin="round"/>
<polyline points="129,1181.2 181.2,1133.2 252.3,1062.4 313.9,1036.3 385,991.7 456.1,948.7 527.3,919.2" fill="none" stroke="#bdbdbd" stroke-width="1.8" stroke-linejoin="round"/>
<polyline points="129,1283.2 181.2,1220.8 252.3,1185.5 313.9,1173.7 385,1141.6 456.1,1134.9 527.3,1118.1" fill="none" stroke="#bdbdbd" stroke-width="1.8" stroke-linejoin="round"/>
<polyline points="129,1290.8 181.2,1256.2 252.3,1210.7 313.9,1195.6 385,1181.2 456.1,1160.2 527.3,1131.5" fill="none" stroke="#bdbdbd" stroke-width="1.8" stroke-linejoin="round"/>
<polyline points="129,1348.1 181.2,1325.3 252.3,1289.9 313.9,1267.2 385,1222.5 456.1,1150.1 527.3,1102" fill="none" stroke="#bdbdbd" stroke-width="1.8" stroke-linejoin="round"/>
<polyline points="129,1352.3 181.2,1325.3 252.3,1300.9 313.9,1277.3 385,1275.6 456.1,1294.1 527.3,1310.1" fill="none" stroke="#bdbdbd" stroke-width="1.8" stroke-linejoin="round"/>
<polyline points="129,1443.3 181.2,1430.6 252.3,1399.5 313.9,1373.3 385,1365.8 456.1,1331.2 527.3,1314.4" fill="none" stroke="#bdbdbd" stroke-width="1.8" stroke-linejoin="round"/>
<polyline points="129,1451.7 181.2,1434 252.3,1417.1 313.9,1386 385,1371.7 456.1,1353.1 527.3,1325.3" fill="none" stroke="#bdbdbd" stroke-width="1.8" stroke-linejoin="round"/>
<polyline points="129,1460.1 181.2,1434 252.3,1435.7 313.9,1411.2 385,1393.6 456.1,1372.5 527.3,1348.9" fill="none" stroke="#bdbdbd" stroke-width="1.8" stroke-linejoin="round"/>
<polyline points="129,1485.4 181.2,1480.3 252.3,1466 313.9,1428.1 385,1418.8 456.1,1413.8 527.3,1411.2" fill="none" stroke="#bdbdbd" stroke-width="1.8" stroke-linejoin="round"/>
<polyline points="129,1509 181.2,1485.4 252.3,1469.4 313.9,1435.7 385,1427.3 456.1,1422.2 527.3,1379.2" fill="none" stroke="#bdbdbd" stroke-width="1.8" stroke-linejoin="round"/>
<polyline points="129,1511.5 181.2,1503.9 252.3,1498 313.9,1450.8 385,1448.3 456.1,1446.6 527.3,1448.3" fill="none" stroke="#bdbdbd" stroke-width="1.8" stroke-linejoin="round"/>
<polyline points="129,1517.4 181.2,1521.6 252.3,1435.7 313.9,1438.2 385,1448.3 456.1,1446.6 527.3,1427.3" fill="none" stroke="#bdbdbd" stroke-width="1.8" stroke-linejoin="round"/>
<polyline points="129,1532.6 181.2,1530.9 252.3,1504.8 313.9,1486.2 385,1473.6 456.1,1463.5 527.3,1464.3" fill="none" stroke="#bdbdbd" stroke-width="1.8" stroke-linejoin="round"/>
<polyline points="129,1534.3 181.2,1521.6 252.3,1515.7 313.9,1498.9 385,1477.8 456.1,1475.3 527.3,1475.3" fill="none" stroke="#bdbdbd" stroke-width="1.8" stroke-linejoin="round"/>
<polyline points="129,1536.8 181.2,1530.9 252.3,1519.9 313.9,1505.6 385,1490.4 456.1,1480.3 527.3,1477.8" fill="none" stroke="#bdbdbd" stroke-width="1.8" stroke-linejoin="round"/>
<polyline points="129,1538.5 181.2,1534.3 252.3,1521.6 313.9,1505.6 385,1493.8 456.1,1487.1 527.3,1477.8" fill="none" stroke="#bdbdbd" stroke-width="1.8" stroke-linejoin="round"/>
<circle cx="129" cy="1576.4" r="5.6" fill="#fff" stroke="#c87d3e" stroke-width="2.8"/>
<circle cx="181.2" cy="1574.8" r="5.6" fill="#fff" stroke="#c87d3e" stroke-width="2.8"/>
<circle cx="252.3" cy="1572.5" r="5.6" fill="#fff" stroke="#c87d3e" stroke-width="2.8"/>
<circle cx="313.9" cy="1570" r="5.6" fill="#fff" stroke="#c87d3e" stroke-width="2.8"/>
<circle cx="385" cy="1566.5" r="5.6" fill="#fff" stroke="#c87d3e" stroke-width="2.8"/>
<circle cx="456.1" cy="1564.3" r="5.6" fill="#fff" stroke="#c87d3e" stroke-width="2.8"/>
<circle cx="527.3" cy="1560.9" r="5.6" fill="#fff" stroke="#c87d3e" stroke-width="2.8"/>
<circle cx="129" cy="1576.4" r="5.6" fill="#fff" stroke="#c87d3e" stroke-width="2.8"/>
<circle cx="181.2" cy="1578.1" r="5.6" fill="#fff" stroke="#c87d3e" stroke-width="2.8"/>
<circle cx="252.3" cy="1577.4" r="5.6" fill="#fff" stroke="#c87d3e" stroke-width="2.8"/>
<circle cx="313.9" cy="1574" r="5.6" fill="#fff" stroke="#c87d3e" stroke-width="2.8"/>
<circle cx="385" cy="1572.3" r="5.6" fill="#fff" stroke="#c87d3e" stroke-width="2.8"/>
<circle cx="456.1" cy="1569" r="5.6" fill="#fff" stroke="#c87d3e" stroke-width="2.8"/>
<circle cx="527.3" cy="1570.5" r="5.6" fill="#fff" stroke="#c87d3e" stroke-width="2.8"/>
<circle cx="129" cy="1576.3" r="5.6" fill="#fff" stroke="#c87d3e" stroke-width="2.8"/>
<circle cx="181.2" cy="1575.7" r="5.6" fill="#fff" stroke="#c87d3e" stroke-width="2.8"/>
<circle cx="252.3" cy="1576.3" r="5.6" fill="#fff" stroke="#c87d3e" stroke-width="2.8"/>
<circle cx="313.9" cy="1575.2" r="5.6" fill="#fff" stroke="#c87d3e" stroke-width="2.8"/>
<circle cx="385" cy="1574" r="5.6" fill="#fff" stroke="#c87d3e" stroke-width="2.8"/>
<circle cx="456.1" cy="1576" r="5.6" fill="#fff" stroke="#c87d3e" stroke-width="2.8"/>
<circle cx="527.3" cy="1576.8" r="5.6" fill="#fff" stroke="#c87d3e" stroke-width="2.8"/>
<circle cx="129" cy="1576.3" r="5.6" fill="#fff" stroke="#c87d3e" stroke-width="2.8"/>
<circle cx="181.2" cy="1576.7" r="5.6" fill="#fff" stroke="#c87d3e" stroke-width="2.8"/>
<circle cx="252.3" cy="1573.4" r="5.6" fill="#fff" stroke="#c87d3e" stroke-width="2.8"/>
<circle cx="313.9" cy="1571" r="5.6" fill="#fff" stroke="#c87d3e" stroke-width="2.8"/>
<circle cx="385" cy="1572.2" r="5.6" fill="#fff" stroke="#c87d3e" stroke-width="2.8"/>
<circle cx="456.1" cy="1569.6" r="5.6" fill="#fff" stroke="#c87d3e" stroke-width="2.8"/>
<circle cx="527.3" cy="1570.9" r="5.6" fill="#fff" stroke="#c87d3e" stroke-width="2.8"/>
<circle cx="129" cy="1576.2" r="5.6" fill="#fff" stroke="#c87d3e" stroke-width="2.8"/>
<circle cx="181.2" cy="1574.7" r="5.6" fill="#fff" stroke="#c87d3e" stroke-width="2.8"/>
<circle cx="252.3" cy="1576" r="5.6" fill="#fff" stroke="#c87d3e" stroke-width="2.8"/>
<circle cx="313.9" cy="1578.1" r="5.6" fill="#fff" stroke="#c87d3e" stroke-width="2.8"/>
<circle cx="385" cy="1575" r="5.6" fill="#fff" stroke="#c87d3e" stroke-width="2.8"/>
<circle cx="456.1" cy="1575.9" r="5.6" fill="#fff" stroke="#c87d3e" stroke-width="2.8"/>
<circle cx="527.3" cy="1576.7" r="5.6" fill="#fff" stroke="#c87d3e" stroke-width="2.8"/>
<circle cx="129" cy="1576.1" r="5.6" fill="#fff" stroke="#c87d3e" stroke-width="2.8"/>
<circle cx="181.2" cy="1572.4" r="5.6" fill="#fff" stroke="#c87d3e" stroke-width="2.8"/>
<circle cx="252.3" cy="1569.4" r="5.6" fill="#fff" stroke="#c87d3e" stroke-width="2.8"/>
<circle cx="313.9" cy="1569.8" r="5.6" fill="#fff" stroke="#c87d3e" stroke-width="2.8"/>
<circle cx="385" cy="1566.2" r="5.6" fill="#fff" stroke="#c87d3e" stroke-width="2.8"/>
<circle cx="456.1" cy="1565.1" r="5.6" fill="#fff" stroke="#c87d3e" stroke-width="2.8"/>
<circle cx="527.3" cy="1563.2" r="5.6" fill="#fff" stroke="#c87d3e" stroke-width="2.8"/>
<circle cx="129" cy="1576" r="5.6" fill="#fff" stroke="#c87d3e" stroke-width="2.8"/>
<circle cx="181.2" cy="1576.9" r="5.6" fill="#fff" stroke="#c87d3e" stroke-width="2.8"/>
<circle cx="252.3" cy="1573.4" r="5.6" fill="#fff" stroke="#c87d3e" stroke-width="2.8"/>
<circle cx="313.9" cy="1571.5" r="5.6" fill="#fff" stroke="#c87d3e" stroke-width="2.8"/>
<circle cx="385" cy="1567.9" r="5.6" fill="#fff" stroke="#c87d3e" stroke-width="2.8"/>
<circle cx="456.1" cy="1564.7" r="5.6" fill="#fff" stroke="#c87d3e" stroke-width="2.8"/>
<circle cx="527.3" cy="1565" r="5.6" fill="#fff" stroke="#c87d3e" stroke-width="2.8"/>
<circle cx="129" cy="1575.8" r="5.6" fill="#fff" stroke="#c87d3e" stroke-width="2.8"/>
<circle cx="181.2" cy="1575.8" r="5.6" fill="#fff" stroke="#c87d3e" stroke-width="2.8"/>
<circle cx="252.3" cy="1576.9" r="5.6" fill="#fff" stroke="#c87d3e" stroke-width="2.8"/>
<circle cx="313.9" cy="1578.1" r="5.6" fill="#fff" stroke="#c87d3e" stroke-width="2.8"/>
<circle cx="385" cy="1578.1" r="5.6" fill="#fff" stroke="#c87d3e" stroke-width="2.8"/>
<circle cx="456.1" cy="1578.1" r="5.6" fill="#fff" stroke="#c87d3e" stroke-width="2.8"/>
<circle cx="527.3" cy="1576.6" r="5.6" fill="#fff" stroke="#c87d3e" stroke-width="2.8"/>
<circle cx="129" cy="1575.6" r="5.6" fill="#fff" stroke="#c87d3e" stroke-width="2.8"/>
<circle cx="181.2" cy="1577.7" r="5.6" fill="#fff" stroke="#c87d3e" stroke-width="2.8"/>
<circle cx="252.3" cy="1575.8" r="5.6" fill="#fff" stroke="#c87d3e" stroke-width="2.8"/>
<circle cx="313.9" cy="1575.9" r="5.6" fill="#fff" stroke="#c87d3e" stroke-width="2.8"/>
<circle cx="385" cy="1576.2" r="5.6" fill="#fff" stroke="#c87d3e" stroke-width="2.8"/>
<circle cx="456.1" cy="1573.5" r="5.6" fill="#fff" stroke="#c87d3e" stroke-width="2.8"/>
<circle cx="527.3" cy="1572.8" r="5.6" fill="#fff" stroke="#c87d3e" stroke-width="2.8"/>
<circle cx="129" cy="1575.4" r="5.6" fill="#fff" stroke="#c87d3e" stroke-width="2.8"/>
<circle cx="181.2" cy="1575.7" r="5.6" fill="#fff" stroke="#c87d3e" stroke-width="2.8"/>
<circle cx="252.3" cy="1574.9" r="5.6" fill="#fff" stroke="#c87d3e" stroke-width="2.8"/>
<circle cx="313.9" cy="1572.9" r="5.6" fill="#fff" stroke="#c87d3e" stroke-width="2.8"/>
<circle cx="385" cy="1574.7" r="5.6" fill="#fff" stroke="#c87d3e" stroke-width="2.8"/>
<circle cx="456.1" cy="1571" r="5.6" fill="#fff" stroke="#c87d3e" stroke-width="2.8"/>
<circle cx="527.3" cy="1573" r="5.6" fill="#fff" stroke="#c87d3e" stroke-width="2.8"/>
<circle cx="129" cy="1575.2" r="5.6" fill="#fff" stroke="#c87d3e" stroke-width="2.8"/>
<circle cx="181.2" cy="1572.9" r="5.6" fill="#fff" stroke="#c87d3e" stroke-width="2.8"/>
<circle cx="252.3" cy="1570" r="5.6" fill="#fff" stroke="#c87d3e" stroke-width="2.8"/>
<circle cx="313.9" cy="1572" r="5.6" fill="#fff" stroke="#c87d3e" stroke-width="2.8"/>
<circle cx="385" cy="1569.5" r="5.6" fill="#fff" stroke="#c87d3e" stroke-width="2.8"/>
<circle cx="456.1" cy="1569.4" r="5.6" fill="#fff" stroke="#c87d3e" stroke-width="2.8"/>
<circle cx="527.3" cy="1568.1" r="5.6" fill="#fff" stroke="#c87d3e" stroke-width="2.8"/>
<circle cx="129" cy="1575" r="5.6" fill="#fff" stroke="#c87d3e" stroke-width="2.8"/>
<circle cx="181.2" cy="1577" r="5.6" fill="#fff" stroke="#c87d3e" stroke-width="2.8"/>
<circle cx="252.3" cy="1578.1" r="5.6" fill="#fff" stroke="#c87d3e" stroke-width="2.8"/>
<circle cx="313.9" cy="1578.1" r="5.6" fill="#fff" stroke="#c87d3e" stroke-width="2.8"/>
<circle cx="385" cy="1574.5" r="5.6" fill="#fff" stroke="#c87d3e" stroke-width="2.8"/>
<circle cx="456.1" cy="1575.5" r="5.6" fill="#fff" stroke="#c87d3e" stroke-width="2.8"/>
<circle cx="527.3" cy="1573.1" r="5.6" fill="#fff" stroke="#c87d3e" stroke-width="2.8"/>
<circle cx="129" cy="1574.7" r="5.6" fill="#fff" stroke="#c87d3e" stroke-width="2.8"/>
<circle cx="181.2" cy="1571.3" r="5.6" fill="#fff" stroke="#c87d3e" stroke-width="2.8"/>
<circle cx="252.3" cy="1567.9" r="5.6" fill="#fff" stroke="#c87d3e" stroke-width="2.8"/>
<circle cx="313.9" cy="1567.9" r="5.6" fill="#fff" stroke="#c87d3e" stroke-width="2.8"/>
<circle cx="385" cy="1568" r="5.6" fill="#fff" stroke="#c87d3e" stroke-width="2.8"/>
<circle cx="456.1" cy="1567" r="5.6" fill="#fff" stroke="#c87d3e" stroke-width="2.8"/>
<circle cx="527.3" cy="1564.5" r="5.6" fill="#fff" stroke="#c87d3e" stroke-width="2.8"/>
<circle cx="129" cy="1574.4" r="5.6" fill="#fff" stroke="#c87d3e" stroke-width="2.8"/>
<circle cx="181.2" cy="1575.9" r="5.6" fill="#fff" stroke="#c87d3e" stroke-width="2.8"/>
<circle cx="252.3" cy="1573.6" r="5.6" fill="#fff" stroke="#c87d3e" stroke-width="2.8"/>
<circle cx="313.9" cy="1571" r="5.6" fill="#fff" stroke="#c87d3e" stroke-width="2.8"/>
<circle cx="385" cy="1568" r="5.6" fill="#fff" stroke="#c87d3e" stroke-width="2.8"/>
<circle cx="456.1" cy="1569.9" r="5.6" fill="#fff" stroke="#c87d3e" stroke-width="2.8"/>
<circle cx="527.3" cy="1566.4" r="5.6" fill="#fff" stroke="#c87d3e" stroke-width="2.8"/>
<circle cx="129" cy="1574.1" r="5.6" fill="#fff" stroke="#c87d3e" stroke-width="2.8"/>
<circle cx="181.2" cy="1575.7" r="5.6" fill="#fff" stroke="#c87d3e" stroke-width="2.8"/>
<circle cx="252.3" cy="1575.8" r="5.6" fill="#fff" stroke="#c87d3e" stroke-width="2.8"/>
<circle cx="313.9" cy="1574.3" r="5.6" fill="#fff" stroke="#c87d3e" stroke-width="2.8"/>
<circle cx="385" cy="1571" r="5.6" fill="#fff" stroke="#c87d3e" stroke-width="2.8"/>
<circle cx="456.1" cy="1571.1" r="5.6" fill="#fff" stroke="#c87d3e" stroke-width="2.8"/>
<circle cx="527.3" cy="1567.7" r="5.6" fill="#fff" stroke="#c87d3e" stroke-width="2.8"/>
<circle cx="129" cy="1573.8" r="5.6" fill="#fff" stroke="#c87d3e" stroke-width="2.8"/>
<circle cx="181.2" cy="1572.6" r="5.6" fill="#fff" stroke="#c87d3e" stroke-width="2.8"/>
<circle cx="252.3" cy="1572.9" r="5.6" fill="#fff" stroke="#c87d3e" stroke-width="2.8"/>
<circle cx="313.9" cy="1573.1" r="5.6" fill="#fff" stroke="#c87d3e" stroke-width="2.8"/>
<circle cx="385" cy="1574.2" r="5.6" fill="#fff" stroke="#c87d3e" stroke-width="2.8"/>
<circle cx="456.1" cy="1575.8" r="5.6" fill="#fff" stroke="#c87d3e" stroke-width="2.8"/>
<circle cx="527.3" cy="1577.1" r="5.6" fill="#fff" stroke="#c87d3e" stroke-width="2.8"/>
<circle cx="129" cy="1573.4" r="5.6" fill="#fff" stroke="#c87d3e" stroke-width="2.8"/>
<circle cx="181.2" cy="1571.4" r="5.6" fill="#fff" stroke="#c87d3e" stroke-width="2.8"/>
<circle cx="252.3" cy="1567.7" r="5.6" fill="#fff" stroke="#c87d3e" stroke-width="2.8"/>
<circle cx="313.9" cy="1568.8" r="5.6" fill="#fff" stroke="#c87d3e" stroke-width="2.8"/>
<circle cx="385" cy="1570.6" r="5.6" fill="#fff" stroke="#c87d3e" stroke-width="2.8"/>
<circle cx="456.1" cy="1566.9" r="5.6" fill="#fff" stroke="#c87d3e" stroke-width="2.8"/>
<circle cx="527.3" cy="1565.9" r="5.6" fill="#fff" stroke="#c87d3e" stroke-width="2.8"/>
<circle cx="129" cy="1573" r="5.6" fill="#fff" stroke="#c87d3e" stroke-width="2.8"/>
<circle cx="181.2" cy="1572.7" r="5.6" fill="#fff" stroke="#c87d3e" stroke-width="2.8"/>
<circle cx="252.3" cy="1573.4" r="5.6" fill="#fff" stroke="#c87d3e" stroke-width="2.8"/>
<circle cx="313.9" cy="1572" r="5.6" fill="#fff" stroke="#c87d3e" stroke-width="2.8"/>
<circle cx="385" cy="1569.3" r="5.6" fill="#fff" stroke="#c87d3e" stroke-width="2.8"/>
<circle cx="456.1" cy="1568.7" r="5.6" fill="#fff" stroke="#c87d3e" stroke-width="2.8"/>
<circle cx="527.3" cy="1568.3" r="5.6" fill="#fff" stroke="#c87d3e" stroke-width="2.8"/>
<circle cx="129" cy="1572.6" r="5.6" fill="#fff" stroke="#c87d3e" stroke-width="2.8"/>
<circle cx="181.2" cy="1574.4" r="5.6" fill="#fff" stroke="#c87d3e" stroke-width="2.8"/>
<circle cx="252.3" cy="1571.1" r="5.6" fill="#fff" stroke="#c87d3e" stroke-width="2.8"/>
<circle cx="313.9" cy="1573" r="5.6" fill="#fff" stroke="#c87d3e" stroke-width="2.8"/>
<circle cx="385" cy="1572.2" r="5.6" fill="#fff" stroke="#c87d3e" stroke-width="2.8"/>
<circle cx="456.1" cy="1569.3" r="5.6" fill="#fff" stroke="#c87d3e" stroke-width="2.8"/>
<circle cx="527.3" cy="1570.7" r="5.6" fill="#fff" stroke="#c87d3e" stroke-width="2.8"/>
<circle cx="129" cy="1572.2" r="5.6" fill="#fff" stroke="#c87d3e" stroke-width="2.8"/>
<circle cx="181.2" cy="1570" r="5.6" fill="#fff" stroke="#c87d3e" stroke-width="2.8"/>
<circle cx="252.3" cy="1566.5" r="5.6" fill="#fff" stroke="#c87d3e" stroke-width="2.8"/>
<circle cx="313.9" cy="1564.8" r="5.6" fill="#fff" stroke="#c87d3e" stroke-width="2.8"/>
<circle cx="385" cy="1562.3" r="5.6" fill="#fff" stroke="#c87d3e" stroke-width="2.8"/>
<circle cx="456.1" cy="1563.8" r="5.6" fill="#fff" stroke="#c87d3e" stroke-width="2.8"/>
<circle cx="527.3" cy="1563.3" r="5.6" fill="#fff" stroke="#c87d3e" stroke-width="2.8"/>
<circle cx="129" cy="1571.7" r="5.6" fill="#fff" stroke="#c87d3e" stroke-width="2.8"/>
<circle cx="181.2" cy="1572.9" r="5.6" fill="#fff" stroke="#c87d3e" stroke-width="2.8"/>
<circle cx="252.3" cy="1570.1" r="5.6" fill="#fff" stroke="#c87d3e" stroke-width="2.8"/>
<circle cx="313.9" cy="1570.4" r="5.6" fill="#fff" stroke="#c87d3e" stroke-width="2.8"/>
<circle cx="385" cy="1569.9" r="5.6" fill="#fff" stroke="#c87d3e" stroke-width="2.8"/>
<circle cx="456.1" cy="1566.1" r="5.6" fill="#fff" stroke="#c87d3e" stroke-width="2.8"/>
<circle cx="527.3" cy="1563.1" r="5.6" fill="#fff" stroke="#c87d3e" stroke-width="2.8"/>
<circle cx="129" cy="1571.2" r="5.6" fill="#fff" stroke="#c87d3e" stroke-width="2.8"/>
<circle cx="181.2" cy="1567.6" r="5.6" fill="#fff" stroke="#c87d3e" stroke-width="2.8"/>
<circle cx="252.3" cy="1567" r="5.6" fill="#fff" stroke="#c87d3e" stroke-width="2.8"/>
<circle cx="313.9" cy="1566.2" r="5.6" fill="#fff" stroke="#c87d3e" stroke-width="2.8"/>
<circle cx="385" cy="1564" r="5.6" fill="#fff" stroke="#c87d3e" stroke-width="2.8"/>
<circle cx="456.1" cy="1563.3" r="5.6" fill="#fff" stroke="#c87d3e" stroke-width="2.8"/>
<circle cx="527.3" cy="1563.7" r="5.6" fill="#fff" stroke="#c87d3e" stroke-width="2.8"/>
<circle cx="129" cy="1570.7" r="5.6" fill="#fff" stroke="#c87d3e" stroke-width="2.8"/>
<circle cx="181.2" cy="1570.4" r="5.6" fill="#fff" stroke="#c87d3e" stroke-width="2.8"/>
<circle cx="252.3" cy="1571.7" r="5.6" fill="#fff" stroke="#c87d3e" stroke-width="2.8"/>
<circle cx="313.9" cy="1571.6" r="5.6" fill="#fff" stroke="#c87d3e" stroke-width="2.8"/>
<circle cx="385" cy="1567.8" r="5.6" fill="#fff" stroke="#c87d3e" stroke-width="2.8"/>
<circle cx="456.1" cy="1564.3" r="5.6" fill="#fff" stroke="#c87d3e" stroke-width="2.8"/>
<circle cx="527.3" cy="1562.7" r="5.6" fill="#fff" stroke="#c87d3e" stroke-width="2.8"/>
<circle cx="129" cy="1570.2" r="5.6" fill="#fff" stroke="#c87d3e" stroke-width="2.8"/>
<circle cx="181.2" cy="1569.4" r="5.6" fill="#fff" stroke="#c87d3e" stroke-width="2.8"/>
<circle cx="252.3" cy="1569.5" r="5.6" fill="#fff" stroke="#c87d3e" stroke-width="2.8"/>
<circle cx="313.9" cy="1571" r="5.6" fill="#fff" stroke="#c87d3e" stroke-width="2.8"/>
<circle cx="385" cy="1571.5" r="5.6" fill="#fff" stroke="#c87d3e" stroke-width="2.8"/>
<circle cx="456.1" cy="1569" r="5.6" fill="#fff" stroke="#c87d3e" stroke-width="2.8"/>
<circle cx="527.3" cy="1566" r="5.6" fill="#fff" stroke="#c87d3e" stroke-width="2.8"/>
<circle cx="129" cy="1569.6" r="5.6" fill="#fff" stroke="#c87d3e" stroke-width="2.8"/>
<circle cx="181.2" cy="1569.6" r="5.6" fill="#fff" stroke="#c87d3e" stroke-width="2.8"/>
<circle cx="252.3" cy="1567.1" r="5.6" fill="#fff" stroke="#c87d3e" stroke-width="2.8"/>
<circle cx="313.9" cy="1564.6" r="5.6" fill="#fff" stroke="#c87d3e" stroke-width="2.8"/>
<circle cx="385" cy="1562.6" r="5.6" fill="#fff" stroke="#c87d3e" stroke-width="2.8"/>
<circle cx="456.1" cy="1560.8" r="5.6" fill="#fff" stroke="#c87d3e" stroke-width="2.8"/>
<circle cx="527.3" cy="1558.5" r="5.6" fill="#fff" stroke="#c87d3e" stroke-width="2.8"/>
<circle cx="129" cy="1569.1" r="5.6" fill="#fff" stroke="#c87d3e" stroke-width="2.8"/>
<circle cx="181.2" cy="1569" r="5.6" fill="#fff" stroke="#c87d3e" stroke-width="2.8"/>
<circle cx="252.3" cy="1567" r="5.6" fill="#fff" stroke="#c87d3e" stroke-width="2.8"/>
<circle cx="313.9" cy="1567.4" r="5.6" fill="#fff" stroke="#c87d3e" stroke-width="2.8"/>
<circle cx="385" cy="1566.7" r="5.6" fill="#fff" stroke="#c87d3e" stroke-width="2.8"/>
<circle cx="456.1" cy="1564.2" r="5.6" fill="#fff" stroke="#c87d3e" stroke-width="2.8"/>
<circle cx="527.3" cy="1562.3" r="5.6" fill="#fff" stroke="#c87d3e" stroke-width="2.8"/>
<circle cx="129" cy="1568.5" r="5.6" fill="#fff" stroke="#c87d3e" stroke-width="2.8"/>
<circle cx="181.2" cy="1568.8" r="5.6" fill="#fff" stroke="#c87d3e" stroke-width="2.8"/>
<circle cx="252.3" cy="1565.4" r="5.6" fill="#fff" stroke="#c87d3e" stroke-width="2.8"/>
<circle cx="313.9" cy="1563.7" r="5.6" fill="#fff" stroke="#c87d3e" stroke-width="2.8"/>
<circle cx="385" cy="1562.3" r="5.6" fill="#fff" stroke="#c87d3e" stroke-width="2.8"/>
<circle cx="456.1" cy="1564.4" r="5.6" fill="#fff" stroke="#c87d3e" stroke-width="2.8"/>
<circle cx="527.3" cy="1563.3" r="5.6" fill="#fff" stroke="#c87d3e" stroke-width="2.8"/>
<circle cx="129" cy="1567.9" r="5.6" fill="#fff" stroke="#c87d3e" stroke-width="2.8"/>
<circle cx="181.2" cy="1568.5" r="5.6" fill="#fff" stroke="#c87d3e" stroke-width="2.8"/>
<circle cx="252.3" cy="1566.6" r="5.6" fill="#fff" stroke="#c87d3e" stroke-width="2.8"/>
<circle cx="313.9" cy="1566" r="5.6" fill="#fff" stroke="#c87d3e" stroke-width="2.8"/>
<circle cx="385" cy="1563.3" r="5.6" fill="#fff" stroke="#c87d3e" stroke-width="2.8"/>
<circle cx="456.1" cy="1561.6" r="5.6" fill="#fff" stroke="#c87d3e" stroke-width="2.8"/>
<circle cx="527.3" cy="1559" r="5.6" fill="#fff" stroke="#c87d3e" stroke-width="2.8"/>
<circle cx="129" cy="1567.2" r="5.6" fill="#fff" stroke="#c87d3e" stroke-width="2.8"/>
<circle cx="181.2" cy="1567.3" r="5.6" fill="#fff" stroke="#c87d3e" stroke-width="2.8"/>
<circle cx="252.3" cy="1565.6" r="5.6" fill="#fff" stroke="#c87d3e" stroke-width="2.8"/>
<circle cx="313.9" cy="1563.3" r="5.6" fill="#fff" stroke="#c87d3e" stroke-width="2.8"/>
<circle cx="385" cy="1560.5" r="5.6" fill="#fff" stroke="#c87d3e" stroke-width="2.8"/>
<circle cx="456.1" cy="1560.6" r="5.6" fill="#fff" stroke="#c87d3e" stroke-width="2.8"/>
<circle cx="527.3" cy="1557.7" r="5.6" fill="#fff" stroke="#c87d3e" stroke-width="2.8"/>
<circle cx="129" cy="1566.5" r="5.6" fill="#fff" stroke="#c87d3e" stroke-width="2.8"/>
<circle cx="181.2" cy="1563.5" r="5.6" fill="#fff" stroke="#c87d3e" stroke-width="2.8"/>
<circle cx="252.3" cy="1561.6" r="5.6" fill="#fff" stroke="#c87d3e" stroke-width="2.8"/>
<circle cx="313.9" cy="1557.9" r="5.6" fill="#fff" stroke="#c87d3e" stroke-width="2.8"/>
<circle cx="385" cy="1554.4" r="5.6" fill="#fff" stroke="#c87d3e" stroke-width="2.8"/>
<circle cx="456.1" cy="1553.4" r="5.6" fill="#fff" stroke="#c87d3e" stroke-width="2.8"/>
<circle cx="527.3" cy="1552.4" r="5.6" fill="#fff" stroke="#c87d3e" stroke-width="2.8"/>
<circle cx="129" cy="1565.9" r="5.6" fill="#fff" stroke="#c87d3e" stroke-width="2.8"/>
<circle cx="181.2" cy="1567" r="5.6" fill="#fff" stroke="#c87d3e" stroke-width="2.8"/>
<circle cx="252.3" cy="1564.2" r="5.6" fill="#fff" stroke="#c87d3e" stroke-width="2.8"/>
<circle cx="313.9" cy="1560.7" r="5.6" fill="#fff" stroke="#c87d3e" stroke-width="2.8"/>
<circle cx="385" cy="1560" r="5.6" fill="#fff" stroke="#c87d3e" stroke-width="2.8"/>
<circle cx="456.1" cy="1558" r="5.6" fill="#fff" stroke="#c87d3e" stroke-width="2.8"/>
<circle cx="527.3" cy="1555.9" r="5.6" fill="#fff" stroke="#c87d3e" stroke-width="2.8"/>
<circle cx="129" cy="1565.1" r="5.6" fill="#fff" stroke="#c87d3e" stroke-width="2.8"/>
<circle cx="181.2" cy="1562.9" r="5.6" fill="#fff" stroke="#c87d3e" stroke-width="2.8"/>
<circle cx="252.3" cy="1564" r="5.6" fill="#fff" stroke="#c87d3e" stroke-width="2.8"/>
<circle cx="313.9" cy="1561.5" r="5.6" fill="#fff" stroke="#c87d3e" stroke-width="2.8"/>
<circle cx="385" cy="1560.2" r="5.6" fill="#fff" stroke="#c87d3e" stroke-width="2.8"/>
<circle cx="456.1" cy="1558.4" r="5.6" fill="#fff" stroke="#c87d3e" stroke-width="2.8"/>
<circle cx="527.3" cy="1558" r="5.6" fill="#fff" stroke="#c87d3e" stroke-width="2.8"/>
<circle cx="129" cy="1564.4" r="5.6" fill="#fff" stroke="#c87d3e" stroke-width="2.8"/>
<circle cx="181.2" cy="1562.8" r="5.6" fill="#fff" stroke="#c87d3e" stroke-width="2.8"/>
<circle cx="252.3" cy="1560.4" r="5.6" fill="#fff" stroke="#c87d3e" stroke-width="2.8"/>
<circle cx="313.9" cy="1558.7" r="5.6" fill="#fff" stroke="#c87d3e" stroke-width="2.8"/>
<circle cx="385" cy="1556.6" r="5.6" fill="#fff" stroke="#c87d3e" stroke-width="2.8"/>
<circle cx="456.1" cy="1558.5" r="5.6" fill="#fff" stroke="#c87d3e" stroke-width="2.8"/>
<circle cx="527.3" cy="1559.7" r="5.6" fill="#fff" stroke="#c87d3e" stroke-width="2.8"/>
<circle cx="129" cy="1563.6" r="5.6" fill="#fff" stroke="#c87d3e" stroke-width="2.8"/>
<circle cx="181.2" cy="1563.1" r="5.6" fill="#fff" stroke="#c87d3e" stroke-width="2.8"/>
<circle cx="252.3" cy="1561.4" r="5.6" fill="#fff" stroke="#c87d3e" stroke-width="2.8"/>
<circle cx="313.9" cy="1562.2" r="5.6" fill="#fff" stroke="#c87d3e" stroke-width="2.8"/>
<circle cx="385" cy="1560.3" r="5.6" fill="#fff" stroke="#c87d3e" stroke-width="2.8"/>
<circle cx="456.1" cy="1558.7" r="5.6" fill="#fff" stroke="#c87d3e" stroke-width="2.8"/>
<circle cx="527.3" cy="1560.5" r="5.6" fill="#fff" stroke="#c87d3e" stroke-width="2.8"/>
<circle cx="129" cy="1562.9" r="5.6" fill="#fff" stroke="#c87d3e" stroke-width="2.8"/>
<circle cx="181.2" cy="1562.2" r="5.6" fill="#fff" stroke="#c87d3e" stroke-width="2.8"/>
<circle cx="252.3" cy="1563" r="5.6" fill="#fff" stroke="#c87d3e" stroke-width="2.8"/>
<circle cx="313.9" cy="1564.7" r="5.6" fill="#fff" stroke="#c87d3e" stroke-width="2.8"/>
<circle cx="385" cy="1566.1" r="5.6" fill="#fff" stroke="#c87d3e" stroke-width="2.8"/>
<circle cx="456.1" cy="1566.3" r="5.6" fill="#fff" stroke="#c87d3e" stroke-width="2.8"/>
<circle cx="527.3" cy="1567.3" r="5.6" fill="#fff" stroke="#c87d3e" stroke-width="2.8"/>
<circle cx="129" cy="1562" r="5.6" fill="#fff" stroke="#c87d3e" stroke-width="2.8"/>
<circle cx="181.2" cy="1563" r="5.6" fill="#fff" stroke="#c87d3e" stroke-width="2.8"/>
<circle cx="252.3" cy="1564.9" r="5.6" fill="#fff" stroke="#c87d3e" stroke-width="2.8"/>
<circle cx="313.9" cy="1564.3" r="5.6" fill="#fff" stroke="#c87d3e" stroke-width="2.8"/>
<circle cx="385" cy="1564.1" r="5.6" fill="#fff" stroke="#c87d3e" stroke-width="2.8"/>
<circle cx="456.1" cy="1562.6" r="5.6" fill="#fff" stroke="#c87d3e" stroke-width="2.8"/>
<circle cx="527.3" cy="1561.3" r="5.6" fill="#fff" stroke="#c87d3e" stroke-width="2.8"/>
<circle cx="129" cy="1561.2" r="5.6" fill="#fff" stroke="#c87d3e" stroke-width="2.8"/>
<circle cx="181.2" cy="1561.9" r="5.6" fill="#fff" stroke="#c87d3e" stroke-width="2.8"/>
<circle cx="252.3" cy="1558.7" r="5.6" fill="#fff" stroke="#c87d3e" stroke-width="2.8"/>
<circle cx="313.9" cy="1560.8" r="5.6" fill="#fff" stroke="#c87d3e" stroke-width="2.8"/>
<circle cx="385" cy="1560.5" r="5.6" fill="#fff" stroke="#c87d3e" stroke-width="2.8"/>
<circle cx="456.1" cy="1561" r="5.6" fill="#fff" stroke="#c87d3e" stroke-width="2.8"/>
<circle cx="527.3" cy="1560.7" r="5.6" fill="#fff" stroke="#c87d3e" stroke-width="2.8"/>
<circle cx="129" cy="1560.4" r="5.6" fill="#fff" stroke="#c87d3e" stroke-width="2.8"/>
<circle cx="181.2" cy="1561.8" r="5.6" fill="#fff" stroke="#c87d3e" stroke-width="2.8"/>
<circle cx="252.3" cy="1559" r="5.6" fill="#fff" stroke="#c87d3e" stroke-width="2.8"/>
<circle cx="313.9" cy="1558.9" r="5.6" fill="#fff" stroke="#c87d3e" stroke-width="2.8"/>
<circle cx="385" cy="1560.8" r="5.6" fill="#fff" stroke="#c87d3e" stroke-width="2.8"/>
<circle cx="456.1" cy="1559.3" r="5.6" fill="#fff" stroke="#c87d3e" stroke-width="2.8"/>
<circle cx="527.3" cy="1560.8" r="5.6" fill="#fff" stroke="#c87d3e" stroke-width="2.8"/>
<circle cx="129" cy="1559.5" r="5.6" fill="#fff" stroke="#c87d3e" stroke-width="2.8"/>
<circle cx="181.2" cy="1558.4" r="5.6" fill="#fff" stroke="#c87d3e" stroke-width="2.8"/>
<circle cx="252.3" cy="1558.5" r="5.6" fill="#fff" stroke="#c87d3e" stroke-width="2.8"/>
<circle cx="313.9" cy="1557.2" r="5.6" fill="#fff" stroke="#c87d3e" stroke-width="2.8"/>
<circle cx="385" cy="1553.6" r="5.6" fill="#fff" stroke="#c87d3e" stroke-width="2.8"/>
<circle cx="456.1" cy="1550.9" r="5.6" fill="#fff" stroke="#c87d3e" stroke-width="2.8"/>
<circle cx="527.3" cy="1550.5" r="5.6" fill="#fff" stroke="#c87d3e" stroke-width="2.8"/>
<circle cx="129" cy="1558.6" r="5.6" fill="#fff" stroke="#c87d3e" stroke-width="2.8"/>
<circle cx="181.2" cy="1555.9" r="5.6" fill="#fff" stroke="#c87d3e" stroke-width="2.8"/>
<circle cx="252.3" cy="1554.2" r="5.6" fill="#fff" stroke="#c87d3e" stroke-width="2.8"/>
<circle cx="313.9" cy="1554.1" r="5.6" fill="#fff" stroke="#c87d3e" stroke-width="2.8"/>
<circle cx="385" cy="1555.4" r="5.6" fill="#fff" stroke="#c87d3e" stroke-width="2.8"/>
<circle cx="456.1" cy="1554" r="5.6" fill="#fff" stroke="#c87d3e" stroke-width="2.8"/>
<circle cx="527.3" cy="1552.8" r="5.6" fill="#fff" stroke="#c87d3e" stroke-width="2.8"/>
<circle cx="129" cy="1557.7" r="5.6" fill="#fff" stroke="#c87d3e" stroke-width="2.8"/>
<circle cx="181.2" cy="1554.1" r="5.6" fill="#fff" stroke="#c87d3e" stroke-width="2.8"/>
<circle cx="252.3" cy="1550.5" r="5.6" fill="#fff" stroke="#c87d3e" stroke-width="2.8"/>
<circle cx="313.9" cy="1549" r="5.6" fill="#fff" stroke="#c87d3e" stroke-width="2.8"/>
<circle cx="385" cy="1549.1" r="5.6" fill="#fff" stroke="#c87d3e" stroke-width="2.8"/>
<circle cx="456.1" cy="1545.9" r="5.6" fill="#fff" stroke="#c87d3e" stroke-width="2.8"/>
<circle cx="527.3" cy="1548" r="5.6" fill="#fff" stroke="#c87d3e" stroke-width="2.8"/>
<circle cx="129" cy="1556.7" r="5.6" fill="#fff" stroke="#c87d3e" stroke-width="2.8"/>
<circle cx="181.2" cy="1558.2" r="5.6" fill="#fff" stroke="#c87d3e" stroke-width="2.8"/>
<circle cx="252.3" cy="1557" r="5.6" fill="#fff" stroke="#c87d3e" stroke-width="2.8"/>
<circle cx="313.9" cy="1555.4" r="5.6" fill="#fff" stroke="#c87d3e" stroke-width="2.8"/>
<circle cx="385" cy="1556.7" r="5.6" fill="#fff" stroke="#c87d3e" stroke-width="2.8"/>
<circle cx="456.1" cy="1555.1" r="5.6" fill="#fff" stroke="#c87d3e" stroke-width="2.8"/>
<circle cx="527.3" cy="1552" r="5.6" fill="#fff" stroke="#c87d3e" stroke-width="2.8"/>
<circle cx="129" cy="1555.7" r="5.6" fill="#fff" stroke="#c87d3e" stroke-width="2.8"/>
<circle cx="181.2" cy="1555.6" r="5.6" fill="#fff" stroke="#c87d3e" stroke-width="2.8"/>
<circle cx="252.3" cy="1555.2" r="5.6" fill="#fff" stroke="#c87d3e" stroke-width="2.8"/>
<circle cx="313.9" cy="1556" r="5.6" fill="#fff" stroke="#c87d3e" stroke-width="2.8"/>
<circle cx="385" cy="1556.4" r="5.6" fill="#fff" stroke="#c87d3e" stroke-width="2.8"/>
<circle cx="456.1" cy="1552.7" r="5.6" fill="#fff" stroke="#c87d3e" stroke-width="2.8"/>
<circle cx="527.3" cy="1552.6" r="5.6" fill="#fff" stroke="#c87d3e" stroke-width="2.8"/>
<circle cx="129" cy="1554.7" r="5.6" fill="#fff" stroke="#c87d3e" stroke-width="2.8"/>
<circle cx="181.2" cy="1551.2" r="5.6" fill="#fff" stroke="#c87d3e" stroke-width="2.8"/>
<circle cx="252.3" cy="1547.9" r="5.6" fill="#fff" stroke="#c87d3e" stroke-width="2.8"/>
<circle cx="313.9" cy="1546.5" r="5.6" fill="#fff" stroke="#c87d3e" stroke-width="2.8"/>
<circle cx="385" cy="1547.1" r="5.6" fill="#fff" stroke="#c87d3e" stroke-width="2.8"/>
<circle cx="456.1" cy="1543.4" r="5.6" fill="#fff" stroke="#c87d3e" stroke-width="2.8"/>
<circle cx="527.3" cy="1542.6" r="5.6" fill="#fff" stroke="#c87d3e" stroke-width="2.8"/>
<circle cx="129" cy="1553.7" r="5.6" fill="#fff" stroke="#c87d3e" stroke-width="2.8"/>
<circle cx="181.2" cy="1553.4" r="5.6" fill="#fff" stroke="#c87d3e" stroke-width="2.8"/>
<circle cx="252.3" cy="1553.6" r="5.6" fill="#fff" stroke="#c87d3e" stroke-width="2.8"/>
<circle cx="313.9" cy="1549.9" r="5.6" fill="#fff" stroke="#c87d3e" stroke-width="2.8"/>
<circle cx="385" cy="1549.1" r="5.6" fill="#fff" stroke="#c87d3e" stroke-width="2.8"/>
<circle cx="456.1" cy="1549.5" r="5.6" fill="#fff" stroke="#c87d3e" stroke-width="2.8"/>
<circle cx="527.3" cy="1548.8" r="5.6" fill="#fff" stroke="#c87d3e" stroke-width="2.8"/>
<circle cx="129" cy="1552.7" r="5.6" fill="#fff" stroke="#c87d3e" stroke-width="2.8"/>
<circle cx="181.2" cy="1554.1" r="5.6" fill="#fff" stroke="#c87d3e" stroke-width="2.8"/>
<circle cx="252.3" cy="1552.5" r="5.6" fill="#fff" stroke="#c87d3e" stroke-width="2.8"/>
<circle cx="313.9" cy="1552" r="5.6" fill="#fff" stroke="#c87d3e" stroke-width="2.8"/>
<circle cx="385" cy="1552.4" r="5.6" fill="#fff" stroke="#c87d3e" stroke-width="2.8"/>
<circle cx="456.1" cy="1549.9" r="5.6" fill="#fff" stroke="#c87d3e" stroke-width="2.8"/>
<circle cx="527.3" cy="1547.1" r="5.6" fill="#fff" stroke="#c87d3e" stroke-width="2.8"/>
<circle cx="129" cy="1551.6" r="5.6" fill="#fff" stroke="#c87d3e" stroke-width="2.8"/>
<circle cx="181.2" cy="1553.7" r="5.6" fill="#fff" stroke="#c87d3e" stroke-width="2.8"/>
<circle cx="252.3" cy="1552.6" r="5.6" fill="#fff" stroke="#c87d3e" stroke-width="2.8"/>
<circle cx="313.9" cy="1553.1" r="5.6" fill="#fff" stroke="#c87d3e" stroke-width="2.8"/>
<circle cx="385" cy="1549.7" r="5.6" fill="#fff" stroke="#c87d3e" stroke-width="2.8"/>
<circle cx="456.1" cy="1547.2" r="5.6" fill="#fff" stroke="#c87d3e" stroke-width="2.8"/>
<circle cx="527.3" cy="1547.9" r="5.6" fill="#fff" stroke="#c87d3e" stroke-width="2.8"/>
<circle cx="129" cy="1550.5" r="5.6" fill="#fff" stroke="#c87d3e" stroke-width="2.8"/>
<circle cx="181.2" cy="1551.1" r="5.6" fill="#fff" stroke="#c87d3e" stroke-width="2.8"/>
<circle cx="252.3" cy="1552.3" r="5.6" fill="#fff" stroke="#c87d3e" stroke-width="2.8"/>
<circle cx="313.9" cy="1548.5" r="5.6" fill="#fff" stroke="#c87d3e" stroke-width="2.8"/>
<circle cx="385" cy="1548.9" r="5.6" fill="#fff" stroke="#c87d3e" stroke-width="2.8"/>
<circle cx="456.1" cy="1547.4" r="5.6" fill="#fff" stroke="#c87d3e" stroke-width="2.8"/>
<circle cx="527.3" cy="1546.7" r="5.6" fill="#fff" stroke="#c87d3e" stroke-width="2.8"/>
<circle cx="129" cy="1549.4" r="5.6" fill="#fff" stroke="#c87d3e" stroke-width="2.8"/>
<circle cx="181.2" cy="1547.7" r="5.6" fill="#fff" stroke="#c87d3e" stroke-width="2.8"/>
<circle cx="252.3" cy="1546.3" r="5.6" fill="#fff" stroke="#c87d3e" stroke-width="2.8"/>
<circle cx="313.9" cy="1544" r="5.6" fill="#fff" stroke="#c87d3e" stroke-width="2.8"/>
<circle cx="385" cy="1545.4" r="5.6" fill="#fff" stroke="#c87d3e" stroke-width="2.8"/>
<circle cx="456.1" cy="1543" r="5.6" fill="#fff" stroke="#c87d3e" stroke-width="2.8"/>
<circle cx="527.3" cy="1543.4" r="5.6" fill="#fff" stroke="#c87d3e" stroke-width="2.8"/>
<circle cx="129" cy="1548.3" r="5.6" fill="#fff" stroke="#c87d3e" stroke-width="2.8"/>
<circle cx="181.2" cy="1547.2" r="5.6" fill="#fff" stroke="#c87d3e" stroke-width="2.8"/>
<circle cx="252.3" cy="1547.4" r="5.6" fill="#fff" stroke="#c87d3e" stroke-width="2.8"/>
<circle cx="313.9" cy="1547.7" r="5.6" fill="#fff" stroke="#c87d3e" stroke-width="2.8"/>
<circle cx="385" cy="1546.7" r="5.6" fill="#fff" stroke="#c87d3e" stroke-width="2.8"/>
<circle cx="456.1" cy="1546.1" r="5.6" fill="#fff" stroke="#c87d3e" stroke-width="2.8"/>
<circle cx="527.3" cy="1546.1" r="5.6" fill="#fff" stroke="#c87d3e" stroke-width="2.8"/>
<circle cx="129" cy="1547.1" r="5.6" fill="#fff" stroke="#c87d3e" stroke-width="2.8"/>
<circle cx="181.2" cy="1544.8" r="5.6" fill="#fff" stroke="#c87d3e" stroke-width="2.8"/>
<circle cx="252.3" cy="1543.5" r="5.6" fill="#fff" stroke="#c87d3e" stroke-width="2.8"/>
<circle cx="313.9" cy="1545.4" r="5.6" fill="#fff" stroke="#c87d3e" stroke-width="2.8"/>
<circle cx="385" cy="1546" r="5.6" fill="#fff" stroke="#c87d3e" stroke-width="2.8"/>
<circle cx="456.1" cy="1545.4" r="5.6" fill="#fff" stroke="#c87d3e" stroke-width="2.8"/>
<circle cx="527.3" cy="1542.1" r="5.6" fill="#fff" stroke="#c87d3e" stroke-width="2.8"/>
<circle cx="129" cy="1545.9" r="5.6" fill="#fff" stroke="#c87d3e" stroke-width="2.8"/>
<circle cx="181.2" cy="1542.8" r="5.6" fill="#fff" stroke="#c87d3e" stroke-width="2.8"/>
<circle cx="252.3" cy="1541.7" r="5.6" fill="#fff" stroke="#c87d3e" stroke-width="2.8"/>
<circle cx="313.9" cy="1543.7" r="5.6" fill="#fff" stroke="#c87d3e" stroke-width="2.8"/>
<circle cx="385" cy="1541.2" r="5.6" fill="#fff" stroke="#c87d3e" stroke-width="2.8"/>
<circle cx="456.1" cy="1540.8" r="5.6" fill="#fff" stroke="#c87d3e" stroke-width="2.8"/>
<circle cx="527.3" cy="1539.5" r="5.6" fill="#fff" stroke="#c87d3e" stroke-width="2.8"/>
<circle cx="129" cy="1544.7" r="5.6" fill="#fff" stroke="#c87d3e" stroke-width="2.8"/>
<circle cx="181.2" cy="1542.7" r="5.6" fill="#fff" stroke="#c87d3e" stroke-width="2.8"/>
<circle cx="252.3" cy="1541.1" r="5.6" fill="#fff" stroke="#c87d3e" stroke-width="2.8"/>
<circle cx="313.9" cy="1540.3" r="5.6" fill="#fff" stroke="#c87d3e" stroke-width="2.8"/>
<circle cx="385" cy="1537" r="5.6" fill="#fff" stroke="#c87d3e" stroke-width="2.8"/>
<circle cx="456.1" cy="1536.9" r="5.6" fill="#fff" stroke="#c87d3e" stroke-width="2.8"/>
<circle cx="527.3" cy="1536.7" r="5.6" fill="#fff" stroke="#c87d3e" stroke-width="2.8"/>
<circle cx="129" cy="1543.5" r="5.6" fill="#fff" stroke="#c87d3e" stroke-width="2.8"/>
<circle cx="181.2" cy="1540.6" r="5.6" fill="#fff" stroke="#c87d3e" stroke-width="2.8"/>
<circle cx="252.3" cy="1541.5" r="5.6" fill="#fff" stroke="#c87d3e" stroke-width="2.8"/>
<circle cx="313.9" cy="1541.9" r="5.6" fill="#fff" stroke="#c87d3e" stroke-width="2.8"/>
<circle cx="385" cy="1539.1" r="5.6" fill="#fff" stroke="#c87d3e" stroke-width="2.8"/>
<circle cx="456.1" cy="1540.8" r="5.6" fill="#fff" stroke="#c87d3e" stroke-width="2.8"/>
<circle cx="527.3" cy="1538" r="5.6" fill="#fff" stroke="#c87d3e" stroke-width="2.8"/>
<circle cx="129" cy="1542.3" r="5.6" fill="#fff" stroke="#c87d3e" stroke-width="2.8"/>
<circle cx="181.2" cy="1540.3" r="5.6" fill="#fff" stroke="#c87d3e" stroke-width="2.8"/>
<circle cx="252.3" cy="1539.8" r="5.6" fill="#fff" stroke="#c87d3e" stroke-width="2.8"/>
<circle cx="313.9" cy="1540.2" r="5.6" fill="#fff" stroke="#c87d3e" stroke-width="2.8"/>
<circle cx="385" cy="1537.7" r="5.6" fill="#fff" stroke="#c87d3e" stroke-width="2.8"/>
<circle cx="456.1" cy="1534.5" r="5.6" fill="#fff" stroke="#c87d3e" stroke-width="2.8"/>
<circle cx="527.3" cy="1535.7" r="5.6" fill="#fff" stroke="#c87d3e" stroke-width="2.8"/>
<circle cx="129" cy="1541" r="5.6" fill="#fff" stroke="#c87d3e" stroke-width="2.8"/>
<circle cx="181.2" cy="1540.3" r="5.6" fill="#fff" stroke="#c87d3e" stroke-width="2.8"/>
<circle cx="252.3" cy="1539.1" r="5.6" fill="#fff" stroke="#c87d3e" stroke-width="2.8"/>
<circle cx="313.9" cy="1538.3" r="5.6" fill="#fff" stroke="#c87d3e" stroke-width="2.8"/>
<circle cx="385" cy="1538.5" r="5.6" fill="#fff" stroke="#c87d3e" stroke-width="2.8"/>
<circle cx="456.1" cy="1539.7" r="5.6" fill="#fff" stroke="#c87d3e" stroke-width="2.8"/>
<circle cx="527.3" cy="1538.3" r="5.6" fill="#fff" stroke="#c87d3e" stroke-width="2.8"/>
<circle cx="129" cy="1539.7" r="5.6" fill="#fff" stroke="#c87d3e" stroke-width="2.8"/>
<circle cx="181.2" cy="1537" r="5.6" fill="#fff" stroke="#c87d3e" stroke-width="2.8"/>
<circle cx="252.3" cy="1538.7" r="5.6" fill="#fff" stroke="#c87d3e" stroke-width="2.8"/>
<circle cx="313.9" cy="1539.5" r="5.6" fill="#fff" stroke="#c87d3e" stroke-width="2.8"/>
<circle cx="385" cy="1536.7" r="5.6" fill="#fff" stroke="#c87d3e" stroke-width="2.8"/>
<circle cx="456.1" cy="1534.2" r="5.6" fill="#fff" stroke="#c87d3e" stroke-width="2.8"/>
<circle cx="527.3" cy="1532.4" r="5.6" fill="#fff" stroke="#c87d3e" stroke-width="2.8"/>
<circle cx="129" cy="1538.4" r="5.6" fill="#fff" stroke="#c87d3e" stroke-width="2.8"/>
<circle cx="181.2" cy="1540.3" r="5.6" fill="#fff" stroke="#c87d3e" stroke-width="2.8"/>
<circle cx="252.3" cy="1538.2" r="5.6" fill="#fff" stroke="#c87d3e" stroke-width="2.8"/>
<circle cx="313.9" cy="1534.5" r="5.6" fill="#fff" stroke="#c87d3e" stroke-width="2.8"/>
<circle cx="385" cy="1530.7" r="5.6" fill="#fff" stroke="#c87d3e" stroke-width="2.8"/>
<circle cx="456.1" cy="1528.7" r="5.6" fill="#fff" stroke="#c87d3e" stroke-width="2.8"/>
<circle cx="527.3" cy="1530.5" r="5.6" fill="#fff" stroke="#c87d3e" stroke-width="2.8"/>
<circle cx="129" cy="1537" r="5.6" fill="#fff" stroke="#c87d3e" stroke-width="2.8"/>
<circle cx="181.2" cy="1534.2" r="5.6" fill="#fff" stroke="#c87d3e" stroke-width="2.8"/>
<circle cx="252.3" cy="1535" r="5.6" fill="#fff" stroke="#c87d3e" stroke-width="2.8"/>
<circle cx="313.9" cy="1533.3" r="5.6" fill="#fff" stroke="#c87d3e" stroke-width="2.8"/>
<circle cx="385" cy="1529.8" r="5.6" fill="#fff" stroke="#c87d3e" stroke-width="2.8"/>
<circle cx="456.1" cy="1527.7" r="5.6" fill="#fff" stroke="#c87d3e" stroke-width="2.8"/>
<circle cx="527.3" cy="1529" r="5.6" fill="#fff" stroke="#c87d3e" stroke-width="2.8"/>
<circle cx="129" cy="1535.7" r="5.6" fill="#fff" stroke="#c87d3e" stroke-width="2.8"/>
<circle cx="181.2" cy="1536" r="5.6" fill="#fff" stroke="#c87d3e" stroke-width="2.8"/>
<circle cx="252.3" cy="1532.7" r="5.6" fill="#fff" stroke="#c87d3e" stroke-width="2.8"/>
<circle cx="313.9" cy="1533.9" r="5.6" fill="#fff" stroke="#c87d3e" stroke-width="2.8"/>
<circle cx="385" cy="1532.5" r="5.6" fill="#fff" stroke="#c87d3e" stroke-width="2.8"/>
<circle cx="456.1" cy="1532.1" r="5.6" fill="#fff" stroke="#c87d3e" stroke-width="2.8"/>
<circle cx="527.3" cy="1533.3" r="5.6" fill="#fff" stroke="#c87d3e" stroke-width="2.8"/>
<circle cx="129" cy="1538.5" r="5.6" fill="#fff" stroke="#c87d3e" stroke-width="2.8"/>
<circle cx="181.2" cy="1541.8" r="5.6" fill="#fff" stroke="#c87d3e" stroke-width="2.8"/>
<circle cx="252.3" cy="1531.7" r="5.6" fill="#fff" stroke="#c87d3e" stroke-width="2.8"/>
<circle cx="313.9" cy="1525.8" r="5.6" fill="#fff" stroke="#c87d3e" stroke-width="2.8"/>
<circle cx="385" cy="1525.8" r="5.6" fill="#fff" stroke="#c87d3e" stroke-width="2.8"/>
<circle cx="456.1" cy="1524.1" r="5.6" fill="#fff" stroke="#c87d3e" stroke-width="2.8"/>
<circle cx="527.3" cy="1508.1" r="5.6" fill="#fff" stroke="#c87d3e" stroke-width="2.8"/>
<circle cx="129" cy="1551.1" r="5.6" fill="#fff" stroke="#c87d3e" stroke-width="2.8"/>
<circle cx="181.2" cy="1544.4" r="5.6" fill="#fff" stroke="#c87d3e" stroke-width="2.8"/>
<circle cx="252.3" cy="1541.8" r="5.6" fill="#fff" stroke="#c87d3e" stroke-width="2.8"/>
<circle cx="313.9" cy="1521.6" r="5.6" fill="#fff" stroke="#c87d3e" stroke-width="2.8"/>
<circle cx="385" cy="1520.8" r="5.6" fill="#fff" stroke="#c87d3e" stroke-width="2.8"/>
<circle cx="456.1" cy="1521.6" r="5.6" fill="#fff" stroke="#c87d3e" stroke-width="2.8"/>
<circle cx="527.3" cy="1515.7" r="5.6" fill="#fff" stroke="#c87d3e" stroke-width="2.8"/>
<circle cx="129" cy="1542.7" r="5.6" fill="#fff" stroke="#c87d3e" stroke-width="2.8"/>
<circle cx="181.2" cy="1548.6" r="5.6" fill="#fff" stroke="#c87d3e" stroke-width="2.8"/>
<circle cx="252.3" cy="1546.9" r="5.6" fill="#fff" stroke="#c87d3e" stroke-width="2.8"/>
<circle cx="313.9" cy="1540.2" r="5.6" fill="#fff" stroke="#c87d3e" stroke-width="2.8"/>
<circle cx="385" cy="1534.3" r="5.6" fill="#fff" stroke="#c87d3e" stroke-width="2.8"/>
<circle cx="456.1" cy="1530" r="5.6" fill="#fff" stroke="#c87d3e" stroke-width="2.8"/>
<circle cx="527.3" cy="1525" r="5.6" fill="#fff" stroke="#c87d3e" stroke-width="2.8"/>
<circle cx="129" cy="972.3" r="5.6" fill="#fff" stroke="#3f5a86" stroke-width="2.8"/>
<circle cx="181.2" cy="912.5" r="5.6" fill="#fff" stroke="#3f5a86" stroke-width="2.8"/>
<circle cx="252.3" cy="877.1" r="5.6" fill="#fff" stroke="#3f5a86" stroke-width="2.8"/>
<circle cx="313.9" cy="926.8" r="5.6" fill="#fff" stroke="#3f5a86" stroke-width="2.8"/>
<circle cx="385" cy="940.3" r="5.6" fill="#fff" stroke="#3f5a86" stroke-width="2.8"/>
<circle cx="456.1" cy="969.8" r="5.6" fill="#fff" stroke="#3f5a86" stroke-width="2.8"/>
<circle cx="527.3" cy="1034.6" r="5.6" fill="#fff" stroke="#3f5a86" stroke-width="2.8"/>
<circle cx="129" cy="1069.2" r="5.6" fill="#fff" stroke="#3f5a86" stroke-width="2.8"/>
<circle cx="181.2" cy="1033" r="5.6" fill="#fff" stroke="#3f5a86" stroke-width="2.8"/>
<circle cx="252.3" cy="934.4" r="5.6" fill="#fff" stroke="#3f5a86" stroke-width="2.8"/>
<circle cx="313.9" cy="890.6" r="5.6" fill="#fff" stroke="#3f5a86" stroke-width="2.8"/>
<circle cx="385" cy="866.1" r="5.6" fill="#fff" stroke="#3f5a86" stroke-width="2.8"/>
<circle cx="456.1" cy="840.9" r="5.6" fill="#fff" stroke="#3f5a86" stroke-width="2.8"/>
<circle cx="527.3" cy="881.3" r="5.6" fill="#fff" stroke="#3f5a86" stroke-width="2.8"/>
<circle cx="129" cy="1151.8" r="5.6" fill="#fff" stroke="#3f5a86" stroke-width="2.8"/>
<circle cx="181.2" cy="1079.3" r="5.6" fill="#fff" stroke="#3f5a86" stroke-width="2.8"/>
<circle cx="252.3" cy="1070.9" r="5.6" fill="#fff" stroke="#3f5a86" stroke-width="2.8"/>
<circle cx="313.9" cy="1074.2" r="5.6" fill="#fff" stroke="#3f5a86" stroke-width="2.8"/>
<circle cx="385" cy="1062.4" r="5.6" fill="#fff" stroke="#3f5a86" stroke-width="2.8"/>
<circle cx="456.1" cy="1028.7" r="5.6" fill="#fff" stroke="#3f5a86" stroke-width="2.8"/>
<circle cx="527.3" cy="984.1" r="5.6" fill="#fff" stroke="#3f5a86" stroke-width="2.8"/>
<circle cx="129" cy="1181.2" r="5.6" fill="#fff" stroke="#3f5a86" stroke-width="2.8"/>
<circle cx="181.2" cy="1133.2" r="5.6" fill="#fff" stroke="#3f5a86" stroke-width="2.8"/>
<circle cx="252.3" cy="1062.4" r="5.6" fill="#fff" stroke="#3f5a86" stroke-width="2.8"/>
<circle cx="313.9" cy="1036.3" r="5.6" fill="#fff" stroke="#3f5a86" stroke-width="2.8"/>
<circle cx="385" cy="991.7" r="5.6" fill="#fff" stroke="#3f5a86" stroke-width="2.8"/>
<circle cx="456.1" cy="948.7" r="5.6" fill="#fff" stroke="#3f5a86" stroke-width="2.8"/>
<circle cx="527.3" cy="919.2" r="5.6" fill="#fff" stroke="#3f5a86" stroke-width="2.8"/>
<circle cx="129" cy="1283.2" r="5.6" fill="#fff" stroke="#3f5a86" stroke-width="2.8"/>
<circle cx="181.2" cy="1220.8" r="5.6" fill="#fff" stroke="#3f5a86" stroke-width="2.8"/>
<circle cx="252.3" cy="1185.5" r="5.6" fill="#fff" stroke="#3f5a86" stroke-width="2.8"/>
<circle cx="313.9" cy="1173.7" r="5.6" fill="#fff" stroke="#3f5a86" stroke-width="2.8"/>
<circle cx="385" cy="1141.6" r="5.6" fill="#fff" stroke="#3f5a86" stroke-width="2.8"/>
<circle cx="456.1" cy="1134.9" r="5.6" fill="#fff" stroke="#3f5a86" stroke-width="2.8"/>
<circle cx="527.3" cy="1118.1" r="5.6" fill="#fff" stroke="#3f5a86" stroke-width="2.8"/>
<circle cx="129" cy="1290.8" r="5.6" fill="#fff" stroke="#3f5a86" stroke-width="2.8"/>
<circle cx="181.2" cy="1256.2" r="5.6" fill="#fff" stroke="#3f5a86" stroke-width="2.8"/>
<circle cx="252.3" cy="1210.7" r="5.6" fill="#fff" stroke="#3f5a86" stroke-width="2.8"/>
<circle cx="313.9" cy="1195.6" r="5.6" fill="#fff" stroke="#3f5a86" stroke-width="2.8"/>
<circle cx="385" cy="1181.2" r="5.6" fill="#fff" stroke="#3f5a86" stroke-width="2.8"/>
<circle cx="456.1" cy="1160.2" r="5.6" fill="#fff" stroke="#3f5a86" stroke-width="2.8"/>
<circle cx="527.3" cy="1131.5" r="5.6" fill="#fff" stroke="#3f5a86" stroke-width="2.8"/>
<circle cx="129" cy="1348.1" r="5.6" fill="#fff" stroke="#3f5a86" stroke-width="2.8"/>
<circle cx="181.2" cy="1325.3" r="5.6" fill="#fff" stroke="#3f5a86" stroke-width="2.8"/>
<circle cx="252.3" cy="1289.9" r="5.6" fill="#fff" stroke="#3f5a86" stroke-width="2.8"/>
<circle cx="313.9" cy="1267.2" r="5.6" fill="#fff" stroke="#3f5a86" stroke-width="2.8"/>
<circle cx="385" cy="1222.5" r="5.6" fill="#fff" stroke="#3f5a86" stroke-width="2.8"/>
<circle cx="456.1" cy="1150.1" r="5.6" fill="#fff" stroke="#3f5a86" stroke-width="2.8"/>
<circle cx="527.3" cy="1102" r="5.6" fill="#fff" stroke="#3f5a86" stroke-width="2.8"/>
<circle cx="129" cy="1352.3" r="5.6" fill="#fff" stroke="#3f5a86" stroke-width="2.8"/>
<circle cx="181.2" cy="1325.3" r="5.6" fill="#fff" stroke="#3f5a86" stroke-width="2.8"/>
<circle cx="252.3" cy="1300.9" r="5.6" fill="#fff" stroke="#3f5a86" stroke-width="2.8"/>
<circle cx="313.9" cy="1277.3" r="5.6" fill="#fff" stroke="#3f5a86" stroke-width="2.8"/>
<circle cx="385" cy="1275.6" r="5.6" fill="#fff" stroke="#3f5a86" stroke-width="2.8"/>
<circle cx="456.1" cy="1294.1" r="5.6" fill="#fff" stroke="#3f5a86" stroke-width="2.8"/>
<circle cx="527.3" cy="1310.1" r="5.6" fill="#fff" stroke="#3f5a86" stroke-width="2.8"/>
<circle cx="129" cy="1443.3" r="5.6" fill="#fff" stroke="#3f5a86" stroke-width="2.8"/>
<circle cx="181.2" cy="1430.6" r="5.6" fill="#fff" stroke="#3f5a86" stroke-width="2.8"/>
<circle cx="252.3" cy="1399.5" r="5.6" fill="#fff" stroke="#3f5a86" stroke-width="2.8"/>
<circle cx="313.9" cy="1373.3" r="5.6" fill="#fff" stroke="#3f5a86" stroke-width="2.8"/>
<circle cx="385" cy="1365.8" r="5.6" fill="#fff" stroke="#3f5a86" stroke-width="2.8"/>
<circle cx="456.1" cy="1331.2" r="5.6" fill="#fff" stroke="#3f5a86" stroke-width="2.8"/>
<circle cx="527.3" cy="1314.4" r="5.6" fill="#fff" stroke="#3f5a86" stroke-width="2.8"/>
<circle cx="129" cy="1451.7" r="5.6" fill="#fff" stroke="#3f5a86" stroke-width="2.8"/>
<circle cx="181.2" cy="1434" r="5.6" fill="#fff" stroke="#3f5a86" stroke-width="2.8"/>
<circle cx="252.3" cy="1417.1" r="5.6" fill="#fff" stroke="#3f5a86" stroke-width="2.8"/>
<circle cx="313.9" cy="1386" r="5.6" fill="#fff" stroke="#3f5a86" stroke-width="2.8"/>
<circle cx="385" cy="1371.7" r="5.6" fill="#fff" stroke="#3f5a86" stroke-width="2.8"/>
<circle cx="456.1" cy="1353.1" r="5.6" fill="#fff" stroke="#3f5a86" stroke-width="2.8"/>
<circle cx="527.3" cy="1325.3" r="5.6" fill="#fff" stroke="#3f5a86" stroke-width="2.8"/>
<circle cx="129" cy="1460.1" r="5.6" fill="#fff" stroke="#3f5a86" stroke-width="2.8"/>
<circle cx="181.2" cy="1434" r="5.6" fill="#fff" stroke="#3f5a86" stroke-width="2.8"/>
<circle cx="252.3" cy="1435.7" r="5.6" fill="#fff" stroke="#3f5a86" stroke-width="2.8"/>
<circle cx="313.9" cy="1411.2" r="5.6" fill="#fff" stroke="#3f5a86" stroke-width="2.8"/>
<circle cx="385" cy="1393.6" r="5.6" fill="#fff" stroke="#3f5a86" stroke-width="2.8"/>
<circle cx="456.1" cy="1372.5" r="5.6" fill="#fff" stroke="#3f5a86" stroke-width="2.8"/>
<circle cx="527.3" cy="1348.9" r="5.6" fill="#fff" stroke="#3f5a86" stroke-width="2.8"/>
<circle cx="129" cy="1485.4" r="5.6" fill="#fff" stroke="#3f5a86" stroke-width="2.8"/>
<circle cx="181.2" cy="1480.3" r="5.6" fill="#fff" stroke="#3f5a86" stroke-width="2.8"/>
<circle cx="252.3" cy="1466" r="5.6" fill="#fff" stroke="#3f5a86" stroke-width="2.8"/>
<circle cx="313.9" cy="1428.1" r="5.6" fill="#fff" stroke="#3f5a86" stroke-width="2.8"/>
<circle cx="385" cy="1418.8" r="5.6" fill="#fff" stroke="#3f5a86" stroke-width="2.8"/>
<circle cx="456.1" cy="1413.8" r="5.6" fill="#fff" stroke="#3f5a86" stroke-width="2.8"/>
<circle cx="527.3" cy="1411.2" r="5.6" fill="#fff" stroke="#3f5a86" stroke-width="2.8"/>
<circle cx="129" cy="1509" r="5.6" fill="#fff" stroke="#3f5a86" stroke-width="2.8"/>
<circle cx="181.2" cy="1485.4" r="5.6" fill="#fff" stroke="#3f5a86" stroke-width="2.8"/>
<circle cx="252.3" cy="1469.4" r="5.6" fill="#fff" stroke="#3f5a86" stroke-width="2.8"/>
<circle cx="313.9" cy="1435.7" r="5.6" fill="#fff" stroke="#3f5a86" stroke-width="2.8"/>
<circle cx="385" cy="1427.3" r="5.6" fill="#fff" stroke="#3f5a86" stroke-width="2.8"/>
<circle cx="456.1" cy="1422.2" r="5.6" fill="#fff" stroke="#3f5a86" stroke-width="2.8"/>
<circle cx="527.3" cy="1379.2" r="5.6" fill="#fff" stroke="#3f5a86" stroke-width="2.8"/>
<circle cx="129" cy="1511.5" r="5.6" fill="#fff" stroke="#3f5a86" stroke-width="2.8"/>
<circle cx="181.2" cy="1503.9" r="5.6" fill="#fff" stroke="#3f5a86" stroke-width="2.8"/>
<circle cx="252.3" cy="1498" r="5.6" fill="#fff" stroke="#3f5a86" stroke-width="2.8"/>
<circle cx="313.9" cy="1450.8" r="5.6" fill="#fff" stroke="#3f5a86" stroke-width="2.8"/>
<circle cx="385" cy="1448.3" r="5.6" fill="#fff" stroke="#3f5a86" stroke-width="2.8"/>
<circle cx="456.1" cy="1446.6" r="5.6" fill="#fff" stroke="#3f5a86" stroke-width="2.8"/>
<circle cx="527.3" cy="1448.3" r="5.6" fill="#fff" stroke="#3f5a86" stroke-width="2.8"/>
<circle cx="129" cy="1517.4" r="5.6" fill="#fff" stroke="#3f5a86" stroke-width="2.8"/>
<circle cx="181.2" cy="1521.6" r="5.6" fill="#fff" stroke="#3f5a86" stroke-width="2.8"/>
<circle cx="252.3" cy="1435.7" r="5.6" fill="#fff" stroke="#3f5a86" stroke-width="2.8"/>
<circle cx="313.9" cy="1438.2" r="5.6" fill="#fff" stroke="#3f5a86" stroke-width="2.8"/>
<circle cx="385" cy="1448.3" r="5.6" fill="#fff" stroke="#3f5a86" stroke-width="2.8"/>
<circle cx="456.1" cy="1446.6" r="5.6" fill="#fff" stroke="#3f5a86" stroke-width="2.8"/>
<circle cx="527.3" cy="1427.3" r="5.6" fill="#fff" stroke="#3f5a86" stroke-width="2.8"/>
<circle cx="129" cy="1532.6" r="5.6" fill="#fff" stroke="#3f5a86" stroke-width="2.8"/>
<circle cx="181.2" cy="1530.9" r="5.6" fill="#fff" stroke="#3f5a86" stroke-width="2.8"/>
<circle cx="252.3" cy="1504.8" r="5.6" fill="#fff" stroke="#3f5a86" stroke-width="2.8"/>
<circle cx="313.9" cy="1486.2" r="5.6" fill="#fff" stroke="#3f5a86" stroke-width="2.8"/>
<circle cx="385" cy="1473.6" r="5.6" fill="#fff" stroke="#3f5a86" stroke-width="2.8"/>
<circle cx="456.1" cy="1463.5" r="5.6" fill="#fff" stroke="#3f5a86" stroke-width="2.8"/>
<circle cx="527.3" cy="1464.3" r="5.6" fill="#fff" stroke="#3f5a86" stroke-width="2.8"/>
<circle cx="129" cy="1534.3" r="5.6" fill="#fff" stroke="#3f5a86" stroke-width="2.8"/>
<circle cx="181.2" cy="1521.6" r="5.6" fill="#fff" stroke="#3f5a86" stroke-width="2.8"/>
<circle cx="252.3" cy="1515.7" r="5.6" fill="#fff" stroke="#3f5a86" stroke-width="2.8"/>
<circle cx="313.9" cy="1498.9" r="5.6" fill="#fff" stroke="#3f5a86" stroke-width="2.8"/>
<circle cx="385" cy="1477.8" r="5.6" fill="#fff" stroke="#3f5a86" stroke-width="2.8"/>
<circle cx="456.1" cy="1475.3" r="5.6" fill="#fff" stroke="#3f5a86" stroke-width="2.8"/>
<circle cx="527.3" cy="1475.3" r="5.6" fill="#fff" stroke="#3f5a86" stroke-width="2.8"/>
<circle cx="129" cy="1536.8" r="5.6" fill="#fff" stroke="#3f5a86" stroke-width="2.8"/>
<circle cx="181.2" cy="1530.9" r="5.6" fill="#fff" stroke="#3f5a86" stroke-width="2.8"/>
<circle cx="252.3" cy="1519.9" r="5.6" fill="#fff" stroke="#3f5a86" stroke-width="2.8"/>
<circle cx="313.9" cy="1505.6" r="5.6" fill="#fff" stroke="#3f5a86" stroke-width="2.8"/>
<circle cx="385" cy="1490.4" r="5.6" fill="#fff" stroke="#3f5a86" stroke-width="2.8"/>
<circle cx="456.1" cy="1480.3" r="5.6" fill="#fff" stroke="#3f5a86" stroke-width="2.8"/>
<circle cx="527.3" cy="1477.8" r="5.6" fill="#fff" stroke="#3f5a86" stroke-width="2.8"/>
<circle cx="129" cy="1538.5" r="5.6" fill="#fff" stroke="#3f5a86" stroke-width="2.8"/>
<circle cx="181.2" cy="1534.3" r="5.6" fill="#fff" stroke="#3f5a86" stroke-width="2.8"/>
<circle cx="252.3" cy="1521.6" r="5.6" fill="#fff" stroke="#3f5a86" stroke-width="2.8"/>
<circle cx="313.9" cy="1505.6" r="5.6" fill="#fff" stroke="#3f5a86" stroke-width="2.8"/>
<circle cx="385" cy="1493.8" r="5.6" fill="#fff" stroke="#3f5a86" stroke-width="2.8"/>
<circle cx="456.1" cy="1487.1" r="5.6" fill="#fff" stroke="#3f5a86" stroke-width="2.8"/>
<circle cx="527.3" cy="1477.8" r="5.6" fill="#fff" stroke="#3f5a86" stroke-width="2.8"/>
<line x1="123.2" y1="773.6" x2="158.9" y2="773.6" stroke="#b3b3b3" stroke-width="2"/>
<circle cx="141.4" cy="773.6" r="5.8" fill="#fff" stroke="#1a355f" stroke-width="3"/>
<line x1="123.2" y1="809.8" x2="158.9" y2="809.8" stroke="#b3b3b3" stroke-width="2"/>
<circle cx="141.4" cy="809.8" r="5.8" fill="#fff" stroke="#c87d3e" stroke-width="3"/>
<text x="167" y="783" font-size="26">Ice I<tspan font-size="16" dy="8.5">c+h</tspan></text>
<text x="167" y="820" font-size="26">Ice I<tspan font-size="16" dy="8.5">c</tspan></text>
<rect x="738.8" y="748" width="455.4" height="364.6" fill="none" stroke="#000" stroke-width="2"/>
<line x1="727.8" y1="1092.6" x2="738.8" y2="1092.6" stroke="#000" stroke-width="2"/>
<text x="721" y="1100.5" font-size="22" text-anchor="end">-500</text>
<line x1="727.8" y1="977.8" x2="738.8" y2="977.8" stroke="#000" stroke-width="2"/>
<text x="721" y="985.7" font-size="22" text-anchor="end">0</text>
<line x1="727.8" y1="863" x2="738.8" y2="863" stroke="#000" stroke-width="2"/>
<text x="721" y="870.9" font-size="22" text-anchor="end">500</text>
<line x1="727.8" y1="748.2" x2="738.8" y2="748.2" stroke="#000" stroke-width="2"/>
<text x="721" y="756.1" font-size="22" text-anchor="end">1000</text>
<line x1="764.1" y1="1102.6" x2="764.1" y2="1112.6" stroke="#000" stroke-width="2"/>
<text x="764.1" y="1140" font-size="22" text-anchor="middle">0</text>
<line x1="865.3" y1="1102.6" x2="865.3" y2="1112.6" stroke="#000" stroke-width="2"/>
<text x="865.3" y="1140" font-size="22" text-anchor="middle">20</text>
<line x1="966.5" y1="1102.6" x2="966.5" y2="1112.6" stroke="#000" stroke-width="2"/>
<text x="966.5" y="1140" font-size="22" text-anchor="middle">40</text>
<line x1="1067.7" y1="1102.6" x2="1067.7" y2="1112.6" stroke="#000" stroke-width="2"/>
<text x="1067.7" y="1140" font-size="22" text-anchor="middle">60</text>
<line x1="1168.9" y1="1102.6" x2="1168.9" y2="1112.6" stroke="#000" stroke-width="2"/>
<text x="1168.9" y="1140" font-size="22" text-anchor="middle">80</text>
<text x="961.5" y="1174" font-size="28" text-anchor="middle">Time (s)</text>
<text x="671" y="927" font-size="27" text-anchor="middle" transform="rotate(-90 671 927)">Areal growth rate (nm<tspan font-size="16" dy="-10">2</tspan><tspan dy="10">/s)</tspan></text>
<text x="1123" y="782" font-size="24">Ice I<tspan font-size="16" dy="8">c</tspan></text>
<path d="M791.4,959.3L800.4,974.9L782.4,974.9Z" fill="none" stroke="#c87d3e" stroke-width="3" stroke-linejoin="miter"/>
<path d="M791.4,962.7L800.4,978.3L782.4,978.3Z" fill="none" stroke="#c87d3e" stroke-width="3" stroke-linejoin="miter"/>
<path d="M791.4,966.2L800.4,981.8L782.4,981.8Z" fill="none" stroke="#c87d3e" stroke-width="3" stroke-linejoin="miter"/>
<path d="M791.4,968.5L800.4,984.1L782.4,984.1Z" fill="none" stroke="#c87d3e" stroke-width="3" stroke-linejoin="miter"/>
<path d="M791.4,969.6L800.4,985.2L782.4,985.2Z" fill="none" stroke="#c87d3e" stroke-width="3" stroke-linejoin="miter"/>
<path d="M791.4,967.3L800.4,982.9L782.4,982.9Z" fill="none" stroke="#c87d3e" stroke-width="3" stroke-linejoin="miter"/>
<path d="M791.4,965L800.4,980.6L782.4,980.6Z" fill="none" stroke="#c87d3e" stroke-width="3" stroke-linejoin="miter"/>
<path d="M857.7,961.6L866.7,977.2L848.7,977.2Z" fill="none" stroke="#c87d3e" stroke-width="3" stroke-linejoin="miter"/>
<path d="M857.7,963.9L866.7,979.5L848.7,979.5Z" fill="none" stroke="#c87d3e" stroke-width="3" stroke-linejoin="miter"/>
<path d="M857.7,966.2L866.7,981.8L848.7,981.8Z" fill="none" stroke="#c87d3e" stroke-width="3" stroke-linejoin="miter"/>
<path d="M857.7,967.3L866.7,982.9L848.7,982.9Z" fill="none" stroke="#c87d3e" stroke-width="3" stroke-linejoin="miter"/>
<path d="M857.7,968.5L866.7,984.1L848.7,984.1Z" fill="none" stroke="#c87d3e" stroke-width="3" stroke-linejoin="miter"/>
<path d="M928,960.4L937,976L919,976Z" fill="none" stroke="#c87d3e" stroke-width="3" stroke-linejoin="miter"/>
<path d="M928,963.9L937,979.5L919,979.5Z" fill="none" stroke="#c87d3e" stroke-width="3" stroke-linejoin="miter"/>
<path d="M928,967.3L937,982.9L919,982.9Z" fill="none" stroke="#c87d3e" stroke-width="3" stroke-linejoin="miter"/>
<path d="M928,968.5L937,984.1L919,984.1Z" fill="none" stroke="#c87d3e" stroke-width="3" stroke-linejoin="miter"/>
<path d="M928,969.6L937,985.2L919,985.2Z" fill="none" stroke="#c87d3e" stroke-width="3" stroke-linejoin="miter"/>
<path d="M928,966.2L937,981.8L919,981.8Z" fill="none" stroke="#c87d3e" stroke-width="3" stroke-linejoin="miter"/>
<path d="M998.9,957L1007.9,972.6L989.9,972.6Z" fill="none" stroke="#c87d3e" stroke-width="3" stroke-linejoin="miter"/>
<path d="M998.9,960.4L1007.9,976L989.9,976Z" fill="none" stroke="#c87d3e" stroke-width="3" stroke-linejoin="miter"/>
<path d="M998.9,963.9L1007.9,979.5L989.9,979.5Z" fill="none" stroke="#c87d3e" stroke-width="3" stroke-linejoin="miter"/>
<path d="M998.9,967.3L1007.9,982.9L989.9,982.9Z" fill="none" stroke="#c87d3e" stroke-width="3" stroke-linejoin="miter"/>
<path d="M998.9,968.5L1007.9,984.1L989.9,984.1Z" fill="none" stroke="#c87d3e" stroke-width="3" stroke-linejoin="miter"/>
<path d="M998.9,966.2L1007.9,981.8L989.9,981.8Z" fill="none" stroke="#c87d3e" stroke-width="3" stroke-linejoin="miter"/>
<path d="M1075.3,958.1L1084.3,973.7L1066.3,973.7Z" fill="none" stroke="#c87d3e" stroke-width="3" stroke-linejoin="miter"/>
<path d="M1075.3,961.6L1084.3,977.2L1066.3,977.2Z" fill="none" stroke="#c87d3e" stroke-width="3" stroke-linejoin="miter"/>
<path d="M1075.3,965L1084.3,980.6L1066.3,980.6Z" fill="none" stroke="#c87d3e" stroke-width="3" stroke-linejoin="miter"/>
<path d="M1075.3,968.5L1084.3,984.1L1066.3,984.1Z" fill="none" stroke="#c87d3e" stroke-width="3" stroke-linejoin="miter"/>
<path d="M1075.3,971.9L1084.3,987.5L1066.3,987.5Z" fill="none" stroke="#c87d3e" stroke-width="3" stroke-linejoin="miter"/>
<path d="M1075.3,974.2L1084.3,989.8L1066.3,989.8Z" fill="none" stroke="#c87d3e" stroke-width="3" stroke-linejoin="miter"/>
<path d="M1075.3,976.5L1084.3,992.1L1066.3,992.1Z" fill="none" stroke="#c87d3e" stroke-width="3" stroke-linejoin="miter"/>
<path d="M1075.3,967.3L1084.3,982.9L1066.3,982.9Z" fill="none" stroke="#c87d3e" stroke-width="3" stroke-linejoin="miter"/>
<path d="M1151.7,961.6L1160.7,977.2L1142.7,977.2Z" fill="none" stroke="#c87d3e" stroke-width="3" stroke-linejoin="miter"/>
<path d="M1151.7,965L1160.7,980.6L1142.7,980.6Z" fill="none" stroke="#c87d3e" stroke-width="3" stroke-linejoin="miter"/>
<path d="M1151.7,968.5L1160.7,984.1L1142.7,984.1Z" fill="none" stroke="#c87d3e" stroke-width="3" stroke-linejoin="miter"/>
<path d="M1151.7,970.8L1160.7,986.4L1142.7,986.4Z" fill="none" stroke="#c87d3e" stroke-width="3" stroke-linejoin="miter"/>
<path d="M1151.7,973.1L1160.7,988.7L1142.7,988.7Z" fill="none" stroke="#c87d3e" stroke-width="3" stroke-linejoin="miter"/>
<path d="M1151.7,975.4L1160.7,990.9L1142.7,990.9Z" fill="none" stroke="#c87d3e" stroke-width="3" stroke-linejoin="miter"/>
<path d="M1151.7,977.7L1160.7,993.2L1142.7,993.2Z" fill="none" stroke="#c87d3e" stroke-width="3" stroke-linejoin="miter"/>
<rect x="737.3" y="1227.2" width="456.9" height="369.8" fill="none" stroke="#000" stroke-width="2"/>
<line x1="726.3" y1="1574.1" x2="737.3" y2="1574.1" stroke="#000" stroke-width="2"/>
<text x="720" y="1582" font-size="22" text-anchor="end">-500</text>
<line x1="726.3" y1="1458.6" x2="737.3" y2="1458.6" stroke="#000" stroke-width="2"/>
<text x="720" y="1466.5" font-size="22" text-anchor="end">0</text>
<line x1="726.3" y1="1343.1" x2="737.3" y2="1343.1" stroke="#000" stroke-width="2"/>
<text x="720" y="1351" font-size="22" text-anchor="end">500</text>
<line x1="726.3" y1="1227.5" x2="737.3" y2="1227.5" stroke="#000" stroke-width="2"/>
<text x="720" y="1235.4" font-size="22" text-anchor="end">1000</text>
<line x1="762.7" y1="1587" x2="762.7" y2="1597" stroke="#000" stroke-width="2"/>
<text x="762.7" y="1621" font-size="22" text-anchor="middle">0</text>
<line x1="864.2" y1="1587" x2="864.2" y2="1597" stroke="#000" stroke-width="2"/>
<text x="864.2" y="1621" font-size="22" text-anchor="middle">20</text>
<line x1="965.8" y1="1587" x2="965.8" y2="1597" stroke="#000" stroke-width="2"/>
<text x="965.8" y="1621" font-size="22" text-anchor="middle">40</text>
<line x1="1067.3" y1="1587" x2="1067.3" y2="1597" stroke="#000" stroke-width="2"/>
<text x="1067.3" y="1621" font-size="22" text-anchor="middle">60</text>
<line x1="1168.8" y1="1587" x2="1168.8" y2="1597" stroke="#000" stroke-width="2"/>
<text x="1168.8" y="1621" font-size="22" text-anchor="middle">80</text>
<text x="961.5" y="1655.5" font-size="28" text-anchor="middle">Time (s)</text>
<text x="671" y="1408" font-size="27" text-anchor="middle" transform="rotate(-90 671 1408)">Areal growth rate (nm<tspan font-size="16" dy="-10">2</tspan><tspan dy="10">/s)</tspan></text>
<text x="1105" y="1263.5" font-size="24">Ice I<tspan font-size="16" dy="8">c+h</tspan></text>
<path d="M790,1266.8L799,1282.3L781,1282.3Z" fill="none" stroke="#1c3a6b" stroke-width="2.8" stroke-linejoin="miter"/>
<path d="M790,1292.4L799,1308L781,1308Z" fill="none" stroke="#1c3a6b" stroke-width="2.8" stroke-linejoin="miter"/>
<path d="M790,1297.7L799,1313.3L781,1313.3Z" fill="none" stroke="#1c3a6b" stroke-width="2.8" stroke-linejoin="miter"/>
<path d="M790,1327.1L799,1342.6L781,1342.6Z" fill="none" stroke="#1c3a6b" stroke-width="2.8" stroke-linejoin="miter"/>
<path d="M790,1356.2L799,1371.8L781,1371.8Z" fill="none" stroke="#1c3a6b" stroke-width="2.8" stroke-linejoin="miter"/>
<path d="M790,1359.6L799,1375.2L781,1375.2Z" fill="none" stroke="#1c3a6b" stroke-width="2.8" stroke-linejoin="miter"/>
<path d="M790,1365.2L799,1380.8L781,1380.8Z" fill="none" stroke="#1c3a6b" stroke-width="2.8" stroke-linejoin="miter"/>
<path d="M790,1381.6L799,1397.2L781,1397.2Z" fill="none" stroke="#1c3a6b" stroke-width="2.8" stroke-linejoin="miter"/>
<path d="M790,1383.4L799,1399L781,1399Z" fill="none" stroke="#1c3a6b" stroke-width="2.8" stroke-linejoin="miter"/>
<path d="M790,1396.1L799,1411.7L781,1411.7Z" fill="none" stroke="#1c3a6b" stroke-width="2.8" stroke-linejoin="miter"/>
<path d="M790,1399.8L799,1415.4L781,1415.4Z" fill="none" stroke="#1c3a6b" stroke-width="2.8" stroke-linejoin="miter"/>
<path d="M790,1410.7L799,1426.3L781,1426.3Z" fill="none" stroke="#1c3a6b" stroke-width="2.8" stroke-linejoin="miter"/>
<path d="M790,1416.2L799,1431.8L781,1431.8Z" fill="none" stroke="#1c3a6b" stroke-width="2.8" stroke-linejoin="miter"/>
<path d="M790,1427.1L799,1442.7L781,1442.7Z" fill="none" stroke="#1c3a6b" stroke-width="2.8" stroke-linejoin="miter"/>
<path d="M790,1430.8L799,1446.4L781,1446.4Z" fill="none" stroke="#1c3a6b" stroke-width="2.8" stroke-linejoin="miter"/>
<path d="M790,1438.2L799,1453.8L781,1453.8Z" fill="none" stroke="#1c3a6b" stroke-width="2.8" stroke-linejoin="miter"/>
<path d="M790,1441.7L799,1457.2L781,1457.2Z" fill="none" stroke="#1c3a6b" stroke-width="2.8" stroke-linejoin="miter"/>
<path d="M790,1445.4L799,1460.9L781,1460.9Z" fill="none" stroke="#1c3a6b" stroke-width="2.8" stroke-linejoin="miter"/>
<path d="M790,1448.4L799,1463.9L781,1463.9Z" fill="none" stroke="#1c3a6b" stroke-width="2.8" stroke-linejoin="miter"/>
<path d="M856.1,1267.9L865.1,1283.5L847.1,1283.5Z" fill="none" stroke="#1c3a6b" stroke-width="2.8" stroke-linejoin="miter"/>
<path d="M856.1,1318.5L865.1,1334.1L847.1,1334.1Z" fill="none" stroke="#1c3a6b" stroke-width="2.8" stroke-linejoin="miter"/>
<path d="M856.1,1364L865.1,1379.6L847.1,1379.6Z" fill="none" stroke="#1c3a6b" stroke-width="2.8" stroke-linejoin="miter"/>
<path d="M856.1,1381.6L865.1,1397.2L847.1,1397.2Z" fill="none" stroke="#1c3a6b" stroke-width="2.8" stroke-linejoin="miter"/>
<path d="M856.1,1387.1L865.1,1402.7L847.1,1402.7Z" fill="none" stroke="#1c3a6b" stroke-width="2.8" stroke-linejoin="miter"/>
<path d="M856.1,1401.7L865.1,1417.3L847.1,1417.3Z" fill="none" stroke="#1c3a6b" stroke-width="2.8" stroke-linejoin="miter"/>
<path d="M856.1,1405.4L865.1,1421L847.1,1421Z" fill="none" stroke="#1c3a6b" stroke-width="2.8" stroke-linejoin="miter"/>
<path d="M856.1,1418.1L865.1,1433.7L847.1,1433.7Z" fill="none" stroke="#1c3a6b" stroke-width="2.8" stroke-linejoin="miter"/>
<path d="M856.1,1423.4L865.1,1439L847.1,1439Z" fill="none" stroke="#1c3a6b" stroke-width="2.8" stroke-linejoin="miter"/>
<path d="M856.1,1429L865.1,1444.5L847.1,1444.5Z" fill="none" stroke="#1c3a6b" stroke-width="2.8" stroke-linejoin="miter"/>
<path d="M856.1,1432.6L865.1,1448.2L847.1,1448.2Z" fill="none" stroke="#1c3a6b" stroke-width="2.8" stroke-linejoin="miter"/>
<path d="M856.1,1438.2L865.1,1453.8L847.1,1453.8Z" fill="none" stroke="#1c3a6b" stroke-width="2.8" stroke-linejoin="miter"/>
<path d="M856.1,1441.7L865.1,1457.2L847.1,1457.2Z" fill="none" stroke="#1c3a6b" stroke-width="2.8" stroke-linejoin="miter"/>
<path d="M856.1,1445.4L865.1,1460.9L847.1,1460.9Z" fill="none" stroke="#1c3a6b" stroke-width="2.8" stroke-linejoin="miter"/>
<path d="M856.1,1449.7L865.1,1465.3L847.1,1465.3Z" fill="none" stroke="#1c3a6b" stroke-width="2.8" stroke-linejoin="miter"/>
<path d="M856.1,1455.5L865.1,1471.1L847.1,1471.1Z" fill="none" stroke="#1c3a6b" stroke-width="2.8" stroke-linejoin="miter"/>
<path d="M926.9,1355L935.9,1370.6L917.9,1370.6Z" fill="none" stroke="#1c3a6b" stroke-width="2.8" stroke-linejoin="miter"/>
<path d="M926.9,1381.6L935.9,1397.2L917.9,1397.2Z" fill="none" stroke="#1c3a6b" stroke-width="2.8" stroke-linejoin="miter"/>
<path d="M926.9,1394.3L935.9,1409.9L917.9,1409.9Z" fill="none" stroke="#1c3a6b" stroke-width="2.8" stroke-linejoin="miter"/>
<path d="M926.9,1398L935.9,1413.6L917.9,1413.6Z" fill="none" stroke="#1c3a6b" stroke-width="2.8" stroke-linejoin="miter"/>
<path d="M926.9,1408.9L935.9,1424.4L917.9,1424.4Z" fill="none" stroke="#1c3a6b" stroke-width="2.8" stroke-linejoin="miter"/>
<path d="M926.9,1414.4L935.9,1430L917.9,1430Z" fill="none" stroke="#1c3a6b" stroke-width="2.8" stroke-linejoin="miter"/>
<path d="M926.9,1421.8L935.9,1437.4L917.9,1437.4Z" fill="none" stroke="#1c3a6b" stroke-width="2.8" stroke-linejoin="miter"/>
<path d="M926.9,1425.3L935.9,1440.8L917.9,1440.8Z" fill="none" stroke="#1c3a6b" stroke-width="2.8" stroke-linejoin="miter"/>
<path d="M926.9,1432.6L935.9,1448.2L917.9,1448.2Z" fill="none" stroke="#1c3a6b" stroke-width="2.8" stroke-linejoin="miter"/>
<path d="M926.9,1438.2L935.9,1453.8L917.9,1453.8Z" fill="none" stroke="#1c3a6b" stroke-width="2.8" stroke-linejoin="miter"/>
<path d="M926.9,1445.4L935.9,1460.9L917.9,1460.9Z" fill="none" stroke="#1c3a6b" stroke-width="2.8" stroke-linejoin="miter"/>
<path d="M926.9,1449.7L935.9,1465.3L917.9,1465.3Z" fill="none" stroke="#1c3a6b" stroke-width="2.8" stroke-linejoin="miter"/>
<path d="M926.9,1456.2L935.9,1471.8L917.9,1471.8Z" fill="none" stroke="#1c3a6b" stroke-width="2.8" stroke-linejoin="miter"/>
<path d="M926.9,1552.8L935.9,1568.4L917.9,1568.4Z" fill="none" stroke="#1c3a6b" stroke-width="2.8" stroke-linejoin="miter"/>
<path d="M998.5,1366.3L1007.5,1381.9L989.5,1381.9Z" fill="none" stroke="#1c3a6b" stroke-width="2.8" stroke-linejoin="miter"/>
<path d="M998.5,1387.1L1007.5,1402.7L989.5,1402.7Z" fill="none" stroke="#1c3a6b" stroke-width="2.8" stroke-linejoin="miter"/>
<path d="M998.5,1403.5L1007.5,1419.1L989.5,1419.1Z" fill="none" stroke="#1c3a6b" stroke-width="2.8" stroke-linejoin="miter"/>
<path d="M998.5,1416.2L1007.5,1431.8L989.5,1431.8Z" fill="none" stroke="#1c3a6b" stroke-width="2.8" stroke-linejoin="miter"/>
<path d="M998.5,1423.4L1007.5,1439L989.5,1439Z" fill="none" stroke="#1c3a6b" stroke-width="2.8" stroke-linejoin="miter"/>
<path d="M998.5,1429L1007.5,1444.5L989.5,1444.5Z" fill="none" stroke="#1c3a6b" stroke-width="2.8" stroke-linejoin="miter"/>
<path d="M998.5,1432.6L1007.5,1448.2L989.5,1448.2Z" fill="none" stroke="#1c3a6b" stroke-width="2.8" stroke-linejoin="miter"/>
<path d="M998.5,1438.2L1007.5,1453.8L989.5,1453.8Z" fill="none" stroke="#1c3a6b" stroke-width="2.8" stroke-linejoin="miter"/>
<path d="M998.5,1445.4L1007.5,1460.9L989.5,1460.9Z" fill="none" stroke="#1c3a6b" stroke-width="2.8" stroke-linejoin="miter"/>
<path d="M998.5,1449.7L1007.5,1465.3L989.5,1465.3Z" fill="none" stroke="#1c3a6b" stroke-width="2.8" stroke-linejoin="miter"/>
<path d="M998.5,1473.8L1007.5,1489.4L989.5,1489.4Z" fill="none" stroke="#1c3a6b" stroke-width="2.8" stroke-linejoin="miter"/>
<path d="M998.5,1484.6L1007.5,1500.2L989.5,1500.2Z" fill="none" stroke="#1c3a6b" stroke-width="2.8" stroke-linejoin="miter"/>
<path d="M1075.1,1313.2L1084.1,1328.8L1066.1,1328.8Z" fill="none" stroke="#1c3a6b" stroke-width="2.8" stroke-linejoin="miter"/>
<path d="M1075.1,1369.6L1084.1,1385.2L1066.1,1385.2Z" fill="none" stroke="#1c3a6b" stroke-width="2.8" stroke-linejoin="miter"/>
<path d="M1075.1,1385.3L1084.1,1400.9L1066.1,1400.9Z" fill="none" stroke="#1c3a6b" stroke-width="2.8" stroke-linejoin="miter"/>
<path d="M1075.1,1398L1084.1,1413.6L1066.1,1413.6Z" fill="none" stroke="#1c3a6b" stroke-width="2.8" stroke-linejoin="miter"/>
<path d="M1075.1,1403.5L1084.1,1419.1L1066.1,1419.1Z" fill="none" stroke="#1c3a6b" stroke-width="2.8" stroke-linejoin="miter"/>
<path d="M1075.1,1408.9L1084.1,1424.4L1066.1,1424.4Z" fill="none" stroke="#1c3a6b" stroke-width="2.8" stroke-linejoin="miter"/>
<path d="M1075.1,1412.5L1084.1,1428.1L1066.1,1428.1Z" fill="none" stroke="#1c3a6b" stroke-width="2.8" stroke-linejoin="miter"/>
<path d="M1075.1,1418.1L1084.1,1433.7L1066.1,1433.7Z" fill="none" stroke="#1c3a6b" stroke-width="2.8" stroke-linejoin="miter"/>
<path d="M1075.1,1423.4L1084.1,1439L1066.1,1439Z" fill="none" stroke="#1c3a6b" stroke-width="2.8" stroke-linejoin="miter"/>
<path d="M1075.1,1430.8L1084.1,1446.4L1066.1,1446.4Z" fill="none" stroke="#1c3a6b" stroke-width="2.8" stroke-linejoin="miter"/>
<path d="M1075.1,1434.5L1084.1,1450.1L1066.1,1450.1Z" fill="none" stroke="#1c3a6b" stroke-width="2.8" stroke-linejoin="miter"/>
<path d="M1075.1,1438.2L1084.1,1453.8L1066.1,1453.8Z" fill="none" stroke="#1c3a6b" stroke-width="2.8" stroke-linejoin="miter"/>
<path d="M1075.1,1441.7L1084.1,1457.2L1066.1,1457.2Z" fill="none" stroke="#1c3a6b" stroke-width="2.8" stroke-linejoin="miter"/>
<path d="M1075.1,1445.4L1084.1,1460.9L1066.1,1460.9Z" fill="none" stroke="#1c3a6b" stroke-width="2.8" stroke-linejoin="miter"/>
<path d="M1075.1,1449.7L1084.1,1465.3L1066.1,1465.3Z" fill="none" stroke="#1c3a6b" stroke-width="2.8" stroke-linejoin="miter"/>
<path d="M1075.1,1465.5L1084.1,1481L1066.1,1481Z" fill="none" stroke="#1c3a6b" stroke-width="2.8" stroke-linejoin="miter"/>
<path d="M1075.1,1481.9L1084.1,1497.5L1066.1,1497.5Z" fill="none" stroke="#1c3a6b" stroke-width="2.8" stroke-linejoin="miter"/>
<path d="M1075.1,1501.7L1084.1,1517.3L1066.1,1517.3Z" fill="none" stroke="#1c3a6b" stroke-width="2.8" stroke-linejoin="miter"/>
<path d="M1151,1361.5L1160,1377.1L1142,1377.1Z" fill="none" stroke="#1c3a6b" stroke-width="2.8" stroke-linejoin="miter"/>
<path d="M1151,1368.9L1160,1384.5L1142,1384.5Z" fill="none" stroke="#1c3a6b" stroke-width="2.8" stroke-linejoin="miter"/>
<path d="M1151,1381.6L1160,1397.2L1142,1397.2Z" fill="none" stroke="#1c3a6b" stroke-width="2.8" stroke-linejoin="miter"/>
<path d="M1151,1396.1L1160,1411.7L1142,1411.7Z" fill="none" stroke="#1c3a6b" stroke-width="2.8" stroke-linejoin="miter"/>
<path d="M1151,1401.7L1160,1417.3L1142,1417.3Z" fill="none" stroke="#1c3a6b" stroke-width="2.8" stroke-linejoin="miter"/>
<path d="M1151,1408.9L1160,1424.4L1142,1424.4Z" fill="none" stroke="#1c3a6b" stroke-width="2.8" stroke-linejoin="miter"/>
<path d="M1151,1416.2L1160,1431.8L1142,1431.8Z" fill="none" stroke="#1c3a6b" stroke-width="2.8" stroke-linejoin="miter"/>
<path d="M1151,1423.4L1160,1439L1142,1439Z" fill="none" stroke="#1c3a6b" stroke-width="2.8" stroke-linejoin="miter"/>
<path d="M1151,1429L1160,1444.5L1142,1444.5Z" fill="none" stroke="#1c3a6b" stroke-width="2.8" stroke-linejoin="miter"/>
<path d="M1151,1434.5L1160,1450.1L1142,1450.1Z" fill="none" stroke="#1c3a6b" stroke-width="2.8" stroke-linejoin="miter"/>
<path d="M1151,1439.8L1160,1455.4L1142,1455.4Z" fill="none" stroke="#1c3a6b" stroke-width="2.8" stroke-linejoin="miter"/>
<path d="M1151,1445.4L1160,1460.9L1142,1460.9Z" fill="none" stroke="#1c3a6b" stroke-width="2.8" stroke-linejoin="miter"/>
<path d="M1151,1452.8L1160,1468.3L1142,1468.3Z" fill="none" stroke="#1c3a6b" stroke-width="2.8" stroke-linejoin="miter"/>
<path d="M1151,1482.8L1160,1498.4L1142,1498.4Z" fill="none" stroke="#1c3a6b" stroke-width="2.8" stroke-linejoin="miter"/>
<path d="M1151,1521.8L1160,1537.4L1142,1537.4Z" fill="none" stroke="#1c3a6b" stroke-width="2.8" stroke-linejoin="miter"/>
<path d="M1151,1566.7L1160,1582.2L1142,1582.2Z" fill="none" stroke="#1c3a6b" stroke-width="2.8" stroke-linejoin="miter"/>
<rect x="1365.7" y="864.6" width="14.2" height="248.4" fill="#c87d3e"/>
<rect x="1382.8" y="921.6" width="14.2" height="191.4" fill="#c87d3e"/>
<rect x="1400" y="925.7" width="14.2" height="187.3" fill="#c87d3e"/>
<rect x="1417.1" y="990.8" width="14.2" height="122.2" fill="#c87d3e"/>
<rect x="1434.2" y="1039.7" width="14.2" height="73.3" fill="#c87d3e"/>
<rect x="1451.4" y="1051.9" width="14.2" height="61.1" fill="#c87d3e"/>
<rect x="1468.5" y="1047.8" width="14.2" height="65.2" fill="#c87d3e"/>
<rect x="1485.6" y="1068.2" width="14.2" height="44.8" fill="#c87d3e"/>
<rect x="1502.7" y="1088.6" width="14.2" height="24.4" fill="#c87d3e"/>
<rect x="1519.9" y="1092.6" width="14.2" height="20.4" fill="#c87d3e"/>
<rect x="1537" y="1108.9" width="14.2" height="4.1" fill="#c87d3e"/>
<rect x="1554.1" y="1100.8" width="14.2" height="12.2" fill="#c87d3e"/>
<rect x="1335.6" y="746.5" width="457.6" height="366.5" fill="none" stroke="#000" stroke-width="2"/>
<line x1="1324.6" y1="1113" x2="1335.6" y2="1113" stroke="#000" stroke-width="2"/>
<text x="1319" y="1120.9" font-size="22" text-anchor="end">0</text>
<line x1="1324.6" y1="1031.6" x2="1335.6" y2="1031.6" stroke="#000" stroke-width="2"/>
<text x="1319" y="1039.5" font-size="22" text-anchor="end">20</text>
<line x1="1324.6" y1="950.1" x2="1335.6" y2="950.1" stroke="#000" stroke-width="2"/>
<text x="1319" y="958" font-size="22" text-anchor="end">40</text>
<line x1="1324.6" y1="868.7" x2="1335.6" y2="868.7" stroke="#000" stroke-width="2"/>
<text x="1319" y="876.6" font-size="22" text-anchor="end">60</text>
<line x1="1324.6" y1="787.2" x2="1335.6" y2="787.2" stroke="#000" stroke-width="2"/>
<text x="1319" y="795.1" font-size="22" text-anchor="end">80</text>
<line x1="1364.2" y1="1104" x2="1364.2" y2="1113" stroke="#000" stroke-width="2"/>
<text x="1364.2" y="1141" font-size="22" text-anchor="middle">1.0</text>
<line x1="1507.2" y1="1104" x2="1507.2" y2="1113" stroke="#000" stroke-width="2"/>
<text x="1507.2" y="1141" font-size="22" text-anchor="middle">1.5</text>
<line x1="1650.2" y1="1104" x2="1650.2" y2="1113" stroke="#000" stroke-width="2"/>
<text x="1650.2" y="1141" font-size="22" text-anchor="middle">2.0</text>
<text x="1793.2" y="1141" font-size="22" text-anchor="middle">2.5</text>
<text x="1557" y="1174.5" font-size="28" text-anchor="middle">Aspect ratio</text>
<text x="1283" y="924" font-size="28" text-anchor="middle" transform="rotate(-90 1283 924)">Counts</text>
<text x="1726" y="782.5" font-size="24">Ice I<tspan font-size="16" dy="8">c</tspan></text>
<ellipse cx="1714" cy="887" rx="57.5" ry="33.8" fill="none" stroke="#000" stroke-width="2"/>
<line x1="1650.5" y1="855" x2="1650.5" y2="920" stroke="#000" stroke-width="2"/>
<polyline points="1645.3,861.5 1650.5,855 1655.7,861.5" fill="none" stroke="#000" stroke-width="2" stroke-linejoin="round"/>
<polyline points="1645.3,913.5 1650.5,920 1655.7,913.5" fill="none" stroke="#000" stroke-width="2" stroke-linejoin="round"/>
<line x1="1652.7" y1="927.8" x2="1766.7" y2="927.8" stroke="#000" stroke-width="2"/>
<polyline points="1659.2,922.6 1652.7,927.8 1659.2,933" fill="none" stroke="#000" stroke-width="2" stroke-linejoin="round"/>
<polyline points="1760.2,922.6 1766.7,927.8 1760.2,933" fill="none" stroke="#000" stroke-width="2" stroke-linejoin="round"/>
<text x="1640" y="886" font-size="22" text-anchor="middle" transform="rotate(-90 1640 886)">minor axis (<tspan font-family="'Liberation Serif', serif" font-style="italic">w</tspan>)</text>
<text x="1643" y="952.5" font-size="22">major axis (<tspan font-family="'Liberation Serif', serif" font-style="italic">l</tspan>)</text>
<text x="1666" y="1028" font-size="26">AR =</text>
<text x="1754" y="1011" font-size="26" font-family="'Liberation Serif', serif" font-style="italic" text-anchor="middle">l</text>
<line x1="1737" y1="1019.6" x2="1770.7" y2="1019.6" stroke="#000" stroke-width="1.2"/>
<text x="1754" y="1045" font-size="26" font-family="'Liberation Serif', serif" font-style="italic" text-anchor="middle">w</text>
<rect x="1365.7" y="1414.7" width="14.2" height="178.6" fill="#142f5a"/>
<rect x="1382.8" y="1414.7" width="14.2" height="178.6" fill="#142f5a"/>
<rect x="1400" y="1455.3" width="14.2" height="138" fill="#142f5a"/>
<rect x="1417.1" y="1520.2" width="14.2" height="73.1" fill="#142f5a"/>
<rect x="1434.2" y="1430.9" width="14.2" height="162.4" fill="#142f5a"/>
<rect x="1451.4" y="1333.5" width="14.2" height="259.8" fill="#142f5a"/>
<rect x="1468.5" y="1398.5" width="14.2" height="194.8" fill="#142f5a"/>
<rect x="1485.6" y="1487.8" width="14.2" height="105.5" fill="#142f5a"/>
<rect x="1502.7" y="1447.2" width="14.2" height="146.1" fill="#142f5a"/>
<rect x="1519.9" y="1520.2" width="14.2" height="73.1" fill="#142f5a"/>
<rect x="1537" y="1536.5" width="14.2" height="56.8" fill="#142f5a"/>
<rect x="1554.1" y="1504" width="14.2" height="89.3" fill="#142f5a"/>
<rect x="1571.3" y="1544.6" width="14.2" height="48.7" fill="#142f5a"/>
<rect x="1588.4" y="1512.1" width="14.2" height="81.2" fill="#142f5a"/>
<rect x="1605.5" y="1512.1" width="14.2" height="81.2" fill="#142f5a"/>
<rect x="1622.7" y="1552.7" width="14.2" height="40.6" fill="#142f5a"/>
<rect x="1639.8" y="1544.6" width="14.2" height="48.7" fill="#142f5a"/>
<rect x="1656.9" y="1552.7" width="14.2" height="40.6" fill="#142f5a"/>
<rect x="1674" y="1568.9" width="14.2" height="24.4" fill="#142f5a"/>
<rect x="1691.2" y="1585.2" width="14.2" height="8.1" fill="#142f5a"/>
<rect x="1725.4" y="1585.2" width="14.2" height="8.1" fill="#142f5a"/>
<rect x="1759.7" y="1585.2" width="14.2" height="8.1" fill="#142f5a"/>
<rect x="1335.6" y="1227.2" width="457.6" height="366.1" fill="none" stroke="#000" stroke-width="2"/>
<line x1="1324.6" y1="1593.3" x2="1335.6" y2="1593.3" stroke="#000" stroke-width="2"/>
<text x="1319" y="1601.2" font-size="22" text-anchor="end">0</text>
<line x1="1324.6" y1="1512.1" x2="1335.6" y2="1512.1" stroke="#000" stroke-width="2"/>
<text x="1319" y="1520" font-size="22" text-anchor="end">10</text>
<line x1="1324.6" y1="1430.9" x2="1335.6" y2="1430.9" stroke="#000" stroke-width="2"/>
<text x="1319" y="1438.8" font-size="22" text-anchor="end">20</text>
<line x1="1324.6" y1="1349.8" x2="1335.6" y2="1349.8" stroke="#000" stroke-width="2"/>
<text x="1319" y="1357.7" font-size="22" text-anchor="end">30</text>
<line x1="1324.6" y1="1268.6" x2="1335.6" y2="1268.6" stroke="#000" stroke-width="2"/>
<text x="1319" y="1276.5" font-size="22" text-anchor="end">40</text>
<line x1="1364.2" y1="1584.3" x2="1364.2" y2="1593.3" stroke="#000" stroke-width="2"/>
<text x="1364.2" y="1622" font-size="22" text-anchor="middle">1.0</text>
<line x1="1507.2" y1="1584.3" x2="1507.2" y2="1593.3" stroke="#000" stroke-width="2"/>
<text x="1507.2" y="1622" font-size="22" text-anchor="middle">1.5</text>
<line x1="1650.2" y1="1584.3" x2="1650.2" y2="1593.3" stroke="#000" stroke-width="2"/>
<text x="1650.2" y="1622" font-size="22" text-anchor="middle">2.0</text>
<text x="1793.2" y="1622" font-size="22" text-anchor="middle">2.5</text>
<text x="1557" y="1656" font-size="28" text-anchor="middle">Aspect ratio</text>
<text x="1283" y="1412" font-size="28" text-anchor="middle" transform="rotate(-90 1283 1412)">Counts</text>
<text x="1708" y="1263.5" font-size="24">Ice I<tspan font-size="16" dy="8">c+h</tspan></text>
<line x1="1371.5" y1="2026" x2="1382.5" y2="2026" stroke="#000" stroke-width="2"/>
<text x="1366" y="2034.6" font-size="24" text-anchor="end">0</text>
<line x1="1371.5" y1="1943.1" x2="1382.5" y2="1943.1" stroke="#000" stroke-width="2"/>
<text x="1366" y="1951.7" font-size="24" text-anchor="end">1</text>
<line x1="1371.5" y1="1860.2" x2="1382.5" y2="1860.2" stroke="#000" stroke-width="2"/>
<text x="1366" y="1868.8" font-size="24" text-anchor="end">2</text>
<line x1="1371.5" y1="1777.3" x2="1382.5" y2="1777.3" stroke="#000" stroke-width="2"/>
<text x="1366" y="1785.9" font-size="24" text-anchor="end">3</text>
<line x1="1371.5" y1="1694.4" x2="1382.5" y2="1694.4" stroke="#000" stroke-width="2"/>
<text x="1366" y="1703" font-size="24" text-anchor="end">4</text>
<line x1="1382.5" y1="2016" x2="1382.5" y2="2026" stroke="#000" stroke-width="2"/>
<text x="1382.5" y="2053" font-size="24" text-anchor="middle">0</text>
<line x1="1487.8" y1="2016" x2="1487.8" y2="2026" stroke="#000" stroke-width="2"/>
<text x="1487.8" y="2053" font-size="24" text-anchor="middle">50</text>
<line x1="1593.2" y1="2016" x2="1593.2" y2="2026" stroke="#000" stroke-width="2"/>
<text x="1593.2" y="2053" font-size="24" text-anchor="middle">100</text>
<line x1="1698.6" y1="2016" x2="1698.6" y2="2026" stroke="#000" stroke-width="2"/>
<text x="1698.6" y="2053" font-size="24" text-anchor="middle">150</text>
<text x="1803.9" y="2053" font-size="24" text-anchor="middle">200</text>
<text x="1341" y="1868" font-size="27" text-anchor="middle" transform="rotate(-90 1341 1868)">Position of ice surface (nm)</text>
<polyline points="1382.5,2026 1386.7,2025.6 1390.9,2021.5 1395.1,2020.2 1399.4,2020.2 1403.6,2017.7 1407.8,2019.5 1412,2020.5 1416.2,2020.1 1420.4,2020.7 1424.6,2019.3 1428.9,2014.9 1433.1,2014.6 1437.3,2011.9 1441.5,2012.7 1445.7,2009.6 1449.9,2009.2 1454.1,2011.3 1458.4,2009.4 1462.6,2010.1 1466.8,2013.5 1471,2011.8 1475.2,2008.5 1479.4,2005.5 1483.6,2005.7 1487.8,2004.6 1492.1,2003.4 1496.3,2004.2 1500.5,2003 1504.7,2001.8 1508.9,2001.1 1513.1,2001.5 1517.3,2001 1521.6,2000.6 1525.8,1999.3 1530,1999.3 1534.2,2001.2 1538.4,1999.5 1542.6,1998.8 1546.8,1994.2 1551.1,1991.4 1555.3,1987.6 1559.5,1986.8 1563.7,1988.1 1567.9,1986.3 1572.1,1983.8 1576.3,1983 1580.6,1981.4 1584.8,1982.3 1589,1980.1 1593.2,1979.8 1597.4,1980.6 1601.6,1979.1 1605.8,1977.6 1610.1,1977.3 1614.3,1977.9 1618.5,1976.1 1622.7,1976.5 1626.9,1974.3 1631.1,1971 1635.3,1970.7 1639.6,1971.4 1643.8,1970 1648,1969.3 1652.2,1969.2 1656.4,1970 1660.6,1967.8 1664.8,1965.6 1669.1,1962.7 1673.3,1961.6 1677.5,1960 1681.7,1957.2 1685.9,1956.3 1690.1,1953.7 1694.3,1949.1 1698.6,1945.6 1702.8,1945.3 1707,1944.3 1711.2,1943.4 1715.4,1940.6 1719.6,1937.4 1723.8,1936.4 1728,1935.5 1732.3,1932.8 1736.5,1933.2 1740.7,1930.6 1744.9,1928.8 1749.1,1929.7 1753.3,1929.8 1757.5,1930.1 1761.8,1928.9 1766,1926.2 1770.2,1928 1774.4,1924.1 1778.6,1922.6 1782.8,1921.1 1787,1919.4 1791.3,1917 1795.5,1915.9 1799.7,1913.6 1803.9,1911.8" fill="none" stroke="#c97d3e" stroke-width="2.9" stroke-linejoin="round" clip-path="url(#ck1)"/>
<polyline points="1382.5,2026 1386.7,2023.2 1390.9,2021.9 1395.1,2023.5 1399.4,2022.1 1403.6,2018.3 1407.8,2017.4 1412,2016.5 1416.2,2016.5 1420.4,2014.4 1424.6,2013.2 1428.9,2012.2 1433.1,2012.5 1437.3,2010.5 1441.5,2009.5 1445.7,2007.3 1449.9,2005.3 1454.1,2004.3 1458.4,2005 1462.6,2005 1466.8,2005.2 1471,2005.7 1475.2,2005.4 1479.4,2003.6 1483.6,2003.7 1487.8,2003.2 1492.1,2000.3 1496.3,2000.4 1500.5,1999.1 1504.7,1999 1508.9,1998.6 1513.1,1996.4 1517.3,1995.9 1521.6,1993.5 1525.8,1990.7 1530,1990.6 1534.2,1991.2 1538.4,1987.9 1542.6,1987.2 1546.8,1986.4 1551.1,1984.9 1555.3,1983.7 1559.5,1981.9 1563.7,1981.7 1567.9,1978 1572.1,1976.4 1576.3,1977.9 1580.6,1974.8 1584.8,1973.7 1589,1973.4 1593.2,1972 1597.4,1971.7 1601.6,1969.7 1605.8,1970.6 1610.1,1969 1614.3,1970.1 1618.5,1966.7 1622.7,1965 1626.9,1964.8 1631.1,1962.8 1635.3,1959.9 1639.6,1959.4 1643.8,1959.1 1648,1958.8 1652.2,1957.3 1656.4,1954.9 1660.6,1955.5 1664.8,1951.9 1669.1,1952.8 1673.3,1949.5 1677.5,1950.4 1681.7,1946.1 1685.9,1944.7 1690.1,1943.3 1694.3,1941.1 1698.6,1938.5 1702.8,1938.3 1707,1938.9 1711.2,1938.9 1715.4,1937.6 1719.6,1935.9 1723.8,1935.6 1728,1936.1 1732.3,1932.3 1736.5,1931.2 1740.7,1929.3 1744.9,1931.2 1749.1,1928.9 1753.3,1930.6 1757.5,1928.2 1761.8,1928.9 1766,1927.9 1770.2,1924.6 1774.4,1926 1778.6,1923.5 1782.8,1921.2 1787,1921.9 1791.3,1920.7 1795.5,1917.1 1799.7,1917.3 1803.9,1915" fill="none" stroke="#4f9b58" stroke-width="2.9" stroke-linejoin="round" clip-path="url(#ck1)"/>
<polyline points="1382.5,2026 1386.7,2025.2 1390.9,2022.5 1395.1,2021.5 1399.4,2019 1403.6,2020.3 1407.8,2023.5 1412,2023.4 1416.2,2018.7 1420.4,2018.7 1424.6,2016.9 1428.9,2013.1 1433.1,2013.5 1437.3,2011 1441.5,2010.8 1445.7,2009 1449.9,2009.8 1454.1,2007.3 1458.4,2005.7 1462.6,2006 1466.8,2004.5 1471,2003.9 1475.2,2005.1 1479.4,2001.9 1483.6,2001.7 1487.8,2001.8 1492.1,2001.5 1496.3,1997.6 1500.5,1997.7 1504.7,1995.8 1508.9,1994.1 1513.1,1993.3 1517.3,1991.3 1521.6,1991.7 1525.8,1989 1530,1988.9 1534.2,1986.1 1538.4,1985.1 1542.6,1986.5 1546.8,1985.3 1551.1,1983.8 1555.3,1980 1559.5,1980.5 1563.7,1978.5 1567.9,1978.2 1572.1,1976.2 1576.3,1975.3 1580.6,1974.1 1584.8,1972 1589,1970.7 1593.2,1968.3 1597.4,1967.5 1601.6,1965.2 1605.8,1964 1610.1,1962 1614.3,1961.6 1618.5,1962.5 1622.7,1959.3 1626.9,1958.1 1631.1,1957.5 1635.3,1957.8 1639.6,1954.8 1643.8,1954 1648,1949.5 1652.2,1947.8 1656.4,1946.3 1660.6,1945.7 1664.8,1941.8 1669.1,1940 1673.3,1941.6 1677.5,1938 1681.7,1937.6 1685.9,1936.8 1690.1,1934.7 1694.3,1931.4 1698.6,1929.4 1702.8,1931.8 1707,1929.6 1711.2,1931.2 1715.4,1928.6 1719.6,1929.6 1723.8,1925.6 1728,1923.1 1732.3,1922.5 1736.5,1918.7 1740.7,1918.9 1744.9,1918.3 1749.1,1915.2 1753.3,1915.8 1757.5,1913.9 1761.8,1911.9 1766,1908.9 1770.2,1908.1 1774.4,1906.2 1778.6,1901.1 1782.8,1900.6 1787,1898.3 1791.3,1898.3 1795.5,1899.9 1799.7,1899.5 1803.9,1899.1" fill="none" stroke="#17386b" stroke-width="2.9" stroke-linejoin="round" clip-path="url(#ck1)"/>
<clipPath id="ck1"><rect x="1382.5" y="1686.7" width="421.4" height="339.3"/></clipPath>
<rect x="1382.5" y="1686.7" width="421.4" height="339.3" fill="none" stroke="#000" stroke-width="2"/>
<text x="1399" y="1722.5" font-size="27" fill="#c97d3e">Ice I<tspan font-size="17" dy="9">c</tspan><tspan dy="-9"> {111}</tspan></text>
<text x="1399" y="1757" font-size="27" fill="#4f9b58">Ice I<tspan font-size="17" dy="9">h</tspan><tspan dy="-9"> (basal)</tspan></text>
<text x="1399" y="1793.5" font-size="27" fill="#17386b">Ice I<tspan font-size="17" dy="9">c+h</tspan><tspan dy="-9"> (basal)</tspan></text>
<line x1="1371.5" y1="2429.3" x2="1382.5" y2="2429.3" stroke="#000" stroke-width="2"/>
<text x="1366" y="2437.9" font-size="24" text-anchor="end">0</text>
<line x1="1371.5" y1="2346.3" x2="1382.5" y2="2346.3" stroke="#000" stroke-width="2"/>
<text x="1366" y="2354.9" font-size="24" text-anchor="end">1</text>
<line x1="1371.5" y1="2263.3" x2="1382.5" y2="2263.3" stroke="#000" stroke-width="2"/>
<text x="1366" y="2271.9" font-size="24" text-anchor="end">2</text>
<line x1="1371.5" y1="2180.3" x2="1382.5" y2="2180.3" stroke="#000" stroke-width="2"/>
<text x="1366" y="2188.9" font-size="24" text-anchor="end">3</text>
<line x1="1371.5" y1="2097.3" x2="1382.5" y2="2097.3" stroke="#000" stroke-width="2"/>
<text x="1366" y="2105.9" font-size="24" text-anchor="end">4</text>
<line x1="1382.5" y1="2419.3" x2="1382.5" y2="2429.3" stroke="#000" stroke-width="2"/>
<text x="1382.5" y="2456" font-size="24" text-anchor="middle">0</text>
<line x1="1487.8" y1="2419.3" x2="1487.8" y2="2429.3" stroke="#000" stroke-width="2"/>
<text x="1487.8" y="2456" font-size="24" text-anchor="middle">50</text>
<line x1="1593.2" y1="2419.3" x2="1593.2" y2="2429.3" stroke="#000" stroke-width="2"/>
<text x="1593.2" y="2456" font-size="24" text-anchor="middle">100</text>
<line x1="1698.6" y1="2419.3" x2="1698.6" y2="2429.3" stroke="#000" stroke-width="2"/>
<text x="1698.6" y="2456" font-size="24" text-anchor="middle">150</text>
<text x="1803.9" y="2456" font-size="24" text-anchor="middle">200</text>
<text x="1341" y="2272.5" font-size="27" text-anchor="middle" transform="rotate(-90 1341 2272.5)">Position of ice surface (nm)</text>
<text x="1588" y="2493" font-size="28" text-anchor="middle">Simulation time (ns)</text>
<clipPath id="ck2"><rect x="1382.5" y="2089.4" width="421.4" height="339.9"/></clipPath>
<polyline points="1382.5,2429.3 1386.7,2427 1390.9,2425.6 1395.1,2425.4 1399.4,2424.8 1403.6,2424.3 1407.8,2422.5 1412,2423.4 1416.2,2421.3 1420.4,2419.9 1424.6,2416 1428.9,2415.9 1433.1,2412.5 1437.3,2410.3 1441.5,2408 1445.7,2404.3 1449.9,2403.8 1454.1,2405.4 1458.4,2404.2 1462.6,2403.4 1466.8,2405.2 1471,2401.7 1475.2,2400.5 1479.4,2399.4 1483.6,2401.8 1487.8,2403.3 1492.1,2398.6 1496.3,2396.2 1500.5,2395.9 1504.7,2396.5 1508.9,2395.4 1513.1,2391.3 1517.3,2389.8 1521.6,2385.5 1525.8,2385 1530,2384.6 1534.2,2382.3 1538.4,2382.5 1542.6,2379.7 1546.8,2379 1551.1,2379.4 1555.3,2377.4 1559.5,2375.5 1563.7,2373.5 1567.9,2371.3 1572.1,2372.8 1576.3,2370 1580.6,2367.5 1584.8,2367.2 1589,2365.3 1593.2,2365.9 1597.4,2363 1601.6,2363.8 1605.8,2364.8 1610.1,2362.7 1614.3,2363.5 1618.5,2362.2 1622.7,2359.6 1626.9,2359.1 1631.1,2357.2 1635.3,2353.4 1639.6,2352.3 1643.8,2352.9 1648,2348.7 1652.2,2349.6 1656.4,2346.9 1660.6,2343.6 1664.8,2343.2 1669.1,2343 1673.3,2341.4 1677.5,2340 1681.7,2338.6 1685.9,2333.3 1690.1,2333.7 1694.3,2329.1 1698.6,2324.7 1702.8,2325.1 1707,2322.3 1711.2,2323.9 1715.4,2320.6 1719.6,2320.1 1723.8,2318.2 1728,2314.8 1732.3,2314.5 1736.5,2312.4 1740.7,2311.7 1744.9,2311.8 1749.1,2311.1 1753.3,2309.6 1757.5,2309.9 1761.8,2310.3 1766,2304.8 1770.2,2303.1 1774.4,2299.9 1778.6,2297.2 1782.8,2297.6 1787,2298.1 1791.3,2297.7 1795.5,2296.2 1799.7,2297 1803.9,2297.3" fill="none" stroke="#c97d3e" stroke-width="2.9" stroke-linejoin="round" clip-path="url(#ck2)"/>
<polyline points="1382.5,2429.3 1386.7,2426.4 1390.9,2423.5 1395.1,2420.8 1399.4,2417.9 1403.6,2416.1 1407.8,2413.3 1412,2414.1 1416.2,2410.5 1420.4,2406.7 1424.6,2405.6 1428.9,2405.1 1433.1,2408 1437.3,2405.2 1441.5,2402.3 1445.7,2397.6 1449.9,2392.9 1454.1,2390.1 1458.4,2386.6 1462.6,2385.4 1466.8,2382.3 1471,2379.4 1475.2,2378.1 1479.4,2373.5 1483.6,2374.1 1487.8,2370.8 1492.1,2370.8 1496.3,2369.5 1500.5,2364.2 1504.7,2363 1508.9,2359.7 1513.1,2357.1 1517.3,2357.5 1521.6,2357 1525.8,2349.7 1530,2346.2 1534.2,2344.7 1538.4,2345.3 1542.6,2342.3 1546.8,2343.2 1551.1,2342.3 1555.3,2342.5 1559.5,2344.5 1563.7,2342.3 1567.9,2338.9 1572.1,2335 1576.3,2330.3 1580.6,2324.5 1584.8,2320.6 1589,2321.6 1593.2,2318.3 1597.4,2320.4 1601.6,2321.5 1605.8,2318.7 1610.1,2316.5 1614.3,2313.7 1618.5,2309.8 1622.7,2305.8 1626.9,2303.8 1631.1,2295.7 1635.3,2293.9 1639.6,2288.2 1643.8,2284.6 1648,2286 1652.2,2284.1 1656.4,2286.1 1660.6,2281.5 1664.8,2279.4 1669.1,2276.4 1673.3,2274.3 1677.5,2270.1 1681.7,2266 1685.9,2257.5 1690.1,2253.6 1694.3,2253.5 1698.6,2255.5 1702.8,2252.2 1707,2248.3 1711.2,2245.4 1715.4,2247 1719.6,2244.2 1723.8,2243 1728,2241.8 1732.3,2243.3 1736.5,2238.6 1740.7,2239.7 1744.9,2236.3 1749.1,2232.7 1753.3,2229.7 1757.5,2230.3 1761.8,2227 1766,2228.9 1770.2,2230.4 1774.4,2228.2 1778.6,2223.7 1782.8,2219 1787,2210.5 1791.3,2202.4 1795.5,2197.1 1799.7,2195.6 1803.9,2191.7" fill="none" stroke="#4f9b58" stroke-width="2.9" stroke-linejoin="round" clip-path="url(#ck2)"/>
<polyline points="1382.5,2429.3 1386.7,2424 1390.9,2418.8 1395.1,2416.1 1399.4,2412.2 1403.6,2399.9 1407.8,2394.3 1412,2387.7 1416.2,2377.2 1420.4,2368.8 1424.6,2372.6 1428.9,2370.4 1433.1,2371 1437.3,2371.8 1441.5,2373.5 1445.7,2374.3 1449.9,2363.4 1454.1,2356.6 1458.4,2353.6 1462.6,2354.6 1466.8,2358.6 1471,2353.7 1475.2,2347.8 1479.4,2343.5 1483.6,2339.5 1487.8,2336.1 1492.1,2336.7 1496.3,2330.8 1500.5,2327.2 1504.7,2324.7 1508.9,2323 1513.1,2325.7 1517.3,2319.3 1521.6,2309.6 1525.8,2307.3 1530,2306.2 1534.2,2305.1 1538.4,2299.8 1542.6,2299.5 1546.8,2296.3 1551.1,2294.8 1555.3,2294.8 1559.5,2293.6 1563.7,2290.2 1567.9,2287.7 1572.1,2285.7 1576.3,2275.1 1580.6,2262.6 1584.8,2260.6 1589,2258.9 1593.2,2254.4 1597.4,2258.7 1601.6,2260.1 1605.8,2256.8 1610.1,2247.5 1614.3,2243 1618.5,2245.8 1622.7,2243.6 1626.9,2242.4 1631.1,2236.9 1635.3,2235.4 1639.6,2228.3 1643.8,2219.7 1648,2216.9 1652.2,2212.4 1656.4,2207.3 1660.6,2208.6 1664.8,2199.1 1669.1,2189.6 1673.3,2186.3 1677.5,2186.4 1681.7,2187.2 1685.9,2185.8 1690.1,2186 1694.3,2184.6 1698.6,2186.7 1702.8,2182.6 1707,2180.8 1711.2,2179.7 1715.4,2179.9 1719.6,2178 1723.8,2177.7 1728,2171.4 1732.3,2165.5 1736.5,2166.5 1740.7,2168.3 1744.9,2159 1749.1,2154 1753.3,2148.5 1757.5,2148.8 1761.8,2147 1766,2146.4 1770.2,2148.6 1774.4,2144.4 1778.6,2134.8 1782.8,2131.3 1787,2121.9 1791.3,2115.9 1795.5,2114.8 1799.7,2111.3 1803.9,2112.9" fill="none" stroke="#17386b" stroke-width="2.9" stroke-linejoin="round" clip-path="url(#ck2)"/>
<rect x="1382.5" y="2089.4" width="421.4" height="339.9" fill="none" stroke="#000" stroke-width="2"/>
<text x="1402.5" y="2124.5" font-size="27" fill="#c97d3e">Ice I<tspan font-size="17" dy="9">c</tspan><tspan dy="-9"> {112}</tspan></text>
<text x="1402.5" y="2160" font-size="27" fill="#4f9b58">Ice I<tspan font-size="17" dy="9">h</tspan><tspan dy="-9"> (s. prismatic)</tspan></text>
<text x="1402.5" y="2194.5" font-size="27" fill="#17386b">Ice I<tspan font-size="17" dy="9">c+h</tspan><tspan dy="-9"> (s. prismatic)</tspan></text>
</svg>
</body></html>
